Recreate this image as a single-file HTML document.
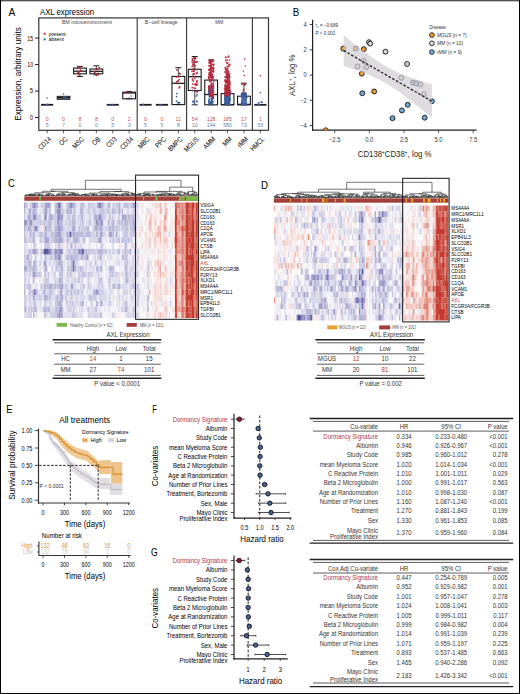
<!DOCTYPE html>
<html><head><meta charset="utf-8"><style>
html,body{margin:0;padding:0;background:#fff;}
body{width:520px;height:694px;overflow:hidden;position:relative;}
svg{position:absolute;left:0;top:0;display:block;}
svg text{font-family:"Liberation Sans", sans-serif;}
</style></head><body>
<svg width="520" height="694" viewBox="0 0 520 694">
<rect x="0" y="0" width="520" height="694" fill="#fff"/>
<rect x="0.00" y="0.00" width="520.00" height="1.00" fill="#505050"/>
<rect x="0.00" y="1.00" width="520.00" height="1.00" fill="#c4c4c4"/>
<rect x="0.00" y="0.00" width="1.00" height="694.00" fill="#000"/>
<rect x="519.00" y="0.00" width="1.00" height="694.00" fill="#000"/>
<rect x="0.00" y="693.00" width="520.00" height="1.00" fill="#000"/>
<text x="8.40" y="16.10" font-size="10.4" textLength="6.8" lengthAdjust="spacingAndGlyphs">A</text>
<text x="40.00" y="15.20" font-size="9" textLength="54" lengthAdjust="spacingAndGlyphs">AXL expression</text>
<text x="21.10" y="74.00" font-size="8.9" text-anchor="middle" textLength="93.5" lengthAdjust="spacingAndGlyphs" transform="rotate(-90 21.10 74.00)">Expression, arbitrary units</text>
<rect x="38.80" y="17.90" width="229.70" height="112.40" fill="none" stroke="#333" stroke-width="1.2"/>
<line x1="137.20" y1="17.90" x2="137.20" y2="130.30" stroke="#333" stroke-width="1.1"/>
<line x1="186.60" y1="17.90" x2="186.60" y2="130.30" stroke="#333" stroke-width="1.1"/>
<line x1="252.40" y1="17.90" x2="252.40" y2="130.30" stroke="#333" stroke-width="1.1"/>
<line x1="35.00" y1="38.10" x2="38.80" y2="38.10" stroke="#231f20" stroke-width="1.0"/>
<text x="33.10" y="40.55" font-size="6.8" text-anchor="end" textLength="5.8" lengthAdjust="spacingAndGlyphs">15</text>
<line x1="35.00" y1="64.57" x2="38.80" y2="64.57" stroke="#231f20" stroke-width="1.0"/>
<text x="33.10" y="67.01" font-size="6.8" text-anchor="end" textLength="5.8" lengthAdjust="spacingAndGlyphs">10</text>
<line x1="35.00" y1="91.03" x2="38.80" y2="91.03" stroke="#231f20" stroke-width="1.0"/>
<text x="33.10" y="93.48" font-size="6.8" text-anchor="end" textLength="3.0" lengthAdjust="spacingAndGlyphs">5</text>
<line x1="35.00" y1="117.50" x2="38.80" y2="117.50" stroke="#231f20" stroke-width="1.0"/>
<text x="33.10" y="119.95" font-size="6.8" text-anchor="end" textLength="3.0" lengthAdjust="spacingAndGlyphs">0</text>
<text x="87.00" y="24.42" font-size="5.6" text-anchor="middle" fill="#444" textLength="50" lengthAdjust="spacingAndGlyphs">BM microenvironment</text>
<text x="161.30" y="24.42" font-size="5.6" text-anchor="middle" fill="#444" textLength="33" lengthAdjust="spacingAndGlyphs">B−cell lineage</text>
<text x="219.30" y="24.42" font-size="5.6" text-anchor="middle" fill="#444" textLength="8" lengthAdjust="spacingAndGlyphs">MM</text>
<circle cx="44.60" cy="33.80" r="1.1" fill="#b8283c"/>
<text x="48.80" y="35.82" font-size="5.6" textLength="17" lengthAdjust="spacingAndGlyphs">present</text>
<circle cx="44.60" cy="39.40" r="1.1" fill="#3b5d9c"/>
<text x="48.80" y="41.42" font-size="5.6" textLength="15" lengthAdjust="spacingAndGlyphs">absent</text>
<rect x="41.05" y="103.90" width="12.20" height="1.80" fill="#231f20"/>
<circle cx="46.25" cy="104.52" r="0.85" fill="#3b5d9c"/>
<circle cx="47.92" cy="104.46" r="0.85" fill="#3b5d9c"/>
<rect x="106.65" y="103.90" width="12.20" height="1.80" fill="#231f20"/>
<circle cx="112.93" cy="104.69" r="0.85" fill="#3b5d9c"/>
<circle cx="110.50" cy="104.81" r="0.85" fill="#3b5d9c"/>
<rect x="139.45" y="103.90" width="12.20" height="1.80" fill="#231f20"/>
<circle cx="143.19" cy="104.75" r="0.85" fill="#3b5d9c"/>
<circle cx="143.36" cy="104.47" r="0.85" fill="#3b5d9c"/>
<rect x="155.85" y="103.90" width="12.20" height="1.80" fill="#231f20"/>
<circle cx="161.57" cy="105.06" r="0.85" fill="#3b5d9c"/>
<circle cx="160.03" cy="104.58" r="0.85" fill="#3b5d9c"/>
<circle cx="47.15" cy="98.00" r="0.8" fill="#3b5d9c"/>
<rect x="57.15" y="96.30" width="12.80" height="3.00" fill="#6a6a6a" stroke="#1a1a1a" stroke-width="0.9"/>
<line x1="57.15" y1="97.60" x2="69.95" y2="97.60" stroke="#231f20" stroke-width="1.1"/>
<circle cx="63.55" cy="94.00" r="0.8" fill="#3b5d9c"/>
<circle cx="64.20" cy="98.87" r="0.85" fill="#3b5d9c"/>
<circle cx="63.94" cy="97.49" r="0.85" fill="#3b5d9c"/>
<circle cx="65.98" cy="96.62" r="0.85" fill="#3b5d9c"/>
<circle cx="65.38" cy="97.22" r="0.85" fill="#3b5d9c"/>
<line x1="79.95" y1="76.50" x2="79.95" y2="73.80" stroke="#231f20" stroke-width="0.8"/>
<line x1="79.95" y1="68.10" x2="79.95" y2="66.40" stroke="#231f20" stroke-width="0.8"/>
<line x1="76.95" y1="66.40" x2="82.95" y2="66.40" stroke="#231f20" stroke-width="1.0"/>
<line x1="76.95" y1="76.50" x2="82.95" y2="76.50" stroke="#231f20" stroke-width="1.0"/>
<rect x="73.55" y="68.10" width="12.80" height="5.70" fill="none" stroke="#1a1a1a" stroke-width="1.1"/>
<line x1="73.55" y1="71.20" x2="86.35" y2="71.20" stroke="#231f20" stroke-width="1.3"/>
<circle cx="77.83" cy="67.68" r="0.9" fill="#b8283c"/>
<circle cx="78.81" cy="74.66" r="0.9" fill="#b8283c"/>
<circle cx="78.05" cy="72.32" r="0.9" fill="#b8283c"/>
<circle cx="80.78" cy="70.22" r="0.9" fill="#b8283c"/>
<circle cx="80.23" cy="67.13" r="0.9" fill="#b8283c"/>
<circle cx="77.33" cy="68.56" r="0.9" fill="#b8283c"/>
<circle cx="81.02" cy="70.78" r="0.9" fill="#b8283c"/>
<circle cx="78.84" cy="72.36" r="0.9" fill="#b8283c"/>
<line x1="96.35" y1="74.80" x2="96.35" y2="73.80" stroke="#231f20" stroke-width="0.8"/>
<line x1="96.35" y1="69.00" x2="96.35" y2="65.80" stroke="#231f20" stroke-width="0.8"/>
<line x1="93.35" y1="65.80" x2="99.35" y2="65.80" stroke="#231f20" stroke-width="1.0"/>
<line x1="93.35" y1="74.80" x2="99.35" y2="74.80" stroke="#231f20" stroke-width="1.0"/>
<rect x="89.95" y="69.00" width="12.80" height="4.80" fill="none" stroke="#1a1a1a" stroke-width="1.1"/>
<line x1="89.95" y1="71.40" x2="102.75" y2="71.40" stroke="#231f20" stroke-width="1.3"/>
<circle cx="96.07" cy="69.50" r="0.9" fill="#b8283c"/>
<circle cx="98.10" cy="73.49" r="0.9" fill="#b8283c"/>
<circle cx="94.83" cy="72.24" r="0.9" fill="#b8283c"/>
<circle cx="96.50" cy="75.25" r="0.9" fill="#b8283c"/>
<circle cx="97.72" cy="69.38" r="0.9" fill="#b8283c"/>
<circle cx="99.21" cy="67.68" r="0.9" fill="#b8283c"/>
<circle cx="95.86" cy="74.07" r="0.9" fill="#b8283c"/>
<circle cx="94.28" cy="71.39" r="0.9" fill="#b8283c"/>
<line x1="129.15" y1="98.80" x2="129.15" y2="98.80" stroke="#231f20" stroke-width="0.8"/>
<line x1="129.15" y1="92.20" x2="129.15" y2="91.60" stroke="#231f20" stroke-width="0.8"/>
<line x1="126.15" y1="91.60" x2="132.15" y2="91.60" stroke="#231f20" stroke-width="1.0"/>
<line x1="126.15" y1="98.80" x2="132.15" y2="98.80" stroke="#231f20" stroke-width="1.0"/>
<rect x="122.75" y="92.20" width="12.80" height="6.60" fill="none" stroke="#1a1a1a" stroke-width="1.1"/>
<line x1="122.75" y1="93.00" x2="135.55" y2="93.00" stroke="#231f20" stroke-width="1.3"/>
<circle cx="126.80" cy="92.60" r="0.85" fill="#b8283c"/>
<circle cx="130.50" cy="92.49" r="0.85" fill="#b8283c"/>
<circle cx="129.15" cy="98.00" r="0.8" fill="#3b5d9c"/>
<circle cx="131.15" cy="96.00" r="0.8" fill="#3b5d9c"/>
<line x1="178.35" y1="104.60" x2="178.35" y2="104.60" stroke="#231f20" stroke-width="0.8"/>
<line x1="178.35" y1="76.40" x2="178.35" y2="67.70" stroke="#231f20" stroke-width="0.8"/>
<line x1="175.35" y1="67.70" x2="181.35" y2="67.70" stroke="#231f20" stroke-width="1.0"/>
<line x1="175.35" y1="104.60" x2="181.35" y2="104.60" stroke="#231f20" stroke-width="1.0"/>
<rect x="171.95" y="76.40" width="12.80" height="28.20" fill="none" stroke="#1a1a1a" stroke-width="1.1"/>
<line x1="171.95" y1="83.30" x2="184.75" y2="83.30" stroke="#231f20" stroke-width="1.3"/>
<circle cx="179.95" cy="73.93" r="0.85" fill="#b8283c"/>
<circle cx="179.18" cy="79.68" r="0.85" fill="#b8283c"/>
<circle cx="178.69" cy="76.85" r="0.85" fill="#b8283c"/>
<circle cx="179.79" cy="86.87" r="0.85" fill="#b8283c"/>
<circle cx="178.24" cy="81.12" r="0.85" fill="#b8283c"/>
<circle cx="176.48" cy="81.88" r="0.85" fill="#b8283c"/>
<circle cx="178.98" cy="87.86" r="0.85" fill="#b8283c"/>
<circle cx="179.72" cy="73.33" r="0.85" fill="#b8283c"/>
<circle cx="177.86" cy="81.21" r="0.85" fill="#b8283c"/>
<circle cx="176.32" cy="76.96" r="0.85" fill="#b8283c"/>
<circle cx="176.94" cy="69.90" r="0.85" fill="#b8283c"/>
<circle cx="176.48" cy="101.22" r="0.85" fill="#3b5d9c"/>
<circle cx="176.77" cy="93.62" r="0.85" fill="#3b5d9c"/>
<circle cx="177.89" cy="102.72" r="0.85" fill="#3b5d9c"/>
<circle cx="176.57" cy="96.56" r="0.85" fill="#3b5d9c"/>
<circle cx="178.56" cy="102.90" r="0.85" fill="#3b5d9c"/>
<circle cx="179.71" cy="102.61" r="0.85" fill="#3b5d9c"/>
<line x1="194.75" y1="104.80" x2="194.75" y2="90.50" stroke="#231f20" stroke-width="0.8"/>
<line x1="194.75" y1="69.30" x2="194.75" y2="56.50" stroke="#231f20" stroke-width="0.8"/>
<line x1="191.75" y1="56.50" x2="197.75" y2="56.50" stroke="#231f20" stroke-width="1.0"/>
<line x1="191.75" y1="104.80" x2="197.75" y2="104.80" stroke="#231f20" stroke-width="1.0"/>
<rect x="188.35" y="69.30" width="12.80" height="21.20" fill="none" stroke="#1a1a1a" stroke-width="1.1"/>
<line x1="188.35" y1="76.70" x2="201.15" y2="76.70" stroke="#231f20" stroke-width="1.3"/>
<circle cx="193.54" cy="71.24" r="0.85" fill="#b8283c"/>
<circle cx="193.98" cy="87.89" r="0.85" fill="#b8283c"/>
<circle cx="197.24" cy="61.86" r="0.85" fill="#b8283c"/>
<circle cx="192.99" cy="64.73" r="0.85" fill="#b8283c"/>
<circle cx="193.30" cy="73.72" r="0.85" fill="#b8283c"/>
<circle cx="195.23" cy="65.83" r="0.85" fill="#b8283c"/>
<circle cx="192.05" cy="71.37" r="0.85" fill="#b8283c"/>
<circle cx="194.04" cy="76.61" r="0.85" fill="#b8283c"/>
<circle cx="197.21" cy="81.01" r="0.85" fill="#b8283c"/>
<circle cx="194.83" cy="78.42" r="0.85" fill="#b8283c"/>
<circle cx="195.71" cy="58.42" r="0.85" fill="#b8283c"/>
<circle cx="196.92" cy="84.19" r="0.85" fill="#b8283c"/>
<circle cx="196.79" cy="84.82" r="0.85" fill="#b8283c"/>
<circle cx="194.16" cy="70.66" r="0.85" fill="#b8283c"/>
<circle cx="192.59" cy="79.02" r="0.85" fill="#b8283c"/>
<circle cx="192.37" cy="58.89" r="0.85" fill="#b8283c"/>
<circle cx="193.17" cy="62.26" r="0.85" fill="#b8283c"/>
<circle cx="193.88" cy="58.37" r="0.85" fill="#b8283c"/>
<circle cx="192.03" cy="61.87" r="0.85" fill="#b8283c"/>
<circle cx="192.58" cy="69.41" r="0.85" fill="#b8283c"/>
<circle cx="192.17" cy="87.54" r="0.85" fill="#b8283c"/>
<circle cx="195.37" cy="61.77" r="0.85" fill="#b8283c"/>
<circle cx="193.40" cy="68.83" r="0.85" fill="#b8283c"/>
<circle cx="194.01" cy="60.86" r="0.85" fill="#b8283c"/>
<circle cx="196.65" cy="91.76" r="0.85" fill="#b8283c"/>
<circle cx="194.56" cy="73.68" r="0.85" fill="#b8283c"/>
<circle cx="192.50" cy="60.13" r="0.85" fill="#b8283c"/>
<circle cx="193.89" cy="65.90" r="0.85" fill="#b8283c"/>
<circle cx="196.54" cy="62.23" r="0.85" fill="#b8283c"/>
<circle cx="192.16" cy="90.26" r="0.85" fill="#b8283c"/>
<circle cx="194.90" cy="61.70" r="0.85" fill="#b8283c"/>
<circle cx="194.98" cy="57.46" r="0.85" fill="#b8283c"/>
<circle cx="194.90" cy="91.24" r="0.85" fill="#b8283c"/>
<circle cx="196.73" cy="81.21" r="0.85" fill="#b8283c"/>
<circle cx="193.45" cy="69.52" r="0.85" fill="#b8283c"/>
<circle cx="192.94" cy="83.90" r="0.85" fill="#b8283c"/>
<circle cx="194.93" cy="84.16" r="0.85" fill="#b8283c"/>
<circle cx="193.82" cy="64.42" r="0.85" fill="#b8283c"/>
<circle cx="196.44" cy="91.46" r="0.85" fill="#b8283c"/>
<circle cx="196.67" cy="85.12" r="0.85" fill="#b8283c"/>
<circle cx="196.48" cy="82.77" r="0.85" fill="#b8283c"/>
<circle cx="193.26" cy="74.88" r="0.85" fill="#b8283c"/>
<circle cx="193.96" cy="57.53" r="0.85" fill="#b8283c"/>
<circle cx="192.18" cy="66.42" r="0.85" fill="#b8283c"/>
<circle cx="193.44" cy="81.08" r="0.85" fill="#b8283c"/>
<circle cx="197.23" cy="72.38" r="0.85" fill="#b8283c"/>
<circle cx="197.13" cy="91.58" r="0.85" fill="#b8283c"/>
<circle cx="197.23" cy="69.44" r="0.85" fill="#b8283c"/>
<circle cx="193.23" cy="64.55" r="0.85" fill="#b8283c"/>
<circle cx="193.10" cy="63.76" r="0.85" fill="#b8283c"/>
<circle cx="195.42" cy="88.46" r="0.85" fill="#b8283c"/>
<circle cx="196.60" cy="73.52" r="0.85" fill="#b8283c"/>
<circle cx="195.58" cy="84.89" r="0.85" fill="#b8283c"/>
<circle cx="192.49" cy="79.95" r="0.85" fill="#b8283c"/>
<circle cx="196.84" cy="101.14" r="0.85" fill="#3b5d9c"/>
<circle cx="196.03" cy="96.03" r="0.85" fill="#3b5d9c"/>
<circle cx="193.11" cy="101.26" r="0.85" fill="#3b5d9c"/>
<circle cx="193.90" cy="101.45" r="0.85" fill="#3b5d9c"/>
<circle cx="197.16" cy="94.65" r="0.85" fill="#3b5d9c"/>
<circle cx="194.25" cy="103.91" r="0.85" fill="#3b5d9c"/>
<circle cx="195.90" cy="90.86" r="0.85" fill="#3b5d9c"/>
<circle cx="192.85" cy="90.54" r="0.85" fill="#3b5d9c"/>
<circle cx="196.81" cy="101.55" r="0.85" fill="#3b5d9c"/>
<circle cx="192.95" cy="101.89" r="0.85" fill="#3b5d9c"/>
<line x1="211.15" y1="104.80" x2="211.15" y2="104.80" stroke="#231f20" stroke-width="0.8"/>
<line x1="211.15" y1="80.10" x2="211.15" y2="59.90" stroke="#231f20" stroke-width="0.8"/>
<line x1="208.15" y1="59.90" x2="214.15" y2="59.90" stroke="#231f20" stroke-width="1.0"/>
<line x1="208.15" y1="104.80" x2="214.15" y2="104.80" stroke="#231f20" stroke-width="1.0"/>
<rect x="204.75" y="80.10" width="12.80" height="24.70" fill="none" stroke="#1a1a1a" stroke-width="1.1"/>
<line x1="204.75" y1="94.50" x2="217.55" y2="94.50" stroke="#231f20" stroke-width="1.3"/>
<circle cx="213.60" cy="98.36" r="0.7" fill="#3b5d9c"/>
<circle cx="210.39" cy="96.31" r="0.7" fill="#3b5d9c"/>
<circle cx="209.27" cy="86.27" r="0.7" fill="#3b5d9c"/>
<circle cx="213.55" cy="98.21" r="0.7" fill="#3b5d9c"/>
<circle cx="211.29" cy="103.55" r="0.7" fill="#3b5d9c"/>
<circle cx="210.81" cy="102.39" r="0.7" fill="#3b5d9c"/>
<circle cx="212.81" cy="89.97" r="0.7" fill="#3b5d9c"/>
<circle cx="209.88" cy="91.51" r="0.7" fill="#3b5d9c"/>
<circle cx="209.83" cy="97.03" r="0.7" fill="#3b5d9c"/>
<circle cx="209.92" cy="93.88" r="0.7" fill="#3b5d9c"/>
<circle cx="209.27" cy="103.11" r="0.7" fill="#3b5d9c"/>
<circle cx="210.40" cy="94.61" r="0.7" fill="#3b5d9c"/>
<circle cx="211.58" cy="103.00" r="0.7" fill="#3b5d9c"/>
<circle cx="210.75" cy="103.25" r="0.7" fill="#3b5d9c"/>
<circle cx="211.16" cy="96.00" r="0.7" fill="#3b5d9c"/>
<circle cx="211.27" cy="86.35" r="0.7" fill="#3b5d9c"/>
<circle cx="210.84" cy="89.44" r="0.7" fill="#3b5d9c"/>
<circle cx="208.62" cy="101.02" r="0.7" fill="#3b5d9c"/>
<circle cx="209.48" cy="94.90" r="0.7" fill="#3b5d9c"/>
<circle cx="212.30" cy="96.46" r="0.7" fill="#3b5d9c"/>
<circle cx="210.26" cy="95.74" r="0.7" fill="#3b5d9c"/>
<circle cx="211.43" cy="100.74" r="0.7" fill="#3b5d9c"/>
<circle cx="209.14" cy="96.53" r="0.7" fill="#3b5d9c"/>
<circle cx="209.87" cy="91.21" r="0.7" fill="#3b5d9c"/>
<circle cx="212.54" cy="95.55" r="0.7" fill="#3b5d9c"/>
<circle cx="211.46" cy="100.29" r="0.7" fill="#3b5d9c"/>
<circle cx="213.25" cy="94.33" r="0.7" fill="#3b5d9c"/>
<circle cx="211.72" cy="95.50" r="0.7" fill="#3b5d9c"/>
<circle cx="211.21" cy="99.02" r="0.7" fill="#3b5d9c"/>
<circle cx="210.91" cy="96.03" r="0.7" fill="#3b5d9c"/>
<circle cx="211.04" cy="103.70" r="0.7" fill="#3b5d9c"/>
<circle cx="212.17" cy="102.48" r="0.7" fill="#3b5d9c"/>
<circle cx="213.41" cy="90.88" r="0.7" fill="#3b5d9c"/>
<circle cx="211.45" cy="103.73" r="0.7" fill="#3b5d9c"/>
<circle cx="212.88" cy="88.58" r="0.7" fill="#3b5d9c"/>
<circle cx="209.22" cy="94.31" r="0.7" fill="#3b5d9c"/>
<circle cx="208.97" cy="90.52" r="0.7" fill="#3b5d9c"/>
<circle cx="208.97" cy="98.59" r="0.7" fill="#3b5d9c"/>
<circle cx="212.60" cy="102.86" r="0.7" fill="#3b5d9c"/>
<circle cx="209.39" cy="99.46" r="0.7" fill="#3b5d9c"/>
<circle cx="211.97" cy="88.69" r="0.7" fill="#3b5d9c"/>
<circle cx="213.10" cy="104.19" r="0.7" fill="#3b5d9c"/>
<circle cx="209.72" cy="103.91" r="0.7" fill="#3b5d9c"/>
<circle cx="210.63" cy="95.16" r="0.7" fill="#3b5d9c"/>
<circle cx="213.65" cy="101.65" r="0.7" fill="#3b5d9c"/>
<circle cx="209.42" cy="94.11" r="0.7" fill="#3b5d9c"/>
<circle cx="211.23" cy="92.38" r="0.7" fill="#3b5d9c"/>
<circle cx="209.60" cy="91.99" r="0.7" fill="#3b5d9c"/>
<circle cx="212.28" cy="86.37" r="0.7" fill="#3b5d9c"/>
<circle cx="211.43" cy="94.28" r="0.7" fill="#3b5d9c"/>
<circle cx="208.69" cy="92.23" r="0.7" fill="#3b5d9c"/>
<circle cx="211.78" cy="95.63" r="0.7" fill="#3b5d9c"/>
<circle cx="208.93" cy="104.52" r="0.7" fill="#3b5d9c"/>
<circle cx="212.62" cy="104.27" r="0.7" fill="#3b5d9c"/>
<circle cx="209.13" cy="90.99" r="0.7" fill="#3b5d9c"/>
<circle cx="208.80" cy="100.65" r="0.7" fill="#3b5d9c"/>
<circle cx="209.98" cy="88.44" r="0.7" fill="#3b5d9c"/>
<circle cx="210.75" cy="103.13" r="0.7" fill="#3b5d9c"/>
<circle cx="212.78" cy="90.86" r="0.7" fill="#3b5d9c"/>
<circle cx="209.36" cy="103.28" r="0.7" fill="#3b5d9c"/>
<circle cx="211.51" cy="99.17" r="0.7" fill="#3b5d9c"/>
<circle cx="209.06" cy="87.08" r="0.7" fill="#3b5d9c"/>
<circle cx="212.11" cy="94.00" r="0.7" fill="#3b5d9c"/>
<circle cx="208.97" cy="103.64" r="0.7" fill="#3b5d9c"/>
<circle cx="211.84" cy="101.07" r="0.7" fill="#3b5d9c"/>
<circle cx="209.03" cy="102.10" r="0.7" fill="#3b5d9c"/>
<circle cx="208.94" cy="102.22" r="0.7" fill="#3b5d9c"/>
<circle cx="210.91" cy="92.38" r="0.7" fill="#3b5d9c"/>
<circle cx="211.42" cy="103.42" r="0.7" fill="#3b5d9c"/>
<circle cx="209.97" cy="88.43" r="0.7" fill="#3b5d9c"/>
<circle cx="211.29" cy="90.48" r="0.7" fill="#3b5d9c"/>
<circle cx="209.16" cy="89.04" r="0.7" fill="#3b5d9c"/>
<circle cx="208.86" cy="89.79" r="0.7" fill="#3b5d9c"/>
<circle cx="210.19" cy="91.73" r="0.7" fill="#3b5d9c"/>
<circle cx="212.47" cy="91.45" r="0.7" fill="#3b5d9c"/>
<circle cx="211.15" cy="89.34" r="0.7" fill="#3b5d9c"/>
<circle cx="210.37" cy="86.34" r="0.7" fill="#3b5d9c"/>
<circle cx="209.88" cy="86.29" r="0.7" fill="#3b5d9c"/>
<circle cx="212.34" cy="96.36" r="0.7" fill="#3b5d9c"/>
<circle cx="209.57" cy="94.93" r="0.7" fill="#3b5d9c"/>
<circle cx="213.37" cy="88.00" r="0.7" fill="#3b5d9c"/>
<circle cx="212.78" cy="94.12" r="0.7" fill="#3b5d9c"/>
<circle cx="211.12" cy="101.69" r="0.7" fill="#3b5d9c"/>
<circle cx="210.60" cy="95.53" r="0.7" fill="#3b5d9c"/>
<circle cx="212.11" cy="104.47" r="0.7" fill="#3b5d9c"/>
<circle cx="210.35" cy="101.65" r="0.7" fill="#3b5d9c"/>
<circle cx="212.20" cy="97.96" r="0.7" fill="#3b5d9c"/>
<circle cx="210.66" cy="92.53" r="0.7" fill="#3b5d9c"/>
<circle cx="208.88" cy="88.44" r="0.7" fill="#3b5d9c"/>
<circle cx="208.96" cy="99.93" r="0.7" fill="#3b5d9c"/>
<circle cx="209.90" cy="89.07" r="0.7" fill="#3b5d9c"/>
<circle cx="209.03" cy="101.82" r="0.7" fill="#3b5d9c"/>
<circle cx="213.04" cy="98.61" r="0.7" fill="#3b5d9c"/>
<circle cx="210.04" cy="90.55" r="0.7" fill="#3b5d9c"/>
<circle cx="210.09" cy="94.64" r="0.7" fill="#3b5d9c"/>
<circle cx="209.40" cy="94.38" r="0.7" fill="#3b5d9c"/>
<circle cx="209.94" cy="104.08" r="0.7" fill="#3b5d9c"/>
<circle cx="213.56" cy="96.28" r="0.7" fill="#3b5d9c"/>
<circle cx="209.85" cy="104.15" r="0.7" fill="#3b5d9c"/>
<circle cx="210.18" cy="92.70" r="0.7" fill="#3b5d9c"/>
<circle cx="208.61" cy="93.17" r="0.7" fill="#3b5d9c"/>
<circle cx="211.02" cy="95.45" r="0.7" fill="#3b5d9c"/>
<circle cx="209.62" cy="95.49" r="0.7" fill="#3b5d9c"/>
<circle cx="208.63" cy="90.97" r="0.7" fill="#3b5d9c"/>
<circle cx="209.06" cy="93.51" r="0.7" fill="#3b5d9c"/>
<circle cx="208.81" cy="86.42" r="0.7" fill="#3b5d9c"/>
<circle cx="210.15" cy="90.38" r="0.7" fill="#3b5d9c"/>
<circle cx="211.59" cy="95.95" r="0.7" fill="#3b5d9c"/>
<circle cx="212.43" cy="98.36" r="0.7" fill="#3b5d9c"/>
<circle cx="212.25" cy="102.53" r="0.7" fill="#3b5d9c"/>
<circle cx="210.59" cy="92.13" r="0.7" fill="#3b5d9c"/>
<circle cx="213.62" cy="88.81" r="0.7" fill="#3b5d9c"/>
<circle cx="212.29" cy="98.09" r="0.7" fill="#3b5d9c"/>
<circle cx="208.82" cy="101.70" r="0.7" fill="#3b5d9c"/>
<circle cx="213.15" cy="97.79" r="0.7" fill="#3b5d9c"/>
<circle cx="212.34" cy="101.27" r="0.7" fill="#3b5d9c"/>
<circle cx="209.31" cy="95.85" r="0.7" fill="#3b5d9c"/>
<circle cx="211.17" cy="101.70" r="0.7" fill="#3b5d9c"/>
<circle cx="212.70" cy="101.54" r="0.7" fill="#3b5d9c"/>
<circle cx="211.58" cy="102.79" r="0.7" fill="#3b5d9c"/>
<circle cx="212.08" cy="99.03" r="0.7" fill="#3b5d9c"/>
<circle cx="209.77" cy="86.59" r="0.7" fill="#3b5d9c"/>
<circle cx="209.28" cy="92.78" r="0.7" fill="#3b5d9c"/>
<circle cx="209.14" cy="101.71" r="0.7" fill="#3b5d9c"/>
<circle cx="211.45" cy="97.80" r="0.7" fill="#3b5d9c"/>
<circle cx="211.79" cy="98.80" r="0.7" fill="#3b5d9c"/>
<circle cx="211.10" cy="86.06" r="0.7" fill="#3b5d9c"/>
<circle cx="212.67" cy="100.07" r="0.7" fill="#3b5d9c"/>
<circle cx="211.17" cy="96.06" r="0.7" fill="#3b5d9c"/>
<circle cx="211.96" cy="87.24" r="0.7" fill="#3b5d9c"/>
<circle cx="212.36" cy="90.74" r="0.7" fill="#3b5d9c"/>
<circle cx="208.98" cy="90.99" r="0.7" fill="#3b5d9c"/>
<circle cx="212.32" cy="89.86" r="0.7" fill="#3b5d9c"/>
<circle cx="212.37" cy="104.34" r="0.7" fill="#3b5d9c"/>
<circle cx="211.12" cy="93.19" r="0.7" fill="#3b5d9c"/>
<circle cx="211.04" cy="98.85" r="0.7" fill="#3b5d9c"/>
<circle cx="212.51" cy="97.60" r="0.7" fill="#3b5d9c"/>
<circle cx="211.88" cy="87.46" r="0.7" fill="#3b5d9c"/>
<circle cx="209.35" cy="90.77" r="0.7" fill="#3b5d9c"/>
<circle cx="212.39" cy="91.72" r="0.7" fill="#3b5d9c"/>
<circle cx="211.50" cy="86.23" r="0.7" fill="#3b5d9c"/>
<circle cx="208.91" cy="91.05" r="0.7" fill="#3b5d9c"/>
<circle cx="212.03" cy="99.01" r="0.7" fill="#3b5d9c"/>
<circle cx="212.05" cy="91.47" r="0.7" fill="#3b5d9c"/>
<circle cx="211.23" cy="77.14" r="0.85" fill="#b8283c"/>
<circle cx="210.98" cy="64.30" r="0.85" fill="#b8283c"/>
<circle cx="213.16" cy="67.29" r="0.85" fill="#b8283c"/>
<circle cx="213.59" cy="94.64" r="0.85" fill="#b8283c"/>
<circle cx="208.69" cy="76.93" r="0.85" fill="#b8283c"/>
<circle cx="212.78" cy="95.82" r="0.85" fill="#b8283c"/>
<circle cx="210.89" cy="69.87" r="0.85" fill="#b8283c"/>
<circle cx="209.67" cy="94.98" r="0.85" fill="#b8283c"/>
<circle cx="209.67" cy="81.47" r="0.85" fill="#b8283c"/>
<circle cx="209.32" cy="79.34" r="0.85" fill="#b8283c"/>
<circle cx="213.46" cy="64.82" r="0.85" fill="#b8283c"/>
<circle cx="212.78" cy="78.77" r="0.85" fill="#b8283c"/>
<circle cx="213.12" cy="85.99" r="0.85" fill="#b8283c"/>
<circle cx="209.78" cy="93.20" r="0.85" fill="#b8283c"/>
<circle cx="211.08" cy="60.82" r="0.85" fill="#b8283c"/>
<circle cx="208.62" cy="78.14" r="0.85" fill="#b8283c"/>
<circle cx="210.90" cy="71.10" r="0.85" fill="#b8283c"/>
<circle cx="209.32" cy="72.66" r="0.85" fill="#b8283c"/>
<circle cx="210.21" cy="91.07" r="0.85" fill="#b8283c"/>
<circle cx="208.61" cy="87.75" r="0.85" fill="#b8283c"/>
<circle cx="212.88" cy="64.35" r="0.85" fill="#b8283c"/>
<circle cx="213.32" cy="86.35" r="0.85" fill="#b8283c"/>
<circle cx="213.20" cy="70.65" r="0.85" fill="#b8283c"/>
<circle cx="210.50" cy="74.48" r="0.85" fill="#b8283c"/>
<circle cx="213.69" cy="81.76" r="0.85" fill="#b8283c"/>
<circle cx="210.44" cy="75.78" r="0.85" fill="#b8283c"/>
<circle cx="210.00" cy="61.69" r="0.85" fill="#b8283c"/>
<circle cx="209.12" cy="90.87" r="0.85" fill="#b8283c"/>
<circle cx="210.06" cy="94.61" r="0.85" fill="#b8283c"/>
<circle cx="209.87" cy="69.76" r="0.85" fill="#b8283c"/>
<circle cx="211.21" cy="66.94" r="0.85" fill="#b8283c"/>
<circle cx="210.50" cy="95.37" r="0.85" fill="#b8283c"/>
<circle cx="213.11" cy="90.02" r="0.85" fill="#b8283c"/>
<circle cx="211.82" cy="93.79" r="0.85" fill="#b8283c"/>
<circle cx="213.40" cy="80.28" r="0.85" fill="#b8283c"/>
<circle cx="212.27" cy="61.74" r="0.85" fill="#b8283c"/>
<circle cx="212.33" cy="76.63" r="0.85" fill="#b8283c"/>
<circle cx="212.44" cy="83.81" r="0.85" fill="#b8283c"/>
<circle cx="210.06" cy="61.72" r="0.85" fill="#b8283c"/>
<circle cx="213.33" cy="64.62" r="0.85" fill="#b8283c"/>
<circle cx="211.01" cy="72.65" r="0.85" fill="#b8283c"/>
<circle cx="210.12" cy="87.32" r="0.85" fill="#b8283c"/>
<circle cx="213.58" cy="69.55" r="0.85" fill="#b8283c"/>
<circle cx="211.95" cy="71.06" r="0.85" fill="#b8283c"/>
<circle cx="211.44" cy="74.53" r="0.85" fill="#b8283c"/>
<circle cx="209.45" cy="65.90" r="0.85" fill="#b8283c"/>
<circle cx="209.66" cy="93.51" r="0.85" fill="#b8283c"/>
<circle cx="211.14" cy="68.06" r="0.85" fill="#b8283c"/>
<circle cx="213.22" cy="96.87" r="0.85" fill="#b8283c"/>
<circle cx="210.89" cy="65.08" r="0.85" fill="#b8283c"/>
<circle cx="209.58" cy="63.27" r="0.85" fill="#b8283c"/>
<circle cx="210.34" cy="63.28" r="0.85" fill="#b8283c"/>
<circle cx="209.82" cy="69.49" r="0.85" fill="#b8283c"/>
<circle cx="211.51" cy="92.82" r="0.85" fill="#b8283c"/>
<circle cx="212.42" cy="75.21" r="0.85" fill="#b8283c"/>
<circle cx="210.71" cy="79.35" r="0.85" fill="#b8283c"/>
<circle cx="210.52" cy="72.45" r="0.85" fill="#b8283c"/>
<circle cx="208.92" cy="70.20" r="0.85" fill="#b8283c"/>
<circle cx="213.54" cy="64.57" r="0.85" fill="#b8283c"/>
<circle cx="211.17" cy="83.26" r="0.85" fill="#b8283c"/>
<circle cx="213.00" cy="67.91" r="0.85" fill="#b8283c"/>
<circle cx="209.98" cy="69.12" r="0.85" fill="#b8283c"/>
<circle cx="210.64" cy="76.44" r="0.85" fill="#b8283c"/>
<circle cx="213.47" cy="91.39" r="0.85" fill="#b8283c"/>
<circle cx="213.05" cy="60.71" r="0.85" fill="#b8283c"/>
<circle cx="208.76" cy="86.22" r="0.85" fill="#b8283c"/>
<circle cx="213.17" cy="77.46" r="0.85" fill="#b8283c"/>
<circle cx="211.59" cy="59.91" r="0.85" fill="#b8283c"/>
<circle cx="210.60" cy="94.29" r="0.85" fill="#b8283c"/>
<circle cx="212.81" cy="91.64" r="0.85" fill="#b8283c"/>
<circle cx="213.56" cy="69.12" r="0.85" fill="#b8283c"/>
<circle cx="209.16" cy="65.63" r="0.85" fill="#b8283c"/>
<circle cx="211.26" cy="85.20" r="0.85" fill="#b8283c"/>
<circle cx="213.40" cy="86.68" r="0.85" fill="#b8283c"/>
<circle cx="211.90" cy="88.27" r="0.85" fill="#b8283c"/>
<circle cx="210.93" cy="80.36" r="0.85" fill="#b8283c"/>
<circle cx="208.80" cy="88.92" r="0.85" fill="#b8283c"/>
<circle cx="209.79" cy="94.03" r="0.85" fill="#b8283c"/>
<circle cx="211.89" cy="71.17" r="0.85" fill="#b8283c"/>
<circle cx="209.25" cy="69.24" r="0.85" fill="#b8283c"/>
<circle cx="211.85" cy="85.82" r="0.85" fill="#b8283c"/>
<circle cx="209.17" cy="62.51" r="0.85" fill="#b8283c"/>
<circle cx="211.27" cy="81.53" r="0.85" fill="#b8283c"/>
<circle cx="210.58" cy="68.19" r="0.85" fill="#b8283c"/>
<circle cx="211.67" cy="60.29" r="0.85" fill="#b8283c"/>
<circle cx="210.14" cy="76.99" r="0.85" fill="#b8283c"/>
<circle cx="213.49" cy="83.81" r="0.85" fill="#b8283c"/>
<circle cx="213.11" cy="77.53" r="0.85" fill="#b8283c"/>
<circle cx="209.80" cy="69.07" r="0.85" fill="#b8283c"/>
<circle cx="213.50" cy="86.04" r="0.85" fill="#b8283c"/>
<circle cx="210.17" cy="60.71" r="0.85" fill="#b8283c"/>
<circle cx="211.14" cy="84.92" r="0.85" fill="#b8283c"/>
<circle cx="210.74" cy="69.44" r="0.85" fill="#b8283c"/>
<circle cx="212.00" cy="94.22" r="0.85" fill="#b8283c"/>
<circle cx="209.76" cy="61.17" r="0.85" fill="#b8283c"/>
<circle cx="210.32" cy="75.50" r="0.85" fill="#b8283c"/>
<circle cx="212.08" cy="67.25" r="0.85" fill="#b8283c"/>
<circle cx="212.67" cy="87.32" r="0.85" fill="#b8283c"/>
<circle cx="211.17" cy="67.51" r="0.85" fill="#b8283c"/>
<circle cx="213.55" cy="71.46" r="0.85" fill="#b8283c"/>
<circle cx="212.78" cy="68.46" r="0.85" fill="#b8283c"/>
<circle cx="209.73" cy="88.11" r="0.85" fill="#b8283c"/>
<circle cx="210.10" cy="95.22" r="0.85" fill="#b8283c"/>
<circle cx="211.13" cy="66.85" r="0.85" fill="#b8283c"/>
<circle cx="209.74" cy="75.37" r="0.85" fill="#b8283c"/>
<circle cx="211.99" cy="95.10" r="0.85" fill="#b8283c"/>
<circle cx="209.35" cy="74.50" r="0.85" fill="#b8283c"/>
<circle cx="209.69" cy="96.04" r="0.85" fill="#b8283c"/>
<circle cx="209.32" cy="61.82" r="0.85" fill="#b8283c"/>
<circle cx="208.91" cy="74.49" r="0.85" fill="#b8283c"/>
<circle cx="213.18" cy="92.68" r="0.85" fill="#b8283c"/>
<circle cx="212.34" cy="96.91" r="0.85" fill="#b8283c"/>
<circle cx="213.35" cy="72.11" r="0.85" fill="#b8283c"/>
<circle cx="209.55" cy="94.62" r="0.85" fill="#b8283c"/>
<circle cx="212.41" cy="61.08" r="0.85" fill="#b8283c"/>
<circle cx="211.99" cy="73.95" r="0.85" fill="#b8283c"/>
<circle cx="210.51" cy="72.21" r="0.85" fill="#b8283c"/>
<circle cx="209.46" cy="60.01" r="0.85" fill="#b8283c"/>
<circle cx="210.03" cy="72.94" r="0.85" fill="#b8283c"/>
<circle cx="213.47" cy="64.49" r="0.85" fill="#b8283c"/>
<circle cx="213.52" cy="67.59" r="0.85" fill="#b8283c"/>
<circle cx="210.42" cy="90.38" r="0.85" fill="#b8283c"/>
<circle cx="212.79" cy="75.94" r="0.85" fill="#b8283c"/>
<circle cx="208.85" cy="77.47" r="0.85" fill="#b8283c"/>
<circle cx="210.50" cy="94.01" r="0.85" fill="#b8283c"/>
<circle cx="209.58" cy="73.41" r="0.85" fill="#b8283c"/>
<circle cx="213.17" cy="61.02" r="0.85" fill="#b8283c"/>
<circle cx="210.70" cy="90.02" r="0.85" fill="#b8283c"/>
<line x1="227.55" y1="104.80" x2="227.55" y2="104.80" stroke="#231f20" stroke-width="0.8"/>
<line x1="227.55" y1="93.60" x2="227.55" y2="77.20" stroke="#231f20" stroke-width="0.8"/>
<line x1="224.55" y1="77.20" x2="230.55" y2="77.20" stroke="#231f20" stroke-width="1.0"/>
<line x1="224.55" y1="104.80" x2="230.55" y2="104.80" stroke="#231f20" stroke-width="1.0"/>
<rect x="221.15" y="93.60" width="12.80" height="11.20" fill="none" stroke="#1a1a1a" stroke-width="1.1"/>
<line x1="221.15" y1="104.60" x2="233.95" y2="104.60" stroke="#231f20" stroke-width="1.3"/>
<circle cx="229.00" cy="92.52" r="0.7" fill="#3b5d9c"/>
<circle cx="225.02" cy="92.80" r="0.7" fill="#3b5d9c"/>
<circle cx="229.84" cy="95.29" r="0.7" fill="#3b5d9c"/>
<circle cx="228.90" cy="103.50" r="0.7" fill="#3b5d9c"/>
<circle cx="226.67" cy="95.49" r="0.7" fill="#3b5d9c"/>
<circle cx="230.04" cy="99.90" r="0.7" fill="#3b5d9c"/>
<circle cx="226.26" cy="101.17" r="0.7" fill="#3b5d9c"/>
<circle cx="226.55" cy="95.53" r="0.7" fill="#3b5d9c"/>
<circle cx="224.85" cy="101.67" r="0.7" fill="#3b5d9c"/>
<circle cx="229.82" cy="100.11" r="0.7" fill="#3b5d9c"/>
<circle cx="229.96" cy="92.31" r="0.7" fill="#3b5d9c"/>
<circle cx="226.10" cy="98.08" r="0.7" fill="#3b5d9c"/>
<circle cx="230.03" cy="104.21" r="0.7" fill="#3b5d9c"/>
<circle cx="226.93" cy="95.21" r="0.7" fill="#3b5d9c"/>
<circle cx="227.17" cy="98.32" r="0.7" fill="#3b5d9c"/>
<circle cx="229.88" cy="94.34" r="0.7" fill="#3b5d9c"/>
<circle cx="229.20" cy="101.45" r="0.7" fill="#3b5d9c"/>
<circle cx="229.31" cy="101.89" r="0.7" fill="#3b5d9c"/>
<circle cx="228.13" cy="96.20" r="0.7" fill="#3b5d9c"/>
<circle cx="226.57" cy="96.63" r="0.7" fill="#3b5d9c"/>
<circle cx="229.09" cy="93.01" r="0.7" fill="#3b5d9c"/>
<circle cx="225.90" cy="101.64" r="0.7" fill="#3b5d9c"/>
<circle cx="226.18" cy="92.83" r="0.7" fill="#3b5d9c"/>
<circle cx="225.01" cy="99.07" r="0.7" fill="#3b5d9c"/>
<circle cx="226.60" cy="104.55" r="0.7" fill="#3b5d9c"/>
<circle cx="229.64" cy="104.64" r="0.7" fill="#3b5d9c"/>
<circle cx="226.27" cy="93.08" r="0.7" fill="#3b5d9c"/>
<circle cx="225.35" cy="98.38" r="0.7" fill="#3b5d9c"/>
<circle cx="228.69" cy="97.72" r="0.7" fill="#3b5d9c"/>
<circle cx="226.10" cy="97.34" r="0.7" fill="#3b5d9c"/>
<circle cx="228.20" cy="100.63" r="0.7" fill="#3b5d9c"/>
<circle cx="228.90" cy="102.84" r="0.7" fill="#3b5d9c"/>
<circle cx="228.44" cy="93.55" r="0.7" fill="#3b5d9c"/>
<circle cx="229.40" cy="95.76" r="0.7" fill="#3b5d9c"/>
<circle cx="227.91" cy="96.77" r="0.7" fill="#3b5d9c"/>
<circle cx="228.85" cy="94.55" r="0.7" fill="#3b5d9c"/>
<circle cx="226.18" cy="95.14" r="0.7" fill="#3b5d9c"/>
<circle cx="225.66" cy="103.32" r="0.7" fill="#3b5d9c"/>
<circle cx="227.98" cy="96.18" r="0.7" fill="#3b5d9c"/>
<circle cx="226.98" cy="104.70" r="0.7" fill="#3b5d9c"/>
<circle cx="227.59" cy="94.96" r="0.7" fill="#3b5d9c"/>
<circle cx="229.23" cy="100.36" r="0.7" fill="#3b5d9c"/>
<circle cx="230.22" cy="93.31" r="0.7" fill="#3b5d9c"/>
<circle cx="227.41" cy="102.48" r="0.7" fill="#3b5d9c"/>
<circle cx="229.40" cy="103.70" r="0.7" fill="#3b5d9c"/>
<circle cx="225.05" cy="95.76" r="0.7" fill="#3b5d9c"/>
<circle cx="225.48" cy="94.43" r="0.7" fill="#3b5d9c"/>
<circle cx="230.12" cy="99.46" r="0.7" fill="#3b5d9c"/>
<circle cx="229.89" cy="96.76" r="0.7" fill="#3b5d9c"/>
<circle cx="229.54" cy="97.75" r="0.7" fill="#3b5d9c"/>
<circle cx="226.24" cy="101.96" r="0.7" fill="#3b5d9c"/>
<circle cx="229.97" cy="93.35" r="0.7" fill="#3b5d9c"/>
<circle cx="228.07" cy="99.94" r="0.7" fill="#3b5d9c"/>
<circle cx="226.01" cy="96.72" r="0.7" fill="#3b5d9c"/>
<circle cx="225.60" cy="94.61" r="0.7" fill="#3b5d9c"/>
<circle cx="226.22" cy="99.67" r="0.7" fill="#3b5d9c"/>
<circle cx="228.37" cy="94.60" r="0.7" fill="#3b5d9c"/>
<circle cx="224.89" cy="96.19" r="0.7" fill="#3b5d9c"/>
<circle cx="228.52" cy="94.37" r="0.7" fill="#3b5d9c"/>
<circle cx="226.53" cy="94.60" r="0.7" fill="#3b5d9c"/>
<circle cx="229.16" cy="99.01" r="0.7" fill="#3b5d9c"/>
<circle cx="225.17" cy="93.30" r="0.7" fill="#3b5d9c"/>
<circle cx="226.98" cy="99.04" r="0.7" fill="#3b5d9c"/>
<circle cx="228.31" cy="93.17" r="0.7" fill="#3b5d9c"/>
<circle cx="225.72" cy="100.90" r="0.7" fill="#3b5d9c"/>
<circle cx="227.06" cy="95.63" r="0.7" fill="#3b5d9c"/>
<circle cx="226.50" cy="104.20" r="0.7" fill="#3b5d9c"/>
<circle cx="226.53" cy="99.25" r="0.7" fill="#3b5d9c"/>
<circle cx="226.77" cy="97.33" r="0.7" fill="#3b5d9c"/>
<circle cx="229.53" cy="104.76" r="0.7" fill="#3b5d9c"/>
<circle cx="226.81" cy="94.52" r="0.7" fill="#3b5d9c"/>
<circle cx="228.79" cy="94.61" r="0.7" fill="#3b5d9c"/>
<circle cx="224.86" cy="103.54" r="0.7" fill="#3b5d9c"/>
<circle cx="227.14" cy="102.50" r="0.7" fill="#3b5d9c"/>
<circle cx="227.04" cy="103.30" r="0.7" fill="#3b5d9c"/>
<circle cx="227.34" cy="94.08" r="0.7" fill="#3b5d9c"/>
<circle cx="224.91" cy="99.06" r="0.7" fill="#3b5d9c"/>
<circle cx="228.32" cy="103.65" r="0.7" fill="#3b5d9c"/>
<circle cx="225.31" cy="99.96" r="0.7" fill="#3b5d9c"/>
<circle cx="226.85" cy="98.46" r="0.7" fill="#3b5d9c"/>
<circle cx="225.62" cy="95.63" r="0.7" fill="#3b5d9c"/>
<circle cx="227.67" cy="103.85" r="0.7" fill="#3b5d9c"/>
<circle cx="225.42" cy="98.28" r="0.7" fill="#3b5d9c"/>
<circle cx="229.21" cy="104.38" r="0.7" fill="#3b5d9c"/>
<circle cx="225.90" cy="93.62" r="0.7" fill="#3b5d9c"/>
<circle cx="229.96" cy="104.49" r="0.7" fill="#3b5d9c"/>
<circle cx="227.46" cy="92.68" r="0.7" fill="#3b5d9c"/>
<circle cx="229.87" cy="96.97" r="0.7" fill="#3b5d9c"/>
<circle cx="229.75" cy="99.94" r="0.7" fill="#3b5d9c"/>
<circle cx="229.32" cy="94.05" r="0.7" fill="#3b5d9c"/>
<circle cx="229.10" cy="94.84" r="0.7" fill="#3b5d9c"/>
<circle cx="227.03" cy="102.83" r="0.7" fill="#3b5d9c"/>
<circle cx="229.34" cy="94.34" r="0.7" fill="#3b5d9c"/>
<circle cx="226.02" cy="97.12" r="0.7" fill="#3b5d9c"/>
<circle cx="227.65" cy="96.91" r="0.7" fill="#3b5d9c"/>
<circle cx="225.50" cy="95.16" r="0.7" fill="#3b5d9c"/>
<circle cx="228.77" cy="103.49" r="0.7" fill="#3b5d9c"/>
<circle cx="225.05" cy="99.20" r="0.7" fill="#3b5d9c"/>
<circle cx="228.95" cy="92.49" r="0.7" fill="#3b5d9c"/>
<circle cx="229.39" cy="93.51" r="0.7" fill="#3b5d9c"/>
<circle cx="228.09" cy="99.04" r="0.7" fill="#3b5d9c"/>
<circle cx="228.24" cy="95.92" r="0.7" fill="#3b5d9c"/>
<circle cx="227.12" cy="99.46" r="0.7" fill="#3b5d9c"/>
<circle cx="227.15" cy="100.43" r="0.7" fill="#3b5d9c"/>
<circle cx="227.26" cy="97.61" r="0.7" fill="#3b5d9c"/>
<circle cx="224.96" cy="99.92" r="0.7" fill="#3b5d9c"/>
<circle cx="227.49" cy="95.01" r="0.7" fill="#3b5d9c"/>
<circle cx="228.98" cy="101.98" r="0.7" fill="#3b5d9c"/>
<circle cx="227.32" cy="94.30" r="0.7" fill="#3b5d9c"/>
<circle cx="227.40" cy="93.37" r="0.7" fill="#3b5d9c"/>
<circle cx="225.53" cy="97.51" r="0.7" fill="#3b5d9c"/>
<circle cx="225.33" cy="97.66" r="0.7" fill="#3b5d9c"/>
<circle cx="227.61" cy="92.52" r="0.7" fill="#3b5d9c"/>
<circle cx="228.29" cy="93.05" r="0.7" fill="#3b5d9c"/>
<circle cx="228.82" cy="101.95" r="0.7" fill="#3b5d9c"/>
<circle cx="227.61" cy="92.69" r="0.7" fill="#3b5d9c"/>
<circle cx="227.57" cy="96.84" r="0.7" fill="#3b5d9c"/>
<circle cx="230.00" cy="93.74" r="0.7" fill="#3b5d9c"/>
<circle cx="229.49" cy="104.75" r="0.7" fill="#3b5d9c"/>
<circle cx="228.81" cy="102.43" r="0.7" fill="#3b5d9c"/>
<circle cx="225.88" cy="104.57" r="0.7" fill="#3b5d9c"/>
<circle cx="227.51" cy="104.24" r="0.7" fill="#3b5d9c"/>
<circle cx="229.81" cy="94.11" r="0.7" fill="#3b5d9c"/>
<circle cx="229.12" cy="103.91" r="0.7" fill="#3b5d9c"/>
<circle cx="225.19" cy="96.49" r="0.7" fill="#3b5d9c"/>
<circle cx="228.94" cy="94.03" r="0.7" fill="#3b5d9c"/>
<circle cx="229.71" cy="95.52" r="0.7" fill="#3b5d9c"/>
<circle cx="229.27" cy="93.84" r="0.7" fill="#3b5d9c"/>
<circle cx="227.56" cy="103.77" r="0.7" fill="#3b5d9c"/>
<circle cx="225.96" cy="95.36" r="0.7" fill="#3b5d9c"/>
<circle cx="227.58" cy="96.08" r="0.7" fill="#3b5d9c"/>
<circle cx="225.03" cy="94.33" r="0.7" fill="#3b5d9c"/>
<circle cx="225.71" cy="103.99" r="0.7" fill="#3b5d9c"/>
<circle cx="228.53" cy="103.46" r="0.7" fill="#3b5d9c"/>
<circle cx="225.75" cy="102.05" r="0.7" fill="#3b5d9c"/>
<circle cx="225.46" cy="98.79" r="0.7" fill="#3b5d9c"/>
<circle cx="228.29" cy="96.61" r="0.7" fill="#3b5d9c"/>
<circle cx="229.58" cy="99.11" r="0.7" fill="#3b5d9c"/>
<circle cx="227.99" cy="103.30" r="0.7" fill="#3b5d9c"/>
<circle cx="225.40" cy="104.71" r="0.7" fill="#3b5d9c"/>
<circle cx="228.26" cy="97.05" r="0.7" fill="#3b5d9c"/>
<circle cx="229.17" cy="95.39" r="0.7" fill="#3b5d9c"/>
<circle cx="230.22" cy="99.39" r="0.7" fill="#3b5d9c"/>
<circle cx="226.79" cy="101.79" r="0.7" fill="#3b5d9c"/>
<circle cx="227.24" cy="94.26" r="0.7" fill="#3b5d9c"/>
<circle cx="228.88" cy="92.62" r="0.7" fill="#3b5d9c"/>
<circle cx="229.29" cy="95.25" r="0.7" fill="#3b5d9c"/>
<circle cx="228.31" cy="104.60" r="0.7" fill="#3b5d9c"/>
<circle cx="228.02" cy="100.50" r="0.7" fill="#3b5d9c"/>
<circle cx="226.53" cy="92.02" r="0.7" fill="#3b5d9c"/>
<circle cx="225.01" cy="93.91" r="0.7" fill="#3b5d9c"/>
<circle cx="228.18" cy="97.53" r="0.7" fill="#3b5d9c"/>
<circle cx="227.62" cy="103.46" r="0.7" fill="#3b5d9c"/>
<circle cx="225.55" cy="94.91" r="0.7" fill="#3b5d9c"/>
<circle cx="228.38" cy="92.29" r="0.7" fill="#3b5d9c"/>
<circle cx="224.84" cy="96.54" r="0.7" fill="#3b5d9c"/>
<circle cx="225.41" cy="96.57" r="0.7" fill="#3b5d9c"/>
<circle cx="226.05" cy="99.47" r="0.7" fill="#3b5d9c"/>
<circle cx="228.03" cy="94.61" r="0.7" fill="#3b5d9c"/>
<circle cx="228.22" cy="98.08" r="0.7" fill="#3b5d9c"/>
<circle cx="225.56" cy="103.99" r="0.7" fill="#3b5d9c"/>
<circle cx="226.16" cy="93.91" r="0.7" fill="#3b5d9c"/>
<circle cx="225.35" cy="100.17" r="0.7" fill="#3b5d9c"/>
<circle cx="229.57" cy="102.01" r="0.7" fill="#3b5d9c"/>
<circle cx="227.02" cy="95.38" r="0.7" fill="#3b5d9c"/>
<circle cx="224.89" cy="100.26" r="0.7" fill="#3b5d9c"/>
<circle cx="227.89" cy="96.48" r="0.7" fill="#3b5d9c"/>
<circle cx="228.34" cy="97.68" r="0.7" fill="#3b5d9c"/>
<circle cx="229.93" cy="101.39" r="0.7" fill="#3b5d9c"/>
<circle cx="226.18" cy="103.56" r="0.7" fill="#3b5d9c"/>
<circle cx="225.07" cy="98.80" r="0.7" fill="#3b5d9c"/>
<circle cx="227.04" cy="95.04" r="0.7" fill="#3b5d9c"/>
<circle cx="225.15" cy="101.97" r="0.7" fill="#3b5d9c"/>
<circle cx="224.90" cy="99.05" r="0.7" fill="#3b5d9c"/>
<circle cx="229.95" cy="93.82" r="0.7" fill="#3b5d9c"/>
<circle cx="225.92" cy="99.78" r="0.7" fill="#3b5d9c"/>
<circle cx="227.59" cy="100.21" r="0.7" fill="#3b5d9c"/>
<circle cx="229.25" cy="94.24" r="0.7" fill="#3b5d9c"/>
<circle cx="226.51" cy="95.84" r="0.7" fill="#3b5d9c"/>
<circle cx="225.09" cy="103.38" r="0.7" fill="#3b5d9c"/>
<circle cx="229.09" cy="101.16" r="0.7" fill="#3b5d9c"/>
<circle cx="224.86" cy="102.81" r="0.7" fill="#3b5d9c"/>
<circle cx="228.88" cy="97.96" r="0.7" fill="#3b5d9c"/>
<circle cx="228.87" cy="97.79" r="0.7" fill="#3b5d9c"/>
<circle cx="226.06" cy="93.35" r="0.7" fill="#3b5d9c"/>
<circle cx="226.09" cy="92.50" r="0.7" fill="#3b5d9c"/>
<circle cx="226.66" cy="101.60" r="0.7" fill="#3b5d9c"/>
<circle cx="228.61" cy="102.82" r="0.7" fill="#3b5d9c"/>
<circle cx="228.70" cy="95.40" r="0.7" fill="#3b5d9c"/>
<circle cx="227.84" cy="97.58" r="0.7" fill="#3b5d9c"/>
<circle cx="229.12" cy="98.70" r="0.7" fill="#3b5d9c"/>
<circle cx="226.27" cy="100.22" r="0.7" fill="#3b5d9c"/>
<circle cx="230.08" cy="94.78" r="0.7" fill="#3b5d9c"/>
<circle cx="229.62" cy="92.19" r="0.7" fill="#3b5d9c"/>
<circle cx="226.25" cy="95.02" r="0.7" fill="#3b5d9c"/>
<circle cx="228.88" cy="104.09" r="0.7" fill="#3b5d9c"/>
<circle cx="228.89" cy="96.18" r="0.7" fill="#3b5d9c"/>
<circle cx="229.62" cy="96.21" r="0.7" fill="#3b5d9c"/>
<circle cx="226.13" cy="103.62" r="0.7" fill="#3b5d9c"/>
<circle cx="228.26" cy="100.87" r="0.7" fill="#3b5d9c"/>
<circle cx="228.45" cy="104.53" r="0.7" fill="#3b5d9c"/>
<circle cx="227.38" cy="102.75" r="0.7" fill="#3b5d9c"/>
<circle cx="228.63" cy="102.98" r="0.7" fill="#3b5d9c"/>
<circle cx="227.21" cy="101.28" r="0.7" fill="#3b5d9c"/>
<circle cx="227.93" cy="95.94" r="0.7" fill="#3b5d9c"/>
<circle cx="225.98" cy="99.97" r="0.7" fill="#3b5d9c"/>
<circle cx="225.25" cy="103.66" r="0.7" fill="#3b5d9c"/>
<circle cx="225.62" cy="92.34" r="0.7" fill="#3b5d9c"/>
<circle cx="225.41" cy="103.89" r="0.7" fill="#3b5d9c"/>
<circle cx="226.71" cy="93.82" r="0.7" fill="#3b5d9c"/>
<circle cx="224.99" cy="92.53" r="0.7" fill="#3b5d9c"/>
<circle cx="228.60" cy="100.11" r="0.7" fill="#3b5d9c"/>
<circle cx="228.62" cy="101.43" r="0.7" fill="#3b5d9c"/>
<circle cx="225.19" cy="99.56" r="0.7" fill="#3b5d9c"/>
<circle cx="226.81" cy="102.46" r="0.7" fill="#3b5d9c"/>
<circle cx="229.29" cy="103.41" r="0.7" fill="#3b5d9c"/>
<circle cx="225.19" cy="103.11" r="0.7" fill="#3b5d9c"/>
<circle cx="229.80" cy="104.09" r="0.7" fill="#3b5d9c"/>
<circle cx="225.41" cy="94.63" r="0.7" fill="#3b5d9c"/>
<circle cx="225.44" cy="92.44" r="0.7" fill="#3b5d9c"/>
<circle cx="229.44" cy="102.39" r="0.7" fill="#3b5d9c"/>
<circle cx="228.28" cy="102.56" r="0.7" fill="#3b5d9c"/>
<circle cx="228.27" cy="95.68" r="0.7" fill="#3b5d9c"/>
<circle cx="225.37" cy="93.25" r="0.7" fill="#3b5d9c"/>
<circle cx="228.95" cy="94.62" r="0.7" fill="#3b5d9c"/>
<circle cx="226.57" cy="97.42" r="0.7" fill="#3b5d9c"/>
<circle cx="224.94" cy="95.29" r="0.7" fill="#3b5d9c"/>
<circle cx="226.37" cy="101.16" r="0.7" fill="#3b5d9c"/>
<circle cx="226.83" cy="96.11" r="0.7" fill="#3b5d9c"/>
<circle cx="230.07" cy="98.45" r="0.7" fill="#3b5d9c"/>
<circle cx="229.46" cy="99.91" r="0.7" fill="#3b5d9c"/>
<circle cx="225.00" cy="97.29" r="0.7" fill="#3b5d9c"/>
<circle cx="227.20" cy="101.89" r="0.7" fill="#3b5d9c"/>
<circle cx="226.72" cy="101.02" r="0.7" fill="#3b5d9c"/>
<circle cx="227.76" cy="94.77" r="0.7" fill="#3b5d9c"/>
<circle cx="229.52" cy="93.16" r="0.7" fill="#3b5d9c"/>
<circle cx="229.29" cy="94.18" r="0.7" fill="#3b5d9c"/>
<circle cx="224.84" cy="94.59" r="0.7" fill="#3b5d9c"/>
<circle cx="228.98" cy="104.52" r="0.7" fill="#3b5d9c"/>
<circle cx="224.85" cy="98.28" r="0.7" fill="#3b5d9c"/>
<circle cx="227.50" cy="102.20" r="0.7" fill="#3b5d9c"/>
<circle cx="225.83" cy="98.33" r="0.7" fill="#3b5d9c"/>
<circle cx="226.72" cy="102.65" r="0.7" fill="#3b5d9c"/>
<circle cx="226.25" cy="104.08" r="0.7" fill="#3b5d9c"/>
<circle cx="226.37" cy="94.75" r="0.7" fill="#3b5d9c"/>
<circle cx="228.64" cy="98.38" r="0.7" fill="#3b5d9c"/>
<circle cx="225.43" cy="100.15" r="0.7" fill="#3b5d9c"/>
<circle cx="225.27" cy="102.09" r="0.7" fill="#3b5d9c"/>
<circle cx="228.62" cy="102.07" r="0.7" fill="#3b5d9c"/>
<circle cx="228.25" cy="96.55" r="0.7" fill="#3b5d9c"/>
<circle cx="227.01" cy="97.05" r="0.7" fill="#3b5d9c"/>
<circle cx="229.67" cy="93.10" r="0.7" fill="#3b5d9c"/>
<circle cx="229.66" cy="92.32" r="0.7" fill="#3b5d9c"/>
<circle cx="225.95" cy="95.37" r="0.7" fill="#3b5d9c"/>
<circle cx="229.73" cy="98.42" r="0.7" fill="#3b5d9c"/>
<circle cx="226.89" cy="103.31" r="0.7" fill="#3b5d9c"/>
<circle cx="226.10" cy="97.90" r="0.7" fill="#3b5d9c"/>
<circle cx="227.72" cy="101.66" r="0.7" fill="#3b5d9c"/>
<circle cx="228.93" cy="100.27" r="0.7" fill="#3b5d9c"/>
<circle cx="226.73" cy="96.18" r="0.7" fill="#3b5d9c"/>
<circle cx="225.79" cy="92.60" r="0.85" fill="#b8283c"/>
<circle cx="228.38" cy="90.22" r="0.85" fill="#b8283c"/>
<circle cx="225.86" cy="81.75" r="0.85" fill="#b8283c"/>
<circle cx="228.94" cy="85.98" r="0.85" fill="#b8283c"/>
<circle cx="225.64" cy="82.50" r="0.85" fill="#b8283c"/>
<circle cx="229.51" cy="74.11" r="0.85" fill="#b8283c"/>
<circle cx="225.98" cy="76.82" r="0.85" fill="#b8283c"/>
<circle cx="228.59" cy="92.61" r="0.85" fill="#b8283c"/>
<circle cx="225.79" cy="69.94" r="0.85" fill="#b8283c"/>
<circle cx="226.26" cy="77.80" r="0.85" fill="#b8283c"/>
<circle cx="227.66" cy="70.22" r="0.85" fill="#b8283c"/>
<circle cx="226.67" cy="71.75" r="0.85" fill="#b8283c"/>
<circle cx="229.97" cy="89.89" r="0.85" fill="#b8283c"/>
<circle cx="225.52" cy="95.21" r="0.85" fill="#b8283c"/>
<circle cx="225.52" cy="79.91" r="0.85" fill="#b8283c"/>
<circle cx="230.02" cy="91.49" r="0.85" fill="#b8283c"/>
<circle cx="228.74" cy="81.63" r="0.85" fill="#b8283c"/>
<circle cx="226.00" cy="87.58" r="0.85" fill="#b8283c"/>
<circle cx="225.55" cy="72.62" r="0.85" fill="#b8283c"/>
<circle cx="226.98" cy="60.04" r="0.85" fill="#b8283c"/>
<circle cx="227.04" cy="91.39" r="0.85" fill="#b8283c"/>
<circle cx="228.54" cy="83.69" r="0.85" fill="#b8283c"/>
<circle cx="228.23" cy="82.54" r="0.85" fill="#b8283c"/>
<circle cx="225.72" cy="86.65" r="0.85" fill="#b8283c"/>
<circle cx="227.06" cy="90.19" r="0.85" fill="#b8283c"/>
<circle cx="229.63" cy="81.47" r="0.85" fill="#b8283c"/>
<circle cx="227.93" cy="90.39" r="0.85" fill="#b8283c"/>
<circle cx="227.15" cy="73.68" r="0.85" fill="#b8283c"/>
<circle cx="228.68" cy="93.43" r="0.85" fill="#b8283c"/>
<circle cx="228.95" cy="89.18" r="0.85" fill="#b8283c"/>
<circle cx="229.35" cy="88.66" r="0.85" fill="#b8283c"/>
<circle cx="228.27" cy="82.24" r="0.85" fill="#b8283c"/>
<circle cx="226.60" cy="87.32" r="0.85" fill="#b8283c"/>
<circle cx="225.50" cy="81.12" r="0.85" fill="#b8283c"/>
<circle cx="228.99" cy="89.51" r="0.85" fill="#b8283c"/>
<circle cx="228.21" cy="74.65" r="0.85" fill="#b8283c"/>
<circle cx="227.16" cy="82.28" r="0.85" fill="#b8283c"/>
<circle cx="228.17" cy="80.77" r="0.85" fill="#b8283c"/>
<circle cx="228.44" cy="94.53" r="0.85" fill="#b8283c"/>
<circle cx="225.93" cy="88.01" r="0.85" fill="#b8283c"/>
<circle cx="228.97" cy="80.07" r="0.85" fill="#b8283c"/>
<circle cx="227.50" cy="95.47" r="0.85" fill="#b8283c"/>
<circle cx="225.19" cy="84.96" r="0.85" fill="#b8283c"/>
<circle cx="225.82" cy="91.18" r="0.85" fill="#b8283c"/>
<circle cx="229.80" cy="84.25" r="0.85" fill="#b8283c"/>
<circle cx="225.52" cy="85.85" r="0.85" fill="#b8283c"/>
<circle cx="227.76" cy="89.61" r="0.85" fill="#b8283c"/>
<circle cx="227.61" cy="87.61" r="0.85" fill="#b8283c"/>
<circle cx="229.23" cy="84.32" r="0.85" fill="#b8283c"/>
<circle cx="227.09" cy="94.91" r="0.85" fill="#b8283c"/>
<circle cx="226.07" cy="88.78" r="0.85" fill="#b8283c"/>
<circle cx="227.00" cy="90.72" r="0.85" fill="#b8283c"/>
<circle cx="225.62" cy="95.68" r="0.85" fill="#b8283c"/>
<circle cx="226.81" cy="62.64" r="0.85" fill="#b8283c"/>
<circle cx="226.40" cy="80.45" r="0.85" fill="#b8283c"/>
<circle cx="225.07" cy="81.09" r="0.85" fill="#b8283c"/>
<circle cx="227.14" cy="89.13" r="0.85" fill="#b8283c"/>
<circle cx="226.80" cy="75.31" r="0.85" fill="#b8283c"/>
<circle cx="226.14" cy="90.21" r="0.85" fill="#b8283c"/>
<circle cx="229.79" cy="84.48" r="0.85" fill="#b8283c"/>
<circle cx="226.12" cy="91.64" r="0.85" fill="#b8283c"/>
<circle cx="227.00" cy="72.89" r="0.85" fill="#b8283c"/>
<circle cx="225.66" cy="91.05" r="0.85" fill="#b8283c"/>
<circle cx="229.13" cy="87.48" r="0.85" fill="#b8283c"/>
<circle cx="227.39" cy="85.49" r="0.85" fill="#b8283c"/>
<circle cx="226.15" cy="95.24" r="0.85" fill="#b8283c"/>
<circle cx="226.80" cy="87.60" r="0.85" fill="#b8283c"/>
<circle cx="229.18" cy="91.98" r="0.85" fill="#b8283c"/>
<circle cx="227.39" cy="76.53" r="0.85" fill="#b8283c"/>
<circle cx="227.80" cy="68.06" r="0.85" fill="#b8283c"/>
<circle cx="229.25" cy="78.85" r="0.85" fill="#b8283c"/>
<circle cx="229.34" cy="75.41" r="0.85" fill="#b8283c"/>
<circle cx="226.92" cy="74.81" r="0.85" fill="#b8283c"/>
<circle cx="227.17" cy="71.57" r="0.85" fill="#b8283c"/>
<circle cx="225.01" cy="89.72" r="0.85" fill="#b8283c"/>
<circle cx="226.43" cy="74.43" r="0.85" fill="#b8283c"/>
<circle cx="226.54" cy="83.05" r="0.85" fill="#b8283c"/>
<circle cx="227.19" cy="87.56" r="0.85" fill="#b8283c"/>
<circle cx="228.36" cy="79.13" r="0.85" fill="#b8283c"/>
<circle cx="229.74" cy="92.86" r="0.85" fill="#b8283c"/>
<circle cx="225.29" cy="92.25" r="0.85" fill="#b8283c"/>
<circle cx="229.62" cy="91.23" r="0.85" fill="#b8283c"/>
<circle cx="225.72" cy="92.33" r="0.85" fill="#b8283c"/>
<circle cx="228.23" cy="56.95" r="0.85" fill="#b8283c"/>
<circle cx="225.06" cy="94.99" r="0.85" fill="#b8283c"/>
<circle cx="228.35" cy="74.65" r="0.85" fill="#b8283c"/>
<circle cx="225.52" cy="69.16" r="0.85" fill="#b8283c"/>
<circle cx="226.19" cy="91.05" r="0.85" fill="#b8283c"/>
<circle cx="226.77" cy="69.74" r="0.85" fill="#b8283c"/>
<circle cx="229.61" cy="91.41" r="0.85" fill="#b8283c"/>
<circle cx="225.86" cy="93.67" r="0.85" fill="#b8283c"/>
<circle cx="228.10" cy="91.16" r="0.85" fill="#b8283c"/>
<circle cx="228.41" cy="93.74" r="0.85" fill="#b8283c"/>
<circle cx="229.02" cy="92.50" r="0.85" fill="#b8283c"/>
<circle cx="226.01" cy="89.00" r="0.85" fill="#b8283c"/>
<circle cx="227.71" cy="90.22" r="0.85" fill="#b8283c"/>
<circle cx="227.24" cy="93.49" r="0.85" fill="#b8283c"/>
<circle cx="227.83" cy="75.28" r="0.85" fill="#b8283c"/>
<circle cx="226.19" cy="68.95" r="0.85" fill="#b8283c"/>
<circle cx="227.51" cy="62.82" r="0.85" fill="#b8283c"/>
<circle cx="227.38" cy="69.26" r="0.85" fill="#b8283c"/>
<circle cx="227.51" cy="83.62" r="0.85" fill="#b8283c"/>
<circle cx="227.75" cy="93.05" r="0.85" fill="#b8283c"/>
<circle cx="225.03" cy="92.55" r="0.85" fill="#b8283c"/>
<circle cx="227.39" cy="85.51" r="0.85" fill="#b8283c"/>
<circle cx="228.39" cy="92.54" r="0.85" fill="#b8283c"/>
<circle cx="226.91" cy="81.09" r="0.85" fill="#b8283c"/>
<circle cx="229.90" cy="64.37" r="0.85" fill="#b8283c"/>
<circle cx="228.25" cy="87.53" r="0.85" fill="#b8283c"/>
<circle cx="225.15" cy="86.82" r="0.85" fill="#b8283c"/>
<circle cx="228.48" cy="94.55" r="0.85" fill="#b8283c"/>
<circle cx="226.69" cy="95.62" r="0.85" fill="#b8283c"/>
<circle cx="227.60" cy="83.21" r="0.85" fill="#b8283c"/>
<circle cx="229.58" cy="60.03" r="0.85" fill="#b8283c"/>
<circle cx="228.66" cy="87.24" r="0.85" fill="#b8283c"/>
<circle cx="226.73" cy="93.02" r="0.85" fill="#b8283c"/>
<circle cx="226.87" cy="82.89" r="0.85" fill="#b8283c"/>
<circle cx="227.68" cy="90.91" r="0.85" fill="#b8283c"/>
<circle cx="226.07" cy="81.63" r="0.85" fill="#b8283c"/>
<circle cx="227.15" cy="85.27" r="0.85" fill="#b8283c"/>
<circle cx="229.22" cy="76.47" r="0.85" fill="#b8283c"/>
<circle cx="229.22" cy="80.58" r="0.85" fill="#b8283c"/>
<circle cx="227.57" cy="75.59" r="0.85" fill="#b8283c"/>
<circle cx="227.58" cy="95.48" r="0.85" fill="#b8283c"/>
<circle cx="228.34" cy="91.42" r="0.85" fill="#b8283c"/>
<circle cx="226.69" cy="77.43" r="0.85" fill="#b8283c"/>
<circle cx="226.53" cy="86.18" r="0.85" fill="#b8283c"/>
<circle cx="228.24" cy="91.23" r="0.85" fill="#b8283c"/>
<circle cx="225.20" cy="89.75" r="0.85" fill="#b8283c"/>
<circle cx="229.52" cy="85.02" r="0.85" fill="#b8283c"/>
<circle cx="225.25" cy="76.77" r="0.85" fill="#b8283c"/>
<circle cx="225.03" cy="71.78" r="0.85" fill="#b8283c"/>
<circle cx="229.70" cy="86.79" r="0.85" fill="#b8283c"/>
<circle cx="228.36" cy="91.35" r="0.85" fill="#b8283c"/>
<circle cx="229.64" cy="86.87" r="0.85" fill="#b8283c"/>
<circle cx="228.15" cy="87.28" r="0.85" fill="#b8283c"/>
<circle cx="228.55" cy="86.45" r="0.85" fill="#b8283c"/>
<circle cx="228.47" cy="72.91" r="0.85" fill="#b8283c"/>
<circle cx="228.40" cy="82.37" r="0.85" fill="#b8283c"/>
<circle cx="228.89" cy="66.42" r="0.85" fill="#b8283c"/>
<circle cx="225.92" cy="60.43" r="0.85" fill="#b8283c"/>
<circle cx="228.95" cy="94.18" r="0.85" fill="#b8283c"/>
<circle cx="228.34" cy="79.37" r="0.85" fill="#b8283c"/>
<circle cx="229.20" cy="91.29" r="0.85" fill="#b8283c"/>
<circle cx="227.87" cy="75.00" r="0.85" fill="#b8283c"/>
<circle cx="226.54" cy="81.19" r="0.85" fill="#b8283c"/>
<circle cx="226.62" cy="81.49" r="0.85" fill="#b8283c"/>
<circle cx="228.27" cy="94.61" r="0.85" fill="#b8283c"/>
<circle cx="225.28" cy="85.65" r="0.85" fill="#b8283c"/>
<circle cx="225.20" cy="67.64" r="0.85" fill="#b8283c"/>
<circle cx="229.13" cy="85.87" r="0.85" fill="#b8283c"/>
<circle cx="229.69" cy="82.00" r="0.85" fill="#b8283c"/>
<circle cx="225.07" cy="80.01" r="0.85" fill="#b8283c"/>
<circle cx="228.02" cy="94.69" r="0.85" fill="#b8283c"/>
<circle cx="230.00" cy="82.92" r="0.85" fill="#b8283c"/>
<circle cx="227.10" cy="66.47" r="0.85" fill="#b8283c"/>
<circle cx="228.29" cy="72.90" r="0.85" fill="#b8283c"/>
<circle cx="225.77" cy="57.06" r="0.85" fill="#b8283c"/>
<circle cx="225.02" cy="88.77" r="0.85" fill="#b8283c"/>
<circle cx="225.62" cy="95.30" r="0.85" fill="#b8283c"/>
<circle cx="225.45" cy="93.20" r="0.85" fill="#b8283c"/>
<circle cx="225.66" cy="57.50" r="0.85" fill="#b8283c"/>
<circle cx="228.67" cy="74.30" r="0.85" fill="#b8283c"/>
<circle cx="228.74" cy="71.65" r="0.85" fill="#b8283c"/>
<circle cx="225.26" cy="90.99" r="0.85" fill="#b8283c"/>
<circle cx="228.64" cy="92.88" r="0.85" fill="#b8283c"/>
<circle cx="228.72" cy="65.11" r="0.85" fill="#b8283c"/>
<circle cx="228.21" cy="89.41" r="0.85" fill="#b8283c"/>
<circle cx="227.35" cy="94.57" r="0.85" fill="#b8283c"/>
<circle cx="226.30" cy="95.25" r="0.85" fill="#b8283c"/>
<circle cx="228.66" cy="56.14" r="0.85" fill="#b8283c"/>
<circle cx="225.08" cy="87.91" r="0.85" fill="#b8283c"/>
<circle cx="229.17" cy="64.74" r="0.85" fill="#b8283c"/>
<circle cx="226.59" cy="89.91" r="0.85" fill="#b8283c"/>
<circle cx="225.85" cy="93.00" r="0.85" fill="#b8283c"/>
<circle cx="227.48" cy="62.95" r="0.85" fill="#b8283c"/>
<circle cx="226.87" cy="85.86" r="0.85" fill="#b8283c"/>
<circle cx="227.24" cy="88.59" r="0.85" fill="#b8283c"/>
<circle cx="225.74" cy="91.54" r="0.85" fill="#b8283c"/>
<circle cx="226.85" cy="87.76" r="0.85" fill="#b8283c"/>
<circle cx="228.21" cy="81.06" r="0.85" fill="#b8283c"/>
<circle cx="226.97" cy="91.28" r="0.85" fill="#b8283c"/>
<circle cx="229.82" cy="91.24" r="0.85" fill="#b8283c"/>
<circle cx="227.89" cy="76.45" r="0.85" fill="#b8283c"/>
<circle cx="225.31" cy="95.46" r="0.85" fill="#b8283c"/>
<line x1="243.95" y1="104.80" x2="243.95" y2="104.80" stroke="#231f20" stroke-width="0.8"/>
<line x1="243.95" y1="96.20" x2="243.95" y2="83.20" stroke="#231f20" stroke-width="0.8"/>
<line x1="240.95" y1="83.20" x2="246.95" y2="83.20" stroke="#231f20" stroke-width="1.0"/>
<line x1="240.95" y1="104.80" x2="246.95" y2="104.80" stroke="#231f20" stroke-width="1.0"/>
<rect x="237.55" y="96.20" width="12.80" height="8.60" fill="none" stroke="#1a1a1a" stroke-width="1.1"/>
<line x1="237.55" y1="104.40" x2="250.35" y2="104.40" stroke="#231f20" stroke-width="1.3"/>
<circle cx="244.76" cy="59.00" r="0.8" fill="#b8283c"/>
<circle cx="245.26" cy="66.00" r="0.8" fill="#b8283c"/>
<circle cx="243.28" cy="71.00" r="0.8" fill="#b8283c"/>
<circle cx="244.37" cy="75.50" r="0.8" fill="#b8283c"/>
<circle cx="245.98" cy="93.30" r="0.85" fill="#b8283c"/>
<circle cx="244.38" cy="84.94" r="0.85" fill="#b8283c"/>
<circle cx="243.65" cy="94.21" r="0.85" fill="#b8283c"/>
<circle cx="243.43" cy="90.96" r="0.85" fill="#b8283c"/>
<circle cx="244.38" cy="94.34" r="0.85" fill="#b8283c"/>
<circle cx="245.26" cy="84.53" r="0.85" fill="#b8283c"/>
<circle cx="241.83" cy="84.21" r="0.85" fill="#b8283c"/>
<circle cx="243.62" cy="89.39" r="0.85" fill="#b8283c"/>
<circle cx="245.29" cy="94.20" r="0.85" fill="#b8283c"/>
<circle cx="242.00" cy="93.33" r="0.85" fill="#b8283c"/>
<circle cx="245.27" cy="93.88" r="0.85" fill="#b8283c"/>
<circle cx="244.26" cy="84.38" r="0.85" fill="#b8283c"/>
<circle cx="245.44" cy="92.91" r="0.85" fill="#b8283c"/>
<circle cx="244.95" cy="103.78" r="0.85" fill="#3b5d9c"/>
<circle cx="243.12" cy="94.00" r="0.85" fill="#3b5d9c"/>
<circle cx="244.24" cy="102.41" r="0.85" fill="#3b5d9c"/>
<circle cx="242.32" cy="101.85" r="0.85" fill="#3b5d9c"/>
<circle cx="246.30" cy="95.76" r="0.85" fill="#3b5d9c"/>
<circle cx="244.53" cy="101.00" r="0.85" fill="#3b5d9c"/>
<circle cx="243.76" cy="95.44" r="0.85" fill="#3b5d9c"/>
<circle cx="242.62" cy="101.86" r="0.85" fill="#3b5d9c"/>
<circle cx="245.54" cy="98.42" r="0.85" fill="#3b5d9c"/>
<circle cx="241.71" cy="102.52" r="0.85" fill="#3b5d9c"/>
<circle cx="245.43" cy="95.75" r="0.85" fill="#3b5d9c"/>
<circle cx="244.38" cy="103.58" r="0.85" fill="#3b5d9c"/>
<circle cx="246.04" cy="99.16" r="0.85" fill="#3b5d9c"/>
<circle cx="243.82" cy="99.95" r="0.85" fill="#3b5d9c"/>
<circle cx="242.26" cy="95.27" r="0.85" fill="#3b5d9c"/>
<circle cx="242.21" cy="101.27" r="0.85" fill="#3b5d9c"/>
<circle cx="243.20" cy="99.66" r="0.85" fill="#3b5d9c"/>
<circle cx="243.42" cy="99.10" r="0.85" fill="#3b5d9c"/>
<circle cx="242.04" cy="93.53" r="0.85" fill="#3b5d9c"/>
<circle cx="246.65" cy="97.41" r="0.85" fill="#3b5d9c"/>
<circle cx="241.81" cy="100.47" r="0.85" fill="#3b5d9c"/>
<circle cx="245.51" cy="94.84" r="0.85" fill="#3b5d9c"/>
<circle cx="244.48" cy="97.07" r="0.85" fill="#3b5d9c"/>
<circle cx="244.06" cy="93.24" r="0.85" fill="#3b5d9c"/>
<circle cx="241.41" cy="104.69" r="0.85" fill="#3b5d9c"/>
<circle cx="245.94" cy="98.74" r="0.85" fill="#3b5d9c"/>
<circle cx="244.32" cy="96.09" r="0.85" fill="#3b5d9c"/>
<circle cx="245.47" cy="98.03" r="0.85" fill="#3b5d9c"/>
<circle cx="246.38" cy="102.05" r="0.85" fill="#3b5d9c"/>
<circle cx="245.68" cy="104.37" r="0.85" fill="#3b5d9c"/>
<circle cx="242.61" cy="93.45" r="0.85" fill="#3b5d9c"/>
<circle cx="242.32" cy="95.13" r="0.85" fill="#3b5d9c"/>
<circle cx="241.69" cy="93.60" r="0.85" fill="#3b5d9c"/>
<circle cx="244.26" cy="103.27" r="0.85" fill="#3b5d9c"/>
<circle cx="243.72" cy="104.18" r="0.85" fill="#3b5d9c"/>
<circle cx="246.18" cy="93.76" r="0.85" fill="#3b5d9c"/>
<circle cx="244.48" cy="97.69" r="0.85" fill="#3b5d9c"/>
<circle cx="241.88" cy="104.32" r="0.85" fill="#3b5d9c"/>
<circle cx="242.63" cy="99.66" r="0.85" fill="#3b5d9c"/>
<circle cx="244.72" cy="104.29" r="0.85" fill="#3b5d9c"/>
<circle cx="244.87" cy="97.64" r="0.85" fill="#3b5d9c"/>
<circle cx="243.67" cy="94.88" r="0.85" fill="#3b5d9c"/>
<circle cx="246.48" cy="104.70" r="0.85" fill="#3b5d9c"/>
<circle cx="242.44" cy="93.46" r="0.85" fill="#3b5d9c"/>
<circle cx="242.62" cy="97.15" r="0.85" fill="#3b5d9c"/>
<circle cx="246.14" cy="103.67" r="0.85" fill="#3b5d9c"/>
<circle cx="245.78" cy="93.56" r="0.85" fill="#3b5d9c"/>
<circle cx="245.51" cy="101.37" r="0.85" fill="#3b5d9c"/>
<circle cx="244.75" cy="104.63" r="0.85" fill="#3b5d9c"/>
<circle cx="241.53" cy="94.71" r="0.85" fill="#3b5d9c"/>
<circle cx="245.34" cy="104.08" r="0.85" fill="#3b5d9c"/>
<circle cx="244.91" cy="96.53" r="0.85" fill="#3b5d9c"/>
<circle cx="244.45" cy="101.94" r="0.85" fill="#3b5d9c"/>
<circle cx="241.80" cy="96.82" r="0.85" fill="#3b5d9c"/>
<circle cx="242.63" cy="94.46" r="0.85" fill="#3b5d9c"/>
<circle cx="243.85" cy="94.99" r="0.85" fill="#3b5d9c"/>
<circle cx="242.53" cy="94.69" r="0.85" fill="#3b5d9c"/>
<circle cx="244.92" cy="93.15" r="0.85" fill="#3b5d9c"/>
<circle cx="245.13" cy="95.30" r="0.85" fill="#3b5d9c"/>
<circle cx="241.43" cy="103.95" r="0.85" fill="#3b5d9c"/>
<circle cx="242.43" cy="104.02" r="0.85" fill="#3b5d9c"/>
<circle cx="245.95" cy="103.49" r="0.85" fill="#3b5d9c"/>
<circle cx="241.99" cy="98.28" r="0.85" fill="#3b5d9c"/>
<circle cx="241.76" cy="103.96" r="0.85" fill="#3b5d9c"/>
<circle cx="245.81" cy="100.41" r="0.85" fill="#3b5d9c"/>
<circle cx="243.69" cy="97.01" r="0.85" fill="#3b5d9c"/>
<circle cx="245.71" cy="98.63" r="0.85" fill="#3b5d9c"/>
<circle cx="244.65" cy="94.68" r="0.85" fill="#3b5d9c"/>
<circle cx="242.44" cy="93.67" r="0.85" fill="#3b5d9c"/>
<circle cx="245.11" cy="99.53" r="0.85" fill="#3b5d9c"/>
<circle cx="242.02" cy="103.27" r="0.85" fill="#3b5d9c"/>
<circle cx="242.68" cy="97.86" r="0.85" fill="#3b5d9c"/>
<circle cx="242.08" cy="96.20" r="0.85" fill="#3b5d9c"/>
<rect x="254.25" y="103.90" width="12.20" height="1.80" fill="#231f20"/>
<circle cx="260.35" cy="75.80" r="0.8" fill="#b8283c"/>
<circle cx="260.35" cy="92.70" r="0.8" fill="#3b5d9c"/>
<circle cx="262.08" cy="102.27" r="0.85" fill="#3b5d9c"/>
<circle cx="258.66" cy="102.87" r="0.85" fill="#3b5d9c"/>
<circle cx="259.42" cy="104.43" r="0.85" fill="#3b5d9c"/>
<circle cx="258.38" cy="104.72" r="0.85" fill="#3b5d9c"/>
<circle cx="258.09" cy="104.40" r="0.85" fill="#3b5d9c"/>
<circle cx="261.21" cy="101.80" r="0.85" fill="#3b5d9c"/>
<text x="47.15" y="121.04" font-size="5.94" text-anchor="middle" fill="#c4505e" textLength="2.95" lengthAdjust="spacingAndGlyphs">0</text>
<text x="47.15" y="127.44" font-size="5.94" text-anchor="middle" fill="#6482b4" textLength="2.95" lengthAdjust="spacingAndGlyphs">5</text>
<text x="63.55" y="121.04" font-size="5.94" text-anchor="middle" fill="#c4505e" textLength="2.95" lengthAdjust="spacingAndGlyphs">0</text>
<text x="63.55" y="127.44" font-size="5.94" text-anchor="middle" fill="#6482b4" textLength="2.95" lengthAdjust="spacingAndGlyphs">7</text>
<text x="79.95" y="121.04" font-size="5.94" text-anchor="middle" fill="#c4505e" textLength="2.95" lengthAdjust="spacingAndGlyphs">8</text>
<text x="79.95" y="127.44" font-size="5.94" text-anchor="middle" fill="#6482b4" textLength="2.95" lengthAdjust="spacingAndGlyphs">0</text>
<text x="96.35" y="121.04" font-size="5.94" text-anchor="middle" fill="#c4505e" textLength="2.95" lengthAdjust="spacingAndGlyphs">8</text>
<text x="96.35" y="127.44" font-size="5.94" text-anchor="middle" fill="#6482b4" textLength="2.95" lengthAdjust="spacingAndGlyphs">0</text>
<text x="112.75" y="121.04" font-size="5.94" text-anchor="middle" fill="#c4505e" textLength="2.95" lengthAdjust="spacingAndGlyphs">0</text>
<text x="112.75" y="127.44" font-size="5.94" text-anchor="middle" fill="#6482b4" textLength="2.95" lengthAdjust="spacingAndGlyphs">5</text>
<text x="129.15" y="121.04" font-size="5.94" text-anchor="middle" fill="#c4505e" textLength="2.95" lengthAdjust="spacingAndGlyphs">2</text>
<text x="129.15" y="127.44" font-size="5.94" text-anchor="middle" fill="#6482b4" textLength="2.95" lengthAdjust="spacingAndGlyphs">3</text>
<text x="145.55" y="121.04" font-size="5.94" text-anchor="middle" fill="#c4505e" textLength="2.95" lengthAdjust="spacingAndGlyphs">0</text>
<text x="145.55" y="127.44" font-size="5.94" text-anchor="middle" fill="#6482b4" textLength="2.95" lengthAdjust="spacingAndGlyphs">5</text>
<text x="161.95" y="121.04" font-size="5.94" text-anchor="middle" fill="#c4505e" textLength="2.95" lengthAdjust="spacingAndGlyphs">0</text>
<text x="161.95" y="127.44" font-size="5.94" text-anchor="middle" fill="#6482b4" textLength="2.95" lengthAdjust="spacingAndGlyphs">5</text>
<text x="178.35" y="121.04" font-size="5.94" text-anchor="middle" fill="#c4505e" textLength="5.5" lengthAdjust="spacingAndGlyphs">11</text>
<text x="178.35" y="127.44" font-size="5.94" text-anchor="middle" fill="#6482b4" textLength="2.95" lengthAdjust="spacingAndGlyphs">8</text>
<text x="194.75" y="121.04" font-size="5.94" text-anchor="middle" fill="#c4505e" textLength="5.9" lengthAdjust="spacingAndGlyphs">54</text>
<text x="194.75" y="127.44" font-size="5.94" text-anchor="middle" fill="#6482b4" textLength="5.9" lengthAdjust="spacingAndGlyphs">10</text>
<text x="211.15" y="121.04" font-size="5.94" text-anchor="middle" fill="#c4505e" textLength="8.84" lengthAdjust="spacingAndGlyphs">128</text>
<text x="211.15" y="127.44" font-size="5.94" text-anchor="middle" fill="#6482b4" textLength="8.84" lengthAdjust="spacingAndGlyphs">144</text>
<text x="227.55" y="121.04" font-size="5.94" text-anchor="middle" fill="#c4505e" textLength="8.84" lengthAdjust="spacingAndGlyphs">185</text>
<text x="227.55" y="127.44" font-size="5.94" text-anchor="middle" fill="#6482b4" textLength="8.84" lengthAdjust="spacingAndGlyphs">580</text>
<text x="243.95" y="121.04" font-size="5.94" text-anchor="middle" fill="#c4505e" textLength="5.9" lengthAdjust="spacingAndGlyphs">17</text>
<text x="243.95" y="127.44" font-size="5.94" text-anchor="middle" fill="#6482b4" textLength="5.9" lengthAdjust="spacingAndGlyphs">73</text>
<text x="260.35" y="121.04" font-size="5.94" text-anchor="middle" fill="#c4505e" textLength="2.95" lengthAdjust="spacingAndGlyphs">1</text>
<text x="260.35" y="127.44" font-size="5.94" text-anchor="middle" fill="#6482b4" textLength="5.9" lengthAdjust="spacingAndGlyphs">53</text>
<line x1="47.15" y1="130.30" x2="47.15" y2="133.50" stroke="#231f20" stroke-width="0.7"/>
<text x="51.75" y="139.60" font-size="7.14" text-anchor="end" textLength="15.21" lengthAdjust="spacingAndGlyphs" transform="rotate(-45 51.75 139.60)">CD14</text>
<line x1="63.55" y1="130.30" x2="63.55" y2="133.50" stroke="#231f20" stroke-width="0.7"/>
<text x="68.15" y="139.60" font-size="7.14" text-anchor="end" textLength="8.93" lengthAdjust="spacingAndGlyphs" transform="rotate(-45 68.15 139.60)">OC</text>
<line x1="79.95" y1="130.30" x2="79.95" y2="133.50" stroke="#231f20" stroke-width="0.7"/>
<text x="84.55" y="139.60" font-size="7.14" text-anchor="end" textLength="13.22" lengthAdjust="spacingAndGlyphs" transform="rotate(-45 84.55 139.60)">MSC</text>
<line x1="96.35" y1="130.30" x2="96.35" y2="133.50" stroke="#231f20" stroke-width="0.7"/>
<text x="100.95" y="139.60" font-size="7.14" text-anchor="end" textLength="8.6" lengthAdjust="spacingAndGlyphs" transform="rotate(-45 100.95 139.60)">OB</text>
<line x1="112.75" y1="130.30" x2="112.75" y2="133.50" stroke="#231f20" stroke-width="0.7"/>
<text x="117.35" y="139.60" font-size="7.14" text-anchor="end" textLength="11.9" lengthAdjust="spacingAndGlyphs" transform="rotate(-45 117.35 139.60)">CD3</text>
<line x1="129.15" y1="130.30" x2="129.15" y2="133.50" stroke="#231f20" stroke-width="0.7"/>
<text x="133.75" y="139.60" font-size="7.14" text-anchor="end" textLength="15.21" lengthAdjust="spacingAndGlyphs" transform="rotate(-45 133.75 139.60)">CD34</text>
<line x1="145.55" y1="130.30" x2="145.55" y2="133.50" stroke="#231f20" stroke-width="0.7"/>
<text x="150.15" y="139.60" font-size="7.14" text-anchor="end" textLength="13.22" lengthAdjust="spacingAndGlyphs" transform="rotate(-45 150.15 139.60)">MBC</text>
<line x1="161.95" y1="130.30" x2="161.95" y2="133.50" stroke="#231f20" stroke-width="0.7"/>
<text x="166.55" y="139.60" font-size="7.14" text-anchor="end" textLength="12.23" lengthAdjust="spacingAndGlyphs" transform="rotate(-45 166.55 139.60)">PPC</text>
<line x1="178.35" y1="130.30" x2="178.35" y2="133.50" stroke="#231f20" stroke-width="0.7"/>
<text x="182.95" y="139.60" font-size="7.14" text-anchor="end" textLength="17.19" lengthAdjust="spacingAndGlyphs" transform="rotate(-45 182.95 139.60)">BMPC</text>
<line x1="194.75" y1="130.30" x2="194.75" y2="133.50" stroke="#231f20" stroke-width="0.7"/>
<text x="199.35" y="139.60" font-size="7.14" text-anchor="end" textLength="17.85" lengthAdjust="spacingAndGlyphs" transform="rotate(-45 199.35 139.60)">MGUS</text>
<line x1="211.15" y1="130.30" x2="211.15" y2="133.50" stroke="#231f20" stroke-width="0.7"/>
<text x="215.75" y="139.60" font-size="7.14" text-anchor="end" textLength="13.88" lengthAdjust="spacingAndGlyphs" transform="rotate(-45 215.75 139.60)">AMM</text>
<line x1="227.55" y1="130.30" x2="227.55" y2="133.50" stroke="#231f20" stroke-width="0.7"/>
<text x="232.15" y="139.60" font-size="7.14" text-anchor="end" textLength="9.91" lengthAdjust="spacingAndGlyphs" transform="rotate(-45 232.15 139.60)">MM</text>
<line x1="243.95" y1="130.30" x2="243.95" y2="133.50" stroke="#231f20" stroke-width="0.7"/>
<text x="248.55" y="139.60" font-size="7.14" text-anchor="end" textLength="11.89" lengthAdjust="spacingAndGlyphs" transform="rotate(-45 248.55 139.60)">rMM</text>
<line x1="260.35" y1="130.30" x2="260.35" y2="133.50" stroke="#231f20" stroke-width="0.7"/>
<text x="264.95" y="139.60" font-size="7.14" text-anchor="end" textLength="16.86" lengthAdjust="spacingAndGlyphs" transform="rotate(-45 264.95 139.60)">HMCL</text>
<text x="292.70" y="15.50" font-size="10.2" textLength="6.5" lengthAdjust="spacingAndGlyphs">B</text>
<line x1="312.60" y1="19.80" x2="312.60" y2="130.80" stroke="#222" stroke-width="1.2"/>
<line x1="312.00" y1="130.20" x2="476.60" y2="130.20" stroke="#222" stroke-width="1.2"/>
<line x1="309.80" y1="24.61" x2="312.60" y2="24.61" stroke="#231f20" stroke-width="0.9"/>
<text x="306.80" y="26.95" font-size="6.5" text-anchor="end" fill="#333" textLength="3.23" lengthAdjust="spacingAndGlyphs">4</text>
<line x1="309.80" y1="49.83" x2="312.60" y2="49.83" stroke="#231f20" stroke-width="0.9"/>
<text x="306.80" y="52.17" font-size="6.5" text-anchor="end" fill="#333" textLength="3.23" lengthAdjust="spacingAndGlyphs">2</text>
<line x1="309.80" y1="75.05" x2="312.60" y2="75.05" stroke="#231f20" stroke-width="0.9"/>
<text x="306.80" y="77.39" font-size="6.5" text-anchor="end" fill="#333" textLength="3.23" lengthAdjust="spacingAndGlyphs">0</text>
<line x1="309.80" y1="100.27" x2="312.60" y2="100.27" stroke="#231f20" stroke-width="0.9"/>
<text x="306.80" y="102.61" font-size="6.5" text-anchor="end" fill="#333" textLength="6.61" lengthAdjust="spacingAndGlyphs">−2</text>
<line x1="309.80" y1="125.49" x2="312.60" y2="125.49" stroke="#231f20" stroke-width="0.9"/>
<text x="306.80" y="127.83" font-size="6.5" text-anchor="end" fill="#333" textLength="6.61" lengthAdjust="spacingAndGlyphs">−4</text>
<line x1="334.68" y1="130.20" x2="334.68" y2="133.20" stroke="#231f20" stroke-width="0.7"/>
<text x="334.68" y="142.14" font-size="6.5" text-anchor="middle" fill="#333" textLength="11.45" lengthAdjust="spacingAndGlyphs">−2.5</text>
<line x1="369.30" y1="130.20" x2="369.30" y2="133.20" stroke="#231f20" stroke-width="0.7"/>
<text x="369.30" y="142.14" font-size="6.5" text-anchor="middle" fill="#333" textLength="8.06" lengthAdjust="spacingAndGlyphs">0.0</text>
<line x1="403.93" y1="130.20" x2="403.93" y2="133.20" stroke="#231f20" stroke-width="0.7"/>
<text x="403.93" y="142.14" font-size="6.5" text-anchor="middle" fill="#333" textLength="8.06" lengthAdjust="spacingAndGlyphs">2.5</text>
<line x1="438.55" y1="130.20" x2="438.55" y2="133.20" stroke="#231f20" stroke-width="0.7"/>
<text x="438.55" y="142.14" font-size="6.5" text-anchor="middle" fill="#333" textLength="8.06" lengthAdjust="spacingAndGlyphs">5.0</text>
<line x1="473.18" y1="130.20" x2="473.18" y2="133.20" stroke="#231f20" stroke-width="0.7"/>
<text x="473.18" y="142.14" font-size="6.5" text-anchor="middle" fill="#333" textLength="8.06" lengthAdjust="spacingAndGlyphs">7.5</text>
<g transform="translate(294.8 75.2) rotate(-90) scale(0.9 1)"><text x="0" y="0" font-size="8.7" text-anchor="middle" fill="#231f20">AXL<tspan dy="-3" font-size="5.2">+</tspan><tspan dy="3">, log %</tspan></text></g>
<g transform="translate(394.6 157.3) scale(0.9 1)"><text x="0" y="0" font-size="8.7" text-anchor="middle" fill="#231f20">CD138<tspan dy="-3" font-size="5.2">+</tspan><tspan dy="3">CD38</tspan><tspan dy="-3" font-size="5.2">+</tspan><tspan dy="3">, log %</tspan></text></g>
<text x="315.60" y="26.86" font-size="4.6" fill="#333">r<tspan dy="1" font-size="3">s</tspan><tspan dy="-1"> = −0.689</tspan></text>
<text x="315.60" y="34.65" font-size="5.15" fill="#333" textLength="19.74" lengthAdjust="spacingAndGlyphs">P &lt; 0.001</text>
<text x="429.30" y="28.65" font-size="5.15" fill="#333" textLength="16.62" lengthAdjust="spacingAndGlyphs">Disease</text>
<circle cx="431.90" cy="35.10" r="2.4" fill="#eb9b30" stroke="#262626" stroke-width="0.9"/>
<text x="437.00" y="36.83" font-size="4.8" fill="#333"><tspan font-style="italic">MGUS</tspan> (n = 7)</text>
<circle cx="431.90" cy="43.30" r="2.4" fill="#d6d6d6" stroke="#262626" stroke-width="0.9"/>
<text x="437.00" y="45.03" font-size="4.8" fill="#333"><tspan font-style="italic">MM</tspan> (n = 10)</text>
<circle cx="431.90" cy="52.10" r="2.4" fill="#6fabe0" stroke="#262626" stroke-width="0.9"/>
<text x="437.00" y="53.83" font-size="4.8" fill="#333"><tspan font-style="italic">rMM</tspan> (n = 9)</text>
<defs><clipPath id="bclip"><rect x="312.6" y="15" width="170" height="115.2"/></clipPath></defs>
<g clip-path="url(#bclip)">
<circle cx="325.80" cy="130.20" r="2.4" fill="#eb9b30" stroke="#262626" stroke-width="0.9"/>
</g>
<circle cx="343.30" cy="48.60" r="2.45" fill="#eb9b30" stroke="#222" stroke-width="1.0"/>
<circle cx="355.80" cy="48.60" r="2.45" fill="#eb9b30" stroke="#222" stroke-width="1.0"/>
<circle cx="363.80" cy="49.10" r="2.45" fill="#eb9b30" stroke="#222" stroke-width="1.0"/>
<circle cx="361.80" cy="73.70" r="2.45" fill="#eb9b30" stroke="#222" stroke-width="1.0"/>
<circle cx="374.20" cy="91.50" r="2.45" fill="#eb9b30" stroke="#222" stroke-width="1.0"/>
<circle cx="369.00" cy="42.20" r="2.45" fill="#d6d6d6" stroke="#222" stroke-width="1.0"/>
<circle cx="370.20" cy="43.60" r="2.45" fill="#d6d6d6" stroke="#222" stroke-width="1.0"/>
<circle cx="385.50" cy="51.70" r="2.45" fill="#d6d6d6" stroke="#222" stroke-width="1.0"/>
<circle cx="363.80" cy="61.00" r="2.45" fill="#d6d6d6" stroke="#222" stroke-width="1.0"/>
<circle cx="357.50" cy="66.40" r="2.45" fill="#d6d6d6" stroke="#222" stroke-width="1.0"/>
<circle cx="366.20" cy="67.10" r="2.45" fill="#d6d6d6" stroke="#222" stroke-width="1.0"/>
<circle cx="407.10" cy="64.00" r="2.45" fill="#d6d6d6" stroke="#222" stroke-width="1.0"/>
<circle cx="401.30" cy="77.80" r="2.45" fill="#d6d6d6" stroke="#222" stroke-width="1.0"/>
<circle cx="420.40" cy="84.40" r="2.45" fill="#d6d6d6" stroke="#222" stroke-width="1.0"/>
<circle cx="423.80" cy="94.20" r="2.45" fill="#d6d6d6" stroke="#222" stroke-width="1.0"/>
<circle cx="412.90" cy="82.70" r="2.45" fill="#6fabe0" stroke="#222" stroke-width="1.0"/>
<circle cx="416.30" cy="83.30" r="2.45" fill="#6fabe0" stroke="#222" stroke-width="1.0"/>
<circle cx="431.90" cy="101.20" r="2.45" fill="#6fabe0" stroke="#222" stroke-width="1.0"/>
<circle cx="362.30" cy="93.30" r="2.45" fill="#6fabe0" stroke="#222" stroke-width="1.0"/>
<circle cx="407.70" cy="104.80" r="2.45" fill="#6fabe0" stroke="#222" stroke-width="1.0"/>
<circle cx="401.90" cy="110.40" r="2.45" fill="#6fabe0" stroke="#222" stroke-width="1.0"/>
<circle cx="392.50" cy="118.20" r="2.45" fill="#6fabe0" stroke="#222" stroke-width="1.0"/>
<circle cx="424.70" cy="117.70" r="2.45" fill="#6fabe0" stroke="#222" stroke-width="1.0"/>
<path d="M343.7 35.3 L345.9 37.1 L348.1 38.9 L350.3 40.7 L352.5 42.5 L354.7 44.3 L356.9 46.1 L359.1 47.8 L361.3 49.5 L363.5 51.2 L365.8 52.9 L368.0 54.5 L370.2 56.1 L372.4 57.7 L374.6 59.2 L376.8 60.7 L379.0 62.2 L381.2 63.5 L383.4 64.9 L385.6 66.1 L387.8 67.4 L390.0 68.5 L392.2 69.7 L394.4 70.7 L396.6 71.7 L398.8 72.7 L401.0 73.7 L403.2 74.6 L405.4 75.5 L407.6 76.3 L409.8 77.1 L412.1 77.9 L414.3 78.7 L416.5 79.5 L418.7 80.2 L420.9 80.9 L423.1 81.7 L425.3 82.4 L427.5 83.1 L429.7 83.8 L431.9 84.4 L431.9 118.0 L429.7 116.1 L427.5 114.3 L425.3 112.4 L423.1 110.6 L420.9 108.8 L418.7 107.0 L416.5 105.2 L414.3 103.5 L412.1 101.7 L409.8 100.0 L407.6 98.3 L405.4 96.6 L403.2 94.9 L401.0 93.3 L398.8 91.7 L396.6 90.2 L394.4 88.7 L392.2 87.2 L390.0 85.8 L387.8 84.4 L385.6 83.1 L383.4 81.9 L381.2 80.7 L379.0 79.5 L376.8 78.4 L374.6 77.4 L372.4 76.4 L370.2 75.4 L368.0 74.5 L365.8 73.6 L363.5 72.7 L361.3 71.9 L359.1 71.1 L356.9 70.3 L354.7 69.5 L352.5 68.8 L350.3 68.0 L348.1 67.3 L345.9 66.6 L343.7 65.9 Z" fill="#d2cdd2" fill-opacity="0.7"/>
<line x1="343.70" y1="50.60" x2="431.90" y2="101.20" stroke="#222" stroke-width="1.3" stroke-dasharray="2.6 1.7"/>
<text x="8.10" y="187.30" font-size="10.6" textLength="6.7" lengthAdjust="spacingAndGlyphs">C</text>
<path fill="#8886bb" d="M24.30 202.60h1.10v5.77h-1.10zM24.30 266.07h1.10v5.77h-1.10zM34.06 248.76h1.10v5.77h-1.10zM35.14 225.68h1.10v5.77h-1.10zM44.90 214.14h1.10v5.77h-1.10zM50.33 283.38h1.10v5.77h-1.10zM54.66 254.53h1.10v5.77h-1.10zM55.75 248.76h1.10v5.77h-1.10zM56.83 208.37h1.10v5.77h-1.10zM57.92 214.14h1.10v5.77h-1.10zM59.00 312.23h1.10v5.77h-1.10zM60.08 248.76h1.10v5.77h-1.10zM61.17 214.14h1.10v5.77h-1.10zM61.17 248.76h1.10v5.77h-1.10zM99.12 214.14h1.10v5.77h-1.10zM100.21 214.14h1.10v5.77h-1.10zM100.21 225.68h1.10v5.77h-1.10zM101.29 300.69h1.10v5.77h-1.10zM125.15 214.14h1.10v5.77h-1.10zM126.23 277.61h1.10v5.77h-1.10z"/>
<path fill="#9c9ac8" d="M24.30 208.37h1.10v5.77h-1.10zM24.30 289.15h1.10v5.77h-1.10zM26.47 219.91h1.10v5.77h-1.10zM29.72 214.14h1.10v5.77h-1.10zM34.06 225.68h1.10v5.77h-1.10zM35.14 289.15h1.10v5.77h-1.10zM40.57 231.45h1.10v5.77h-1.10zM40.57 283.38h1.10v5.77h-1.10zM43.82 306.46h1.10v5.77h-1.10zM44.90 208.37h1.10v5.77h-1.10zM44.90 225.68h1.10v5.77h-1.10zM44.90 260.30h1.10v5.77h-1.10zM45.99 237.22h1.10v5.77h-1.10zM48.16 237.22h1.10v5.77h-1.10zM49.24 202.60h1.10v5.77h-1.10zM49.24 219.91h1.10v5.77h-1.10zM49.24 283.38h1.10v5.77h-1.10zM54.66 231.45h1.10v11.54h-1.10zM54.66 283.38h1.10v5.77h-1.10zM55.75 254.53h1.10v5.77h-1.10zM56.83 231.45h1.10v5.77h-1.10zM56.83 248.76h1.10v5.77h-1.10zM57.92 208.37h1.10v5.77h-1.10zM57.92 225.68h1.10v5.77h-1.10zM59.00 225.68h1.10v11.54h-1.10zM59.00 260.30h1.10v5.77h-1.10zM59.00 306.46h1.10v5.77h-1.10zM60.08 306.46h1.10v5.77h-1.10zM61.17 237.22h1.10v5.77h-1.10zM61.17 283.38h1.10v11.54h-1.10zM62.25 283.38h1.10v5.77h-1.10zM66.59 231.45h1.10v11.54h-1.10zM68.76 231.45h1.10v5.77h-1.10zM75.27 237.22h1.10v5.77h-1.10zM77.43 231.45h1.10v11.54h-1.10zM77.43 289.15h1.10v5.77h-1.10zM78.52 225.68h1.10v5.77h-1.10zM80.69 231.45h1.10v5.77h-1.10zM80.69 248.76h1.10v11.54h-1.10zM81.77 214.14h1.10v5.77h-1.10zM86.11 254.53h1.10v5.77h-1.10zM88.28 202.60h1.10v5.77h-1.10zM96.95 219.91h1.10v5.77h-1.10zM99.12 237.22h1.10v5.77h-1.10zM100.21 219.91h1.10v5.77h-1.10zM100.21 231.45h1.10v5.77h-1.10zM100.21 266.07h1.10v5.77h-1.10zM101.29 231.45h1.10v5.77h-1.10zM109.97 231.45h1.10v5.77h-1.10zM113.22 219.91h1.10v5.77h-1.10zM113.22 283.38h1.10v5.77h-1.10zM117.56 283.38h1.10v5.77h-1.10zM121.89 214.14h1.10v5.77h-1.10zM127.32 219.91h1.10v5.77h-1.10zM130.57 225.68h1.10v5.77h-1.10zM133.82 202.60h1.10v5.77h-1.10z"/>
<path fill="#adabd2" d="M24.30 214.14h1.10v5.77h-1.10zM24.30 254.53h1.10v5.77h-1.10zM24.30 306.46h1.10v5.77h-1.10zM25.38 237.22h1.10v5.77h-1.10zM25.38 300.69h1.10v11.54h-1.10zM26.47 266.07h1.10v5.77h-1.10zM28.64 219.91h1.10v5.77h-1.10zM28.64 266.07h1.10v5.77h-1.10zM31.89 202.60h1.10v5.77h-1.10zM32.98 248.76h1.10v5.77h-1.10zM32.98 266.07h1.10v5.77h-1.10zM34.06 231.45h1.10v5.77h-1.10zM34.06 294.92h1.10v5.77h-1.10zM35.14 214.14h1.10v5.77h-1.10zM35.14 248.76h1.10v5.77h-1.10zM35.14 266.07h1.10v5.77h-1.10zM40.57 219.91h1.10v5.77h-1.10zM40.57 248.76h1.10v5.77h-1.10zM43.82 214.14h1.10v5.77h-1.10zM43.82 289.15h1.10v5.77h-1.10zM44.90 231.45h1.10v11.54h-1.10zM44.90 266.07h1.10v5.77h-1.10zM44.90 283.38h1.10v5.77h-1.10zM45.99 214.14h1.10v5.77h-1.10zM45.99 294.92h1.10v5.77h-1.10zM47.07 237.22h1.10v5.77h-1.10zM48.16 306.46h1.10v5.77h-1.10zM49.24 214.14h1.10v5.77h-1.10zM50.33 214.14h1.10v11.54h-1.10zM51.41 214.14h1.10v5.77h-1.10zM52.49 237.22h1.10v5.77h-1.10zM54.66 208.37h1.10v5.77h-1.10zM54.66 219.91h1.10v5.77h-1.10zM55.75 202.60h1.10v5.77h-1.10zM55.75 231.45h1.10v5.77h-1.10zM56.83 225.68h1.10v5.77h-1.10zM56.83 237.22h1.10v5.77h-1.10zM56.83 294.92h1.10v5.77h-1.10zM57.92 231.45h1.10v5.77h-1.10zM60.08 283.38h1.10v5.77h-1.10zM60.08 312.23h1.10v5.77h-1.10zM61.17 225.68h1.10v5.77h-1.10zM61.17 312.23h1.10v5.77h-1.10zM62.25 225.68h1.10v5.77h-1.10zM62.25 237.22h1.10v5.77h-1.10zM62.25 277.61h1.10v5.77h-1.10zM62.25 312.23h1.10v5.77h-1.10zM66.59 208.37h1.10v5.77h-1.10zM66.59 254.53h1.10v5.77h-1.10zM67.67 208.37h1.10v5.77h-1.10zM67.67 231.45h1.10v11.54h-1.10zM67.67 254.53h1.10v5.77h-1.10zM68.76 202.60h1.10v5.77h-1.10zM69.84 208.37h1.10v5.77h-1.10zM72.01 202.60h1.10v5.77h-1.10zM72.01 225.68h1.10v5.77h-1.10zM72.01 266.07h1.10v5.77h-1.10zM73.10 202.60h1.10v5.77h-1.10zM73.10 214.14h1.10v5.77h-1.10zM73.10 225.68h1.10v5.77h-1.10zM74.18 225.68h1.10v5.77h-1.10zM74.18 237.22h1.10v5.77h-1.10zM76.35 231.45h1.10v5.77h-1.10zM77.43 248.76h1.10v5.77h-1.10zM78.52 277.61h1.10v5.77h-1.10zM79.60 208.37h1.10v5.77h-1.10zM80.69 202.60h1.10v5.77h-1.10zM81.77 219.91h1.10v11.54h-1.10zM86.11 231.45h1.10v5.77h-1.10zM86.11 248.76h1.10v5.77h-1.10zM87.19 225.68h1.10v5.77h-1.10zM89.36 294.92h1.10v5.77h-1.10zM90.45 248.76h1.10v5.77h-1.10zM94.78 214.14h1.10v5.77h-1.10zM94.78 225.68h1.10v5.77h-1.10zM95.87 214.14h1.10v5.77h-1.10zM96.95 202.60h1.10v5.77h-1.10zM98.04 214.14h1.10v5.77h-1.10zM98.04 289.15h1.10v5.77h-1.10zM99.12 219.91h1.10v5.77h-1.10zM100.21 312.23h1.10v5.77h-1.10zM101.29 225.68h1.10v5.77h-1.10zM101.29 248.76h1.10v5.77h-1.10zM102.38 231.45h1.10v5.77h-1.10zM108.88 202.60h1.10v5.77h-1.10zM108.88 231.45h1.10v5.77h-1.10zM109.97 266.07h1.10v5.77h-1.10zM112.13 208.37h1.10v5.77h-1.10zM114.30 283.38h1.10v5.77h-1.10zM115.39 231.45h1.10v5.77h-1.10zM115.39 271.84h1.10v5.77h-1.10zM116.47 231.45h1.10v5.77h-1.10zM122.98 214.14h1.10v5.77h-1.10zM125.15 242.99h1.10v5.77h-1.10zM126.23 225.68h1.10v5.77h-1.10zM126.23 266.07h1.10v5.77h-1.10zM126.23 306.46h1.10v5.77h-1.10zM127.32 202.60h1.10v5.77h-1.10zM130.57 214.14h1.10v5.77h-1.10zM130.57 231.45h1.10v5.77h-1.10zM130.57 294.92h1.10v5.77h-1.10zM132.74 214.14h1.10v5.77h-1.10zM133.82 219.91h1.10v5.77h-1.10zM133.82 271.84h1.10v5.77h-1.10zM134.91 225.68h1.10v5.77h-1.10zM137.08 283.38h1.10v5.77h-1.10z"/>
<path fill="#7d7cb4" d="M24.30 219.91h1.10v5.77h-1.10zM28.64 260.30h1.10v5.77h-1.10zM29.72 219.91h1.10v5.77h-1.10zM49.24 248.76h1.10v5.77h-1.10zM59.00 254.53h1.10v5.77h-1.10zM79.60 248.76h1.10v5.77h-1.10zM100.21 202.60h1.10v5.77h-1.10zM118.64 208.37h1.10v5.77h-1.10z"/>
<path fill="#9290c1" d="M24.30 225.68h1.10v5.77h-1.10zM25.38 266.07h1.10v5.77h-1.10zM28.64 208.37h1.10v5.77h-1.10zM30.81 219.91h1.10v5.77h-1.10zM34.06 271.84h1.10v5.77h-1.10zM36.23 202.60h1.10v5.77h-1.10zM48.16 202.60h1.10v5.77h-1.10zM57.92 202.60h1.10v5.77h-1.10zM57.92 219.91h1.10v5.77h-1.10zM59.00 208.37h1.10v11.54h-1.10zM59.00 248.76h1.10v5.77h-1.10zM61.17 266.07h1.10v5.77h-1.10zM61.17 306.46h1.10v5.77h-1.10zM62.25 214.14h1.10v5.77h-1.10zM62.25 248.76h1.10v5.77h-1.10zM69.84 202.60h1.10v5.77h-1.10zM70.93 202.60h1.10v5.77h-1.10zM73.10 231.45h1.10v5.77h-1.10zM81.77 300.69h1.10v5.77h-1.10zM87.19 254.53h1.10v5.77h-1.10zM88.28 231.45h1.10v5.77h-1.10zM93.70 289.15h1.10v5.77h-1.10zM95.87 219.91h1.10v5.77h-1.10zM95.87 289.15h1.10v5.77h-1.10zM100.21 237.22h1.10v5.77h-1.10zM117.56 248.76h1.10v5.77h-1.10zM118.64 202.60h1.10v5.77h-1.10zM118.64 283.38h1.10v5.77h-1.10zM125.15 219.91h1.10v5.77h-1.10zM132.74 202.60h1.10v5.77h-1.10zM132.74 219.91h1.10v5.77h-1.10zM133.82 225.68h1.10v5.77h-1.10z"/>
<path fill="#a6a4ce" d="M24.30 231.45h1.10v11.54h-1.10zM24.30 283.38h1.10v5.77h-1.10zM26.47 202.60h1.10v5.77h-1.10zM26.47 254.53h1.10v5.77h-1.10zM27.55 214.14h1.10v5.77h-1.10zM27.55 225.68h1.10v5.77h-1.10zM27.55 254.53h1.10v5.77h-1.10zM27.55 283.38h1.10v5.77h-1.10zM28.64 214.14h1.10v5.77h-1.10zM28.64 225.68h1.10v5.77h-1.10zM28.64 248.76h1.10v5.77h-1.10zM28.64 289.15h1.10v5.77h-1.10zM29.72 208.37h1.10v5.77h-1.10zM32.98 202.60h1.10v5.77h-1.10zM32.98 214.14h1.10v5.77h-1.10zM32.98 271.84h1.10v5.77h-1.10zM34.06 208.37h1.10v5.77h-1.10zM34.06 260.30h1.10v5.77h-1.10zM36.23 214.14h1.10v5.77h-1.10zM36.23 248.76h1.10v5.77h-1.10zM36.23 289.15h1.10v5.77h-1.10zM43.82 260.30h1.10v5.77h-1.10zM44.90 202.60h1.10v5.77h-1.10zM45.99 202.60h1.10v11.54h-1.10zM47.07 202.60h1.10v5.77h-1.10zM49.24 208.37h1.10v5.77h-1.10zM49.24 294.92h1.10v5.77h-1.10zM50.33 225.68h1.10v5.77h-1.10zM51.41 283.38h1.10v5.77h-1.10zM52.49 289.15h1.10v5.77h-1.10zM55.75 237.22h1.10v5.77h-1.10zM56.83 202.60h1.10v5.77h-1.10zM56.83 214.14h1.10v11.54h-1.10zM56.83 312.23h1.10v5.77h-1.10zM57.92 248.76h1.10v11.54h-1.10zM59.00 237.22h1.10v5.77h-1.10zM59.00 277.61h1.10v5.77h-1.10zM59.00 300.69h1.10v5.77h-1.10zM60.08 202.60h1.10v40.39h-1.10zM60.08 254.53h1.10v5.77h-1.10zM60.08 289.15h1.10v5.77h-1.10zM61.17 260.30h1.10v5.77h-1.10zM61.17 294.92h1.10v5.77h-1.10zM62.25 266.07h1.10v5.77h-1.10zM62.25 294.92h1.10v5.77h-1.10zM66.59 289.15h1.10v5.77h-1.10zM70.93 231.45h1.10v5.77h-1.10zM70.93 283.38h1.10v5.77h-1.10zM72.01 283.38h1.10v5.77h-1.10zM74.18 231.45h1.10v5.77h-1.10zM75.27 242.99h1.10v5.77h-1.10zM75.27 254.53h1.10v5.77h-1.10zM76.35 237.22h1.10v5.77h-1.10zM77.43 277.61h1.10v5.77h-1.10zM78.52 231.45h1.10v5.77h-1.10zM88.28 225.68h1.10v5.77h-1.10zM95.87 225.68h1.10v5.77h-1.10zM96.95 289.15h1.10v5.77h-1.10zM98.04 202.60h1.10v5.77h-1.10zM100.21 248.76h1.10v5.77h-1.10zM100.21 300.69h1.10v5.77h-1.10zM101.29 202.60h1.10v5.77h-1.10zM101.29 266.07h1.10v5.77h-1.10zM102.38 202.60h1.10v11.54h-1.10zM111.05 231.45h1.10v5.77h-1.10zM113.22 266.07h1.10v5.77h-1.10zM116.47 225.68h1.10v5.77h-1.10zM118.64 219.91h1.10v5.77h-1.10zM118.64 237.22h1.10v5.77h-1.10zM118.64 248.76h1.10v5.77h-1.10zM125.15 248.76h1.10v5.77h-1.10zM125.15 306.46h1.10v5.77h-1.10zM126.23 271.84h1.10v5.77h-1.10zM129.48 219.91h1.10v5.77h-1.10zM134.91 248.76h1.10v5.77h-1.10z"/>
<path fill="#d1cfe5" d="M24.30 242.99h1.10v5.77h-1.10zM25.38 208.37h1.10v5.77h-1.10zM25.38 277.61h1.10v5.77h-1.10zM25.38 294.92h1.10v5.77h-1.10zM26.47 294.92h1.10v5.77h-1.10zM27.55 208.37h1.10v5.77h-1.10zM27.55 277.61h1.10v5.77h-1.10zM27.55 306.46h1.10v5.77h-1.10zM29.72 202.60h1.10v5.77h-1.10zM29.72 294.92h1.10v11.54h-1.10zM29.72 312.23h1.10v5.77h-1.10zM30.81 214.14h1.10v5.77h-1.10zM30.81 237.22h1.10v5.77h-1.10zM30.81 289.15h1.10v5.77h-1.10zM31.89 306.46h1.10v5.77h-1.10zM32.98 219.91h1.10v5.77h-1.10zM35.14 219.91h1.10v5.77h-1.10zM35.14 242.99h1.10v5.77h-1.10zM35.14 300.69h1.10v5.77h-1.10zM36.23 219.91h1.10v5.77h-1.10zM36.23 260.30h1.10v5.77h-1.10zM36.23 283.38h1.10v5.77h-1.10zM36.23 312.23h1.10v5.77h-1.10zM37.31 294.92h1.10v5.77h-1.10zM39.48 208.37h1.10v5.77h-1.10zM40.57 260.30h1.10v5.77h-1.10zM40.57 300.69h1.10v5.77h-1.10zM41.65 283.38h1.10v5.77h-1.10zM42.73 202.60h1.10v5.77h-1.10zM42.73 231.45h1.10v5.77h-1.10zM43.82 202.60h1.10v5.77h-1.10zM43.82 266.07h1.10v5.77h-1.10zM44.90 271.84h1.10v5.77h-1.10zM45.99 219.91h1.10v5.77h-1.10zM45.99 242.99h1.10v5.77h-1.10zM45.99 271.84h1.10v5.77h-1.10zM45.99 283.38h1.10v5.77h-1.10zM47.07 219.91h1.10v5.77h-1.10zM47.07 277.61h1.10v5.77h-1.10zM48.16 231.45h1.10v5.77h-1.10zM48.16 289.15h1.10v5.77h-1.10zM49.24 254.53h1.10v5.77h-1.10zM50.33 237.22h1.10v5.77h-1.10zM50.33 306.46h1.10v11.54h-1.10zM51.41 266.07h1.10v5.77h-1.10zM51.41 300.69h1.10v5.77h-1.10zM52.49 254.53h1.10v5.77h-1.10zM52.49 266.07h1.10v11.54h-1.10zM53.58 225.68h1.10v5.77h-1.10zM53.58 312.23h1.10v5.77h-1.10zM54.66 289.15h1.10v5.77h-1.10zM56.83 277.61h1.10v5.77h-1.10zM57.92 266.07h1.10v5.77h-1.10zM57.92 306.46h1.10v5.77h-1.10zM59.00 266.07h1.10v5.77h-1.10zM59.00 289.15h1.10v11.54h-1.10zM60.08 266.07h1.10v5.77h-1.10zM61.17 242.99h1.10v5.77h-1.10zM62.25 202.60h1.10v5.77h-1.10zM63.34 208.37h1.10v5.77h-1.10zM64.42 231.45h1.10v5.77h-1.10zM64.42 254.53h1.10v5.77h-1.10zM65.51 202.60h1.10v5.77h-1.10zM65.51 254.53h1.10v5.77h-1.10zM65.51 289.15h1.10v5.77h-1.10zM65.51 300.69h1.10v5.77h-1.10zM66.59 277.61h1.10v5.77h-1.10zM66.59 300.69h1.10v5.77h-1.10zM66.59 312.23h1.10v5.77h-1.10zM67.67 283.38h1.10v5.77h-1.10zM67.67 300.69h1.10v5.77h-1.10zM68.76 254.53h1.10v5.77h-1.10zM68.76 271.84h1.10v5.77h-1.10zM69.84 237.22h1.10v5.77h-1.10zM69.84 306.46h1.10v5.77h-1.10zM72.01 237.22h1.10v11.54h-1.10zM73.10 271.84h1.10v5.77h-1.10zM73.10 283.38h1.10v5.77h-1.10zM73.10 294.92h1.10v11.54h-1.10zM74.18 214.14h1.10v5.77h-1.10zM74.18 242.99h1.10v5.77h-1.10zM74.18 289.15h1.10v5.77h-1.10zM75.27 271.84h1.10v5.77h-1.10zM75.27 306.46h1.10v5.77h-1.10zM76.35 289.15h1.10v5.77h-1.10zM77.43 214.14h1.10v5.77h-1.10zM77.43 242.99h1.10v5.77h-1.10zM77.43 260.30h1.10v5.77h-1.10zM77.43 283.38h1.10v5.77h-1.10zM78.52 214.14h1.10v5.77h-1.10zM78.52 254.53h1.10v5.77h-1.10zM79.60 237.22h1.10v5.77h-1.10zM79.60 306.46h1.10v5.77h-1.10zM80.69 271.84h1.10v5.77h-1.10zM81.77 237.22h1.10v5.77h-1.10zM81.77 294.92h1.10v5.77h-1.10zM82.86 208.37h1.10v5.77h-1.10zM82.86 219.91h1.10v5.77h-1.10zM82.86 254.53h1.10v5.77h-1.10zM85.03 225.68h1.10v11.54h-1.10zM85.03 254.53h1.10v5.77h-1.10zM85.03 271.84h1.10v5.77h-1.10zM86.11 219.91h1.10v5.77h-1.10zM86.11 300.69h1.10v5.77h-1.10zM87.19 208.37h1.10v5.77h-1.10zM87.19 271.84h1.10v5.77h-1.10zM87.19 289.15h1.10v5.77h-1.10zM87.19 306.46h1.10v5.77h-1.10zM89.36 214.14h1.10v5.77h-1.10zM90.45 271.84h1.10v5.77h-1.10zM91.53 248.76h1.10v5.77h-1.10zM91.53 271.84h1.10v5.77h-1.10zM91.53 300.69h1.10v5.77h-1.10zM92.62 294.92h1.10v5.77h-1.10zM92.62 312.23h1.10v5.77h-1.10zM93.70 219.91h1.10v5.77h-1.10zM93.70 237.22h1.10v5.77h-1.10zM94.78 208.37h1.10v5.77h-1.10zM94.78 248.76h1.10v5.77h-1.10zM96.95 237.22h1.10v5.77h-1.10zM96.95 254.53h1.10v5.77h-1.10zM96.95 312.23h1.10v5.77h-1.10zM99.12 208.37h1.10v5.77h-1.10zM99.12 283.38h1.10v11.54h-1.10zM100.21 242.99h1.10v5.77h-1.10zM100.21 289.15h1.10v5.77h-1.10zM102.38 242.99h1.10v5.77h-1.10zM103.46 214.14h1.10v5.77h-1.10zM103.46 254.53h1.10v5.77h-1.10zM104.54 202.60h1.10v5.77h-1.10zM104.54 214.14h1.10v5.77h-1.10zM104.54 225.68h1.10v5.77h-1.10zM104.54 260.30h1.10v5.77h-1.10zM105.63 271.84h1.10v5.77h-1.10zM105.63 294.92h1.10v5.77h-1.10zM106.71 219.91h1.10v5.77h-1.10zM106.71 248.76h1.10v5.77h-1.10zM108.88 300.69h1.10v5.77h-1.10zM109.97 300.69h1.10v5.77h-1.10zM111.05 225.68h1.10v5.77h-1.10zM111.05 271.84h1.10v5.77h-1.10zM112.13 202.60h1.10v5.77h-1.10zM112.13 237.22h1.10v5.77h-1.10zM112.13 248.76h1.10v5.77h-1.10zM113.22 242.99h1.10v5.77h-1.10zM113.22 312.23h1.10v5.77h-1.10zM114.30 219.91h1.10v11.54h-1.10zM114.30 248.76h1.10v5.77h-1.10zM115.39 237.22h1.10v5.77h-1.10zM115.39 260.30h1.10v5.77h-1.10zM115.39 283.38h1.10v5.77h-1.10zM116.47 219.91h1.10v5.77h-1.10zM116.47 237.22h1.10v5.77h-1.10zM116.47 254.53h1.10v5.77h-1.10zM116.47 283.38h1.10v5.77h-1.10zM116.47 300.69h1.10v5.77h-1.10zM118.64 289.15h1.10v5.77h-1.10zM119.73 208.37h1.10v5.77h-1.10zM120.81 208.37h1.10v5.77h-1.10zM120.81 225.68h1.10v5.77h-1.10zM121.89 225.68h1.10v5.77h-1.10zM121.89 248.76h1.10v5.77h-1.10zM122.98 225.68h1.10v11.54h-1.10zM122.98 248.76h1.10v5.77h-1.10zM124.06 237.22h1.10v5.77h-1.10zM124.06 248.76h1.10v5.77h-1.10zM124.06 260.30h1.10v11.54h-1.10zM124.06 289.15h1.10v5.77h-1.10zM124.06 306.46h1.10v5.77h-1.10zM126.23 289.15h1.10v5.77h-1.10zM127.32 266.07h1.10v5.77h-1.10zM127.32 289.15h1.10v5.77h-1.10zM127.32 300.69h1.10v5.77h-1.10zM128.40 208.37h1.10v5.77h-1.10zM128.40 277.61h1.10v5.77h-1.10zM129.48 237.22h1.10v5.77h-1.10zM129.48 266.07h1.10v5.77h-1.10zM129.48 283.38h1.10v5.77h-1.10zM130.57 208.37h1.10v5.77h-1.10zM130.57 271.84h1.10v5.77h-1.10zM130.57 283.38h1.10v11.54h-1.10zM131.65 231.45h1.10v11.54h-1.10zM131.65 254.53h1.10v5.77h-1.10zM132.74 254.53h1.10v5.77h-1.10zM132.74 266.07h1.10v5.77h-1.10zM133.82 277.61h1.10v5.77h-1.10zM134.91 306.46h1.10v5.77h-1.10zM137.08 260.30h1.10v5.77h-1.10zM138.16 289.15h1.10v5.77h-1.10zM138.16 300.69h1.10v5.77h-1.10zM138.16 312.23h1.10v5.77h-1.10zM140.33 219.91h1.10v5.77h-1.10zM162.02 300.69h1.10v5.77h-1.10z"/>
<path fill="#bcbada" d="M24.30 248.76h1.10v5.77h-1.10zM24.30 271.84h1.10v11.54h-1.10zM24.30 294.92h1.10v5.77h-1.10zM26.47 283.38h1.10v5.77h-1.10zM28.64 283.38h1.10v5.77h-1.10zM29.72 225.68h1.10v5.77h-1.10zM29.72 260.30h1.10v5.77h-1.10zM30.81 225.68h1.10v11.54h-1.10zM30.81 266.07h1.10v5.77h-1.10zM30.81 306.46h1.10v11.54h-1.10zM31.89 208.37h1.10v5.77h-1.10zM31.89 248.76h1.10v5.77h-1.10zM32.98 312.23h1.10v5.77h-1.10zM34.06 266.07h1.10v5.77h-1.10zM34.06 306.46h1.10v5.77h-1.10zM35.14 260.30h1.10v5.77h-1.10zM35.14 271.84h1.10v5.77h-1.10zM37.31 248.76h1.10v5.77h-1.10zM37.31 289.15h1.10v5.77h-1.10zM39.48 214.14h1.10v11.54h-1.10zM39.48 231.45h1.10v5.77h-1.10zM40.57 202.60h1.10v5.77h-1.10zM42.73 208.37h1.10v5.77h-1.10zM43.82 219.91h1.10v5.77h-1.10zM43.82 237.22h1.10v5.77h-1.10zM43.82 283.38h1.10v5.77h-1.10zM45.99 225.68h1.10v11.54h-1.10zM47.07 294.92h1.10v5.77h-1.10zM48.16 219.91h1.10v11.54h-1.10zM48.16 271.84h1.10v5.77h-1.10zM49.24 242.99h1.10v5.77h-1.10zM49.24 289.15h1.10v5.77h-1.10zM49.24 306.46h1.10v5.77h-1.10zM50.33 289.15h1.10v5.77h-1.10zM51.41 237.22h1.10v5.77h-1.10zM51.41 248.76h1.10v5.77h-1.10zM52.49 283.38h1.10v5.77h-1.10zM52.49 312.23h1.10v5.77h-1.10zM53.58 214.14h1.10v5.77h-1.10zM53.58 237.22h1.10v5.77h-1.10zM54.66 271.84h1.10v11.54h-1.10zM55.75 208.37h1.10v5.77h-1.10zM55.75 260.30h1.10v5.77h-1.10zM55.75 294.92h1.10v5.77h-1.10zM55.75 306.46h1.10v5.77h-1.10zM56.83 306.46h1.10v5.77h-1.10zM59.00 219.91h1.10v5.77h-1.10zM59.00 242.99h1.10v5.77h-1.10zM60.08 260.30h1.10v5.77h-1.10zM61.17 277.61h1.10v5.77h-1.10zM62.25 208.37h1.10v5.77h-1.10zM62.25 231.45h1.10v5.77h-1.10zM62.25 260.30h1.10v5.77h-1.10zM62.25 306.46h1.10v5.77h-1.10zM64.42 283.38h1.10v5.77h-1.10zM66.59 202.60h1.10v5.77h-1.10zM68.76 208.37h1.10v5.77h-1.10zM69.84 248.76h1.10v5.77h-1.10zM69.84 300.69h1.10v5.77h-1.10zM70.93 260.30h1.10v11.54h-1.10zM72.01 219.91h1.10v5.77h-1.10zM72.01 254.53h1.10v5.77h-1.10zM73.10 208.37h1.10v5.77h-1.10zM73.10 219.91h1.10v5.77h-1.10zM73.10 237.22h1.10v5.77h-1.10zM73.10 248.76h1.10v5.77h-1.10zM74.18 248.76h1.10v17.31h-1.10zM75.27 219.91h1.10v5.77h-1.10zM75.27 277.61h1.10v5.77h-1.10zM75.27 312.23h1.10v5.77h-1.10zM76.35 248.76h1.10v11.54h-1.10zM77.43 266.07h1.10v5.77h-1.10zM78.52 289.15h1.10v5.77h-1.10zM79.60 225.68h1.10v5.77h-1.10zM79.60 266.07h1.10v5.77h-1.10zM80.69 266.07h1.10v5.77h-1.10zM81.77 202.60h1.10v5.77h-1.10zM81.77 231.45h1.10v5.77h-1.10zM81.77 254.53h1.10v5.77h-1.10zM83.94 254.53h1.10v5.77h-1.10zM85.03 248.76h1.10v5.77h-1.10zM88.28 208.37h1.10v5.77h-1.10zM88.28 277.61h1.10v11.54h-1.10zM88.28 312.23h1.10v5.77h-1.10zM89.36 231.45h1.10v5.77h-1.10zM89.36 248.76h1.10v5.77h-1.10zM90.45 219.91h1.10v5.77h-1.10zM90.45 260.30h1.10v5.77h-1.10zM90.45 300.69h1.10v5.77h-1.10zM91.53 294.92h1.10v5.77h-1.10zM92.62 202.60h1.10v11.54h-1.10zM93.70 225.68h1.10v5.77h-1.10zM94.78 219.91h1.10v5.77h-1.10zM94.78 260.30h1.10v5.77h-1.10zM95.87 266.07h1.10v5.77h-1.10zM95.87 300.69h1.10v11.54h-1.10zM96.95 214.14h1.10v5.77h-1.10zM96.95 231.45h1.10v5.77h-1.10zM96.95 266.07h1.10v5.77h-1.10zM98.04 248.76h1.10v5.77h-1.10zM99.12 225.68h1.10v5.77h-1.10zM101.29 208.37h1.10v11.54h-1.10zM101.29 237.22h1.10v11.54h-1.10zM101.29 254.53h1.10v5.77h-1.10zM101.29 277.61h1.10v5.77h-1.10zM102.38 214.14h1.10v5.77h-1.10zM102.38 283.38h1.10v5.77h-1.10zM104.54 208.37h1.10v5.77h-1.10zM105.63 225.68h1.10v5.77h-1.10zM107.80 202.60h1.10v5.77h-1.10zM108.88 225.68h1.10v5.77h-1.10zM108.88 277.61h1.10v5.77h-1.10zM109.97 237.22h1.10v5.77h-1.10zM111.05 266.07h1.10v5.77h-1.10zM112.13 214.14h1.10v5.77h-1.10zM112.13 231.45h1.10v5.77h-1.10zM112.13 271.84h1.10v5.77h-1.10zM113.22 202.60h1.10v11.54h-1.10zM114.30 208.37h1.10v5.77h-1.10zM115.39 225.68h1.10v5.77h-1.10zM118.64 225.68h1.10v5.77h-1.10zM118.64 260.30h1.10v5.77h-1.10zM118.64 294.92h1.10v5.77h-1.10zM119.73 202.60h1.10v5.77h-1.10zM120.81 219.91h1.10v5.77h-1.10zM121.89 208.37h1.10v5.77h-1.10zM125.15 225.68h1.10v5.77h-1.10zM125.15 237.22h1.10v5.77h-1.10zM125.15 260.30h1.10v5.77h-1.10zM125.15 300.69h1.10v5.77h-1.10zM126.23 202.60h1.10v5.77h-1.10zM126.23 219.91h1.10v5.77h-1.10zM126.23 254.53h1.10v5.77h-1.10zM127.32 214.14h1.10v5.77h-1.10zM127.32 225.68h1.10v5.77h-1.10zM127.32 237.22h1.10v5.77h-1.10zM127.32 271.84h1.10v5.77h-1.10zM127.32 312.23h1.10v5.77h-1.10zM128.40 214.14h1.10v5.77h-1.10zM128.40 237.22h1.10v5.77h-1.10zM129.48 214.14h1.10v5.77h-1.10zM129.48 271.84h1.10v5.77h-1.10zM130.57 237.22h1.10v5.77h-1.10zM130.57 266.07h1.10v5.77h-1.10zM131.65 202.60h1.10v5.77h-1.10zM131.65 225.68h1.10v5.77h-1.10zM132.74 260.30h1.10v5.77h-1.10zM132.74 283.38h1.10v5.77h-1.10zM132.74 306.46h1.10v5.77h-1.10zM133.82 231.45h1.10v5.77h-1.10zM133.82 283.38h1.10v5.77h-1.10zM137.08 300.69h1.10v5.77h-1.10zM146.83 271.84h1.10v5.77h-1.10zM146.83 300.69h1.10v11.54h-1.10z"/>
<path fill="#b4b2d6" d="M24.30 260.30h1.10v5.77h-1.10zM25.38 202.60h1.10v5.77h-1.10zM28.64 254.53h1.10v5.77h-1.10zM28.64 306.46h1.10v5.77h-1.10zM29.72 231.45h1.10v5.77h-1.10zM29.72 283.38h1.10v5.77h-1.10zM32.98 237.22h1.10v5.77h-1.10zM32.98 277.61h1.10v5.77h-1.10zM32.98 289.15h1.10v11.54h-1.10zM34.06 300.69h1.10v5.77h-1.10zM35.14 202.60h1.10v5.77h-1.10zM35.14 254.53h1.10v5.77h-1.10zM35.14 306.46h1.10v5.77h-1.10zM36.23 271.84h1.10v5.77h-1.10zM36.23 306.46h1.10v5.77h-1.10zM37.31 202.60h1.10v5.77h-1.10zM37.31 225.68h1.10v5.77h-1.10zM38.40 271.84h1.10v5.77h-1.10zM39.48 237.22h1.10v5.77h-1.10zM40.57 271.84h1.10v5.77h-1.10zM40.57 294.92h1.10v5.77h-1.10zM42.73 248.76h1.10v5.77h-1.10zM43.82 294.92h1.10v5.77h-1.10zM44.90 294.92h1.10v5.77h-1.10zM45.99 266.07h1.10v5.77h-1.10zM45.99 306.46h1.10v5.77h-1.10zM47.07 283.38h1.10v5.77h-1.10zM49.24 225.68h1.10v5.77h-1.10zM52.49 214.14h1.10v5.77h-1.10zM53.58 283.38h1.10v5.77h-1.10zM54.66 202.60h1.10v5.77h-1.10zM54.66 225.68h1.10v5.77h-1.10zM54.66 300.69h1.10v17.31h-1.10zM55.75 225.68h1.10v5.77h-1.10zM55.75 266.07h1.10v5.77h-1.10zM56.83 254.53h1.10v5.77h-1.10zM56.83 300.69h1.10v5.77h-1.10zM57.92 237.22h1.10v5.77h-1.10zM57.92 312.23h1.10v5.77h-1.10zM59.00 283.38h1.10v5.77h-1.10zM60.08 277.61h1.10v5.77h-1.10zM60.08 294.92h1.10v11.54h-1.10zM61.17 219.91h1.10v5.77h-1.10zM61.17 300.69h1.10v5.77h-1.10zM62.25 219.91h1.10v5.77h-1.10zM67.67 202.60h1.10v5.77h-1.10zM67.67 214.14h1.10v5.77h-1.10zM67.67 289.15h1.10v5.77h-1.10zM69.84 254.53h1.10v5.77h-1.10zM70.93 208.37h1.10v5.77h-1.10zM70.93 242.99h1.10v5.77h-1.10zM70.93 254.53h1.10v5.77h-1.10zM72.01 260.30h1.10v5.77h-1.10zM73.10 254.53h1.10v5.77h-1.10zM73.10 306.46h1.10v5.77h-1.10zM74.18 202.60h1.10v5.77h-1.10zM74.18 219.91h1.10v5.77h-1.10zM74.18 266.07h1.10v5.77h-1.10zM75.27 214.14h1.10v5.77h-1.10zM75.27 231.45h1.10v5.77h-1.10zM75.27 248.76h1.10v5.77h-1.10zM75.27 266.07h1.10v5.77h-1.10zM75.27 289.15h1.10v5.77h-1.10zM77.43 254.53h1.10v5.77h-1.10zM79.60 219.91h1.10v5.77h-1.10zM79.60 231.45h1.10v5.77h-1.10zM79.60 300.69h1.10v5.77h-1.10zM80.69 208.37h1.10v11.54h-1.10zM81.77 208.37h1.10v5.77h-1.10zM87.19 231.45h1.10v5.77h-1.10zM88.28 248.76h1.10v5.77h-1.10zM88.28 271.84h1.10v5.77h-1.10zM88.28 306.46h1.10v5.77h-1.10zM89.36 219.91h1.10v5.77h-1.10zM90.45 231.45h1.10v5.77h-1.10zM90.45 294.92h1.10v5.77h-1.10zM92.62 248.76h1.10v5.77h-1.10zM93.70 208.37h1.10v11.54h-1.10zM94.78 289.15h1.10v5.77h-1.10zM95.87 231.45h1.10v5.77h-1.10zM96.95 300.69h1.10v5.77h-1.10zM98.04 219.91h1.10v11.54h-1.10zM98.04 237.22h1.10v5.77h-1.10zM99.12 248.76h1.10v11.54h-1.10zM100.21 208.37h1.10v5.77h-1.10zM100.21 254.53h1.10v5.77h-1.10zM100.21 277.61h1.10v5.77h-1.10zM101.29 312.23h1.10v5.77h-1.10zM102.38 219.91h1.10v11.54h-1.10zM102.38 248.76h1.10v5.77h-1.10zM108.88 214.14h1.10v5.77h-1.10zM109.97 225.68h1.10v5.77h-1.10zM112.13 219.91h1.10v11.54h-1.10zM113.22 225.68h1.10v17.31h-1.10zM117.56 219.91h1.10v5.77h-1.10zM117.56 237.22h1.10v5.77h-1.10zM118.64 214.14h1.10v5.77h-1.10zM121.89 237.22h1.10v5.77h-1.10zM121.89 254.53h1.10v5.77h-1.10zM124.06 214.14h1.10v5.77h-1.10zM125.15 202.60h1.10v5.77h-1.10zM125.15 254.53h1.10v5.77h-1.10zM125.15 266.07h1.10v11.54h-1.10zM126.23 231.45h1.10v5.77h-1.10zM126.23 242.99h1.10v5.77h-1.10zM127.32 277.61h1.10v5.77h-1.10zM129.48 248.76h1.10v5.77h-1.10zM130.57 202.60h1.10v5.77h-1.10zM130.57 248.76h1.10v5.77h-1.10zM131.65 214.14h1.10v5.77h-1.10zM132.74 225.68h1.10v11.54h-1.10zM132.74 312.23h1.10v5.77h-1.10zM133.82 208.37h1.10v5.77h-1.10zM133.82 248.76h1.10v5.77h-1.10zM138.16 254.53h1.10v5.77h-1.10zM147.92 294.92h1.10v5.77h-1.10z"/>
<path fill="#c3c1dd" d="M24.30 300.69h1.10v5.77h-1.10zM25.38 260.30h1.10v5.77h-1.10zM27.55 219.91h1.10v5.77h-1.10zM27.55 248.76h1.10v5.77h-1.10zM27.55 312.23h1.10v5.77h-1.10zM28.64 231.45h1.10v5.77h-1.10zM28.64 294.92h1.10v5.77h-1.10zM29.72 266.07h1.10v11.54h-1.10zM30.81 260.30h1.10v5.77h-1.10zM31.89 214.14h1.10v11.54h-1.10zM31.89 266.07h1.10v5.77h-1.10zM32.98 208.37h1.10v5.77h-1.10zM32.98 231.45h1.10v5.77h-1.10zM32.98 260.30h1.10v5.77h-1.10zM34.06 237.22h1.10v5.77h-1.10zM35.14 208.37h1.10v5.77h-1.10zM36.23 208.37h1.10v5.77h-1.10zM36.23 266.07h1.10v5.77h-1.10zM37.31 271.84h1.10v5.77h-1.10zM39.48 260.30h1.10v5.77h-1.10zM39.48 271.84h1.10v5.77h-1.10zM40.57 237.22h1.10v5.77h-1.10zM40.57 254.53h1.10v5.77h-1.10zM41.65 202.60h1.10v5.77h-1.10zM41.65 231.45h1.10v5.77h-1.10zM41.65 248.76h1.10v5.77h-1.10zM42.73 219.91h1.10v5.77h-1.10zM42.73 260.30h1.10v5.77h-1.10zM42.73 289.15h1.10v5.77h-1.10zM43.82 208.37h1.10v5.77h-1.10zM43.82 231.45h1.10v5.77h-1.10zM43.82 271.84h1.10v5.77h-1.10zM44.90 254.53h1.10v5.77h-1.10zM44.90 277.61h1.10v5.77h-1.10zM44.90 306.46h1.10v11.54h-1.10zM45.99 277.61h1.10v5.77h-1.10zM47.07 225.68h1.10v5.77h-1.10zM47.07 306.46h1.10v5.77h-1.10zM48.16 214.14h1.10v5.77h-1.10zM48.16 277.61h1.10v11.54h-1.10zM49.24 312.23h1.10v5.77h-1.10zM50.33 208.37h1.10v5.77h-1.10zM50.33 231.45h1.10v5.77h-1.10zM50.33 254.53h1.10v11.54h-1.10zM50.33 294.92h1.10v5.77h-1.10zM51.41 225.68h1.10v11.54h-1.10zM51.41 254.53h1.10v5.77h-1.10zM51.41 312.23h1.10v5.77h-1.10zM52.49 219.91h1.10v5.77h-1.10zM52.49 231.45h1.10v5.77h-1.10zM53.58 231.45h1.10v5.77h-1.10zM53.58 254.53h1.10v5.77h-1.10zM54.66 214.14h1.10v5.77h-1.10zM55.75 219.91h1.10v5.77h-1.10zM55.75 312.23h1.10v5.77h-1.10zM56.83 283.38h1.10v5.77h-1.10zM57.92 283.38h1.10v5.77h-1.10zM57.92 300.69h1.10v5.77h-1.10zM59.00 271.84h1.10v5.77h-1.10zM60.08 271.84h1.10v5.77h-1.10zM61.17 202.60h1.10v11.54h-1.10zM61.17 231.45h1.10v5.77h-1.10zM61.17 271.84h1.10v5.77h-1.10zM62.25 271.84h1.10v5.77h-1.10zM64.42 219.91h1.10v11.54h-1.10zM64.42 260.30h1.10v5.77h-1.10zM64.42 289.15h1.10v5.77h-1.10zM64.42 312.23h1.10v5.77h-1.10zM65.51 231.45h1.10v5.77h-1.10zM66.59 214.14h1.10v11.54h-1.10zM66.59 242.99h1.10v5.77h-1.10zM66.59 266.07h1.10v5.77h-1.10zM67.67 225.68h1.10v5.77h-1.10zM67.67 248.76h1.10v5.77h-1.10zM67.67 266.07h1.10v5.77h-1.10zM67.67 277.61h1.10v5.77h-1.10zM68.76 219.91h1.10v5.77h-1.10zM68.76 294.92h1.10v5.77h-1.10zM69.84 214.14h1.10v11.54h-1.10zM69.84 289.15h1.10v5.77h-1.10zM70.93 289.15h1.10v5.77h-1.10zM72.01 214.14h1.10v5.77h-1.10zM72.01 300.69h1.10v5.77h-1.10zM72.01 312.23h1.10v5.77h-1.10zM73.10 289.15h1.10v5.77h-1.10zM74.18 208.37h1.10v5.77h-1.10zM74.18 312.23h1.10v5.77h-1.10zM75.27 225.68h1.10v5.77h-1.10zM75.27 260.30h1.10v5.77h-1.10zM75.27 283.38h1.10v5.77h-1.10zM77.43 271.84h1.10v5.77h-1.10zM77.43 312.23h1.10v5.77h-1.10zM78.52 237.22h1.10v5.77h-1.10zM79.60 202.60h1.10v5.77h-1.10zM79.60 214.14h1.10v5.77h-1.10zM79.60 312.23h1.10v5.77h-1.10zM80.69 300.69h1.10v5.77h-1.10zM81.77 266.07h1.10v17.31h-1.10zM81.77 289.15h1.10v5.77h-1.10zM82.86 202.60h1.10v5.77h-1.10zM82.86 237.22h1.10v5.77h-1.10zM82.86 271.84h1.10v5.77h-1.10zM83.94 271.84h1.10v5.77h-1.10zM83.94 283.38h1.10v5.77h-1.10zM86.11 225.68h1.10v5.77h-1.10zM88.28 254.53h1.10v5.77h-1.10zM88.28 294.92h1.10v5.77h-1.10zM89.36 271.84h1.10v5.77h-1.10zM90.45 202.60h1.10v5.77h-1.10zM90.45 237.22h1.10v5.77h-1.10zM90.45 266.07h1.10v5.77h-1.10zM90.45 283.38h1.10v5.77h-1.10zM90.45 312.23h1.10v5.77h-1.10zM92.62 225.68h1.10v17.31h-1.10zM92.62 289.15h1.10v5.77h-1.10zM93.70 248.76h1.10v5.77h-1.10zM93.70 294.92h1.10v5.77h-1.10zM94.78 294.92h1.10v5.77h-1.10zM94.78 306.46h1.10v5.77h-1.10zM96.95 225.68h1.10v5.77h-1.10zM96.95 248.76h1.10v5.77h-1.10zM99.12 231.45h1.10v5.77h-1.10zM100.21 294.92h1.10v5.77h-1.10zM101.29 260.30h1.10v5.77h-1.10zM101.29 271.84h1.10v5.77h-1.10zM101.29 283.38h1.10v5.77h-1.10zM102.38 300.69h1.10v5.77h-1.10zM103.46 208.37h1.10v5.77h-1.10zM103.46 289.15h1.10v5.77h-1.10zM104.54 248.76h1.10v5.77h-1.10zM105.63 248.76h1.10v5.77h-1.10zM107.80 219.91h1.10v5.77h-1.10zM108.88 219.91h1.10v5.77h-1.10zM108.88 266.07h1.10v5.77h-1.10zM108.88 283.38h1.10v5.77h-1.10zM111.05 219.91h1.10v5.77h-1.10zM112.13 266.07h1.10v5.77h-1.10zM112.13 283.38h1.10v5.77h-1.10zM112.13 312.23h1.10v5.77h-1.10zM113.22 271.84h1.10v5.77h-1.10zM113.22 294.92h1.10v5.77h-1.10zM116.47 208.37h1.10v5.77h-1.10zM117.56 225.68h1.10v5.77h-1.10zM122.98 219.91h1.10v5.77h-1.10zM122.98 254.53h1.10v5.77h-1.10zM124.06 202.60h1.10v5.77h-1.10zM125.15 231.45h1.10v5.77h-1.10zM126.23 214.14h1.10v5.77h-1.10zM126.23 237.22h1.10v5.77h-1.10zM126.23 260.30h1.10v5.77h-1.10zM126.23 300.69h1.10v5.77h-1.10zM127.32 208.37h1.10v5.77h-1.10zM127.32 231.45h1.10v5.77h-1.10zM127.32 260.30h1.10v5.77h-1.10zM127.32 306.46h1.10v5.77h-1.10zM128.40 202.60h1.10v5.77h-1.10zM128.40 248.76h1.10v5.77h-1.10zM128.40 312.23h1.10v5.77h-1.10zM129.48 225.68h1.10v11.54h-1.10zM129.48 289.15h1.10v5.77h-1.10zM131.65 283.38h1.10v5.77h-1.10zM132.74 242.99h1.10v5.77h-1.10zM132.74 277.61h1.10v5.77h-1.10zM133.82 214.14h1.10v5.77h-1.10zM133.82 306.46h1.10v5.77h-1.10zM134.91 214.14h1.10v11.54h-1.10zM138.16 294.92h1.10v5.77h-1.10zM146.83 294.92h1.10v5.77h-1.10zM147.92 266.07h1.10v5.77h-1.10z"/>
<path fill="#d8d6e9" d="M24.30 312.23h1.10v5.77h-1.10zM25.38 242.99h1.10v5.77h-1.10zM25.38 271.84h1.10v5.77h-1.10zM25.38 283.38h1.10v11.54h-1.10zM25.38 312.23h1.10v5.77h-1.10zM26.47 214.14h1.10v5.77h-1.10zM26.47 271.84h1.10v5.77h-1.10zM26.47 312.23h1.10v5.77h-1.10zM27.55 289.15h1.10v5.77h-1.10zM28.64 202.60h1.10v5.77h-1.10zM29.72 306.46h1.10v5.77h-1.10zM30.81 300.69h1.10v5.77h-1.10zM31.89 225.68h1.10v5.77h-1.10zM31.89 294.92h1.10v5.77h-1.10zM32.98 300.69h1.10v5.77h-1.10zM34.06 277.61h1.10v5.77h-1.10zM34.06 312.23h1.10v5.77h-1.10zM35.14 237.22h1.10v5.77h-1.10zM36.23 231.45h1.10v5.77h-1.10zM36.23 300.69h1.10v5.77h-1.10zM37.31 231.45h1.10v5.77h-1.10zM39.48 266.07h1.10v5.77h-1.10zM39.48 289.15h1.10v5.77h-1.10zM39.48 300.69h1.10v11.54h-1.10zM41.65 219.91h1.10v5.77h-1.10zM41.65 294.92h1.10v5.77h-1.10zM41.65 306.46h1.10v5.77h-1.10zM42.73 214.14h1.10v5.77h-1.10zM43.82 225.68h1.10v5.77h-1.10zM43.82 242.99h1.10v5.77h-1.10zM43.82 300.69h1.10v5.77h-1.10zM45.99 260.30h1.10v5.77h-1.10zM45.99 300.69h1.10v5.77h-1.10zM47.07 231.45h1.10v5.77h-1.10zM47.07 289.15h1.10v5.77h-1.10zM47.07 312.23h1.10v5.77h-1.10zM48.16 208.37h1.10v5.77h-1.10zM48.16 254.53h1.10v5.77h-1.10zM49.24 231.45h1.10v5.77h-1.10zM49.24 271.84h1.10v5.77h-1.10zM50.33 242.99h1.10v5.77h-1.10zM51.41 294.92h1.10v5.77h-1.10zM51.41 306.46h1.10v5.77h-1.10zM52.49 306.46h1.10v5.77h-1.10zM53.58 306.46h1.10v5.77h-1.10zM54.66 260.30h1.10v5.77h-1.10zM55.75 277.61h1.10v5.77h-1.10zM56.83 242.99h1.10v5.77h-1.10zM63.34 214.14h1.10v5.77h-1.10zM63.34 231.45h1.10v5.77h-1.10zM63.34 283.38h1.10v5.77h-1.10zM63.34 306.46h1.10v5.77h-1.10zM64.42 237.22h1.10v5.77h-1.10zM64.42 266.07h1.10v11.54h-1.10zM66.59 225.68h1.10v5.77h-1.10zM67.67 260.30h1.10v5.77h-1.10zM67.67 306.46h1.10v11.54h-1.10zM68.76 225.68h1.10v5.77h-1.10zM68.76 237.22h1.10v5.77h-1.10zM68.76 260.30h1.10v5.77h-1.10zM68.76 300.69h1.10v5.77h-1.10zM69.84 225.68h1.10v5.77h-1.10zM70.93 219.91h1.10v11.54h-1.10zM70.93 277.61h1.10v5.77h-1.10zM70.93 306.46h1.10v5.77h-1.10zM72.01 248.76h1.10v5.77h-1.10zM72.01 289.15h1.10v5.77h-1.10zM73.10 277.61h1.10v5.77h-1.10zM76.35 266.07h1.10v5.77h-1.10zM76.35 294.92h1.10v5.77h-1.10zM77.43 202.60h1.10v5.77h-1.10zM77.43 225.68h1.10v5.77h-1.10zM79.60 242.99h1.10v5.77h-1.10zM79.60 283.38h1.10v5.77h-1.10zM80.69 219.91h1.10v11.54h-1.10zM80.69 242.99h1.10v5.77h-1.10zM80.69 283.38h1.10v5.77h-1.10zM81.77 283.38h1.10v5.77h-1.10zM81.77 312.23h1.10v5.77h-1.10zM82.86 225.68h1.10v5.77h-1.10zM83.94 202.60h1.10v5.77h-1.10zM83.94 294.92h1.10v5.77h-1.10zM85.03 237.22h1.10v5.77h-1.10zM86.11 208.37h1.10v5.77h-1.10zM86.11 260.30h1.10v17.31h-1.10zM88.28 214.14h1.10v5.77h-1.10zM89.36 242.99h1.10v5.77h-1.10zM89.36 266.07h1.10v5.77h-1.10zM89.36 277.61h1.10v5.77h-1.10zM89.36 289.15h1.10v5.77h-1.10zM90.45 208.37h1.10v5.77h-1.10zM91.53 260.30h1.10v5.77h-1.10zM91.53 289.15h1.10v5.77h-1.10zM91.53 312.23h1.10v5.77h-1.10zM92.62 254.53h1.10v5.77h-1.10zM92.62 266.07h1.10v5.77h-1.10zM92.62 306.46h1.10v5.77h-1.10zM93.70 202.60h1.10v5.77h-1.10zM93.70 231.45h1.10v5.77h-1.10zM94.78 202.60h1.10v5.77h-1.10zM94.78 231.45h1.10v11.54h-1.10zM94.78 312.23h1.10v5.77h-1.10zM95.87 237.22h1.10v5.77h-1.10zM95.87 248.76h1.10v5.77h-1.10zM95.87 260.30h1.10v5.77h-1.10zM95.87 294.92h1.10v5.77h-1.10zM95.87 312.23h1.10v5.77h-1.10zM98.04 208.37h1.10v5.77h-1.10zM98.04 231.45h1.10v5.77h-1.10zM98.04 254.53h1.10v5.77h-1.10zM99.12 266.07h1.10v5.77h-1.10zM99.12 300.69h1.10v5.77h-1.10zM99.12 312.23h1.10v5.77h-1.10zM100.21 283.38h1.10v5.77h-1.10zM101.29 294.92h1.10v5.77h-1.10zM103.46 219.91h1.10v17.31h-1.10zM104.54 231.45h1.10v5.77h-1.10zM104.54 306.46h1.10v5.77h-1.10zM105.63 208.37h1.10v11.54h-1.10zM105.63 231.45h1.10v5.77h-1.10zM105.63 260.30h1.10v5.77h-1.10zM105.63 289.15h1.10v5.77h-1.10zM106.71 254.53h1.10v5.77h-1.10zM106.71 266.07h1.10v5.77h-1.10zM107.80 277.61h1.10v5.77h-1.10zM108.88 294.92h1.10v5.77h-1.10zM109.97 214.14h1.10v5.77h-1.10zM109.97 248.76h1.10v11.54h-1.10zM109.97 277.61h1.10v5.77h-1.10zM109.97 294.92h1.10v5.77h-1.10zM111.05 208.37h1.10v5.77h-1.10zM113.22 260.30h1.10v5.77h-1.10zM113.22 289.15h1.10v5.77h-1.10zM114.30 202.60h1.10v5.77h-1.10zM114.30 237.22h1.10v5.77h-1.10zM115.39 248.76h1.10v5.77h-1.10zM116.47 260.30h1.10v5.77h-1.10zM116.47 289.15h1.10v5.77h-1.10zM117.56 277.61h1.10v5.77h-1.10zM118.64 242.99h1.10v5.77h-1.10zM118.64 300.69h1.10v11.54h-1.10zM120.81 306.46h1.10v5.77h-1.10zM122.98 202.60h1.10v5.77h-1.10zM122.98 283.38h1.10v5.77h-1.10zM124.06 242.99h1.10v5.77h-1.10zM125.15 289.15h1.10v5.77h-1.10zM126.23 312.23h1.10v5.77h-1.10zM128.40 225.68h1.10v5.77h-1.10zM128.40 271.84h1.10v5.77h-1.10zM129.48 260.30h1.10v5.77h-1.10zM130.57 242.99h1.10v5.77h-1.10zM130.57 277.61h1.10v5.77h-1.10zM130.57 300.69h1.10v5.77h-1.10zM131.65 277.61h1.10v5.77h-1.10zM131.65 306.46h1.10v5.77h-1.10zM132.74 289.15h1.10v5.77h-1.10zM133.82 266.07h1.10v5.77h-1.10zM133.82 312.23h1.10v5.77h-1.10zM134.91 271.84h1.10v5.77h-1.10zM137.08 208.37h1.10v11.54h-1.10zM137.08 248.76h1.10v5.77h-1.10zM137.08 266.07h1.10v5.77h-1.10zM138.16 202.60h1.10v5.77h-1.10zM138.16 260.30h1.10v5.77h-1.10zM142.50 260.30h1.10v5.77h-1.10zM142.50 289.15h1.10v5.77h-1.10zM143.58 277.61h1.10v5.77h-1.10zM146.83 208.37h1.10v5.77h-1.10zM146.83 260.30h1.10v11.54h-1.10zM146.83 277.61h1.10v5.77h-1.10zM146.83 312.23h1.10v5.77h-1.10zM147.92 283.38h1.10v5.77h-1.10zM151.17 260.30h1.10v5.77h-1.10zM170.69 277.61h1.10v5.77h-1.10zM170.69 300.69h1.10v5.77h-1.10z"/>
<path fill="#dedcec" d="M25.38 214.14h1.10v5.77h-1.10zM25.38 231.45h1.10v5.77h-1.10zM25.38 248.76h1.10v5.77h-1.10zM26.47 208.37h1.10v5.77h-1.10zM26.47 231.45h1.10v5.77h-1.10zM26.47 242.99h1.10v11.54h-1.10zM26.47 306.46h1.10v5.77h-1.10zM27.55 231.45h1.10v11.54h-1.10zM27.55 294.92h1.10v5.77h-1.10zM29.72 254.53h1.10v5.77h-1.10zM30.81 242.99h1.10v5.77h-1.10zM30.81 283.38h1.10v5.77h-1.10zM30.81 294.92h1.10v5.77h-1.10zM32.98 242.99h1.10v5.77h-1.10zM35.14 294.92h1.10v5.77h-1.10zM36.23 254.53h1.10v5.77h-1.10zM37.31 208.37h1.10v5.77h-1.10zM37.31 266.07h1.10v5.77h-1.10zM38.40 202.60h1.10v5.77h-1.10zM38.40 225.68h1.10v5.77h-1.10zM38.40 260.30h1.10v5.77h-1.10zM38.40 289.15h1.10v5.77h-1.10zM38.40 300.69h1.10v5.77h-1.10zM39.48 225.68h1.10v5.77h-1.10zM39.48 248.76h1.10v11.54h-1.10zM40.57 242.99h1.10v5.77h-1.10zM40.57 266.07h1.10v5.77h-1.10zM40.57 306.46h1.10v5.77h-1.10zM42.73 237.22h1.10v5.77h-1.10zM42.73 277.61h1.10v5.77h-1.10zM42.73 294.92h1.10v5.77h-1.10zM43.82 254.53h1.10v5.77h-1.10zM43.82 277.61h1.10v5.77h-1.10zM45.99 289.15h1.10v5.77h-1.10zM47.07 254.53h1.10v5.77h-1.10zM47.07 266.07h1.10v5.77h-1.10zM48.16 260.30h1.10v5.77h-1.10zM48.16 300.69h1.10v5.77h-1.10zM49.24 260.30h1.10v5.77h-1.10zM49.24 300.69h1.10v5.77h-1.10zM51.41 202.60h1.10v5.77h-1.10zM51.41 271.84h1.10v5.77h-1.10zM52.49 260.30h1.10v5.77h-1.10zM52.49 294.92h1.10v5.77h-1.10zM53.58 202.60h1.10v11.54h-1.10zM53.58 219.91h1.10v5.77h-1.10zM53.58 294.92h1.10v5.77h-1.10zM57.92 277.61h1.10v5.77h-1.10zM57.92 289.15h1.10v5.77h-1.10zM60.08 242.99h1.10v5.77h-1.10zM62.25 242.99h1.10v5.77h-1.10zM62.25 254.53h1.10v5.77h-1.10zM64.42 208.37h1.10v11.54h-1.10zM64.42 277.61h1.10v5.77h-1.10zM64.42 300.69h1.10v5.77h-1.10zM65.51 225.68h1.10v5.77h-1.10zM65.51 237.22h1.10v11.54h-1.10zM65.51 312.23h1.10v5.77h-1.10zM67.67 219.91h1.10v5.77h-1.10zM67.67 242.99h1.10v5.77h-1.10zM68.76 312.23h1.10v5.77h-1.10zM69.84 260.30h1.10v5.77h-1.10zM70.93 248.76h1.10v5.77h-1.10zM70.93 300.69h1.10v5.77h-1.10zM70.93 312.23h1.10v5.77h-1.10zM72.01 277.61h1.10v5.77h-1.10zM72.01 294.92h1.10v5.77h-1.10zM74.18 283.38h1.10v5.77h-1.10zM74.18 300.69h1.10v11.54h-1.10zM76.35 202.60h1.10v5.77h-1.10zM76.35 219.91h1.10v5.77h-1.10zM76.35 300.69h1.10v5.77h-1.10zM77.43 208.37h1.10v5.77h-1.10zM77.43 219.91h1.10v5.77h-1.10zM77.43 300.69h1.10v5.77h-1.10zM78.52 219.91h1.10v5.77h-1.10zM78.52 242.99h1.10v5.77h-1.10zM78.52 300.69h1.10v11.54h-1.10zM79.60 289.15h1.10v5.77h-1.10zM80.69 294.92h1.10v5.77h-1.10zM81.77 242.99h1.10v5.77h-1.10zM82.86 266.07h1.10v5.77h-1.10zM82.86 289.15h1.10v11.54h-1.10zM83.94 208.37h1.10v11.54h-1.10zM83.94 266.07h1.10v5.77h-1.10zM83.94 300.69h1.10v5.77h-1.10zM86.11 289.15h1.10v5.77h-1.10zM87.19 214.14h1.10v11.54h-1.10zM87.19 277.61h1.10v5.77h-1.10zM87.19 294.92h1.10v5.77h-1.10zM90.45 277.61h1.10v5.77h-1.10zM90.45 289.15h1.10v5.77h-1.10zM91.53 208.37h1.10v5.77h-1.10zM91.53 237.22h1.10v5.77h-1.10zM91.53 306.46h1.10v5.77h-1.10zM92.62 300.69h1.10v5.77h-1.10zM93.70 260.30h1.10v5.77h-1.10zM93.70 283.38h1.10v5.77h-1.10zM94.78 271.84h1.10v5.77h-1.10zM95.87 202.60h1.10v11.54h-1.10zM96.95 208.37h1.10v5.77h-1.10zM96.95 260.30h1.10v5.77h-1.10zM96.95 283.38h1.10v5.77h-1.10zM98.04 312.23h1.10v5.77h-1.10zM99.12 260.30h1.10v5.77h-1.10zM99.12 271.84h1.10v5.77h-1.10zM102.38 237.22h1.10v5.77h-1.10zM102.38 254.53h1.10v17.31h-1.10zM102.38 277.61h1.10v5.77h-1.10zM103.46 283.38h1.10v5.77h-1.10zM103.46 294.92h1.10v5.77h-1.10zM104.54 254.53h1.10v5.77h-1.10zM104.54 289.15h1.10v5.77h-1.10zM106.71 214.14h1.10v5.77h-1.10zM106.71 225.68h1.10v5.77h-1.10zM106.71 277.61h1.10v5.77h-1.10zM106.71 289.15h1.10v5.77h-1.10zM107.80 300.69h1.10v11.54h-1.10zM108.88 260.30h1.10v5.77h-1.10zM108.88 289.15h1.10v5.77h-1.10zM109.97 202.60h1.10v5.77h-1.10zM109.97 283.38h1.10v11.54h-1.10zM111.05 214.14h1.10v5.77h-1.10zM111.05 289.15h1.10v5.77h-1.10zM111.05 300.69h1.10v5.77h-1.10zM112.13 242.99h1.10v5.77h-1.10zM113.22 214.14h1.10v5.77h-1.10zM113.22 300.69h1.10v5.77h-1.10zM114.30 214.14h1.10v5.77h-1.10zM114.30 271.84h1.10v5.77h-1.10zM115.39 219.91h1.10v5.77h-1.10zM115.39 306.46h1.10v5.77h-1.10zM116.47 248.76h1.10v5.77h-1.10zM117.56 231.45h1.10v5.77h-1.10zM117.56 254.53h1.10v11.54h-1.10zM117.56 271.84h1.10v5.77h-1.10zM117.56 289.15h1.10v17.31h-1.10zM119.73 237.22h1.10v5.77h-1.10zM119.73 248.76h1.10v5.77h-1.10zM119.73 260.30h1.10v5.77h-1.10zM120.81 214.14h1.10v5.77h-1.10zM120.81 271.84h1.10v5.77h-1.10zM120.81 283.38h1.10v5.77h-1.10zM120.81 294.92h1.10v5.77h-1.10zM121.89 202.60h1.10v5.77h-1.10zM121.89 231.45h1.10v5.77h-1.10zM121.89 271.84h1.10v5.77h-1.10zM121.89 283.38h1.10v5.77h-1.10zM121.89 294.92h1.10v5.77h-1.10zM122.98 294.92h1.10v11.54h-1.10zM124.06 208.37h1.10v5.77h-1.10zM124.06 283.38h1.10v5.77h-1.10zM125.15 283.38h1.10v5.77h-1.10zM125.15 294.92h1.10v5.77h-1.10zM126.23 208.37h1.10v5.77h-1.10zM126.23 294.92h1.10v5.77h-1.10zM128.40 260.30h1.10v5.77h-1.10zM128.40 306.46h1.10v5.77h-1.10zM129.48 312.23h1.10v5.77h-1.10zM131.65 208.37h1.10v5.77h-1.10zM131.65 242.99h1.10v5.77h-1.10zM131.65 271.84h1.10v5.77h-1.10zM131.65 294.92h1.10v5.77h-1.10zM132.74 271.84h1.10v5.77h-1.10zM133.82 254.53h1.10v11.54h-1.10zM133.82 300.69h1.10v5.77h-1.10zM134.91 266.07h1.10v5.77h-1.10zM134.91 312.23h1.10v5.77h-1.10zM137.08 202.60h1.10v5.77h-1.10zM138.16 271.84h1.10v5.77h-1.10zM138.16 306.46h1.10v5.77h-1.10zM139.24 294.92h1.10v5.77h-1.10zM140.33 300.69h1.10v5.77h-1.10zM142.50 208.37h1.10v5.77h-1.10zM142.50 277.61h1.10v5.77h-1.10zM142.50 294.92h1.10v5.77h-1.10zM142.50 306.46h1.10v5.77h-1.10zM143.58 248.76h1.10v5.77h-1.10zM144.67 306.46h1.10v5.77h-1.10zM146.83 283.38h1.10v5.77h-1.10zM147.92 208.37h1.10v5.77h-1.10zM147.92 260.30h1.10v5.77h-1.10zM147.92 300.69h1.10v5.77h-1.10zM152.26 202.60h1.10v5.77h-1.10zM152.26 248.76h1.10v5.77h-1.10zM167.44 283.38h1.10v5.77h-1.10zM168.52 225.68h1.10v5.77h-1.10zM168.52 271.84h1.10v5.77h-1.10zM168.52 312.23h1.10v5.77h-1.10zM169.61 231.45h1.10v5.77h-1.10zM169.61 283.38h1.10v5.77h-1.10zM170.69 271.84h1.10v5.77h-1.10z"/>
<path fill="#6968a7" d="M25.38 219.91h1.10v5.77h-1.10zM45.99 248.76h1.10v5.77h-1.10zM48.16 248.76h1.10v5.77h-1.10zM73.10 266.07h1.10v5.77h-1.10zM78.52 248.76h1.10v5.77h-1.10zM82.86 248.76h1.10v5.77h-1.10zM99.12 202.60h1.10v5.77h-1.10zM101.29 219.91h1.10v5.77h-1.10z"/>
<path fill="#cac8e1" d="M25.38 225.68h1.10v5.77h-1.10zM25.38 254.53h1.10v5.77h-1.10zM26.47 225.68h1.10v5.77h-1.10zM26.47 237.22h1.10v5.77h-1.10zM26.47 260.30h1.10v5.77h-1.10zM27.55 260.30h1.10v11.54h-1.10zM28.64 237.22h1.10v5.77h-1.10zM28.64 271.84h1.10v11.54h-1.10zM28.64 300.69h1.10v5.77h-1.10zM28.64 312.23h1.10v5.77h-1.10zM29.72 237.22h1.10v5.77h-1.10zM29.72 248.76h1.10v5.77h-1.10zM29.72 289.15h1.10v5.77h-1.10zM30.81 202.60h1.10v11.54h-1.10zM30.81 248.76h1.10v11.54h-1.10zM31.89 231.45h1.10v11.54h-1.10zM31.89 271.84h1.10v5.77h-1.10zM31.89 289.15h1.10v5.77h-1.10zM32.98 225.68h1.10v5.77h-1.10zM32.98 306.46h1.10v5.77h-1.10zM34.06 219.91h1.10v5.77h-1.10zM34.06 242.99h1.10v5.77h-1.10zM36.23 294.92h1.10v5.77h-1.10zM37.31 214.14h1.10v11.54h-1.10zM38.40 214.14h1.10v11.54h-1.10zM38.40 231.45h1.10v5.77h-1.10zM38.40 294.92h1.10v5.77h-1.10zM39.48 294.92h1.10v5.77h-1.10zM40.57 214.14h1.10v5.77h-1.10zM41.65 237.22h1.10v5.77h-1.10zM41.65 289.15h1.10v5.77h-1.10zM42.73 266.07h1.10v5.77h-1.10zM42.73 283.38h1.10v5.77h-1.10zM42.73 306.46h1.10v5.77h-1.10zM43.82 312.23h1.10v5.77h-1.10zM44.90 219.91h1.10v5.77h-1.10zM44.90 242.99h1.10v5.77h-1.10zM44.90 289.15h1.10v5.77h-1.10zM44.90 300.69h1.10v5.77h-1.10zM45.99 254.53h1.10v5.77h-1.10zM47.07 208.37h1.10v5.77h-1.10zM47.07 242.99h1.10v5.77h-1.10zM48.16 242.99h1.10v5.77h-1.10zM48.16 294.92h1.10v5.77h-1.10zM49.24 237.22h1.10v5.77h-1.10zM50.33 202.60h1.10v5.77h-1.10zM50.33 300.69h1.10v5.77h-1.10zM51.41 219.91h1.10v5.77h-1.10zM51.41 289.15h1.10v5.77h-1.10zM52.49 248.76h1.10v5.77h-1.10zM53.58 248.76h1.10v5.77h-1.10zM53.58 260.30h1.10v5.77h-1.10zM53.58 271.84h1.10v5.77h-1.10zM54.66 242.99h1.10v5.77h-1.10zM54.66 266.07h1.10v5.77h-1.10zM54.66 294.92h1.10v5.77h-1.10zM55.75 214.14h1.10v5.77h-1.10zM55.75 283.38h1.10v5.77h-1.10zM55.75 300.69h1.10v5.77h-1.10zM56.83 260.30h1.10v11.54h-1.10zM57.92 242.99h1.10v5.77h-1.10zM57.92 260.30h1.10v5.77h-1.10zM57.92 294.92h1.10v5.77h-1.10zM61.17 254.53h1.10v5.77h-1.10zM62.25 289.15h1.10v5.77h-1.10zM62.25 300.69h1.10v5.77h-1.10zM63.34 225.68h1.10v5.77h-1.10zM63.34 237.22h1.10v5.77h-1.10zM64.42 248.76h1.10v5.77h-1.10zM64.42 294.92h1.10v5.77h-1.10zM65.51 208.37h1.10v5.77h-1.10zM65.51 219.91h1.10v5.77h-1.10zM65.51 283.38h1.10v5.77h-1.10zM65.51 294.92h1.10v5.77h-1.10zM66.59 248.76h1.10v5.77h-1.10zM66.59 260.30h1.10v5.77h-1.10zM66.59 271.84h1.10v5.77h-1.10zM66.59 283.38h1.10v5.77h-1.10zM66.59 294.92h1.10v5.77h-1.10zM66.59 306.46h1.10v5.77h-1.10zM67.67 271.84h1.10v5.77h-1.10zM68.76 214.14h1.10v5.77h-1.10zM68.76 248.76h1.10v5.77h-1.10zM68.76 266.07h1.10v5.77h-1.10zM68.76 306.46h1.10v5.77h-1.10zM69.84 242.99h1.10v5.77h-1.10zM69.84 266.07h1.10v11.54h-1.10zM69.84 283.38h1.10v5.77h-1.10zM70.93 271.84h1.10v5.77h-1.10zM70.93 294.92h1.10v5.77h-1.10zM72.01 231.45h1.10v5.77h-1.10zM73.10 312.23h1.10v5.77h-1.10zM74.18 277.61h1.10v5.77h-1.10zM75.27 202.60h1.10v11.54h-1.10zM75.27 294.92h1.10v11.54h-1.10zM76.35 260.30h1.10v5.77h-1.10zM77.43 294.92h1.10v5.77h-1.10zM78.52 266.07h1.10v11.54h-1.10zM79.60 254.53h1.10v5.77h-1.10zM79.60 271.84h1.10v11.54h-1.10zM79.60 294.92h1.10v5.77h-1.10zM80.69 289.15h1.10v5.77h-1.10zM81.77 306.46h1.10v5.77h-1.10zM82.86 231.45h1.10v5.77h-1.10zM82.86 283.38h1.10v5.77h-1.10zM82.86 300.69h1.10v5.77h-1.10zM83.94 225.68h1.10v17.31h-1.10zM83.94 248.76h1.10v5.77h-1.10zM87.19 248.76h1.10v5.77h-1.10zM87.19 283.38h1.10v5.77h-1.10zM88.28 219.91h1.10v5.77h-1.10zM89.36 202.60h1.10v11.54h-1.10zM89.36 237.22h1.10v5.77h-1.10zM89.36 260.30h1.10v5.77h-1.10zM89.36 283.38h1.10v5.77h-1.10zM89.36 312.23h1.10v5.77h-1.10zM90.45 214.14h1.10v5.77h-1.10zM90.45 306.46h1.10v5.77h-1.10zM91.53 202.60h1.10v5.77h-1.10zM91.53 231.45h1.10v5.77h-1.10zM92.62 214.14h1.10v11.54h-1.10zM92.62 271.84h1.10v5.77h-1.10zM93.70 266.07h1.10v5.77h-1.10zM93.70 306.46h1.10v11.54h-1.10zM94.78 254.53h1.10v5.77h-1.10zM98.04 266.07h1.10v23.08h-1.10zM99.12 277.61h1.10v5.77h-1.10zM99.12 294.92h1.10v5.77h-1.10zM101.29 289.15h1.10v5.77h-1.10zM102.38 289.15h1.10v11.54h-1.10zM103.46 202.60h1.10v5.77h-1.10zM103.46 248.76h1.10v5.77h-1.10zM104.54 294.92h1.10v5.77h-1.10zM106.71 202.60h1.10v11.54h-1.10zM107.80 208.37h1.10v5.77h-1.10zM107.80 225.68h1.10v11.54h-1.10zM108.88 208.37h1.10v5.77h-1.10zM108.88 248.76h1.10v5.77h-1.10zM108.88 271.84h1.10v5.77h-1.10zM109.97 271.84h1.10v5.77h-1.10zM113.22 248.76h1.10v5.77h-1.10zM115.39 202.60h1.10v11.54h-1.10zM115.39 277.61h1.10v5.77h-1.10zM116.47 202.60h1.10v5.77h-1.10zM116.47 271.84h1.10v5.77h-1.10zM117.56 202.60h1.10v17.31h-1.10zM118.64 231.45h1.10v5.77h-1.10zM118.64 271.84h1.10v11.54h-1.10zM119.73 219.91h1.10v5.77h-1.10zM119.73 283.38h1.10v5.77h-1.10zM121.89 219.91h1.10v5.77h-1.10zM121.89 306.46h1.10v5.77h-1.10zM122.98 237.22h1.10v5.77h-1.10zM122.98 289.15h1.10v5.77h-1.10zM124.06 219.91h1.10v17.31h-1.10zM124.06 254.53h1.10v5.77h-1.10zM124.06 300.69h1.10v5.77h-1.10zM125.15 277.61h1.10v5.77h-1.10zM126.23 248.76h1.10v5.77h-1.10zM126.23 283.38h1.10v5.77h-1.10zM127.32 248.76h1.10v11.54h-1.10zM128.40 219.91h1.10v5.77h-1.10zM129.48 202.60h1.10v5.77h-1.10zM130.57 219.91h1.10v5.77h-1.10zM130.57 312.23h1.10v5.77h-1.10zM131.65 219.91h1.10v5.77h-1.10zM131.65 266.07h1.10v5.77h-1.10zM132.74 208.37h1.10v5.77h-1.10zM132.74 294.92h1.10v5.77h-1.10zM133.82 289.15h1.10v5.77h-1.10zM134.91 202.60h1.10v11.54h-1.10zM134.91 254.53h1.10v5.77h-1.10zM134.91 283.38h1.10v5.77h-1.10zM137.08 254.53h1.10v5.77h-1.10zM137.08 271.84h1.10v5.77h-1.10zM137.08 289.15h1.10v11.54h-1.10zM137.08 312.23h1.10v5.77h-1.10zM138.16 248.76h1.10v5.77h-1.10zM138.16 283.38h1.10v5.77h-1.10zM139.24 289.15h1.10v5.77h-1.10zM147.92 306.46h1.10v5.77h-1.10zM151.17 300.69h1.10v5.77h-1.10zM168.52 231.45h1.10v5.77h-1.10zM169.61 277.61h1.10v5.77h-1.10zM169.61 300.69h1.10v5.77h-1.10z"/>
<path fill="#e4e2ef" d="M26.47 277.61h1.10v5.77h-1.10zM27.55 271.84h1.10v5.77h-1.10zM27.55 300.69h1.10v5.77h-1.10zM30.81 271.84h1.10v5.77h-1.10zM31.89 300.69h1.10v5.77h-1.10zM36.23 242.99h1.10v5.77h-1.10zM38.40 248.76h1.10v5.77h-1.10zM38.40 266.07h1.10v5.77h-1.10zM39.48 283.38h1.10v5.77h-1.10zM40.57 208.37h1.10v5.77h-1.10zM40.57 225.68h1.10v5.77h-1.10zM41.65 208.37h1.10v5.77h-1.10zM41.65 254.53h1.10v5.77h-1.10zM42.73 225.68h1.10v5.77h-1.10zM45.99 312.23h1.10v5.77h-1.10zM47.07 214.14h1.10v5.77h-1.10zM47.07 260.30h1.10v5.77h-1.10zM47.07 271.84h1.10v5.77h-1.10zM51.41 260.30h1.10v5.77h-1.10zM52.49 225.68h1.10v5.77h-1.10zM52.49 277.61h1.10v5.77h-1.10zM53.58 277.61h1.10v5.77h-1.10zM53.58 289.15h1.10v5.77h-1.10zM55.75 242.99h1.10v5.77h-1.10zM56.83 289.15h1.10v5.77h-1.10zM63.34 260.30h1.10v11.54h-1.10zM63.34 294.92h1.10v5.77h-1.10zM65.51 214.14h1.10v5.77h-1.10zM65.51 277.61h1.10v5.77h-1.10zM65.51 306.46h1.10v5.77h-1.10zM68.76 242.99h1.10v5.77h-1.10zM68.76 289.15h1.10v5.77h-1.10zM69.84 294.92h1.10v5.77h-1.10zM69.84 312.23h1.10v5.77h-1.10zM70.93 237.22h1.10v5.77h-1.10zM72.01 208.37h1.10v5.77h-1.10zM72.01 271.84h1.10v5.77h-1.10zM73.10 242.99h1.10v5.77h-1.10zM76.35 225.68h1.10v5.77h-1.10zM76.35 242.99h1.10v5.77h-1.10zM76.35 312.23h1.10v5.77h-1.10zM77.43 306.46h1.10v5.77h-1.10zM78.52 208.37h1.10v5.77h-1.10zM78.52 260.30h1.10v5.77h-1.10zM78.52 294.92h1.10v5.77h-1.10zM78.52 312.23h1.10v5.77h-1.10zM80.69 277.61h1.10v5.77h-1.10zM80.69 306.46h1.10v5.77h-1.10zM82.86 214.14h1.10v5.77h-1.10zM82.86 277.61h1.10v5.77h-1.10zM83.94 219.91h1.10v5.77h-1.10zM85.03 202.60h1.10v5.77h-1.10zM85.03 214.14h1.10v5.77h-1.10zM85.03 260.30h1.10v11.54h-1.10zM86.11 306.46h1.10v5.77h-1.10zM87.19 202.60h1.10v5.77h-1.10zM87.19 260.30h1.10v5.77h-1.10zM88.28 237.22h1.10v11.54h-1.10zM88.28 260.30h1.10v11.54h-1.10zM88.28 289.15h1.10v5.77h-1.10zM89.36 306.46h1.10v5.77h-1.10zM90.45 225.68h1.10v5.77h-1.10zM91.53 266.07h1.10v5.77h-1.10zM91.53 283.38h1.10v5.77h-1.10zM93.70 254.53h1.10v5.77h-1.10zM94.78 277.61h1.10v5.77h-1.10zM94.78 300.69h1.10v5.77h-1.10zM95.87 242.99h1.10v5.77h-1.10zM95.87 271.84h1.10v17.31h-1.10zM96.95 271.84h1.10v5.77h-1.10zM98.04 306.46h1.10v5.77h-1.10zM99.12 306.46h1.10v5.77h-1.10zM100.21 260.30h1.10v5.77h-1.10zM101.29 306.46h1.10v5.77h-1.10zM103.46 271.84h1.10v5.77h-1.10zM104.54 219.91h1.10v5.77h-1.10zM104.54 237.22h1.10v11.54h-1.10zM104.54 283.38h1.10v5.77h-1.10zM104.54 300.69h1.10v5.77h-1.10zM105.63 202.60h1.10v5.77h-1.10zM105.63 300.69h1.10v5.77h-1.10zM105.63 312.23h1.10v5.77h-1.10zM106.71 300.69h1.10v5.77h-1.10zM107.80 248.76h1.10v11.54h-1.10zM107.80 266.07h1.10v5.77h-1.10zM107.80 283.38h1.10v5.77h-1.10zM107.80 294.92h1.10v5.77h-1.10zM108.88 237.22h1.10v5.77h-1.10zM108.88 254.53h1.10v5.77h-1.10zM109.97 208.37h1.10v5.77h-1.10zM109.97 219.91h1.10v5.77h-1.10zM111.05 237.22h1.10v5.77h-1.10zM111.05 248.76h1.10v11.54h-1.10zM111.05 277.61h1.10v5.77h-1.10zM112.13 277.61h1.10v5.77h-1.10zM112.13 289.15h1.10v5.77h-1.10zM113.22 254.53h1.10v5.77h-1.10zM113.22 277.61h1.10v5.77h-1.10zM114.30 266.07h1.10v5.77h-1.10zM114.30 277.61h1.10v5.77h-1.10zM114.30 312.23h1.10v5.77h-1.10zM115.39 294.92h1.10v5.77h-1.10zM115.39 312.23h1.10v5.77h-1.10zM116.47 277.61h1.10v5.77h-1.10zM116.47 294.92h1.10v5.77h-1.10zM117.56 306.46h1.10v5.77h-1.10zM118.64 254.53h1.10v5.77h-1.10zM118.64 266.07h1.10v5.77h-1.10zM119.73 214.14h1.10v5.77h-1.10zM119.73 225.68h1.10v5.77h-1.10zM120.81 237.22h1.10v5.77h-1.10zM120.81 254.53h1.10v5.77h-1.10zM121.89 260.30h1.10v5.77h-1.10zM122.98 271.84h1.10v11.54h-1.10zM122.98 306.46h1.10v5.77h-1.10zM124.06 271.84h1.10v11.54h-1.10zM127.32 242.99h1.10v5.77h-1.10zM127.32 294.92h1.10v5.77h-1.10zM128.40 231.45h1.10v5.77h-1.10zM128.40 266.07h1.10v5.77h-1.10zM128.40 283.38h1.10v5.77h-1.10zM129.48 254.53h1.10v5.77h-1.10zM129.48 277.61h1.10v5.77h-1.10zM129.48 300.69h1.10v11.54h-1.10zM130.57 260.30h1.10v5.77h-1.10zM130.57 306.46h1.10v5.77h-1.10zM131.65 260.30h1.10v5.77h-1.10zM131.65 312.23h1.10v5.77h-1.10zM132.74 300.69h1.10v5.77h-1.10zM133.82 242.99h1.10v5.77h-1.10zM133.82 294.92h1.10v5.77h-1.10zM134.91 237.22h1.10v5.77h-1.10zM134.91 289.15h1.10v5.77h-1.10zM134.91 300.69h1.10v5.77h-1.10zM135.99 202.60h1.10v5.77h-1.10zM135.99 260.30h1.10v5.77h-1.10zM135.99 271.84h1.10v5.77h-1.10zM135.99 312.23h1.10v5.77h-1.10zM137.08 219.91h1.10v5.77h-1.10zM139.24 225.68h1.10v5.77h-1.10zM139.24 266.07h1.10v5.77h-1.10zM139.24 277.61h1.10v11.54h-1.10zM141.41 277.61h1.10v5.77h-1.10zM143.58 266.07h1.10v5.77h-1.10zM143.58 300.69h1.10v5.77h-1.10zM144.67 283.38h1.10v5.77h-1.10zM145.75 266.07h1.10v11.54h-1.10zM146.83 248.76h1.10v5.77h-1.10zM147.92 271.84h1.10v5.77h-1.10zM149.00 266.07h1.10v5.77h-1.10zM151.17 277.61h1.10v5.77h-1.10zM152.26 289.15h1.10v5.77h-1.10zM153.34 283.38h1.10v5.77h-1.10zM162.02 260.30h1.10v5.77h-1.10zM167.44 260.30h1.10v5.77h-1.10zM168.52 300.69h1.10v5.77h-1.10zM169.61 248.76h1.10v5.77h-1.10zM169.61 294.92h1.10v5.77h-1.10zM169.61 312.23h1.10v5.77h-1.10zM170.69 242.99h1.10v5.77h-1.10zM170.69 254.53h1.10v17.31h-1.10zM171.78 277.61h1.10v5.77h-1.10zM172.86 202.60h1.10v5.77h-1.10z"/>
<path fill="#fcfbfc" d="M26.47 289.15h1.10v5.77h-1.10zM37.31 242.99h1.10v5.77h-1.10zM37.31 277.61h1.10v5.77h-1.10zM37.31 312.23h1.10v5.77h-1.10zM38.40 242.99h1.10v5.77h-1.10zM38.40 283.38h1.10v5.77h-1.10zM39.48 312.23h1.10v5.77h-1.10zM52.49 202.60h1.10v5.77h-1.10zM64.42 242.99h1.10v5.77h-1.10zM82.86 312.23h1.10v5.77h-1.10zM83.94 277.61h1.10v5.77h-1.10zM85.03 289.15h1.10v5.77h-1.10zM85.03 312.23h1.10v5.77h-1.10zM86.11 242.99h1.10v5.77h-1.10zM87.19 237.22h1.10v5.77h-1.10zM96.95 277.61h1.10v5.77h-1.10zM102.38 312.23h1.10v5.77h-1.10zM103.46 266.07h1.10v5.77h-1.10zM104.54 271.84h1.10v5.77h-1.10zM104.54 312.23h1.10v5.77h-1.10zM105.63 254.53h1.10v5.77h-1.10zM107.80 260.30h1.10v5.77h-1.10zM109.97 242.99h1.10v5.77h-1.10zM111.05 306.46h1.10v5.77h-1.10zM114.30 242.99h1.10v5.77h-1.10zM114.30 300.69h1.10v5.77h-1.10zM115.39 242.99h1.10v5.77h-1.10zM115.39 289.15h1.10v5.77h-1.10zM116.47 242.99h1.10v5.77h-1.10zM116.47 266.07h1.10v5.77h-1.10zM120.81 289.15h1.10v5.77h-1.10zM120.81 312.23h1.10v5.77h-1.10zM125.15 208.37h1.10v5.77h-1.10zM131.65 289.15h1.10v5.77h-1.10zM134.91 260.30h1.10v5.77h-1.10zM135.99 254.53h1.10v5.77h-1.10zM138.16 231.45h1.10v5.77h-1.10zM139.24 242.99h1.10v5.77h-1.10zM139.24 254.53h1.10v5.77h-1.10zM140.33 202.60h1.10v5.77h-1.10zM140.33 237.22h1.10v5.77h-1.10zM140.33 271.84h1.10v11.54h-1.10zM141.41 306.46h1.10v5.77h-1.10zM142.50 231.45h1.10v5.77h-1.10zM143.58 214.14h1.10v5.77h-1.10zM143.58 225.68h1.10v5.77h-1.10zM143.58 312.23h1.10v5.77h-1.10zM144.67 202.60h1.10v5.77h-1.10zM145.75 202.60h1.10v5.77h-1.10zM145.75 260.30h1.10v5.77h-1.10zM145.75 277.61h1.10v5.77h-1.10zM147.92 202.60h1.10v5.77h-1.10zM150.09 294.92h1.10v5.77h-1.10zM150.09 306.46h1.10v5.77h-1.10zM151.17 242.99h1.10v5.77h-1.10zM151.17 271.84h1.10v5.77h-1.10zM152.26 260.30h1.10v5.77h-1.10zM152.26 271.84h1.10v11.54h-1.10zM153.34 219.91h1.10v5.77h-1.10zM153.34 289.15h1.10v11.54h-1.10zM155.51 248.76h1.10v11.54h-1.10zM156.59 242.99h1.10v5.77h-1.10zM156.59 266.07h1.10v5.77h-1.10zM159.85 306.46h1.10v5.77h-1.10zM160.93 237.22h1.10v5.77h-1.10zM160.93 260.30h1.10v5.77h-1.10zM162.02 231.45h1.10v5.77h-1.10zM162.02 248.76h1.10v5.77h-1.10zM162.02 306.46h1.10v5.77h-1.10zM163.10 266.07h1.10v5.77h-1.10zM166.35 260.30h1.10v5.77h-1.10zM167.44 219.91h1.10v5.77h-1.10zM167.44 312.23h1.10v5.77h-1.10zM168.52 214.14h1.10v5.77h-1.10zM168.52 254.53h1.10v5.77h-1.10zM170.69 312.23h1.10v5.77h-1.10zM171.78 202.60h1.10v11.54h-1.10zM172.86 208.37h1.10v11.54h-1.10zM172.86 225.68h1.10v5.77h-1.10zM172.86 248.76h1.10v5.77h-1.10zM172.86 294.92h1.10v5.77h-1.10zM173.94 260.30h1.10v5.77h-1.10zM173.94 277.61h1.10v5.77h-1.10z"/>
<path fill="#eae9f2" d="M26.47 300.69h1.10v5.77h-1.10zM27.55 242.99h1.10v5.77h-1.10zM29.72 277.61h1.10v5.77h-1.10zM31.89 277.61h1.10v11.54h-1.10zM34.06 254.53h1.10v5.77h-1.10zM34.06 283.38h1.10v5.77h-1.10zM35.14 231.45h1.10v5.77h-1.10zM35.14 277.61h1.10v11.54h-1.10zM35.14 312.23h1.10v5.77h-1.10zM37.31 254.53h1.10v11.54h-1.10zM37.31 283.38h1.10v5.77h-1.10zM38.40 237.22h1.10v5.77h-1.10zM38.40 306.46h1.10v5.77h-1.10zM39.48 202.60h1.10v5.77h-1.10zM39.48 242.99h1.10v5.77h-1.10zM40.57 289.15h1.10v5.77h-1.10zM42.73 300.69h1.10v5.77h-1.10zM42.73 312.23h1.10v5.77h-1.10zM47.07 300.69h1.10v5.77h-1.10zM50.33 266.07h1.10v17.31h-1.10zM51.41 208.37h1.10v5.77h-1.10zM51.41 242.99h1.10v5.77h-1.10zM51.41 277.61h1.10v5.77h-1.10zM52.49 242.99h1.10v5.77h-1.10zM52.49 300.69h1.10v5.77h-1.10zM56.83 271.84h1.10v5.77h-1.10zM63.34 219.91h1.10v5.77h-1.10zM63.34 271.84h1.10v5.77h-1.10zM63.34 289.15h1.10v5.77h-1.10zM64.42 202.60h1.10v5.77h-1.10zM64.42 306.46h1.10v5.77h-1.10zM65.51 248.76h1.10v5.77h-1.10zM65.51 271.84h1.10v5.77h-1.10zM68.76 277.61h1.10v11.54h-1.10zM69.84 277.61h1.10v5.77h-1.10zM70.93 214.14h1.10v5.77h-1.10zM72.01 306.46h1.10v5.77h-1.10zM74.18 271.84h1.10v5.77h-1.10zM74.18 294.92h1.10v5.77h-1.10zM76.35 208.37h1.10v11.54h-1.10zM76.35 277.61h1.10v5.77h-1.10zM76.35 306.46h1.10v5.77h-1.10zM78.52 202.60h1.10v5.77h-1.10zM80.69 237.22h1.10v5.77h-1.10zM80.69 312.23h1.10v5.77h-1.10zM81.77 260.30h1.10v5.77h-1.10zM82.86 306.46h1.10v5.77h-1.10zM83.94 260.30h1.10v5.77h-1.10zM83.94 289.15h1.10v5.77h-1.10zM85.03 208.37h1.10v5.77h-1.10zM85.03 219.91h1.10v5.77h-1.10zM85.03 242.99h1.10v5.77h-1.10zM85.03 294.92h1.10v5.77h-1.10zM86.11 202.60h1.10v5.77h-1.10zM86.11 214.14h1.10v5.77h-1.10zM86.11 277.61h1.10v5.77h-1.10zM87.19 266.07h1.10v5.77h-1.10zM87.19 312.23h1.10v5.77h-1.10zM89.36 300.69h1.10v5.77h-1.10zM90.45 242.99h1.10v5.77h-1.10zM91.53 214.14h1.10v17.31h-1.10zM92.62 283.38h1.10v5.77h-1.10zM93.70 271.84h1.10v11.54h-1.10zM94.78 283.38h1.10v5.77h-1.10zM95.87 254.53h1.10v5.77h-1.10zM96.95 294.92h1.10v5.77h-1.10zM96.95 306.46h1.10v5.77h-1.10zM98.04 300.69h1.10v5.77h-1.10zM100.21 306.46h1.10v5.77h-1.10zM103.46 237.22h1.10v11.54h-1.10zM103.46 260.30h1.10v5.77h-1.10zM103.46 277.61h1.10v5.77h-1.10zM103.46 300.69h1.10v11.54h-1.10zM104.54 266.07h1.10v5.77h-1.10zM105.63 237.22h1.10v5.77h-1.10zM105.63 266.07h1.10v5.77h-1.10zM106.71 237.22h1.10v5.77h-1.10zM106.71 294.92h1.10v5.77h-1.10zM107.80 214.14h1.10v5.77h-1.10zM107.80 271.84h1.10v5.77h-1.10zM108.88 306.46h1.10v5.77h-1.10zM109.97 306.46h1.10v11.54h-1.10zM111.05 283.38h1.10v5.77h-1.10zM112.13 254.53h1.10v5.77h-1.10zM112.13 300.69h1.10v5.77h-1.10zM114.30 231.45h1.10v5.77h-1.10zM114.30 306.46h1.10v5.77h-1.10zM115.39 214.14h1.10v5.77h-1.10zM115.39 254.53h1.10v5.77h-1.10zM116.47 214.14h1.10v5.77h-1.10zM119.73 306.46h1.10v5.77h-1.10zM120.81 300.69h1.10v5.77h-1.10zM121.89 300.69h1.10v5.77h-1.10zM122.98 208.37h1.10v5.77h-1.10zM124.06 312.23h1.10v5.77h-1.10zM125.15 312.23h1.10v5.77h-1.10zM127.32 283.38h1.10v5.77h-1.10zM128.40 254.53h1.10v5.77h-1.10zM128.40 289.15h1.10v5.77h-1.10zM128.40 300.69h1.10v5.77h-1.10zM129.48 208.37h1.10v5.77h-1.10zM129.48 294.92h1.10v5.77h-1.10zM133.82 237.22h1.10v5.77h-1.10zM134.91 231.45h1.10v5.77h-1.10zM134.91 242.99h1.10v5.77h-1.10zM134.91 277.61h1.10v5.77h-1.10zM134.91 294.92h1.10v5.77h-1.10zM135.99 266.07h1.10v5.77h-1.10zM135.99 300.69h1.10v5.77h-1.10zM137.08 225.68h1.10v5.77h-1.10zM137.08 237.22h1.10v5.77h-1.10zM138.16 214.14h1.10v17.31h-1.10zM138.16 242.99h1.10v5.77h-1.10zM139.24 202.60h1.10v5.77h-1.10zM139.24 214.14h1.10v5.77h-1.10zM139.24 248.76h1.10v5.77h-1.10zM140.33 266.07h1.10v5.77h-1.10zM140.33 283.38h1.10v17.31h-1.10zM141.41 289.15h1.10v5.77h-1.10zM141.41 300.69h1.10v5.77h-1.10zM142.50 300.69h1.10v5.77h-1.10zM143.58 271.84h1.10v5.77h-1.10zM143.58 283.38h1.10v5.77h-1.10zM143.58 294.92h1.10v5.77h-1.10zM143.58 306.46h1.10v5.77h-1.10zM144.67 277.61h1.10v5.77h-1.10zM144.67 294.92h1.10v5.77h-1.10zM145.75 208.37h1.10v5.77h-1.10zM145.75 294.92h1.10v5.77h-1.10zM146.83 225.68h1.10v23.08h-1.10zM146.83 254.53h1.10v5.77h-1.10zM146.83 289.15h1.10v5.77h-1.10zM147.92 277.61h1.10v5.77h-1.10zM150.09 283.38h1.10v5.77h-1.10zM151.17 202.60h1.10v5.77h-1.10zM151.17 266.07h1.10v5.77h-1.10zM152.26 225.68h1.10v5.77h-1.10zM152.26 266.07h1.10v5.77h-1.10zM152.26 300.69h1.10v11.54h-1.10zM153.34 248.76h1.10v5.77h-1.10zM156.59 248.76h1.10v5.77h-1.10zM160.93 306.46h1.10v5.77h-1.10zM162.02 202.60h1.10v11.54h-1.10zM162.02 242.99h1.10v5.77h-1.10zM167.44 208.37h1.10v5.77h-1.10zM167.44 231.45h1.10v5.77h-1.10zM168.52 248.76h1.10v5.77h-1.10zM168.52 266.07h1.10v5.77h-1.10zM168.52 283.38h1.10v5.77h-1.10zM169.61 271.84h1.10v5.77h-1.10zM169.61 306.46h1.10v5.77h-1.10zM170.69 202.60h1.10v5.77h-1.10zM170.69 248.76h1.10v5.77h-1.10z"/>
<path fill="#f0eff6" d="M27.55 202.60h1.10v5.77h-1.10zM28.64 242.99h1.10v5.77h-1.10zM31.89 254.53h1.10v11.54h-1.10zM32.98 283.38h1.10v5.77h-1.10zM37.31 237.22h1.10v5.77h-1.10zM37.31 300.69h1.10v11.54h-1.10zM38.40 208.37h1.10v5.77h-1.10zM38.40 277.61h1.10v5.77h-1.10zM39.48 277.61h1.10v5.77h-1.10zM40.57 277.61h1.10v5.77h-1.10zM40.57 312.23h1.10v5.77h-1.10zM42.73 254.53h1.10v5.77h-1.10zM48.16 312.23h1.10v5.77h-1.10zM49.24 277.61h1.10v5.77h-1.10zM53.58 266.07h1.10v5.77h-1.10zM53.58 300.69h1.10v5.77h-1.10zM57.92 271.84h1.10v5.77h-1.10zM63.34 277.61h1.10v5.77h-1.10zM63.34 312.23h1.10v5.77h-1.10zM67.67 294.92h1.10v5.77h-1.10zM76.35 283.38h1.10v5.77h-1.10zM78.52 283.38h1.10v5.77h-1.10zM82.86 260.30h1.10v5.77h-1.10zM83.94 242.99h1.10v5.77h-1.10zM83.94 306.46h1.10v5.77h-1.10zM85.03 306.46h1.10v5.77h-1.10zM86.11 283.38h1.10v5.77h-1.10zM86.11 294.92h1.10v5.77h-1.10zM87.19 242.99h1.10v5.77h-1.10zM89.36 225.68h1.10v5.77h-1.10zM91.53 254.53h1.10v5.77h-1.10zM92.62 260.30h1.10v5.77h-1.10zM96.95 242.99h1.10v5.77h-1.10zM98.04 294.92h1.10v5.77h-1.10zM99.12 242.99h1.10v5.77h-1.10zM100.21 271.84h1.10v5.77h-1.10zM102.38 306.46h1.10v5.77h-1.10zM105.63 219.91h1.10v5.77h-1.10zM105.63 277.61h1.10v5.77h-1.10zM106.71 260.30h1.10v5.77h-1.10zM106.71 271.84h1.10v5.77h-1.10zM106.71 283.38h1.10v5.77h-1.10zM107.80 237.22h1.10v5.77h-1.10zM107.80 289.15h1.10v5.77h-1.10zM109.97 260.30h1.10v5.77h-1.10zM111.05 202.60h1.10v5.77h-1.10zM111.05 242.99h1.10v5.77h-1.10zM112.13 260.30h1.10v5.77h-1.10zM112.13 294.92h1.10v5.77h-1.10zM112.13 306.46h1.10v5.77h-1.10zM114.30 260.30h1.10v5.77h-1.10zM115.39 266.07h1.10v5.77h-1.10zM116.47 312.23h1.10v5.77h-1.10zM117.56 312.23h1.10v5.77h-1.10zM119.73 231.45h1.10v5.77h-1.10zM119.73 289.15h1.10v17.31h-1.10zM120.81 202.60h1.10v5.77h-1.10zM120.81 260.30h1.10v5.77h-1.10zM120.81 277.61h1.10v5.77h-1.10zM121.89 266.07h1.10v5.77h-1.10zM121.89 289.15h1.10v5.77h-1.10zM122.98 260.30h1.10v5.77h-1.10zM128.40 294.92h1.10v5.77h-1.10zM129.48 242.99h1.10v5.77h-1.10zM130.57 254.53h1.10v5.77h-1.10zM131.65 248.76h1.10v5.77h-1.10zM132.74 248.76h1.10v5.77h-1.10zM135.99 248.76h1.10v5.77h-1.10zM135.99 283.38h1.10v17.31h-1.10zM137.08 231.45h1.10v5.77h-1.10zM137.08 277.61h1.10v5.77h-1.10zM137.08 306.46h1.10v5.77h-1.10zM138.16 208.37h1.10v5.77h-1.10zM138.16 266.07h1.10v5.77h-1.10zM138.16 277.61h1.10v5.77h-1.10zM139.24 237.22h1.10v5.77h-1.10zM139.24 260.30h1.10v5.77h-1.10zM139.24 312.23h1.10v5.77h-1.10zM140.33 248.76h1.10v5.77h-1.10zM141.41 237.22h1.10v5.77h-1.10zM141.41 294.92h1.10v5.77h-1.10zM142.50 214.14h1.10v5.77h-1.10zM142.50 248.76h1.10v5.77h-1.10zM142.50 312.23h1.10v5.77h-1.10zM143.58 260.30h1.10v5.77h-1.10zM143.58 289.15h1.10v5.77h-1.10zM144.67 254.53h1.10v5.77h-1.10zM144.67 271.84h1.10v5.77h-1.10zM145.75 248.76h1.10v5.77h-1.10zM145.75 283.38h1.10v11.54h-1.10zM145.75 300.69h1.10v5.77h-1.10zM146.83 202.60h1.10v5.77h-1.10zM146.83 214.14h1.10v5.77h-1.10zM147.92 225.68h1.10v5.77h-1.10zM147.92 254.53h1.10v5.77h-1.10zM149.00 294.92h1.10v5.77h-1.10zM151.17 248.76h1.10v5.77h-1.10zM151.17 283.38h1.10v5.77h-1.10zM152.26 237.22h1.10v5.77h-1.10zM152.26 254.53h1.10v5.77h-1.10zM152.26 283.38h1.10v5.77h-1.10zM153.34 231.45h1.10v5.77h-1.10zM153.34 254.53h1.10v5.77h-1.10zM160.93 242.99h1.10v5.77h-1.10zM160.93 300.69h1.10v5.77h-1.10zM162.02 289.15h1.10v5.77h-1.10zM165.27 260.30h1.10v5.77h-1.10zM167.44 248.76h1.10v5.77h-1.10zM167.44 277.61h1.10v5.77h-1.10zM168.52 260.30h1.10v5.77h-1.10zM168.52 277.61h1.10v5.77h-1.10zM169.61 202.60h1.10v11.54h-1.10zM169.61 260.30h1.10v11.54h-1.10zM170.69 231.45h1.10v5.77h-1.10zM171.78 248.76h1.10v5.77h-1.10zM171.78 260.30h1.10v5.77h-1.10zM171.78 300.69h1.10v5.77h-1.10zM172.86 277.61h1.10v5.77h-1.10zM172.86 289.15h1.10v5.77h-1.10zM173.94 202.60h1.10v5.77h-1.10z"/>
<path fill="#f6f5f9" d="M29.72 242.99h1.10v5.77h-1.10zM31.89 312.23h1.10v5.77h-1.10zM32.98 254.53h1.10v5.77h-1.10zM36.23 237.22h1.10v5.77h-1.10zM36.23 277.61h1.10v5.77h-1.10zM38.40 254.53h1.10v5.77h-1.10zM41.65 214.14h1.10v5.77h-1.10zM41.65 242.99h1.10v5.77h-1.10zM41.65 260.30h1.10v11.54h-1.10zM41.65 300.69h1.10v5.77h-1.10zM42.73 242.99h1.10v5.77h-1.10zM42.73 271.84h1.10v5.77h-1.10zM48.16 266.07h1.10v5.77h-1.10zM49.24 266.07h1.10v5.77h-1.10zM52.49 208.37h1.10v5.77h-1.10zM55.75 271.84h1.10v5.77h-1.10zM55.75 289.15h1.10v5.77h-1.10zM63.34 254.53h1.10v5.77h-1.10zM65.51 266.07h1.10v5.77h-1.10zM76.35 271.84h1.10v5.77h-1.10zM80.69 260.30h1.10v5.77h-1.10zM82.86 242.99h1.10v5.77h-1.10zM83.94 312.23h1.10v5.77h-1.10zM85.03 277.61h1.10v11.54h-1.10zM85.03 300.69h1.10v5.77h-1.10zM86.11 237.22h1.10v5.77h-1.10zM86.11 312.23h1.10v5.77h-1.10zM87.19 300.69h1.10v5.77h-1.10zM88.28 300.69h1.10v5.77h-1.10zM89.36 254.53h1.10v5.77h-1.10zM91.53 277.61h1.10v5.77h-1.10zM92.62 277.61h1.10v5.77h-1.10zM93.70 242.99h1.10v5.77h-1.10zM94.78 242.99h1.10v5.77h-1.10zM94.78 266.07h1.10v5.77h-1.10zM98.04 242.99h1.10v5.77h-1.10zM98.04 260.30h1.10v5.77h-1.10zM102.38 271.84h1.10v5.77h-1.10zM103.46 312.23h1.10v5.77h-1.10zM104.54 277.61h1.10v5.77h-1.10zM105.63 242.99h1.10v5.77h-1.10zM105.63 283.38h1.10v5.77h-1.10zM105.63 306.46h1.10v5.77h-1.10zM106.71 231.45h1.10v5.77h-1.10zM106.71 312.23h1.10v5.77h-1.10zM108.88 312.23h1.10v5.77h-1.10zM111.05 312.23h1.10v5.77h-1.10zM113.22 306.46h1.10v5.77h-1.10zM114.30 254.53h1.10v5.77h-1.10zM114.30 289.15h1.10v5.77h-1.10zM116.47 306.46h1.10v5.77h-1.10zM117.56 266.07h1.10v5.77h-1.10zM118.64 312.23h1.10v5.77h-1.10zM119.73 242.99h1.10v5.77h-1.10zM119.73 266.07h1.10v5.77h-1.10zM119.73 277.61h1.10v5.77h-1.10zM120.81 231.45h1.10v5.77h-1.10zM121.89 312.23h1.10v5.77h-1.10zM122.98 266.07h1.10v5.77h-1.10zM122.98 312.23h1.10v5.77h-1.10zM124.06 294.92h1.10v5.77h-1.10zM132.74 237.22h1.10v5.77h-1.10zM135.99 219.91h1.10v5.77h-1.10zM135.99 237.22h1.10v5.77h-1.10zM135.99 277.61h1.10v5.77h-1.10zM135.99 306.46h1.10v5.77h-1.10zM138.16 237.22h1.10v5.77h-1.10zM139.24 219.91h1.10v5.77h-1.10zM139.24 300.69h1.10v11.54h-1.10zM140.33 312.23h1.10v5.77h-1.10zM141.41 219.91h1.10v5.77h-1.10zM142.50 219.91h1.10v5.77h-1.10zM142.50 237.22h1.10v5.77h-1.10zM142.50 283.38h1.10v5.77h-1.10zM143.58 208.37h1.10v5.77h-1.10zM143.58 231.45h1.10v11.54h-1.10zM144.67 214.14h1.10v5.77h-1.10zM144.67 225.68h1.10v5.77h-1.10zM144.67 289.15h1.10v5.77h-1.10zM144.67 300.69h1.10v5.77h-1.10zM145.75 254.53h1.10v5.77h-1.10zM147.92 248.76h1.10v5.77h-1.10zM147.92 312.23h1.10v5.77h-1.10zM149.00 283.38h1.10v5.77h-1.10zM149.00 300.69h1.10v5.77h-1.10zM151.17 254.53h1.10v5.77h-1.10zM151.17 294.92h1.10v5.77h-1.10zM151.17 306.46h1.10v11.54h-1.10zM153.34 214.14h1.10v5.77h-1.10zM153.34 225.68h1.10v5.77h-1.10zM153.34 266.07h1.10v5.77h-1.10zM156.59 219.91h1.10v5.77h-1.10zM158.76 214.14h1.10v5.77h-1.10zM158.76 237.22h1.10v11.54h-1.10zM158.76 306.46h1.10v5.77h-1.10zM162.02 214.14h1.10v5.77h-1.10zM162.02 266.07h1.10v5.77h-1.10zM162.02 277.61h1.10v5.77h-1.10zM163.10 202.60h1.10v5.77h-1.10zM163.10 300.69h1.10v5.77h-1.10zM166.35 294.92h1.10v5.77h-1.10zM167.44 225.68h1.10v5.77h-1.10zM167.44 242.99h1.10v5.77h-1.10zM167.44 266.07h1.10v11.54h-1.10zM167.44 294.92h1.10v5.77h-1.10zM168.52 202.60h1.10v11.54h-1.10zM168.52 294.92h1.10v5.77h-1.10zM168.52 306.46h1.10v5.77h-1.10zM169.61 214.14h1.10v5.77h-1.10zM169.61 225.68h1.10v5.77h-1.10zM169.61 242.99h1.10v5.77h-1.10zM169.61 254.53h1.10v5.77h-1.10zM170.69 294.92h1.10v5.77h-1.10zM170.69 306.46h1.10v5.77h-1.10zM171.78 254.53h1.10v5.77h-1.10zM171.78 289.15h1.10v5.77h-1.10zM171.78 312.23h1.10v5.77h-1.10zM172.86 300.69h1.10v5.77h-1.10zM173.94 248.76h1.10v5.77h-1.10z"/>
<path fill="#faf4f4" d="M30.81 277.61h1.10v5.77h-1.10zM31.89 242.99h1.10v5.77h-1.10zM41.65 312.23h1.10v5.77h-1.10zM53.58 242.99h1.10v5.77h-1.10zM63.34 248.76h1.10v5.77h-1.10zM63.34 300.69h1.10v5.77h-1.10zM65.51 260.30h1.10v5.77h-1.10zM91.53 242.99h1.10v5.77h-1.10zM92.62 242.99h1.10v5.77h-1.10zM93.70 300.69h1.10v5.77h-1.10zM106.71 242.99h1.10v5.77h-1.10zM106.71 306.46h1.10v5.77h-1.10zM107.80 242.99h1.10v5.77h-1.10zM108.88 242.99h1.10v5.77h-1.10zM111.05 260.30h1.10v5.77h-1.10zM111.05 294.92h1.10v5.77h-1.10zM114.30 294.92h1.10v5.77h-1.10zM119.73 254.53h1.10v5.77h-1.10zM120.81 248.76h1.10v5.77h-1.10zM121.89 242.99h1.10v5.77h-1.10zM121.89 277.61h1.10v5.77h-1.10zM135.99 208.37h1.10v11.54h-1.10zM137.08 242.99h1.10v5.77h-1.10zM139.24 208.37h1.10v5.77h-1.10zM139.24 271.84h1.10v5.77h-1.10zM140.33 214.14h1.10v5.77h-1.10zM140.33 242.99h1.10v5.77h-1.10zM141.41 214.14h1.10v5.77h-1.10zM141.41 312.23h1.10v5.77h-1.10zM142.50 266.07h1.10v11.54h-1.10zM143.58 202.60h1.10v5.77h-1.10zM143.58 219.91h1.10v5.77h-1.10zM143.58 242.99h1.10v5.77h-1.10zM144.67 208.37h1.10v5.77h-1.10zM144.67 248.76h1.10v5.77h-1.10zM144.67 260.30h1.10v11.54h-1.10zM144.67 312.23h1.10v5.77h-1.10zM145.75 219.91h1.10v5.77h-1.10zM145.75 306.46h1.10v5.77h-1.10zM147.92 214.14h1.10v5.77h-1.10zM147.92 231.45h1.10v5.77h-1.10zM147.92 242.99h1.10v5.77h-1.10zM150.09 202.60h1.10v5.77h-1.10zM150.09 254.53h1.10v11.54h-1.10zM150.09 277.61h1.10v5.77h-1.10zM150.09 312.23h1.10v5.77h-1.10zM151.17 231.45h1.10v11.54h-1.10zM151.17 289.15h1.10v5.77h-1.10zM152.26 208.37h1.10v5.77h-1.10zM153.34 202.60h1.10v5.77h-1.10zM153.34 260.30h1.10v5.77h-1.10zM153.34 306.46h1.10v5.77h-1.10zM154.43 254.53h1.10v5.77h-1.10zM156.59 208.37h1.10v5.77h-1.10zM156.59 254.53h1.10v5.77h-1.10zM156.59 300.69h1.10v5.77h-1.10zM157.68 219.91h1.10v5.77h-1.10zM158.76 254.53h1.10v5.77h-1.10zM158.76 277.61h1.10v5.77h-1.10zM160.93 202.60h1.10v5.77h-1.10zM160.93 214.14h1.10v5.77h-1.10zM160.93 225.68h1.10v5.77h-1.10zM160.93 254.53h1.10v5.77h-1.10zM160.93 266.07h1.10v5.77h-1.10zM162.02 254.53h1.10v5.77h-1.10zM162.02 294.92h1.10v5.77h-1.10zM163.10 289.15h1.10v11.54h-1.10zM164.18 277.61h1.10v5.77h-1.10zM166.35 248.76h1.10v5.77h-1.10zM167.44 202.60h1.10v5.77h-1.10zM167.44 214.14h1.10v5.77h-1.10zM167.44 300.69h1.10v5.77h-1.10zM168.52 219.91h1.10v5.77h-1.10zM169.61 237.22h1.10v5.77h-1.10zM170.69 208.37h1.10v5.77h-1.10zM171.78 231.45h1.10v5.77h-1.10zM171.78 266.07h1.10v5.77h-1.10zM171.78 294.92h1.10v5.77h-1.10zM172.86 242.99h1.10v5.77h-1.10zM172.86 254.53h1.10v11.54h-1.10zM172.86 312.23h1.10v5.77h-1.10zM173.94 300.69h1.10v5.77h-1.10z"/>
<path fill="#7372ae" d="M34.06 202.60h1.10v5.77h-1.10zM34.06 214.14h1.10v5.77h-1.10zM34.06 289.15h1.10v5.77h-1.10zM36.23 225.68h1.10v5.77h-1.10zM50.33 248.76h1.10v5.77h-1.10zM54.66 248.76h1.10v5.77h-1.10z"/>
<path fill="#f9edec" d="M38.40 312.23h1.10v5.77h-1.10zM41.65 271.84h1.10v5.77h-1.10zM63.34 202.60h1.10v5.77h-1.10zM79.60 260.30h1.10v5.77h-1.10zM90.45 254.53h1.10v5.77h-1.10zM107.80 312.23h1.10v5.77h-1.10zM115.39 300.69h1.10v5.77h-1.10zM117.56 242.99h1.10v5.77h-1.10zM119.73 271.84h1.10v5.77h-1.10zM120.81 266.07h1.10v5.77h-1.10zM122.98 242.99h1.10v5.77h-1.10zM128.40 242.99h1.10v5.77h-1.10zM135.99 225.68h1.10v5.77h-1.10zM140.33 208.37h1.10v5.77h-1.10zM140.33 225.68h1.10v11.54h-1.10zM140.33 260.30h1.10v5.77h-1.10zM140.33 306.46h1.10v5.77h-1.10zM141.41 208.37h1.10v5.77h-1.10zM141.41 248.76h1.10v5.77h-1.10zM141.41 260.30h1.10v5.77h-1.10zM141.41 271.84h1.10v5.77h-1.10zM141.41 283.38h1.10v5.77h-1.10zM142.50 202.60h1.10v5.77h-1.10zM142.50 225.68h1.10v5.77h-1.10zM142.50 254.53h1.10v5.77h-1.10zM143.58 254.53h1.10v5.77h-1.10zM145.75 225.68h1.10v5.77h-1.10zM146.83 219.91h1.10v5.77h-1.10zM147.92 289.15h1.10v5.77h-1.10zM149.00 202.60h1.10v5.77h-1.10zM149.00 254.53h1.10v5.77h-1.10zM149.00 306.46h1.10v5.77h-1.10zM150.09 266.07h1.10v5.77h-1.10zM150.09 300.69h1.10v5.77h-1.10zM151.17 208.37h1.10v5.77h-1.10zM152.26 219.91h1.10v5.77h-1.10zM152.26 242.99h1.10v5.77h-1.10zM152.26 312.23h1.10v5.77h-1.10zM153.34 208.37h1.10v5.77h-1.10zM153.34 242.99h1.10v5.77h-1.10zM153.34 277.61h1.10v5.77h-1.10zM153.34 300.69h1.10v5.77h-1.10zM154.43 277.61h1.10v5.77h-1.10zM155.51 225.68h1.10v5.77h-1.10zM155.51 266.07h1.10v11.54h-1.10zM156.59 214.14h1.10v5.77h-1.10zM156.59 271.84h1.10v5.77h-1.10zM156.59 312.23h1.10v5.77h-1.10zM157.68 214.14h1.10v5.77h-1.10zM157.68 306.46h1.10v5.77h-1.10zM158.76 219.91h1.10v5.77h-1.10zM158.76 283.38h1.10v11.54h-1.10zM158.76 300.69h1.10v5.77h-1.10zM159.85 300.69h1.10v5.77h-1.10zM160.93 248.76h1.10v5.77h-1.10zM160.93 277.61h1.10v5.77h-1.10zM162.02 283.38h1.10v5.77h-1.10zM163.10 208.37h1.10v11.54h-1.10zM163.10 283.38h1.10v5.77h-1.10zM163.10 306.46h1.10v5.77h-1.10zM164.18 294.92h1.10v5.77h-1.10zM165.27 242.99h1.10v5.77h-1.10zM165.27 277.61h1.10v5.77h-1.10zM165.27 294.92h1.10v5.77h-1.10zM166.35 202.60h1.10v5.77h-1.10zM166.35 231.45h1.10v5.77h-1.10zM167.44 237.22h1.10v5.77h-1.10zM167.44 254.53h1.10v5.77h-1.10zM167.44 306.46h1.10v5.77h-1.10zM168.52 237.22h1.10v11.54h-1.10zM168.52 289.15h1.10v5.77h-1.10zM169.61 219.91h1.10v5.77h-1.10zM170.69 214.14h1.10v5.77h-1.10zM171.78 214.14h1.10v11.54h-1.10zM171.78 237.22h1.10v5.77h-1.10zM173.94 208.37h1.10v11.54h-1.10zM173.94 266.07h1.10v5.77h-1.10zM173.94 289.15h1.10v5.77h-1.10z"/>
<path fill="#f8e6e4" d="M41.65 225.68h1.10v5.77h-1.10zM41.65 277.61h1.10v5.77h-1.10zM119.73 312.23h1.10v5.77h-1.10zM140.33 254.53h1.10v5.77h-1.10zM141.41 231.45h1.10v5.77h-1.10zM142.50 242.99h1.10v5.77h-1.10zM144.67 237.22h1.10v5.77h-1.10zM145.75 242.99h1.10v5.77h-1.10zM145.75 312.23h1.10v5.77h-1.10zM147.92 237.22h1.10v5.77h-1.10zM149.00 208.37h1.10v11.54h-1.10zM149.00 231.45h1.10v5.77h-1.10zM149.00 248.76h1.10v5.77h-1.10zM149.00 312.23h1.10v5.77h-1.10zM150.09 231.45h1.10v5.77h-1.10zM150.09 248.76h1.10v5.77h-1.10zM152.26 214.14h1.10v5.77h-1.10zM152.26 294.92h1.10v5.77h-1.10zM153.34 237.22h1.10v5.77h-1.10zM153.34 271.84h1.10v5.77h-1.10zM153.34 312.23h1.10v5.77h-1.10zM154.43 208.37h1.10v11.54h-1.10zM155.51 208.37h1.10v5.77h-1.10zM155.51 277.61h1.10v5.77h-1.10zM155.51 289.15h1.10v5.77h-1.10zM155.51 312.23h1.10v5.77h-1.10zM156.59 283.38h1.10v17.31h-1.10zM157.68 208.37h1.10v5.77h-1.10zM158.76 208.37h1.10v5.77h-1.10zM158.76 260.30h1.10v5.77h-1.10zM158.76 271.84h1.10v5.77h-1.10zM159.85 214.14h1.10v5.77h-1.10zM159.85 248.76h1.10v11.54h-1.10zM160.93 271.84h1.10v5.77h-1.10zM160.93 312.23h1.10v5.77h-1.10zM162.02 219.91h1.10v11.54h-1.10zM162.02 237.22h1.10v5.77h-1.10zM163.10 242.99h1.10v5.77h-1.10zM163.10 260.30h1.10v5.77h-1.10zM163.10 277.61h1.10v5.77h-1.10zM164.18 260.30h1.10v5.77h-1.10zM164.18 300.69h1.10v5.77h-1.10zM165.27 248.76h1.10v11.54h-1.10zM166.35 219.91h1.10v5.77h-1.10zM170.69 237.22h1.10v5.77h-1.10zM170.69 283.38h1.10v11.54h-1.10zM171.78 225.68h1.10v5.77h-1.10zM171.78 271.84h1.10v5.77h-1.10zM171.78 306.46h1.10v5.77h-1.10zM172.86 231.45h1.10v5.77h-1.10zM172.86 266.07h1.10v11.54h-1.10zM172.86 283.38h1.10v5.77h-1.10zM173.94 231.45h1.10v5.77h-1.10zM173.94 271.84h1.10v5.77h-1.10zM173.94 312.23h1.10v5.77h-1.10z"/>
<path fill="#55559a" d="M43.82 248.76h1.10v5.77h-1.10z"/>
<path fill="#4e4e96" d="M44.90 248.76h1.10v5.77h-1.10zM47.07 248.76h1.10v5.77h-1.10zM81.77 248.76h1.10v5.77h-1.10z"/>
<path fill="#5f5fa1" d="M59.00 202.60h1.10v5.77h-1.10zM69.84 231.45h1.10v5.77h-1.10zM73.10 260.30h1.10v5.77h-1.10z"/>
<path fill="#f4d7d3" d="M63.34 242.99h1.10v5.77h-1.10zM120.81 242.99h1.10v5.77h-1.10zM135.99 231.45h1.10v5.77h-1.10zM145.75 237.22h1.10v5.77h-1.10zM149.00 277.61h1.10v5.77h-1.10zM150.09 237.22h1.10v11.54h-1.10zM151.17 219.91h1.10v5.77h-1.10zM154.43 231.45h1.10v5.77h-1.10zM154.43 242.99h1.10v5.77h-1.10zM155.51 214.14h1.10v5.77h-1.10zM155.51 242.99h1.10v5.77h-1.10zM155.51 260.30h1.10v5.77h-1.10zM155.51 283.38h1.10v5.77h-1.10zM155.51 294.92h1.10v17.31h-1.10zM156.59 237.22h1.10v5.77h-1.10zM156.59 306.46h1.10v5.77h-1.10zM157.68 202.60h1.10v5.77h-1.10zM157.68 254.53h1.10v5.77h-1.10zM157.68 283.38h1.10v5.77h-1.10zM157.68 312.23h1.10v5.77h-1.10zM158.76 202.60h1.10v5.77h-1.10zM158.76 294.92h1.10v5.77h-1.10zM159.85 277.61h1.10v5.77h-1.10zM160.93 289.15h1.10v11.54h-1.10zM162.02 312.23h1.10v5.77h-1.10zM163.10 254.53h1.10v5.77h-1.10zM163.10 271.84h1.10v5.77h-1.10zM164.18 202.60h1.10v5.77h-1.10zM164.18 242.99h1.10v5.77h-1.10zM164.18 266.07h1.10v5.77h-1.10zM165.27 219.91h1.10v5.77h-1.10zM165.27 289.15h1.10v5.77h-1.10zM165.27 312.23h1.10v5.77h-1.10zM166.35 214.14h1.10v5.77h-1.10zM166.35 271.84h1.10v5.77h-1.10zM166.35 300.69h1.10v5.77h-1.10zM166.35 312.23h1.10v5.77h-1.10zM170.69 225.68h1.10v5.77h-1.10zM173.94 219.91h1.10v5.77h-1.10zM173.94 242.99h1.10v5.77h-1.10zM177.20 312.23h1.10v5.77h-1.10zM178.28 283.38h1.10v5.77h-1.10zM179.37 312.23h1.10v5.77h-1.10z"/>
<path fill="#f6dedb" d="M131.65 300.69h1.10v5.77h-1.10zM141.41 254.53h1.10v5.77h-1.10zM141.41 266.07h1.10v5.77h-1.10zM144.67 219.91h1.10v5.77h-1.10zM144.67 242.99h1.10v5.77h-1.10zM145.75 231.45h1.10v5.77h-1.10zM147.92 219.91h1.10v5.77h-1.10zM150.09 208.37h1.10v5.77h-1.10zM150.09 271.84h1.10v5.77h-1.10zM150.09 289.15h1.10v5.77h-1.10zM151.17 225.68h1.10v5.77h-1.10zM154.43 248.76h1.10v5.77h-1.10zM154.43 266.07h1.10v5.77h-1.10zM154.43 306.46h1.10v5.77h-1.10zM155.51 202.60h1.10v5.77h-1.10zM155.51 237.22h1.10v5.77h-1.10zM156.59 225.68h1.10v5.77h-1.10zM156.59 277.61h1.10v5.77h-1.10zM157.68 237.22h1.10v17.31h-1.10zM157.68 277.61h1.10v5.77h-1.10zM157.68 300.69h1.10v5.77h-1.10zM158.76 248.76h1.10v5.77h-1.10zM159.85 242.99h1.10v5.77h-1.10zM159.85 289.15h1.10v11.54h-1.10zM160.93 219.91h1.10v5.77h-1.10zM160.93 231.45h1.10v5.77h-1.10zM160.93 283.38h1.10v5.77h-1.10zM163.10 219.91h1.10v5.77h-1.10zM163.10 237.22h1.10v5.77h-1.10zM163.10 248.76h1.10v5.77h-1.10zM163.10 312.23h1.10v5.77h-1.10zM164.18 208.37h1.10v5.77h-1.10zM164.18 231.45h1.10v5.77h-1.10zM164.18 248.76h1.10v11.54h-1.10zM164.18 283.38h1.10v5.77h-1.10zM164.18 312.23h1.10v5.77h-1.10zM165.27 231.45h1.10v5.77h-1.10zM165.27 271.84h1.10v5.77h-1.10zM166.35 254.53h1.10v5.77h-1.10zM166.35 266.07h1.10v5.77h-1.10zM166.35 283.38h1.10v5.77h-1.10zM167.44 289.15h1.10v5.77h-1.10zM169.61 289.15h1.10v5.77h-1.10zM170.69 219.91h1.10v5.77h-1.10zM171.78 242.99h1.10v5.77h-1.10zM171.78 283.38h1.10v5.77h-1.10zM172.86 219.91h1.10v5.77h-1.10zM172.86 237.22h1.10v5.77h-1.10zM172.86 306.46h1.10v5.77h-1.10zM173.94 225.68h1.10v5.77h-1.10zM173.94 254.53h1.10v5.77h-1.10zM173.94 283.38h1.10v5.77h-1.10zM173.94 294.92h1.10v5.77h-1.10zM173.94 306.46h1.10v5.77h-1.10zM178.28 312.23h1.10v5.77h-1.10zM180.45 254.53h1.10v5.77h-1.10z"/>
<path fill="#f3d0cb" d="M135.99 242.99h1.10v5.77h-1.10zM141.41 202.60h1.10v5.77h-1.10zM141.41 242.99h1.10v5.77h-1.10zM144.67 231.45h1.10v5.77h-1.10zM145.75 214.14h1.10v5.77h-1.10zM149.00 271.84h1.10v5.77h-1.10zM151.17 214.14h1.10v5.77h-1.10zM152.26 231.45h1.10v5.77h-1.10zM154.43 225.68h1.10v5.77h-1.10zM154.43 271.84h1.10v5.77h-1.10zM154.43 294.92h1.10v11.54h-1.10zM156.59 202.60h1.10v5.77h-1.10zM156.59 231.45h1.10v5.77h-1.10zM157.68 289.15h1.10v11.54h-1.10zM158.76 312.23h1.10v5.77h-1.10zM159.85 219.91h1.10v5.77h-1.10zM159.85 283.38h1.10v5.77h-1.10zM162.02 271.84h1.10v5.77h-1.10zM163.10 225.68h1.10v11.54h-1.10zM164.18 289.15h1.10v5.77h-1.10zM164.18 306.46h1.10v5.77h-1.10zM165.27 300.69h1.10v5.77h-1.10zM166.35 225.68h1.10v5.77h-1.10zM177.20 266.07h1.10v5.77h-1.10zM178.28 294.92h1.10v5.77h-1.10zM179.37 294.92h1.10v5.77h-1.10z"/>
<path fill="#f0c5be" d="M139.24 231.45h1.10v5.77h-1.10zM149.00 225.68h1.10v5.77h-1.10zM149.00 237.22h1.10v11.54h-1.10zM149.00 260.30h1.10v5.77h-1.10zM154.43 202.60h1.10v5.77h-1.10zM154.43 260.30h1.10v5.77h-1.10zM154.43 283.38h1.10v5.77h-1.10zM154.43 312.23h1.10v5.77h-1.10zM155.51 219.91h1.10v5.77h-1.10zM156.59 260.30h1.10v5.77h-1.10zM157.68 266.07h1.10v11.54h-1.10zM158.76 225.68h1.10v11.54h-1.10zM158.76 266.07h1.10v5.77h-1.10zM159.85 225.68h1.10v5.77h-1.10zM164.18 271.84h1.10v5.77h-1.10zM165.27 237.22h1.10v5.77h-1.10zM166.35 242.99h1.10v5.77h-1.10zM166.35 277.61h1.10v5.77h-1.10zM166.35 289.15h1.10v5.77h-1.10zM166.35 306.46h1.10v5.77h-1.10zM177.20 208.37h1.10v5.77h-1.10zM177.20 277.61h1.10v5.77h-1.10zM178.28 254.53h1.10v5.77h-1.10zM178.28 289.15h1.10v5.77h-1.10zM179.37 289.15h1.10v5.77h-1.10zM180.45 219.91h1.10v5.77h-1.10zM180.45 266.07h1.10v5.77h-1.10zM180.45 289.15h1.10v17.31h-1.10zM180.45 312.23h1.10v5.77h-1.10zM183.70 300.69h1.10v5.77h-1.10z"/>
<path fill="#edb9b1" d="M141.41 225.68h1.10v5.77h-1.10zM149.00 219.91h1.10v5.77h-1.10zM150.09 214.14h1.10v5.77h-1.10zM150.09 225.68h1.10v5.77h-1.10zM154.43 219.91h1.10v5.77h-1.10zM154.43 289.15h1.10v5.77h-1.10zM155.51 231.45h1.10v5.77h-1.10zM159.85 208.37h1.10v5.77h-1.10zM159.85 237.22h1.10v5.77h-1.10zM159.85 260.30h1.10v5.77h-1.10zM159.85 312.23h1.10v5.77h-1.10zM160.93 208.37h1.10v5.77h-1.10zM164.18 237.22h1.10v5.77h-1.10zM165.27 202.60h1.10v5.77h-1.10zM165.27 266.07h1.10v5.77h-1.10zM165.27 283.38h1.10v5.77h-1.10zM165.27 306.46h1.10v5.77h-1.10zM166.35 237.22h1.10v5.77h-1.10zM173.94 237.22h1.10v5.77h-1.10zM177.20 254.53h1.10v11.54h-1.10zM177.20 283.38h1.10v5.77h-1.10zM177.20 294.92h1.10v11.54h-1.10zM178.28 271.84h1.10v11.54h-1.10zM179.37 266.07h1.10v5.77h-1.10zM180.45 231.45h1.10v5.77h-1.10zM180.45 283.38h1.10v5.77h-1.10zM180.45 306.46h1.10v5.77h-1.10z"/>
<path fill="#eaaea4" d="M149.00 289.15h1.10v5.77h-1.10zM150.09 219.91h1.10v5.77h-1.10zM154.43 237.22h1.10v5.77h-1.10zM157.68 225.68h1.10v5.77h-1.10zM159.85 202.60h1.10v5.77h-1.10zM159.85 231.45h1.10v5.77h-1.10zM159.85 266.07h1.10v11.54h-1.10zM166.35 208.37h1.10v5.77h-1.10zM177.20 225.68h1.10v5.77h-1.10zM177.20 271.84h1.10v5.77h-1.10zM178.28 225.68h1.10v5.77h-1.10zM178.28 300.69h1.10v5.77h-1.10zM180.45 202.60h1.10v5.77h-1.10zM180.45 214.14h1.10v5.77h-1.10zM183.70 219.91h1.10v5.77h-1.10zM183.70 231.45h1.10v5.77h-1.10zM183.70 260.30h1.10v5.77h-1.10zM183.70 283.38h1.10v5.77h-1.10zM183.70 294.92h1.10v5.77h-1.10z"/>
<path fill="#e5978b" d="M157.68 231.45h1.10v5.77h-1.10zM164.18 214.14h1.10v5.77h-1.10zM177.20 237.22h1.10v17.31h-1.10zM178.28 208.37h1.10v11.54h-1.10zM178.28 231.45h1.10v23.08h-1.10zM178.28 260.30h1.10v5.77h-1.10zM179.37 260.30h1.10v5.77h-1.10zM180.45 225.68h1.10v5.77h-1.10zM180.45 237.22h1.10v11.54h-1.10zM180.45 260.30h1.10v5.77h-1.10zM183.70 208.37h1.10v5.77h-1.10zM183.70 242.99h1.10v17.31h-1.10zM183.70 277.61h1.10v5.77h-1.10zM183.70 289.15h1.10v5.77h-1.10zM184.79 266.07h1.10v5.77h-1.10zM184.79 277.61h1.10v5.77h-1.10zM184.79 294.92h1.10v5.77h-1.10z"/>
<path fill="#e8a398" d="M157.68 260.30h1.10v5.77h-1.10zM164.18 219.91h1.10v11.54h-1.10zM165.27 208.37h1.10v5.77h-1.10zM165.27 225.68h1.10v5.77h-1.10zM177.20 289.15h1.10v5.77h-1.10zM177.20 306.46h1.10v5.77h-1.10zM178.28 266.07h1.10v5.77h-1.10zM178.28 306.46h1.10v5.77h-1.10zM179.37 231.45h1.10v5.77h-1.10zM179.37 254.53h1.10v5.77h-1.10zM179.37 271.84h1.10v17.31h-1.10zM179.37 300.69h1.10v5.77h-1.10zM180.45 277.61h1.10v5.77h-1.10zM183.70 237.22h1.10v5.77h-1.10zM183.70 266.07h1.10v11.54h-1.10zM183.70 312.23h1.10v5.77h-1.10zM184.79 283.38h1.10v5.77h-1.10zM184.79 300.69h1.10v5.77h-1.10zM194.55 300.69h1.10v5.77h-1.10z"/>
<path fill="#e28c7e" d="M165.27 214.14h1.10v5.77h-1.10zM177.20 231.45h1.10v5.77h-1.10zM179.37 214.14h1.10v5.77h-1.10zM180.45 208.37h1.10v5.77h-1.10zM180.45 271.84h1.10v5.77h-1.10zM183.70 202.60h1.10v5.77h-1.10zM183.70 214.14h1.10v5.77h-1.10zM183.70 306.46h1.10v5.77h-1.10zM184.79 208.37h1.10v5.77h-1.10zM184.79 231.45h1.10v5.77h-1.10zM184.79 242.99h1.10v5.77h-1.10zM184.79 260.30h1.10v5.77h-1.10zM184.79 306.46h1.10v11.54h-1.10z"/>
<path fill="#cf594c" d="M175.03 202.60h1.10v5.77h-1.10zM176.11 225.68h1.10v5.77h-1.10zM176.11 254.53h1.10v11.54h-1.10zM178.28 202.60h1.10v5.77h-1.10zM181.53 202.60h1.10v11.54h-1.10zM181.53 271.84h1.10v5.77h-1.10zM181.53 312.23h1.10v5.77h-1.10zM182.62 231.45h1.10v5.77h-1.10zM182.62 248.76h1.10v5.77h-1.10zM182.62 266.07h1.10v5.77h-1.10zM182.62 306.46h1.10v5.77h-1.10zM186.96 271.84h1.10v5.77h-1.10zM188.04 208.37h1.10v5.77h-1.10zM188.04 219.91h1.10v11.54h-1.10zM188.04 242.99h1.10v5.77h-1.10zM188.04 266.07h1.10v5.77h-1.10zM188.04 283.38h1.10v5.77h-1.10zM188.04 306.46h1.10v5.77h-1.10zM189.13 202.60h1.10v5.77h-1.10zM189.13 219.91h1.10v5.77h-1.10zM189.13 289.15h1.10v5.77h-1.10zM189.13 306.46h1.10v5.77h-1.10zM190.21 306.46h1.10v5.77h-1.10zM193.46 208.37h1.10v5.77h-1.10zM193.46 300.69h1.10v5.77h-1.10zM194.55 242.99h1.10v5.77h-1.10zM195.63 300.69h1.10v5.77h-1.10z"/>
<path fill="#c43a2e" d="M175.03 208.37h1.10v40.39h-1.10zM175.03 254.53h1.10v57.70h-1.10zM176.11 214.14h1.10v5.77h-1.10zM176.11 237.22h1.10v5.77h-1.10zM176.11 312.23h1.10v5.77h-1.10zM181.53 260.30h1.10v5.77h-1.10zM181.53 283.38h1.10v5.77h-1.10zM181.53 306.46h1.10v5.77h-1.10zM185.87 202.60h1.10v11.54h-1.10zM185.87 219.91h1.10v51.93h-1.10zM185.87 283.38h1.10v34.62h-1.10zM186.96 202.60h1.10v11.54h-1.10zM186.96 219.91h1.10v17.31h-1.10zM186.96 242.99h1.10v17.31h-1.10zM186.96 266.07h1.10v5.77h-1.10zM186.96 289.15h1.10v11.54h-1.10zM186.96 306.46h1.10v5.77h-1.10zM188.04 254.53h1.10v5.77h-1.10zM188.04 294.92h1.10v5.77h-1.10zM189.13 214.14h1.10v5.77h-1.10zM189.13 254.53h1.10v5.77h-1.10zM189.13 294.92h1.10v5.77h-1.10zM189.13 312.23h1.10v5.77h-1.10zM190.21 231.45h1.10v5.77h-1.10zM190.21 242.99h1.10v5.77h-1.10zM190.21 254.53h1.10v23.08h-1.10zM190.21 289.15h1.10v11.54h-1.10zM191.29 202.60h1.10v115.40h-1.10zM192.38 202.60h1.10v115.40h-1.10zM193.46 202.60h1.10v5.77h-1.10zM193.46 219.91h1.10v28.85h-1.10zM193.46 254.53h1.10v11.54h-1.10zM193.46 277.61h1.10v5.77h-1.10zM193.46 289.15h1.10v5.77h-1.10zM193.46 306.46h1.10v11.54h-1.10zM195.63 202.60h1.10v92.32h-1.10zM195.63 306.46h1.10v11.54h-1.10zM196.72 202.60h1.10v11.54h-1.10zM196.72 219.91h1.10v17.31h-1.10zM196.72 248.76h1.10v5.77h-1.10zM196.72 260.30h1.10v34.62h-1.10zM196.72 300.69h1.10v5.77h-1.10zM196.72 312.23h1.10v5.77h-1.10z"/>
<path fill="#d36356" d="M175.03 248.76h1.10v5.77h-1.10zM176.11 248.76h1.10v5.77h-1.10zM176.11 289.15h1.10v5.77h-1.10zM181.53 237.22h1.10v11.54h-1.10zM181.53 254.53h1.10v5.77h-1.10zM181.53 266.07h1.10v5.77h-1.10zM181.53 277.61h1.10v5.77h-1.10zM182.62 214.14h1.10v5.77h-1.10zM182.62 283.38h1.10v5.77h-1.10zM182.62 312.23h1.10v5.77h-1.10zM184.79 225.68h1.10v5.77h-1.10zM190.21 208.37h1.10v5.77h-1.10zM193.46 271.84h1.10v5.77h-1.10zM194.55 231.45h1.10v5.77h-1.10zM194.55 248.76h1.10v5.77h-1.10zM194.55 260.30h1.10v11.54h-1.10zM194.55 289.15h1.10v5.77h-1.10zM194.55 306.46h1.10v5.77h-1.10z"/>
<path fill="#c84438" d="M175.03 312.23h1.10v5.77h-1.10zM176.11 231.45h1.10v5.77h-1.10zM176.11 266.07h1.10v5.77h-1.10zM176.11 277.61h1.10v11.54h-1.10zM176.11 294.92h1.10v17.31h-1.10zM181.53 214.14h1.10v5.77h-1.10zM181.53 225.68h1.10v5.77h-1.10zM181.53 294.92h1.10v5.77h-1.10zM182.62 225.68h1.10v5.77h-1.10zM185.87 214.14h1.10v5.77h-1.10zM185.87 271.84h1.10v11.54h-1.10zM186.96 214.14h1.10v5.77h-1.10zM186.96 260.30h1.10v5.77h-1.10zM186.96 283.38h1.10v5.77h-1.10zM186.96 300.69h1.10v5.77h-1.10zM186.96 312.23h1.10v5.77h-1.10zM188.04 202.60h1.10v5.77h-1.10zM188.04 237.22h1.10v5.77h-1.10zM188.04 271.84h1.10v5.77h-1.10zM188.04 312.23h1.10v5.77h-1.10zM189.13 231.45h1.10v17.31h-1.10zM189.13 266.07h1.10v11.54h-1.10zM189.13 300.69h1.10v5.77h-1.10zM190.21 219.91h1.10v11.54h-1.10zM190.21 237.22h1.10v5.77h-1.10zM190.21 300.69h1.10v5.77h-1.10zM190.21 312.23h1.10v5.77h-1.10zM193.46 248.76h1.10v5.77h-1.10zM193.46 266.07h1.10v5.77h-1.10zM193.46 283.38h1.10v5.77h-1.10zM194.55 277.61h1.10v5.77h-1.10zM196.72 214.14h1.10v5.77h-1.10zM196.72 242.99h1.10v5.77h-1.10zM196.72 306.46h1.10v5.77h-1.10z"/>
<path fill="#cc4e42" d="M176.11 202.60h1.10v11.54h-1.10zM176.11 219.91h1.10v5.77h-1.10zM176.11 242.99h1.10v5.77h-1.10zM181.53 231.45h1.10v5.77h-1.10zM181.53 248.76h1.10v5.77h-1.10zM181.53 289.15h1.10v5.77h-1.10zM181.53 300.69h1.10v5.77h-1.10zM182.62 277.61h1.10v5.77h-1.10zM182.62 289.15h1.10v5.77h-1.10zM186.96 237.22h1.10v5.77h-1.10zM186.96 277.61h1.10v5.77h-1.10zM188.04 214.14h1.10v5.77h-1.10zM188.04 231.45h1.10v5.77h-1.10zM188.04 260.30h1.10v5.77h-1.10zM189.13 208.37h1.10v5.77h-1.10zM189.13 225.68h1.10v5.77h-1.10zM189.13 248.76h1.10v5.77h-1.10zM189.13 260.30h1.10v5.77h-1.10zM189.13 277.61h1.10v11.54h-1.10zM190.21 202.60h1.10v5.77h-1.10zM190.21 214.14h1.10v5.77h-1.10zM190.21 248.76h1.10v5.77h-1.10zM190.21 277.61h1.10v11.54h-1.10zM193.46 214.14h1.10v5.77h-1.10zM193.46 294.92h1.10v5.77h-1.10zM195.63 294.92h1.10v5.77h-1.10zM196.72 237.22h1.10v5.77h-1.10zM196.72 254.53h1.10v5.77h-1.10zM196.72 294.92h1.10v5.77h-1.10z"/>
<path fill="#d76d60" d="M176.11 271.84h1.10v5.77h-1.10zM179.37 202.60h1.10v5.77h-1.10zM179.37 225.68h1.10v5.77h-1.10zM181.53 219.91h1.10v5.77h-1.10zM182.62 208.37h1.10v5.77h-1.10zM182.62 237.22h1.10v11.54h-1.10zM182.62 260.30h1.10v5.77h-1.10zM182.62 271.84h1.10v5.77h-1.10zM183.70 225.68h1.10v5.77h-1.10zM184.79 219.91h1.10v5.77h-1.10zM188.04 248.76h1.10v5.77h-1.10zM188.04 289.15h1.10v5.77h-1.10zM188.04 300.69h1.10v5.77h-1.10zM194.55 202.60h1.10v5.77h-1.10zM194.55 214.14h1.10v11.54h-1.10zM194.55 237.22h1.10v5.77h-1.10zM194.55 254.53h1.10v5.77h-1.10zM194.55 283.38h1.10v5.77h-1.10zM194.55 294.92h1.10v5.77h-1.10zM194.55 312.23h1.10v5.77h-1.10z"/>
<path fill="#da786a" d="M177.20 202.60h1.10v5.77h-1.10zM177.20 219.91h1.10v5.77h-1.10zM178.28 219.91h1.10v5.77h-1.10zM179.37 208.37h1.10v5.77h-1.10zM179.37 248.76h1.10v5.77h-1.10zM184.79 202.60h1.10v5.77h-1.10zM188.04 277.61h1.10v5.77h-1.10zM194.55 271.84h1.10v5.77h-1.10z"/>
<path fill="#de8274" d="M177.20 214.14h1.10v5.77h-1.10zM179.37 219.91h1.10v5.77h-1.10zM179.37 237.22h1.10v11.54h-1.10zM179.37 306.46h1.10v5.77h-1.10zM180.45 248.76h1.10v5.77h-1.10zM182.62 202.60h1.10v5.77h-1.10zM182.62 219.91h1.10v5.77h-1.10zM182.62 254.53h1.10v5.77h-1.10zM182.62 294.92h1.10v11.54h-1.10zM184.79 214.14h1.10v5.77h-1.10zM184.79 237.22h1.10v5.77h-1.10zM184.79 248.76h1.10v11.54h-1.10zM184.79 271.84h1.10v5.77h-1.10zM184.79 289.15h1.10v5.77h-1.10zM194.55 208.37h1.10v5.77h-1.10zM194.55 225.68h1.10v5.77h-1.10z"/>
<rect x="24.30" y="196.40" width="173.50" height="4.40" fill="#a33f3b"/>
<rect x="39.20" y="196.40" width="1.70" height="4.40" fill="#7db84b"/>
<rect x="142.90" y="196.40" width="1.20" height="4.40" fill="#7db84b"/>
<rect x="155.30" y="196.40" width="2.30" height="4.40" fill="#7db84b"/>
<rect x="178.90" y="196.40" width="2.90" height="4.40" fill="#7db84b"/>
<rect x="182.40" y="196.40" width="2.30" height="4.40" fill="#7db84b"/>
<rect x="186.10" y="196.40" width="11.70" height="4.40" fill="#7db84b"/>
<path d="M24.71 195.37L25.55 195.37M24.71 195.37L24.71 195.90M25.55 195.37L25.55 195.90M25.13 195.28L26.34 195.28M25.13 195.28L25.13 195.37M26.34 195.28L26.34 195.90M25.73 195.01L27.16 195.01M25.73 195.01L25.73 195.28M27.16 195.01L27.16 195.90M28.03 195.44L28.77 195.44M28.03 195.44L28.03 195.90M28.77 195.44L28.77 195.90M28.40 195.35L29.50 195.35M28.40 195.35L28.40 195.44M29.50 195.35L29.50 195.90M30.13 195.17L30.80 195.17M30.13 195.17L30.13 195.90M30.80 195.17L30.80 195.90M28.95 195.24L30.47 195.24M28.95 195.24L28.95 195.35M30.47 195.24L30.47 195.17M31.48 195.70L32.12 195.70M31.48 195.70L31.48 195.90M32.12 195.70L32.12 195.90M31.80 195.58L32.73 195.58M31.80 195.58L31.80 195.70M32.73 195.58L32.73 195.90M32.27 195.43L33.31 195.43M32.27 195.43L32.27 195.58M33.31 195.43L33.31 195.90M34.11 195.31L34.96 195.31M34.11 195.31L34.11 195.90M34.96 195.31L34.96 195.90M32.79 195.33L34.54 195.33M32.79 195.33L32.79 195.43M34.54 195.33L34.54 195.31M35.65 195.23L36.40 195.23M35.65 195.23L35.65 195.90M36.40 195.23L36.40 195.90M33.66 195.11L36.02 195.11M33.66 195.11L33.66 195.33M36.02 195.11L36.02 195.23M29.71 194.84L34.84 194.84M29.71 194.84L29.71 195.24M34.84 194.84L34.84 195.11M26.45 194.72L32.28 194.72M26.45 194.72L26.45 195.01M32.28 194.72L32.28 194.84M38.69 195.47L39.32 195.47M38.69 195.47L38.69 195.90M39.32 195.47L39.32 195.90M38.13 195.37L39.00 195.37M38.13 195.37L38.13 195.90M39.00 195.37L39.00 195.47M38.57 195.08L40.12 195.08M38.57 195.08L38.57 195.37M40.12 195.08L40.12 195.90M37.38 195.02L39.34 195.02M37.38 195.02L37.38 195.90M39.34 195.02L39.34 195.08M41.12 195.49L41.80 195.49M41.12 195.49L41.12 195.90M41.80 195.49L41.80 195.90M42.20 195.57L42.85 195.57M42.20 195.57L42.20 195.90M42.85 195.57L42.85 195.90M43.47 195.79L44.10 195.79M43.47 195.79L43.47 195.90M44.10 195.79L44.10 195.90M42.52 195.40L43.78 195.40M42.52 195.40L42.52 195.57M43.78 195.40L43.78 195.79M41.46 195.29L43.15 195.29M41.46 195.29L41.46 195.49M43.15 195.29L43.15 195.40M38.36 194.60L42.31 194.60M38.36 194.60L38.36 195.02M42.31 194.60L42.31 195.29M29.36 193.99L40.33 193.99M29.36 193.99L29.36 194.72M40.33 193.99L40.33 194.60M44.83 195.29L45.50 195.29M44.83 195.29L44.83 195.90M45.50 195.29L45.50 195.90M46.26 195.08L46.87 195.08M46.26 195.08L46.26 195.90M46.87 195.08L46.87 195.90M45.16 195.13L46.57 195.13M45.16 195.13L45.16 195.29M46.57 195.13L46.57 195.08M47.45 195.28L48.05 195.28M47.45 195.28L47.45 195.90M48.05 195.28L48.05 195.90M48.52 195.23L49.24 195.23M48.52 195.23L48.52 195.90M49.24 195.23L49.24 195.90M47.75 195.14L48.88 195.14M47.75 195.14L47.75 195.28M48.88 195.14L48.88 195.23M48.31 194.85L50.22 194.85M48.31 194.85L48.31 195.14M50.22 194.85L50.22 195.90M45.86 194.65L49.27 194.65M45.86 194.65L45.86 195.13M49.27 194.65L49.27 194.85M51.03 195.40L51.59 195.40M51.03 195.40L51.03 195.90M51.59 195.40L51.59 195.90M51.31 195.20L52.01 195.20M51.31 195.20L51.31 195.40M52.01 195.20L52.01 195.90M52.72 195.53L53.38 195.53M52.72 195.53L52.72 195.90M53.38 195.53L53.38 195.90M54.05 195.50L55.06 195.50M54.05 195.50L54.05 195.90M55.06 195.50L55.06 195.90M53.05 195.40L54.56 195.40M53.05 195.40L53.05 195.53M54.56 195.40L54.56 195.50M51.66 194.86L53.80 194.86M51.66 194.86L51.66 195.20M53.80 194.86L53.80 195.40M47.57 193.90L52.73 193.90M47.57 193.90L47.57 194.65M52.73 193.90L52.73 194.86M34.85 192.81L50.15 192.81M34.85 192.81L34.85 193.99M50.15 192.81L50.15 193.90M56.52 195.35L57.14 195.35M56.52 195.35L56.52 195.90M57.14 195.35L57.14 195.90M55.83 195.00L56.83 195.00M55.83 195.00L55.83 195.90M56.83 195.00L56.83 195.35M57.87 195.16L58.75 195.16M57.87 195.16L57.87 195.90M58.75 195.16L58.75 195.90M56.33 194.75L58.31 194.75M56.33 194.75L56.33 195.00M58.31 194.75L58.31 195.16M59.50 194.67L60.15 194.67M59.50 194.67L59.50 195.90M60.15 194.67L60.15 195.90M57.32 194.27L59.83 194.27M57.32 194.27L57.32 194.75M59.83 194.27L59.83 194.67M60.79 195.18L61.51 195.18M60.79 195.18L60.79 195.90M61.51 195.18L61.51 195.90M62.26 195.16L62.87 195.16M62.26 195.16L62.26 195.90M62.87 195.16L62.87 195.90M61.15 195.08L62.56 195.08M61.15 195.08L61.15 195.18M62.56 195.08L62.56 195.16M61.86 194.73L63.59 194.73M61.86 194.73L61.86 195.08M63.59 194.73L63.59 195.90M64.43 195.20L65.21 195.20M64.43 195.20L64.43 195.90M65.21 195.20L65.21 195.90M64.82 194.82L66.13 194.82M64.82 194.82L64.82 195.20M66.13 194.82L66.13 195.90M62.72 194.43L65.48 194.43M62.72 194.43L62.72 194.73M65.48 194.43L65.48 194.82M58.57 193.20L64.10 193.20M58.57 193.20L58.57 194.27M64.10 193.20L64.10 194.43M67.11 195.27L67.93 195.27M67.11 195.27L67.11 195.90M67.93 195.27L67.93 195.90M68.71 195.44L69.57 195.44M68.71 195.44L68.71 195.90M69.57 195.44L69.57 195.90M67.52 194.99L69.14 194.99M67.52 194.99L67.52 195.27M69.14 194.99L69.14 195.44M70.50 195.06L71.33 195.06M70.50 195.06L70.50 195.90M71.33 195.06L71.33 195.90M68.33 194.42L70.91 194.42M68.33 194.42L68.33 194.99M70.91 194.42L70.91 195.06M72.08 194.57L72.86 194.57M72.08 194.57L72.08 195.90M72.86 194.57L72.86 195.90M75.53 194.76L76.08 194.76M75.53 194.76L75.53 195.90M76.08 194.76L76.08 195.90M74.98 194.86L75.80 194.86M74.98 194.86L74.98 195.90M75.80 194.86L75.80 194.76M74.37 194.80L75.39 194.80M74.37 194.80L74.37 195.90M75.39 194.80L75.39 194.86M73.62 194.65L74.88 194.65M73.62 194.65L73.62 195.90M74.88 194.65L74.88 194.80M72.47 194.14L74.25 194.14M72.47 194.14L72.47 194.57M74.25 194.14L74.25 194.65M69.62 194.13L73.36 194.13M69.62 194.13L69.62 194.42M73.36 194.13L73.36 194.14M76.53 194.82L77.20 194.82M76.53 194.82L76.53 195.90M77.20 194.82L77.20 195.90M79.14 195.08L79.72 195.08M79.14 195.08L79.14 195.90M79.72 195.08L79.72 195.90M78.62 195.09L79.43 195.09M78.62 195.09L78.62 195.90M79.43 195.09L79.43 195.08M78.06 194.77L79.03 194.77M78.06 194.77L78.06 195.90M79.03 194.77L79.03 195.09M76.87 194.18L78.54 194.18M76.87 194.18L76.87 194.82M78.54 194.18L78.54 194.77M71.49 193.49L77.70 193.49M71.49 193.49L71.49 194.13M77.70 193.49L77.70 194.18M61.34 192.68L74.60 192.68M61.34 192.68L61.34 193.20M74.60 192.68L74.60 193.49M42.50 191.30L67.97 191.30M42.50 191.30L42.50 192.81M67.97 191.30L67.97 192.68M80.28 195.46L80.95 195.46M80.28 195.46L80.28 195.90M80.95 195.46L80.95 195.90M80.62 195.28L81.57 195.28M80.62 195.28L80.62 195.46M81.57 195.28L81.57 195.90M82.26 195.32L83.06 195.32M82.26 195.32L82.26 195.90M83.06 195.32L83.06 195.90M81.09 194.89L82.66 194.89M81.09 194.89L81.09 195.28M82.66 194.89L82.66 195.32M83.83 195.43L84.41 195.43M83.83 195.43L83.83 195.90M84.41 195.43L84.41 195.90M84.97 195.72L85.52 195.72M84.97 195.72L84.97 195.90M85.52 195.72L85.52 195.90M85.24 195.68L86.11 195.68M85.24 195.68L85.24 195.72M86.11 195.68L86.11 195.90M84.12 195.31L85.68 195.31M84.12 195.31L84.12 195.43M85.68 195.31L85.68 195.68M87.06 195.66L88.06 195.66M87.06 195.66L87.06 195.90M88.06 195.66L88.06 195.90M89.55 195.92L90.16 195.92M89.55 195.92L89.55 195.90M90.16 195.92L90.16 195.90M88.98 195.63L89.86 195.63M88.98 195.63L88.98 195.90M89.86 195.63L89.86 195.92M87.56 195.60L89.42 195.60M87.56 195.60L87.56 195.66M89.42 195.60L89.42 195.63M84.90 195.12L88.49 195.12M84.90 195.12L84.90 195.31M88.49 195.12L88.49 195.60M81.88 194.48L86.69 194.48M81.88 194.48L81.88 194.89M86.69 194.48L86.69 195.12M91.03 195.27L91.76 195.27M91.03 195.27L91.03 195.90M91.76 195.27L91.76 195.90M91.39 195.12L92.33 195.12M91.39 195.12L91.39 195.27M92.33 195.12L92.33 195.90M93.78 195.47L94.34 195.47M93.78 195.47L93.78 195.90M94.34 195.47L94.34 195.90M94.06 195.35L95.21 195.35M94.06 195.35L94.06 195.47M95.21 195.35L95.21 195.90M93.07 195.26L94.64 195.26M93.07 195.26L93.07 195.90M94.64 195.26L94.64 195.35M91.86 194.96L93.85 194.96M91.86 194.96L91.86 195.12M93.85 194.96L93.85 195.26M96.03 195.21L96.81 195.21M96.03 195.21L96.03 195.90M96.81 195.21L96.81 195.90M97.64 195.44L98.29 195.44M97.64 195.44L97.64 195.90M98.29 195.44L98.29 195.90M96.42 195.11L97.96 195.11M96.42 195.11L96.42 195.21M97.96 195.11L97.96 195.44M92.86 194.74L97.19 194.74M92.86 194.74L92.86 194.96M97.19 194.74L97.19 195.11M84.29 194.07L95.02 194.07M84.29 194.07L84.29 194.48M95.02 194.07L95.02 194.74M99.52 195.72L100.20 195.72M99.52 195.72L99.52 195.90M100.20 195.72L100.20 195.90M98.96 195.43L99.86 195.43M98.96 195.43L98.96 195.90M99.86 195.43L99.86 195.72M101.97 195.81L102.76 195.81M101.97 195.81L101.97 195.90M102.76 195.81L102.76 195.90M101.21 195.39L102.37 195.39M101.21 195.39L101.21 195.90M102.37 195.39L102.37 195.81M99.41 195.17L101.79 195.17M99.41 195.17L99.41 195.43M101.79 195.17L101.79 195.39M104.49 195.34L105.06 195.34M104.49 195.34L104.49 195.90M105.06 195.34L105.06 195.90M103.70 195.17L104.77 195.17M103.70 195.17L103.70 195.90M104.77 195.17L104.77 195.34M100.60 194.95L104.24 194.95M100.60 194.95L100.60 195.17M104.24 194.95L104.24 195.17M107.00 195.70L107.66 195.70M107.00 195.70L107.00 195.90M107.66 195.70L107.66 195.90M106.37 195.85L107.33 195.85M106.37 195.85L106.37 195.90M107.33 195.85L107.33 195.70M106.85 195.83L108.25 195.83M106.85 195.83L106.85 195.85M108.25 195.83L108.25 195.90M105.69 195.37L107.55 195.37M105.69 195.37L105.69 195.90M107.55 195.37L107.55 195.83M108.91 195.35L109.55 195.35M108.91 195.35L108.91 195.90M109.55 195.35L109.55 195.90M109.23 195.25L110.10 195.25M109.23 195.25L109.23 195.35M110.10 195.25L110.10 195.90M106.62 195.14L109.66 195.14M106.62 195.14L106.62 195.37M109.66 195.14L109.66 195.25M102.42 194.63L108.14 194.63M102.42 194.63L102.42 194.95M108.14 194.63L108.14 195.14M111.45 195.27L112.14 195.27M111.45 195.27L111.45 195.90M112.14 195.27L112.14 195.90M111.80 194.91L113.02 194.91M111.80 194.91L111.80 195.27M113.02 194.91L113.02 195.90M110.80 194.70L112.41 194.70M110.80 194.70L110.80 195.90M112.41 194.70L112.41 194.91M113.66 195.26L114.37 195.26M113.66 195.26L113.66 195.90M114.37 195.26L114.37 195.90M115.95 195.55L116.54 195.55M115.95 195.55L115.95 195.90M116.54 195.55L116.54 195.90M115.21 195.62L116.25 195.62M115.21 195.62L115.21 195.90M116.25 195.62L116.25 195.55M117.14 195.46L118.01 195.46M117.14 195.46L117.14 195.90M118.01 195.46L118.01 195.90M115.73 195.51L117.57 195.51M115.73 195.51L115.73 195.62M117.57 195.51L117.57 195.46M114.01 194.97L116.65 194.97M114.01 194.97L114.01 195.26M116.65 194.97L116.65 195.51M118.83 195.21L119.40 195.21M118.83 195.21L118.83 195.90M119.40 195.21L119.40 195.90M119.11 195.09L120.05 195.09M119.11 195.09L119.11 195.21M120.05 195.09L120.05 195.90M115.33 194.70L119.58 194.70M115.33 194.70L115.33 194.97M119.58 194.70L119.58 195.09M111.60 194.35L117.46 194.35M111.60 194.35L111.60 194.70M117.46 194.35L117.46 194.70M105.28 194.03L114.53 194.03M105.28 194.03L105.28 194.63M114.53 194.03L114.53 194.35M89.65 193.10L109.90 193.10M89.65 193.10L89.65 194.07M109.90 193.10L109.90 194.03M120.62 194.92L121.19 194.92M120.62 194.92L120.62 195.90M121.19 194.92L121.19 195.90M122.01 195.16L122.58 195.16M122.01 195.16L122.01 195.90M122.58 195.16L122.58 195.90M122.93 195.15L123.50 195.15M122.93 195.15L122.93 195.90M123.50 195.15L123.50 195.90M123.22 194.95L124.29 194.95M123.22 194.95L123.22 195.15M124.29 194.95L124.29 195.90M122.30 195.03L123.75 195.03M122.30 195.03L122.30 195.16M123.75 195.03L123.75 194.95M120.91 194.45L123.02 194.45M120.91 194.45L120.91 194.92M123.02 194.45L123.02 195.03M124.99 195.26L125.54 195.26M124.99 195.26L124.99 195.90M125.54 195.26L125.54 195.90M125.27 194.92L126.25 194.92M125.27 194.92L125.27 195.26M126.25 194.92L126.25 195.90M128.34 195.38L129.00 195.38M128.34 195.38L128.34 195.90M129.00 195.38L129.00 195.90M127.68 195.09L128.67 195.09M127.68 195.09L127.68 195.90M128.67 195.09L128.67 195.38M127.05 195.18L128.17 195.18M127.05 195.18L127.05 195.90M128.17 195.18L128.17 195.09M129.68 195.41L130.47 195.41M129.68 195.41L129.68 195.90M130.47 195.41L130.47 195.90M127.61 194.96L130.08 194.96M127.61 194.96L127.61 195.18M130.08 194.96L130.08 195.41M125.76 194.38L128.84 194.38M125.76 194.38L125.76 194.92M128.84 194.38L128.84 194.96M121.97 193.70L127.30 193.70M121.97 193.70L121.97 194.45M127.30 193.70L127.30 194.38M131.15 193.86L131.92 193.86M131.15 193.86L131.15 195.90M131.92 193.86L131.92 195.90M132.55 194.09L133.14 194.09M132.55 194.09L132.55 195.90M133.14 194.09L133.14 195.90M134.58 194.69L135.30 194.69M134.58 194.69L134.58 195.90M135.30 194.69L135.30 195.90M133.80 194.08L134.94 194.08M133.80 194.08L133.80 195.90M134.94 194.08L134.94 194.69M132.84 193.65L134.37 193.65M132.84 193.65L132.84 194.09M134.37 193.65L134.37 194.08M131.54 193.46L133.61 193.46M131.54 193.46L131.54 193.86M133.61 193.46L133.61 193.65M124.63 192.94L132.57 192.94M124.63 192.94L124.63 193.70M132.57 192.94L132.57 193.46M99.78 191.60L128.60 191.60M99.78 191.60L99.78 193.10M128.60 191.60L128.60 192.94M51.20 189.30L121.20 189.30M51.20 189.30L51.20 191.30M121.20 189.30L121.20 191.60M51.20 191.30L55.23 191.30M121.20 191.60L114.19 191.60M135.76 194.94L136.50 194.94M135.76 194.94L135.76 195.90M136.50 194.94L136.50 195.90M136.13 194.75L137.44 194.75M136.13 194.75L136.13 194.94M137.44 194.75L137.44 195.90M139.50 195.07L140.30 195.07M139.50 195.07L139.50 195.90M140.30 195.07L140.30 195.90M138.45 194.96L139.90 194.96M138.45 194.96L138.45 195.90M139.90 194.96L139.90 195.07M139.18 194.69L141.10 194.69M139.18 194.69L139.18 194.96M141.10 194.69L141.10 195.90M136.78 194.24L140.14 194.24M136.78 194.24L136.78 194.75M140.14 194.24L140.14 194.69M141.95 195.33L142.53 195.33M141.95 195.33L141.95 195.90M142.53 195.33L142.53 195.90M144.32 195.30L145.05 195.30M144.32 195.30L144.32 195.90M145.05 195.30L145.05 195.90M143.27 195.50L144.68 195.50M143.27 195.50L143.27 195.90M144.68 195.50L144.68 195.30M143.98 195.36L145.70 195.36M143.98 195.36L143.98 195.50M145.70 195.36L145.70 195.90M142.24 195.24L144.84 195.24M142.24 195.24L142.24 195.33M144.84 195.24L144.84 195.36M146.34 195.27L147.06 195.27M146.34 195.27L146.34 195.90M147.06 195.27L147.06 195.90M150.03 195.57L150.93 195.57M150.03 195.57L150.03 195.90M150.93 195.57L150.93 195.90M149.09 195.54L150.48 195.54M149.09 195.54L149.09 195.90M150.48 195.54L150.48 195.57M148.10 195.16L149.79 195.16M148.10 195.16L148.10 195.90M149.79 195.16L149.79 195.54M146.70 195.08L148.94 195.08M146.70 195.08L146.70 195.27M148.94 195.08L148.94 195.16M143.54 194.81L147.82 194.81M143.54 194.81L143.54 195.24M147.82 194.81L147.82 195.08M151.92 195.08L152.91 195.08M151.92 195.08L151.92 195.90M152.91 195.08L152.91 195.90M153.83 194.79L154.74 194.79M153.83 194.79L153.83 195.90M154.74 194.79L154.74 195.90M152.41 194.57L154.28 194.57M152.41 194.57L152.41 195.08M154.28 194.57L154.28 194.79M145.68 194.34L153.35 194.34M145.68 194.34L145.68 194.81M153.35 194.34L153.35 194.57M138.46 193.50L149.51 193.50M138.46 193.50L138.46 194.24M149.51 193.50L149.51 194.34M155.47 195.17L156.18 195.17M155.47 195.17L155.47 195.90M156.18 195.17L156.18 195.90M157.89 195.19L158.64 195.19M157.89 195.19L157.89 195.90M158.64 195.19L158.64 195.90M157.11 195.36L158.27 195.36M157.11 195.36L157.11 195.90M158.27 195.36L158.27 195.19M155.82 195.04L157.69 195.04M155.82 195.04L155.82 195.17M157.69 195.04L157.69 195.36M159.59 195.20L160.40 195.20M159.59 195.20L159.59 195.90M160.40 195.20L160.40 195.90M161.00 195.19L161.60 195.19M161.00 195.19L161.00 195.90M161.60 195.19L161.60 195.90M162.45 195.22L163.22 195.22M162.45 195.22L162.45 195.90M163.22 195.22L163.22 195.90M161.30 195.07L162.84 195.07M161.30 195.07L161.30 195.19M162.84 195.07L162.84 195.22M160.00 195.08L162.07 195.08M160.00 195.08L160.00 195.20M162.07 195.08L162.07 195.07M156.75 194.57L161.03 194.57M156.75 194.57L156.75 195.04M161.03 194.57L161.03 195.08M163.92 195.06L164.73 195.06M163.92 195.06L163.92 195.90M164.73 195.06L164.73 195.90M165.95 195.36L166.51 195.36M165.95 195.36L165.95 195.90M166.51 195.36L166.51 195.90M165.42 195.18L166.23 195.18M165.42 195.18L165.42 195.90M166.23 195.18L166.23 195.36M164.33 194.62L165.82 194.62M164.33 194.62L164.33 195.06M165.82 194.62L165.82 195.18M158.89 194.23L165.08 194.23M158.89 194.23L158.89 194.57M165.08 194.23L165.08 194.62M167.29 194.93L168.04 194.93M167.29 194.93L167.29 195.90M168.04 194.93L168.04 195.90M168.62 195.36L169.22 195.36M168.62 195.36L168.62 195.90M169.22 195.36L169.22 195.90M168.92 195.14L169.82 195.14M168.92 195.14L168.92 195.36M169.82 195.14L169.82 195.90M170.41 195.22L171.01 195.22M170.41 195.22L170.41 195.90M171.01 195.22L171.01 195.90M170.71 194.85L171.74 194.85M170.71 194.85L170.71 195.22M171.74 194.85L171.74 195.90M169.37 194.71L171.23 194.71M169.37 194.71L169.37 195.14M171.23 194.71L171.23 194.85M167.67 194.45L170.30 194.45M167.67 194.45L167.67 194.93M170.30 194.45L170.30 194.71M172.48 195.21L173.06 195.21M172.48 195.21L172.48 195.90M173.06 195.21L173.06 195.90M172.77 195.08L173.71 195.08M172.77 195.08L172.77 195.21M173.71 195.08L173.71 195.90M174.35 195.37L174.97 195.37M174.35 195.37L174.35 195.90M174.97 195.37L174.97 195.90M174.66 195.05L175.64 195.05M174.66 195.05L174.66 195.37M175.64 195.05L175.64 195.90M173.24 194.57L175.15 194.57M173.24 194.57L173.24 195.08M175.15 194.57L175.15 195.05M168.98 194.08L174.19 194.08M168.98 194.08L168.98 194.45M174.19 194.08L174.19 194.57M161.98 193.43L171.59 193.43M161.98 193.43L161.98 194.23M171.59 193.43L171.59 194.08M143.99 192.00L166.79 192.00M143.99 192.00L143.99 193.50M166.79 192.00L166.79 193.43M176.99 194.69L177.69 194.69M176.99 194.69L176.99 195.90M177.69 194.69L177.69 195.90M176.25 194.24L177.34 194.24M176.25 194.24L176.25 195.90M177.34 194.24L177.34 194.69M178.28 194.60L179.16 194.60M178.28 194.60L178.28 195.90M179.16 194.60L179.16 195.90M180.06 195.06L180.67 195.06M180.06 195.06L180.06 195.90M180.67 195.06L180.67 195.90M181.71 195.31L182.40 195.31M181.71 195.31L181.71 195.90M182.40 195.31L182.40 195.90M181.20 195.00L182.05 195.00M181.20 195.00L181.20 195.90M182.05 195.00L182.05 195.31M180.37 194.51L181.62 194.51M180.37 194.51L180.37 195.06M181.62 194.51L181.62 195.00M178.72 194.10L181.00 194.10M178.72 194.10L178.72 194.60M181.00 194.10L181.00 194.51M176.80 193.15L179.86 193.15M176.80 193.15L176.80 194.24M179.86 193.15L179.86 194.10M183.38 194.20L184.20 194.20M183.38 194.20L183.38 195.90M184.20 194.20L184.20 195.90M183.79 193.75L184.98 193.75M183.79 193.75L183.79 194.20M184.98 193.75L184.98 195.90M184.38 193.29L185.96 193.29M184.38 193.29L184.38 193.75M185.96 193.29L185.96 195.90M178.33 192.30L185.17 192.30M178.33 192.30L178.33 193.15M185.17 192.30L185.17 193.29M186.85 193.15L187.63 193.15M186.85 193.15L186.85 195.90M187.63 193.15L187.63 195.90M188.36 193.04L189.01 193.04M188.36 193.04L188.36 195.90M189.01 193.04L189.01 195.90M187.24 192.58L188.69 192.58M187.24 192.58L187.24 193.15M188.69 192.58L188.69 193.04M189.84 195.04L190.69 195.04M189.84 195.04L189.84 195.90M190.69 195.04L190.69 195.90M190.27 194.80L191.53 194.80M190.27 194.80L190.27 195.04M191.53 194.80L191.53 195.90M192.93 194.89L193.58 194.89M192.93 194.89L192.93 195.90M193.58 194.89L193.58 195.90M192.25 194.55L193.26 194.55M192.25 194.55L192.25 195.90M193.26 194.55L193.26 194.89M190.90 194.39L192.75 194.39M190.90 194.39L190.90 194.80M192.75 194.39L192.75 194.55M194.87 194.79L195.42 194.79M194.87 194.79L194.87 195.90M195.42 194.79L195.42 195.90M194.17 194.65L195.14 194.65M194.17 194.65L194.17 195.90M195.14 194.65L195.14 194.79M191.82 193.70L194.66 193.70M191.82 193.70L191.82 194.39M194.66 193.70L194.66 194.65M196.02 194.63L196.67 194.63M196.02 194.63L196.02 195.90M196.67 194.63L196.67 195.90M196.35 193.94L197.36 193.94M196.35 193.94L196.35 194.63M197.36 193.94L197.36 195.90M193.24 192.52L196.85 192.52M193.24 192.52L193.24 193.70M196.85 192.52L196.85 193.94M187.96 191.40L195.05 191.40M187.96 191.40L187.96 192.58M195.05 191.40L195.05 192.52M156.70 191.40L181.80 191.40M156.70 191.40L156.70 192.00M181.80 191.40L181.80 192.30M156.70 192.00L155.39 192.00M181.80 192.30L181.75 192.30M169.70 187.20L192.70 187.20M169.70 187.20L169.70 191.40M192.70 187.20L192.70 191.40M192.70 191.40L191.50 191.40M85.40 180.30L181.00 180.30M85.40 180.30L85.40 189.30M181.00 180.30L181.00 187.20" stroke="#1a1a1a" stroke-width="0.6" fill="none"/>
<rect x="135.60" y="175.10" width="63.00" height="144.20" fill="none" stroke="#111" stroke-width="1.0"/>
<text x="200.20" y="207.34" font-size="5.15" textLength="13.55" lengthAdjust="spacingAndGlyphs">VSIG4</text>
<text x="200.20" y="213.11" font-size="5.15" textLength="20.71" lengthAdjust="spacingAndGlyphs">SLCO2B1</text>
<text x="200.20" y="218.88" font-size="5.15" textLength="14.32" lengthAdjust="spacingAndGlyphs">CD163</text>
<text x="200.20" y="224.65" font-size="5.15" textLength="14.32" lengthAdjust="spacingAndGlyphs">CD163</text>
<text x="200.20" y="230.42" font-size="5.15" textLength="12.53" lengthAdjust="spacingAndGlyphs">C1QA</text>
<text x="200.20" y="236.19" font-size="5.15" textLength="12.78" lengthAdjust="spacingAndGlyphs">APOE</text>
<text x="200.20" y="241.96" font-size="5.15" textLength="15.85" lengthAdjust="spacingAndGlyphs">VCAM1</text>
<text x="200.20" y="247.73" font-size="5.15" textLength="12.27" lengthAdjust="spacingAndGlyphs">CTSB</text>
<text x="200.20" y="253.50" font-size="5.15" textLength="9.63" lengthAdjust="spacingAndGlyphs">LIPA</text>
<text x="200.20" y="259.27" font-size="5.15" textLength="18.15" lengthAdjust="spacingAndGlyphs">MS4A6A</text>
<text x="200.20" y="265.04" font-size="5.15" fill="#c0392b" textLength="8.7" lengthAdjust="spacingAndGlyphs">AXL</text>
<text x="200.20" y="270.81" font-size="5.15" textLength="38.6" lengthAdjust="spacingAndGlyphs">FCGR3A/FCGR3B</text>
<text x="200.20" y="276.58" font-size="5.15" textLength="17.05" lengthAdjust="spacingAndGlyphs">P2RY13</text>
<text x="200.20" y="282.35" font-size="5.15" textLength="14.58" lengthAdjust="spacingAndGlyphs">XLKD1</text>
<text x="200.20" y="288.12" font-size="5.15" textLength="18.15" lengthAdjust="spacingAndGlyphs">MS4A4A</text>
<text x="200.20" y="293.89" font-size="5.15" textLength="32.46" lengthAdjust="spacingAndGlyphs">MRC1/MRC1L1</text>
<text x="200.20" y="299.66" font-size="5.15" textLength="12.78" lengthAdjust="spacingAndGlyphs">MSR1</text>
<text x="200.20" y="305.43" font-size="5.15" textLength="19.44" lengthAdjust="spacingAndGlyphs">EPB41L3</text>
<text x="200.20" y="311.20" font-size="5.15" textLength="13.54" lengthAdjust="spacingAndGlyphs">TGFBI</text>
<text x="200.20" y="316.97" font-size="5.15" textLength="20.71" lengthAdjust="spacingAndGlyphs">SLCO2B1</text>
<rect x="56.60" y="323.00" width="10.40" height="3.80" fill="#7db84b"/>
<text x="70.00" y="326.61" font-size="4.48" fill="#555" textLength="42.58" lengthAdjust="spacingAndGlyphs">Healthy Control (n = 62)</text>
<rect x="126.70" y="323.00" width="10.10" height="3.80" fill="#a33f3b"/>
<text x="139.70" y="326.61" font-size="4.48" fill="#555" textLength="23.9" lengthAdjust="spacingAndGlyphs">MM (n = 101)</text>
<text x="128.00" y="337.46" font-size="6.83" text-anchor="middle" fill="#333333" textLength="43.18" lengthAdjust="spacingAndGlyphs">AXL Expression</text>
<line x1="52.60" y1="339.70" x2="161.30" y2="339.70" stroke="#231f20" stroke-width="1.4"/>
<line x1="54.20" y1="342.80" x2="160.80" y2="342.80" stroke="#333" stroke-width="0.8"/>
<text x="93.00" y="350.76" font-size="6.83" text-anchor="middle" fill="#333333" textLength="12.55" lengthAdjust="spacingAndGlyphs">High</text>
<text x="121.00" y="350.76" font-size="6.83" text-anchor="middle" fill="#333333" textLength="11.19" lengthAdjust="spacingAndGlyphs">Low</text>
<text x="149.20" y="350.76" font-size="6.83" text-anchor="middle" fill="#333333" textLength="12.89" lengthAdjust="spacingAndGlyphs">Total</text>
<line x1="54.20" y1="353.80" x2="160.80" y2="353.80" stroke="#333" stroke-width="0.8"/>
<text x="65.60" y="360.96" font-size="6.83" text-anchor="middle" fill="#333333" textLength="8.81" lengthAdjust="spacingAndGlyphs">HC</text>
<text x="93.00" y="360.96" font-size="6.83" text-anchor="middle" fill="#c0392b" textLength="6.79" lengthAdjust="spacingAndGlyphs">14</text>
<text x="121.00" y="360.96" font-size="6.83" text-anchor="middle" fill="#333333" textLength="3.39" lengthAdjust="spacingAndGlyphs">1</text>
<text x="149.20" y="360.96" font-size="6.83" text-anchor="middle" fill="#333333" textLength="6.79" lengthAdjust="spacingAndGlyphs">15</text>
<text x="65.60" y="372.26" font-size="6.83" text-anchor="middle" fill="#333333" textLength="10.16" lengthAdjust="spacingAndGlyphs">MM</text>
<text x="93.00" y="372.26" font-size="6.83" text-anchor="middle" fill="#333333" textLength="6.79" lengthAdjust="spacingAndGlyphs">27</text>
<text x="121.00" y="372.26" font-size="6.83" text-anchor="middle" fill="#c0392b" textLength="6.79" lengthAdjust="spacingAndGlyphs">74</text>
<text x="149.20" y="372.26" font-size="6.83" text-anchor="middle" fill="#333333" textLength="10.18" lengthAdjust="spacingAndGlyphs">101</text>
<line x1="54.20" y1="364.20" x2="160.80" y2="364.20" stroke="#333" stroke-width="0.8"/>
<line x1="54.20" y1="375.40" x2="160.80" y2="375.40" stroke="#333" stroke-width="0.8"/>
<line x1="52.60" y1="378.30" x2="161.30" y2="378.30" stroke="#231f20" stroke-width="1.4"/>
<text x="117.20" y="386.36" font-size="6.83" text-anchor="middle" fill="#333333" textLength="45.85" lengthAdjust="spacingAndGlyphs">P value &lt; 0.0001</text>
<text x="261.00" y="189.30" font-size="10.2" textLength="7.0" lengthAdjust="spacingAndGlyphs">D</text>
<path fill="#eaaea4" d="M273.90 205.60h1.44v5.74h-1.44zM288.09 205.60h1.44v5.74h-1.44zM288.09 263.00h1.44v5.74h-1.44zM295.18 251.52h1.44v5.74h-1.44zM296.60 263.00h1.44v5.74h-1.44zM322.14 240.04h1.44v5.74h-1.44zM329.23 222.82h1.44v11.48h-1.44zM368.95 240.04h1.44v5.74h-1.44zM405.84 268.74h1.44v5.74h-1.44zM405.84 285.96h1.44v5.74h-1.44zM407.26 268.74h1.44v5.74h-1.44zM407.26 280.22h1.44v5.74h-1.44zM412.93 291.70h1.44v5.74h-1.44zM414.35 297.44h1.44v5.74h-1.44zM415.77 263.00h1.44v5.74h-1.44zM420.03 314.66h1.44v5.74h-1.44zM421.44 280.22h1.44v5.74h-1.44zM421.44 297.44h1.44v5.74h-1.44zM424.28 268.74h1.44v5.74h-1.44zM424.28 291.70h1.44v5.74h-1.44zM425.70 211.34h1.44v5.74h-1.44zM427.12 263.00h1.44v5.74h-1.44zM427.12 291.70h1.44v5.74h-1.44zM428.54 297.44h1.44v5.74h-1.44zM431.38 251.52h1.44v5.74h-1.44zM431.38 303.18h1.44v5.74h-1.44zM432.79 228.56h1.44v5.74h-1.44zM432.79 240.04h1.44v5.74h-1.44zM432.79 291.70h1.44v5.74h-1.44zM432.79 308.92h1.44v11.48h-1.44zM434.21 228.56h1.44v11.48h-1.44zM434.21 274.48h1.44v5.74h-1.44z"/>
<path fill="#faf4f4" d="M273.90 211.34h1.44v5.74h-1.44zM273.90 308.92h1.44v5.74h-1.44zM276.74 205.60h1.44v5.74h-1.44zM276.74 245.78h1.44v5.74h-1.44zM278.16 268.74h1.44v5.74h-1.44zM279.57 268.74h1.44v5.74h-1.44zM280.99 228.56h1.44v5.74h-1.44zM280.99 308.92h1.44v5.74h-1.44zM282.41 211.34h1.44v5.74h-1.44zM282.41 234.30h1.44v5.74h-1.44zM282.41 314.66h1.44v5.74h-1.44zM283.83 285.96h1.44v5.74h-1.44zM285.25 222.82h1.44v5.74h-1.44zM285.25 274.48h1.44v5.74h-1.44zM288.09 217.08h1.44v5.74h-1.44zM288.09 280.22h1.44v17.22h-1.44zM289.51 308.92h1.44v5.74h-1.44zM290.92 257.26h1.44v5.74h-1.44zM290.92 314.66h1.44v5.74h-1.44zM292.34 217.08h1.44v5.74h-1.44zM293.76 205.60h1.44v5.74h-1.44zM293.76 240.04h1.44v5.74h-1.44zM293.76 268.74h1.44v11.48h-1.44zM295.18 268.74h1.44v5.74h-1.44zM295.18 308.92h1.44v5.74h-1.44zM296.60 268.74h1.44v5.74h-1.44zM299.44 240.04h1.44v5.74h-1.44zM300.86 245.78h1.44v5.74h-1.44zM303.69 217.08h1.44v5.74h-1.44zM305.11 263.00h1.44v5.74h-1.44zM306.53 297.44h1.44v5.74h-1.44zM307.95 240.04h1.44v5.74h-1.44zM307.95 257.26h1.44v5.74h-1.44zM310.79 263.00h1.44v5.74h-1.44zM313.62 222.82h1.44v5.74h-1.44zM313.62 240.04h1.44v5.74h-1.44zM317.88 251.52h1.44v5.74h-1.44zM326.39 228.56h1.44v5.74h-1.44zM326.39 240.04h1.44v5.74h-1.44zM326.39 251.52h1.44v5.74h-1.44zM329.23 257.26h1.44v5.74h-1.44zM330.65 257.26h1.44v5.74h-1.44zM332.07 228.56h1.44v5.74h-1.44zM332.07 245.78h1.44v5.74h-1.44zM333.49 205.60h1.44v5.74h-1.44zM333.49 245.78h1.44v5.74h-1.44zM334.90 240.04h1.44v5.74h-1.44zM334.90 257.26h1.44v5.74h-1.44zM337.74 308.92h1.44v5.74h-1.44zM339.16 308.92h1.44v5.74h-1.44zM344.83 314.66h1.44v5.74h-1.44zM354.77 205.60h1.44v5.74h-1.44zM363.28 228.56h1.44v5.74h-1.44zM366.12 234.30h1.44v5.74h-1.44zM366.12 291.70h1.44v5.74h-1.44zM367.53 251.52h1.44v5.74h-1.44zM367.53 314.66h1.44v5.74h-1.44zM371.79 205.60h1.44v5.74h-1.44zM373.21 234.30h1.44v5.74h-1.44zM376.05 245.78h1.44v5.74h-1.44zM388.81 297.44h1.44v5.74h-1.44zM393.07 211.34h1.44v5.74h-1.44zM393.07 245.78h1.44v5.74h-1.44zM393.07 308.92h1.44v5.74h-1.44zM394.49 228.56h1.44v5.74h-1.44zM395.91 251.52h1.44v5.74h-1.44zM397.33 291.70h1.44v5.74h-1.44zM403.00 245.78h1.44v5.74h-1.44zM403.00 303.18h1.44v5.74h-1.44zM403.00 314.66h1.44v5.74h-1.44zM404.42 217.08h1.44v5.74h-1.44zM404.42 234.30h1.44v5.74h-1.44zM405.84 217.08h1.44v11.48h-1.44zM407.26 217.08h1.44v5.74h-1.44zM408.68 228.56h1.44v5.74h-1.44zM410.10 228.56h1.44v5.74h-1.44zM410.10 240.04h1.44v5.74h-1.44zM412.93 205.60h1.44v5.74h-1.44zM414.35 222.82h1.44v11.48h-1.44zM414.35 257.26h1.44v5.74h-1.44zM414.35 285.96h1.44v5.74h-1.44zM415.77 257.26h1.44v5.74h-1.44zM415.77 285.96h1.44v5.74h-1.44zM417.19 285.96h1.44v5.74h-1.44zM418.61 240.04h1.44v5.74h-1.44zM418.61 268.74h1.44v5.74h-1.44zM420.03 251.52h1.44v5.74h-1.44zM421.44 228.56h1.44v5.74h-1.44zM422.86 217.08h1.44v5.74h-1.44zM422.86 240.04h1.44v5.74h-1.44zM428.54 211.34h1.44v5.74h-1.44zM429.96 222.82h1.44v5.74h-1.44zM429.96 234.30h1.44v5.74h-1.44zM431.38 234.30h1.44v5.74h-1.44z"/>
<path fill="#f8e6e4" d="M273.90 217.08h1.44v5.74h-1.44zM273.90 240.04h1.44v5.74h-1.44zM273.90 263.00h1.44v5.74h-1.44zM273.90 285.96h1.44v5.74h-1.44zM273.90 314.66h1.44v5.74h-1.44zM275.32 228.56h1.44v11.48h-1.44zM276.74 240.04h1.44v5.74h-1.44zM276.74 308.92h1.44v5.74h-1.44zM279.57 234.30h1.44v5.74h-1.44zM279.57 263.00h1.44v5.74h-1.44zM280.99 222.82h1.44v5.74h-1.44zM282.41 274.48h1.44v5.74h-1.44zM283.83 217.08h1.44v11.48h-1.44zM283.83 263.00h1.44v5.74h-1.44zM285.25 211.34h1.44v5.74h-1.44zM285.25 251.52h1.44v5.74h-1.44zM285.25 285.96h1.44v5.74h-1.44zM288.09 303.18h1.44v5.74h-1.44zM289.51 263.00h1.44v5.74h-1.44zM290.92 222.82h1.44v5.74h-1.44zM290.92 285.96h1.44v5.74h-1.44zM292.34 228.56h1.44v5.74h-1.44zM292.34 257.26h1.44v5.74h-1.44zM292.34 297.44h1.44v5.74h-1.44zM292.34 314.66h1.44v5.74h-1.44zM293.76 211.34h1.44v5.74h-1.44zM293.76 222.82h1.44v5.74h-1.44zM293.76 245.78h1.44v5.74h-1.44zM295.18 234.30h1.44v5.74h-1.44zM299.44 234.30h1.44v5.74h-1.44zM302.27 245.78h1.44v5.74h-1.44zM302.27 257.26h1.44v5.74h-1.44zM303.69 245.78h1.44v5.74h-1.44zM305.11 205.60h1.44v5.74h-1.44zM305.11 228.56h1.44v5.74h-1.44zM305.11 240.04h1.44v5.74h-1.44zM307.95 217.08h1.44v5.74h-1.44zM317.88 314.66h1.44v5.74h-1.44zM327.81 263.00h1.44v5.74h-1.44zM329.23 240.04h1.44v5.74h-1.44zM334.90 228.56h1.44v5.74h-1.44zM342.00 234.30h1.44v5.74h-1.44zM346.25 217.08h1.44v11.48h-1.44zM350.51 297.44h1.44v5.74h-1.44zM353.35 240.04h1.44v5.74h-1.44zM354.77 222.82h1.44v5.74h-1.44zM354.77 240.04h1.44v5.74h-1.44zM366.12 314.66h1.44v5.74h-1.44zM367.53 222.82h1.44v5.74h-1.44zM371.79 240.04h1.44v5.74h-1.44zM380.30 251.52h1.44v5.74h-1.44zM388.81 211.34h1.44v5.74h-1.44zM395.91 228.56h1.44v5.74h-1.44zM397.33 274.48h1.44v5.74h-1.44zM403.00 257.26h1.44v5.74h-1.44zM404.42 303.18h1.44v5.74h-1.44zM405.84 234.30h1.44v5.74h-1.44zM405.84 274.48h1.44v5.74h-1.44zM407.26 205.60h1.44v5.74h-1.44zM407.26 222.82h1.44v11.48h-1.44zM408.68 217.08h1.44v5.74h-1.44zM408.68 245.78h1.44v5.74h-1.44zM408.68 268.74h1.44v5.74h-1.44zM410.10 222.82h1.44v5.74h-1.44zM410.10 263.00h1.44v5.74h-1.44zM410.10 274.48h1.44v5.74h-1.44zM411.51 257.26h1.44v5.74h-1.44zM412.93 217.08h1.44v5.74h-1.44zM414.35 245.78h1.44v5.74h-1.44zM415.77 217.08h1.44v5.74h-1.44zM418.61 251.52h1.44v5.74h-1.44zM418.61 263.00h1.44v5.74h-1.44zM418.61 291.70h1.44v5.74h-1.44zM420.03 217.08h1.44v5.74h-1.44zM420.03 257.26h1.44v5.74h-1.44zM421.44 217.08h1.44v11.48h-1.44zM422.86 234.30h1.44v5.74h-1.44zM424.28 228.56h1.44v5.74h-1.44zM428.54 314.66h1.44v5.74h-1.44zM429.96 211.34h1.44v5.74h-1.44z"/>
<path fill="#f3d0cb" d="M273.90 222.82h1.44v5.74h-1.44zM285.25 240.04h1.44v5.74h-1.44zM286.67 205.60h1.44v5.74h-1.44zM286.67 234.30h1.44v5.74h-1.44zM289.51 228.56h1.44v5.74h-1.44zM290.92 217.08h1.44v5.74h-1.44zM290.92 228.56h1.44v5.74h-1.44zM292.34 234.30h1.44v5.74h-1.44zM298.02 234.30h1.44v5.74h-1.44zM298.02 251.52h1.44v5.74h-1.44zM303.69 240.04h1.44v5.74h-1.44zM307.95 205.60h1.44v5.74h-1.44zM322.14 263.00h1.44v5.74h-1.44zM327.81 222.82h1.44v5.74h-1.44zM350.51 257.26h1.44v5.74h-1.44zM364.70 205.60h1.44v5.74h-1.44zM366.12 274.48h1.44v5.74h-1.44zM368.95 211.34h1.44v5.74h-1.44zM370.37 234.30h1.44v5.74h-1.44zM371.79 251.52h1.44v5.74h-1.44zM373.21 240.04h1.44v5.74h-1.44zM393.07 228.56h1.44v5.74h-1.44zM403.00 251.52h1.44v5.74h-1.44zM405.84 245.78h1.44v5.74h-1.44zM405.84 280.22h1.44v5.74h-1.44zM405.84 297.44h1.44v5.74h-1.44zM407.26 245.78h1.44v5.74h-1.44zM407.26 257.26h1.44v5.74h-1.44zM408.68 240.04h1.44v5.74h-1.44zM408.68 280.22h1.44v5.74h-1.44zM408.68 297.44h1.44v5.74h-1.44zM408.68 314.66h1.44v5.74h-1.44zM411.51 222.82h1.44v5.74h-1.44zM411.51 240.04h1.44v5.74h-1.44zM411.51 303.18h1.44v5.74h-1.44zM412.93 228.56h1.44v5.74h-1.44zM412.93 285.96h1.44v5.74h-1.44zM412.93 303.18h1.44v5.74h-1.44zM414.35 268.74h1.44v5.74h-1.44zM414.35 303.18h1.44v5.74h-1.44zM415.77 251.52h1.44v5.74h-1.44zM415.77 314.66h1.44v5.74h-1.44zM417.19 251.52h1.44v5.74h-1.44zM417.19 314.66h1.44v5.74h-1.44zM422.86 297.44h1.44v5.74h-1.44zM424.28 285.96h1.44v5.74h-1.44zM425.70 217.08h1.44v5.74h-1.44zM427.12 211.34h1.44v5.74h-1.44zM428.54 222.82h1.44v5.74h-1.44zM428.54 274.48h1.44v5.74h-1.44zM428.54 303.18h1.44v11.48h-1.44zM429.96 268.74h1.44v5.74h-1.44zM429.96 291.70h1.44v5.74h-1.44zM429.96 314.66h1.44v5.74h-1.44zM431.38 297.44h1.44v5.74h-1.44zM434.21 280.22h1.44v5.74h-1.44z"/>
<path fill="#e8a398" d="M273.90 228.56h1.44v5.74h-1.44zM280.99 263.00h1.44v5.74h-1.44zM356.18 257.26h1.44v5.74h-1.44zM366.12 205.60h1.44v5.74h-1.44zM398.75 314.66h1.44v5.74h-1.44zM407.26 251.52h1.44v5.74h-1.44zM407.26 291.70h1.44v5.74h-1.44zM411.51 274.48h1.44v11.48h-1.44zM412.93 297.44h1.44v5.74h-1.44zM418.61 303.18h1.44v5.74h-1.44zM421.44 274.48h1.44v5.74h-1.44zM421.44 291.70h1.44v5.74h-1.44zM422.86 274.48h1.44v11.48h-1.44zM422.86 303.18h1.44v5.74h-1.44zM424.28 257.26h1.44v11.48h-1.44zM425.70 205.60h1.44v5.74h-1.44zM425.70 222.82h1.44v5.74h-1.44zM425.70 257.26h1.44v22.96h-1.44zM427.12 205.60h1.44v5.74h-1.44zM427.12 245.78h1.44v5.74h-1.44zM427.12 268.74h1.44v5.74h-1.44zM429.96 280.22h1.44v5.74h-1.44zM429.96 297.44h1.44v5.74h-1.44zM431.38 285.96h1.44v5.74h-1.44zM432.79 234.30h1.44v5.74h-1.44zM432.79 263.00h1.44v5.74h-1.44zM434.21 291.70h1.44v5.74h-1.44zM434.21 303.18h1.44v5.74h-1.44z"/>
<path fill="#cac8e1" d="M273.90 234.30h1.44v5.74h-1.44zM275.32 217.08h1.44v5.74h-1.44zM282.41 297.44h1.44v11.48h-1.44zM292.34 211.34h1.44v5.74h-1.44zM295.18 285.96h1.44v5.74h-1.44zM295.18 303.18h1.44v5.74h-1.44zM296.60 205.60h1.44v5.74h-1.44zM296.60 297.44h1.44v11.48h-1.44zM299.44 205.60h1.44v5.74h-1.44zM299.44 291.70h1.44v5.74h-1.44zM300.86 205.60h1.44v5.74h-1.44zM300.86 222.82h1.44v5.74h-1.44zM305.11 291.70h1.44v5.74h-1.44zM305.11 308.92h1.44v5.74h-1.44zM312.20 257.26h1.44v5.74h-1.44zM312.20 308.92h1.44v5.74h-1.44zM313.62 245.78h1.44v5.74h-1.44zM313.62 257.26h1.44v5.74h-1.44zM313.62 303.18h1.44v5.74h-1.44zM317.88 268.74h1.44v5.74h-1.44zM317.88 303.18h1.44v5.74h-1.44zM319.30 274.48h1.44v5.74h-1.44zM319.30 308.92h1.44v5.74h-1.44zM320.72 257.26h1.44v5.74h-1.44zM320.72 280.22h1.44v5.74h-1.44zM320.72 291.70h1.44v5.74h-1.44zM322.14 268.74h1.44v5.74h-1.44zM322.14 303.18h1.44v5.74h-1.44zM323.55 285.96h1.44v5.74h-1.44zM326.39 205.60h1.44v5.74h-1.44zM326.39 280.22h1.44v5.74h-1.44zM326.39 308.92h1.44v5.74h-1.44zM327.81 245.78h1.44v5.74h-1.44zM329.23 274.48h1.44v5.74h-1.44zM332.07 308.92h1.44v5.74h-1.44zM333.49 268.74h1.44v5.74h-1.44zM334.90 285.96h1.44v5.74h-1.44zM334.90 314.66h1.44v5.74h-1.44zM336.32 297.44h1.44v5.74h-1.44zM337.74 268.74h1.44v5.74h-1.44zM337.74 280.22h1.44v5.74h-1.44zM339.16 222.82h1.44v5.74h-1.44zM340.58 263.00h1.44v5.74h-1.44zM342.00 303.18h1.44v5.74h-1.44zM342.00 314.66h1.44v5.74h-1.44zM343.42 245.78h1.44v5.74h-1.44zM344.83 245.78h1.44v5.74h-1.44zM344.83 274.48h1.44v11.48h-1.44zM344.83 297.44h1.44v5.74h-1.44zM344.83 308.92h1.44v5.74h-1.44zM349.09 245.78h1.44v5.74h-1.44zM349.09 308.92h1.44v5.74h-1.44zM350.51 251.52h1.44v5.74h-1.44zM354.77 303.18h1.44v5.74h-1.44zM356.18 314.66h1.44v5.74h-1.44zM359.02 228.56h1.44v5.74h-1.44zM359.02 280.22h1.44v5.74h-1.44zM360.44 222.82h1.44v5.74h-1.44zM360.44 234.30h1.44v5.74h-1.44zM361.86 222.82h1.44v11.48h-1.44zM361.86 251.52h1.44v5.74h-1.44zM363.28 234.30h1.44v5.74h-1.44zM363.28 268.74h1.44v5.74h-1.44zM363.28 308.92h1.44v5.74h-1.44zM371.79 297.44h1.44v11.48h-1.44zM374.63 222.82h1.44v11.48h-1.44zM374.63 291.70h1.44v5.74h-1.44zM376.05 222.82h1.44v5.74h-1.44zM376.05 297.44h1.44v5.74h-1.44zM376.05 314.66h1.44v5.74h-1.44zM377.47 251.52h1.44v5.74h-1.44zM378.88 245.78h1.44v5.74h-1.44zM380.30 257.26h1.44v5.74h-1.44zM381.72 245.78h1.44v5.74h-1.44zM381.72 285.96h1.44v5.74h-1.44zM383.14 217.08h1.44v5.74h-1.44zM383.14 291.70h1.44v5.74h-1.44zM384.56 263.00h1.44v5.74h-1.44zM385.98 297.44h1.44v5.74h-1.44zM387.40 291.70h1.44v5.74h-1.44zM390.23 234.30h1.44v5.74h-1.44zM391.65 245.78h1.44v5.74h-1.44zM391.65 285.96h1.44v11.48h-1.44zM398.75 297.44h1.44v5.74h-1.44zM400.16 217.08h1.44v5.74h-1.44zM401.58 268.74h1.44v5.74h-1.44z"/>
<path fill="#f9edec" d="M273.90 245.78h1.44v11.48h-1.44zM275.32 257.26h1.44v5.74h-1.44zM275.32 297.44h1.44v5.74h-1.44zM276.74 234.30h1.44v5.74h-1.44zM276.74 268.74h1.44v5.74h-1.44zM278.16 228.56h1.44v5.74h-1.44zM279.57 222.82h1.44v5.74h-1.44zM280.99 240.04h1.44v17.22h-1.44zM280.99 314.66h1.44v5.74h-1.44zM282.41 205.60h1.44v5.74h-1.44zM282.41 217.08h1.44v5.74h-1.44zM283.83 251.52h1.44v5.74h-1.44zM286.67 211.34h1.44v5.74h-1.44zM286.67 228.56h1.44v5.74h-1.44zM286.67 245.78h1.44v5.74h-1.44zM286.67 257.26h1.44v5.74h-1.44zM286.67 285.96h1.44v5.74h-1.44zM288.09 314.66h1.44v5.74h-1.44zM289.51 257.26h1.44v5.74h-1.44zM290.92 245.78h1.44v11.48h-1.44zM292.34 205.60h1.44v5.74h-1.44zM292.34 245.78h1.44v11.48h-1.44zM293.76 217.08h1.44v5.74h-1.44zM293.76 234.30h1.44v5.74h-1.44zM295.18 228.56h1.44v5.74h-1.44zM295.18 245.78h1.44v5.74h-1.44zM296.60 251.52h1.44v5.74h-1.44zM298.02 222.82h1.44v5.74h-1.44zM298.02 257.26h1.44v5.74h-1.44zM302.27 217.08h1.44v5.74h-1.44zM302.27 228.56h1.44v5.74h-1.44zM303.69 234.30h1.44v5.74h-1.44zM303.69 285.96h1.44v5.74h-1.44zM306.53 240.04h1.44v5.74h-1.44zM307.95 263.00h1.44v5.74h-1.44zM316.46 240.04h1.44v5.74h-1.44zM317.88 234.30h1.44v5.74h-1.44zM319.30 251.52h1.44v5.74h-1.44zM319.30 263.00h1.44v5.74h-1.44zM320.72 234.30h1.44v5.74h-1.44zM320.72 245.78h1.44v5.74h-1.44zM322.14 228.56h1.44v5.74h-1.44zM323.55 240.04h1.44v11.48h-1.44zM327.81 211.34h1.44v5.74h-1.44zM329.23 234.30h1.44v5.74h-1.44zM330.65 234.30h1.44v5.74h-1.44zM330.65 263.00h1.44v5.74h-1.44zM332.07 211.34h1.44v5.74h-1.44zM332.07 240.04h1.44v5.74h-1.44zM334.90 205.60h1.44v5.74h-1.44zM334.90 245.78h1.44v5.74h-1.44zM336.32 205.60h1.44v5.74h-1.44zM336.32 217.08h1.44v5.74h-1.44zM336.32 228.56h1.44v5.74h-1.44zM336.32 274.48h1.44v5.74h-1.44zM337.74 251.52h1.44v5.74h-1.44zM339.16 251.52h1.44v5.74h-1.44zM340.58 211.34h1.44v5.74h-1.44zM340.58 234.30h1.44v5.74h-1.44zM343.42 211.34h1.44v5.74h-1.44zM343.42 303.18h1.44v5.74h-1.44zM344.83 240.04h1.44v5.74h-1.44zM344.83 251.52h1.44v5.74h-1.44zM346.25 240.04h1.44v11.48h-1.44zM347.67 240.04h1.44v11.48h-1.44zM349.09 234.30h1.44v5.74h-1.44zM351.93 217.08h1.44v5.74h-1.44zM351.93 251.52h1.44v11.48h-1.44zM351.93 297.44h1.44v5.74h-1.44zM353.35 222.82h1.44v5.74h-1.44zM354.77 234.30h1.44v5.74h-1.44zM356.18 308.92h1.44v5.74h-1.44zM364.70 257.26h1.44v5.74h-1.44zM366.12 217.08h1.44v5.74h-1.44zM366.12 240.04h1.44v17.22h-1.44zM366.12 308.92h1.44v5.74h-1.44zM368.95 257.26h1.44v5.74h-1.44zM370.37 291.70h1.44v5.74h-1.44zM370.37 314.66h1.44v5.74h-1.44zM371.79 211.34h1.44v5.74h-1.44zM371.79 234.30h1.44v5.74h-1.44zM374.63 240.04h1.44v5.74h-1.44zM376.05 240.04h1.44v5.74h-1.44zM378.88 205.60h1.44v5.74h-1.44zM385.98 205.60h1.44v5.74h-1.44zM387.40 228.56h1.44v5.74h-1.44zM388.81 217.08h1.44v5.74h-1.44zM393.07 217.08h1.44v11.48h-1.44zM393.07 251.52h1.44v11.48h-1.44zM393.07 314.66h1.44v5.74h-1.44zM394.49 257.26h1.44v5.74h-1.44zM403.00 268.74h1.44v5.74h-1.44zM404.42 211.34h1.44v5.74h-1.44zM404.42 228.56h1.44v5.74h-1.44zM404.42 245.78h1.44v5.74h-1.44zM404.42 274.48h1.44v5.74h-1.44zM405.84 240.04h1.44v5.74h-1.44zM405.84 257.26h1.44v5.74h-1.44zM407.26 308.92h1.44v5.74h-1.44zM408.68 234.30h1.44v5.74h-1.44zM410.10 257.26h1.44v5.74h-1.44zM410.10 268.74h1.44v5.74h-1.44zM410.10 280.22h1.44v5.74h-1.44zM411.51 228.56h1.44v5.74h-1.44zM412.93 234.30h1.44v5.74h-1.44zM414.35 217.08h1.44v5.74h-1.44zM414.35 263.00h1.44v5.74h-1.44zM414.35 308.92h1.44v5.74h-1.44zM415.77 205.60h1.44v5.74h-1.44zM415.77 245.78h1.44v5.74h-1.44zM415.77 280.22h1.44v5.74h-1.44zM417.19 211.34h1.44v5.74h-1.44zM417.19 234.30h1.44v5.74h-1.44zM417.19 274.48h1.44v5.74h-1.44zM420.03 240.04h1.44v5.74h-1.44zM422.86 228.56h1.44v5.74h-1.44zM424.28 240.04h1.44v5.74h-1.44zM427.12 234.30h1.44v5.74h-1.44zM431.38 211.34h1.44v11.48h-1.44zM431.38 308.92h1.44v5.74h-1.44z"/>
<path fill="#f4d7d3" d="M273.90 257.26h1.44v5.74h-1.44zM275.32 268.74h1.44v5.74h-1.44zM282.41 263.00h1.44v5.74h-1.44zM283.83 205.60h1.44v5.74h-1.44zM283.83 240.04h1.44v5.74h-1.44zM286.67 240.04h1.44v5.74h-1.44zM288.09 274.48h1.44v5.74h-1.44zM289.51 217.08h1.44v5.74h-1.44zM289.51 268.74h1.44v5.74h-1.44zM289.51 280.22h1.44v5.74h-1.44zM290.92 303.18h1.44v5.74h-1.44zM292.34 263.00h1.44v5.74h-1.44zM293.76 228.56h1.44v5.74h-1.44zM293.76 251.52h1.44v5.74h-1.44zM293.76 263.00h1.44v5.74h-1.44zM305.11 245.78h1.44v5.74h-1.44zM306.53 205.60h1.44v5.74h-1.44zM307.95 211.34h1.44v5.74h-1.44zM322.14 205.60h1.44v5.74h-1.44zM329.23 211.34h1.44v5.74h-1.44zM333.49 228.56h1.44v5.74h-1.44zM336.32 234.30h1.44v5.74h-1.44zM336.32 308.92h1.44v5.74h-1.44zM337.74 245.78h1.44v5.74h-1.44zM344.83 234.30h1.44v5.74h-1.44zM350.51 222.82h1.44v5.74h-1.44zM364.70 211.34h1.44v5.74h-1.44zM367.53 211.34h1.44v5.74h-1.44zM367.53 228.56h1.44v5.74h-1.44zM367.53 263.00h1.44v5.74h-1.44zM368.95 245.78h1.44v5.74h-1.44zM370.37 211.34h1.44v11.48h-1.44zM370.37 245.78h1.44v5.74h-1.44zM370.37 274.48h1.44v5.74h-1.44zM390.23 263.00h1.44v5.74h-1.44zM391.65 251.52h1.44v5.74h-1.44zM393.07 234.30h1.44v5.74h-1.44zM403.00 274.48h1.44v5.74h-1.44zM404.42 285.96h1.44v5.74h-1.44zM404.42 297.44h1.44v5.74h-1.44zM405.84 228.56h1.44v5.74h-1.44zM405.84 314.66h1.44v5.74h-1.44zM407.26 240.04h1.44v5.74h-1.44zM407.26 274.48h1.44v5.74h-1.44zM407.26 297.44h1.44v5.74h-1.44zM407.26 314.66h1.44v5.74h-1.44zM408.68 257.26h1.44v5.74h-1.44zM408.68 303.18h1.44v11.48h-1.44zM410.10 251.52h1.44v5.74h-1.44zM410.10 285.96h1.44v11.48h-1.44zM410.10 314.66h1.44v5.74h-1.44zM411.51 217.08h1.44v5.74h-1.44zM411.51 234.30h1.44v5.74h-1.44zM411.51 263.00h1.44v5.74h-1.44zM411.51 308.92h1.44v5.74h-1.44zM412.93 211.34h1.44v5.74h-1.44zM412.93 245.78h1.44v11.48h-1.44zM414.35 280.22h1.44v5.74h-1.44zM414.35 291.70h1.44v5.74h-1.44zM415.77 297.44h1.44v5.74h-1.44zM417.19 263.00h1.44v11.48h-1.44zM417.19 291.70h1.44v5.74h-1.44zM422.86 211.34h1.44v5.74h-1.44zM422.86 268.74h1.44v5.74h-1.44zM424.28 234.30h1.44v5.74h-1.44zM425.70 228.56h1.44v5.74h-1.44zM427.12 228.56h1.44v5.74h-1.44zM427.12 240.04h1.44v5.74h-1.44zM428.54 228.56h1.44v17.22h-1.44zM428.54 251.52h1.44v5.74h-1.44zM428.54 291.70h1.44v5.74h-1.44zM429.96 257.26h1.44v11.48h-1.44zM429.96 308.92h1.44v5.74h-1.44zM431.38 205.60h1.44v5.74h-1.44zM431.38 263.00h1.44v5.74h-1.44z"/>
<path fill="#e4e2ef" d="M273.90 268.74h1.44v11.48h-1.44zM275.32 314.66h1.44v5.74h-1.44zM278.16 297.44h1.44v5.74h-1.44zM278.16 314.66h1.44v5.74h-1.44zM279.57 291.70h1.44v5.74h-1.44zM285.25 217.08h1.44v5.74h-1.44zM285.25 228.56h1.44v11.48h-1.44zM285.25 308.92h1.44v5.74h-1.44zM286.67 274.48h1.44v5.74h-1.44zM289.51 222.82h1.44v5.74h-1.44zM289.51 245.78h1.44v5.74h-1.44zM289.51 297.44h1.44v5.74h-1.44zM289.51 314.66h1.44v5.74h-1.44zM292.34 222.82h1.44v5.74h-1.44zM292.34 285.96h1.44v5.74h-1.44zM293.76 308.92h1.44v5.74h-1.44zM295.18 222.82h1.44v5.74h-1.44zM295.18 291.70h1.44v5.74h-1.44zM298.02 274.48h1.44v5.74h-1.44zM300.86 291.70h1.44v11.48h-1.44zM302.27 211.34h1.44v5.74h-1.44zM302.27 251.52h1.44v5.74h-1.44zM302.27 297.44h1.44v5.74h-1.44zM303.69 211.34h1.44v5.74h-1.44zM303.69 251.52h1.44v5.74h-1.44zM303.69 274.48h1.44v5.74h-1.44zM303.69 308.92h1.44v5.74h-1.44zM306.53 234.30h1.44v5.74h-1.44zM307.95 222.82h1.44v5.74h-1.44zM307.95 268.74h1.44v5.74h-1.44zM307.95 280.22h1.44v5.74h-1.44zM309.37 222.82h1.44v5.74h-1.44zM309.37 245.78h1.44v5.74h-1.44zM309.37 257.26h1.44v5.74h-1.44zM309.37 285.96h1.44v5.74h-1.44zM309.37 303.18h1.44v5.74h-1.44zM310.79 228.56h1.44v5.74h-1.44zM310.79 245.78h1.44v5.74h-1.44zM310.79 297.44h1.44v5.74h-1.44zM312.20 228.56h1.44v5.74h-1.44zM312.20 240.04h1.44v5.74h-1.44zM312.20 280.22h1.44v5.74h-1.44zM315.04 234.30h1.44v5.74h-1.44zM316.46 211.34h1.44v5.74h-1.44zM316.46 251.52h1.44v5.74h-1.44zM316.46 268.74h1.44v5.74h-1.44zM317.88 245.78h1.44v5.74h-1.44zM317.88 291.70h1.44v5.74h-1.44zM319.30 314.66h1.44v5.74h-1.44zM322.14 222.82h1.44v5.74h-1.44zM322.14 234.30h1.44v5.74h-1.44zM324.97 240.04h1.44v5.74h-1.44zM324.97 251.52h1.44v5.74h-1.44zM326.39 297.44h1.44v5.74h-1.44zM327.81 228.56h1.44v5.74h-1.44zM329.23 308.92h1.44v5.74h-1.44zM330.65 280.22h1.44v5.74h-1.44zM332.07 217.08h1.44v5.74h-1.44zM333.49 234.30h1.44v5.74h-1.44zM333.49 251.52h1.44v5.74h-1.44zM333.49 297.44h1.44v11.48h-1.44zM334.90 303.18h1.44v5.74h-1.44zM336.32 222.82h1.44v5.74h-1.44zM336.32 280.22h1.44v5.74h-1.44zM339.16 291.70h1.44v5.74h-1.44zM340.58 205.60h1.44v5.74h-1.44zM340.58 228.56h1.44v5.74h-1.44zM342.00 205.60h1.44v5.74h-1.44zM342.00 291.70h1.44v5.74h-1.44zM343.42 205.60h1.44v5.74h-1.44zM343.42 222.82h1.44v5.74h-1.44zM343.42 291.70h1.44v5.74h-1.44zM343.42 314.66h1.44v5.74h-1.44zM344.83 291.70h1.44v5.74h-1.44zM347.67 205.60h1.44v5.74h-1.44zM347.67 257.26h1.44v5.74h-1.44zM349.09 263.00h1.44v5.74h-1.44zM349.09 314.66h1.44v5.74h-1.44zM350.51 211.34h1.44v5.74h-1.44zM351.93 291.70h1.44v5.74h-1.44zM353.35 251.52h1.44v5.74h-1.44zM353.35 268.74h1.44v11.48h-1.44zM357.60 303.18h1.44v5.74h-1.44zM357.60 314.66h1.44v5.74h-1.44zM360.44 205.60h1.44v5.74h-1.44zM364.70 217.08h1.44v5.74h-1.44zM364.70 234.30h1.44v5.74h-1.44zM366.12 285.96h1.44v5.74h-1.44zM368.95 285.96h1.44v11.48h-1.44zM368.95 308.92h1.44v5.74h-1.44zM370.37 228.56h1.44v5.74h-1.44zM370.37 285.96h1.44v5.74h-1.44zM371.79 245.78h1.44v5.74h-1.44zM371.79 308.92h1.44v5.74h-1.44zM373.21 222.82h1.44v5.74h-1.44zM374.63 308.92h1.44v5.74h-1.44zM376.05 205.60h1.44v5.74h-1.44zM376.05 228.56h1.44v5.74h-1.44zM376.05 251.52h1.44v5.74h-1.44zM376.05 263.00h1.44v5.74h-1.44zM376.05 285.96h1.44v5.74h-1.44zM376.05 308.92h1.44v5.74h-1.44zM377.47 222.82h1.44v5.74h-1.44zM380.30 228.56h1.44v5.74h-1.44zM380.30 274.48h1.44v5.74h-1.44zM381.72 205.60h1.44v5.74h-1.44zM381.72 217.08h1.44v5.74h-1.44zM381.72 257.26h1.44v5.74h-1.44zM385.98 222.82h1.44v5.74h-1.44zM385.98 263.00h1.44v5.74h-1.44zM385.98 314.66h1.44v5.74h-1.44zM387.40 211.34h1.44v5.74h-1.44zM387.40 234.30h1.44v5.74h-1.44zM387.40 251.52h1.44v11.48h-1.44zM387.40 297.44h1.44v5.74h-1.44zM388.81 222.82h1.44v5.74h-1.44zM388.81 303.18h1.44v11.48h-1.44zM390.23 222.82h1.44v5.74h-1.44zM391.65 211.34h1.44v5.74h-1.44zM391.65 234.30h1.44v5.74h-1.44zM391.65 257.26h1.44v5.74h-1.44zM391.65 268.74h1.44v11.48h-1.44zM393.07 205.60h1.44v5.74h-1.44zM393.07 303.18h1.44v5.74h-1.44zM394.49 234.30h1.44v5.74h-1.44zM394.49 251.52h1.44v5.74h-1.44zM394.49 303.18h1.44v5.74h-1.44zM395.91 217.08h1.44v5.74h-1.44zM395.91 234.30h1.44v5.74h-1.44zM395.91 285.96h1.44v5.74h-1.44zM397.33 303.18h1.44v5.74h-1.44zM398.75 211.34h1.44v5.74h-1.44zM398.75 240.04h1.44v5.74h-1.44zM398.75 291.70h1.44v5.74h-1.44zM400.16 240.04h1.44v5.74h-1.44zM400.16 314.66h1.44v5.74h-1.44zM403.00 234.30h1.44v5.74h-1.44zM404.42 222.82h1.44v5.74h-1.44zM410.10 205.60h1.44v5.74h-1.44zM414.35 205.60h1.44v5.74h-1.44zM415.77 222.82h1.44v5.74h-1.44zM417.19 308.92h1.44v5.74h-1.44zM418.61 228.56h1.44v5.74h-1.44zM420.03 308.92h1.44v5.74h-1.44zM431.38 228.56h1.44v5.74h-1.44z"/>
<path fill="#f6f5f9" d="M273.90 280.22h1.44v5.74h-1.44zM273.90 291.70h1.44v5.74h-1.44zM273.90 303.18h1.44v5.74h-1.44zM275.32 245.78h1.44v5.74h-1.44zM275.32 263.00h1.44v5.74h-1.44zM276.74 263.00h1.44v5.74h-1.44zM276.74 274.48h1.44v5.74h-1.44zM278.16 217.08h1.44v5.74h-1.44zM279.57 228.56h1.44v5.74h-1.44zM280.99 211.34h1.44v5.74h-1.44zM280.99 274.48h1.44v11.48h-1.44zM282.41 308.92h1.44v5.74h-1.44zM283.83 314.66h1.44v5.74h-1.44zM286.67 297.44h1.44v5.74h-1.44zM288.09 222.82h1.44v5.74h-1.44zM289.51 234.30h1.44v5.74h-1.44zM290.92 274.48h1.44v5.74h-1.44zM290.92 297.44h1.44v5.74h-1.44zM292.34 240.04h1.44v5.74h-1.44zM292.34 274.48h1.44v11.48h-1.44zM293.76 314.66h1.44v5.74h-1.44zM295.18 257.26h1.44v5.74h-1.44zM295.18 280.22h1.44v5.74h-1.44zM296.60 228.56h1.44v5.74h-1.44zM299.44 211.34h1.44v5.74h-1.44zM299.44 222.82h1.44v5.74h-1.44zM299.44 268.74h1.44v11.48h-1.44zM299.44 285.96h1.44v5.74h-1.44zM299.44 308.92h1.44v5.74h-1.44zM300.86 280.22h1.44v5.74h-1.44zM302.27 263.00h1.44v5.74h-1.44zM302.27 274.48h1.44v5.74h-1.44zM306.53 228.56h1.44v5.74h-1.44zM307.95 228.56h1.44v5.74h-1.44zM307.95 285.96h1.44v5.74h-1.44zM307.95 297.44h1.44v5.74h-1.44zM309.37 211.34h1.44v11.48h-1.44zM309.37 228.56h1.44v5.74h-1.44zM309.37 274.48h1.44v5.74h-1.44zM310.79 303.18h1.44v5.74h-1.44zM315.04 314.66h1.44v5.74h-1.44zM317.88 240.04h1.44v5.74h-1.44zM317.88 257.26h1.44v5.74h-1.44zM317.88 285.96h1.44v5.74h-1.44zM319.30 245.78h1.44v5.74h-1.44zM322.14 245.78h1.44v5.74h-1.44zM323.55 228.56h1.44v5.74h-1.44zM323.55 308.92h1.44v5.74h-1.44zM326.39 211.34h1.44v11.48h-1.44zM326.39 291.70h1.44v5.74h-1.44zM327.81 291.70h1.44v5.74h-1.44zM329.23 263.00h1.44v5.74h-1.44zM330.65 211.34h1.44v5.74h-1.44zM330.65 245.78h1.44v5.74h-1.44zM330.65 297.44h1.44v5.74h-1.44zM332.07 251.52h1.44v11.48h-1.44zM332.07 268.74h1.44v5.74h-1.44zM332.07 303.18h1.44v5.74h-1.44zM337.74 205.60h1.44v5.74h-1.44zM337.74 274.48h1.44v5.74h-1.44zM337.74 314.66h1.44v5.74h-1.44zM339.16 263.00h1.44v5.74h-1.44zM340.58 240.04h1.44v5.74h-1.44zM340.58 257.26h1.44v5.74h-1.44zM342.00 245.78h1.44v5.74h-1.44zM346.25 234.30h1.44v5.74h-1.44zM346.25 280.22h1.44v5.74h-1.44zM347.67 211.34h1.44v5.74h-1.44zM347.67 251.52h1.44v5.74h-1.44zM349.09 240.04h1.44v5.74h-1.44zM349.09 251.52h1.44v5.74h-1.44zM349.09 291.70h1.44v5.74h-1.44zM351.93 205.60h1.44v5.74h-1.44zM351.93 222.82h1.44v11.48h-1.44zM351.93 240.04h1.44v5.74h-1.44zM353.35 211.34h1.44v5.74h-1.44zM356.18 251.52h1.44v5.74h-1.44zM356.18 263.00h1.44v5.74h-1.44zM357.60 245.78h1.44v5.74h-1.44zM357.60 263.00h1.44v5.74h-1.44zM363.28 205.60h1.44v5.74h-1.44zM364.70 222.82h1.44v5.74h-1.44zM364.70 268.74h1.44v11.48h-1.44zM364.70 303.18h1.44v5.74h-1.44zM366.12 211.34h1.44v5.74h-1.44zM367.53 234.30h1.44v5.74h-1.44zM367.53 274.48h1.44v5.74h-1.44zM368.95 251.52h1.44v5.74h-1.44zM368.95 268.74h1.44v5.74h-1.44zM368.95 314.66h1.44v5.74h-1.44zM370.37 222.82h1.44v5.74h-1.44zM370.37 303.18h1.44v11.48h-1.44zM373.21 205.60h1.44v11.48h-1.44zM374.63 205.60h1.44v5.74h-1.44zM380.30 205.60h1.44v5.74h-1.44zM380.30 234.30h1.44v5.74h-1.44zM383.14 245.78h1.44v5.74h-1.44zM383.14 257.26h1.44v5.74h-1.44zM384.56 314.66h1.44v5.74h-1.44zM387.40 222.82h1.44v5.74h-1.44zM388.81 245.78h1.44v11.48h-1.44zM390.23 251.52h1.44v5.74h-1.44zM391.65 297.44h1.44v5.74h-1.44zM394.49 222.82h1.44v5.74h-1.44zM394.49 263.00h1.44v5.74h-1.44zM395.91 291.70h1.44v5.74h-1.44zM397.33 211.34h1.44v5.74h-1.44zM398.75 245.78h1.44v5.74h-1.44zM398.75 280.22h1.44v5.74h-1.44zM400.16 234.30h1.44v5.74h-1.44zM403.00 211.34h1.44v5.74h-1.44zM403.00 263.00h1.44v5.74h-1.44zM404.42 205.60h1.44v5.74h-1.44zM405.84 211.34h1.44v5.74h-1.44zM407.26 211.34h1.44v5.74h-1.44zM408.68 205.60h1.44v5.74h-1.44zM410.10 211.34h1.44v5.74h-1.44zM410.10 297.44h1.44v5.74h-1.44zM411.51 211.34h1.44v5.74h-1.44zM414.35 234.30h1.44v5.74h-1.44zM415.77 211.34h1.44v5.74h-1.44zM415.77 228.56h1.44v5.74h-1.44zM415.77 240.04h1.44v5.74h-1.44zM415.77 308.92h1.44v5.74h-1.44zM417.19 205.60h1.44v5.74h-1.44zM417.19 217.08h1.44v5.74h-1.44zM417.19 280.22h1.44v5.74h-1.44zM418.61 280.22h1.44v5.74h-1.44zM420.03 263.00h1.44v5.74h-1.44zM421.44 211.34h1.44v5.74h-1.44zM429.96 205.60h1.44v5.74h-1.44zM429.96 228.56h1.44v5.74h-1.44zM431.38 222.82h1.44v5.74h-1.44z"/>
<path fill="#e5978b" d="M273.90 297.44h1.44v5.74h-1.44zM285.25 263.00h1.44v5.74h-1.44zM367.53 240.04h1.44v5.74h-1.44zM405.84 251.52h1.44v5.74h-1.44zM407.26 263.00h1.44v5.74h-1.44zM412.93 257.26h1.44v5.74h-1.44zM412.93 280.22h1.44v5.74h-1.44zM412.93 308.92h1.44v5.74h-1.44zM421.44 251.52h1.44v5.74h-1.44zM422.86 285.96h1.44v5.74h-1.44zM424.28 222.82h1.44v5.74h-1.44zM424.28 280.22h1.44v5.74h-1.44zM424.28 297.44h1.44v5.74h-1.44zM425.70 314.66h1.44v5.74h-1.44zM427.12 251.52h1.44v11.48h-1.44zM428.54 268.74h1.44v5.74h-1.44zM429.96 251.52h1.44v5.74h-1.44zM429.96 285.96h1.44v5.74h-1.44zM432.79 297.44h1.44v5.74h-1.44zM434.21 263.00h1.44v5.74h-1.44z"/>
<path fill="#f0eff6" d="M275.32 205.60h1.44v5.74h-1.44zM275.32 251.52h1.44v5.74h-1.44zM275.32 303.18h1.44v5.74h-1.44zM276.74 211.34h1.44v5.74h-1.44zM276.74 303.18h1.44v5.74h-1.44zM278.16 222.82h1.44v5.74h-1.44zM278.16 234.30h1.44v17.22h-1.44zM278.16 257.26h1.44v5.74h-1.44zM278.16 303.18h1.44v5.74h-1.44zM279.57 205.60h1.44v11.48h-1.44zM279.57 240.04h1.44v5.74h-1.44zM279.57 251.52h1.44v5.74h-1.44zM279.57 308.92h1.44v5.74h-1.44zM280.99 234.30h1.44v5.74h-1.44zM280.99 257.26h1.44v5.74h-1.44zM280.99 268.74h1.44v5.74h-1.44zM282.41 268.74h1.44v5.74h-1.44zM283.83 234.30h1.44v5.74h-1.44zM283.83 268.74h1.44v5.74h-1.44zM286.67 222.82h1.44v5.74h-1.44zM288.09 211.34h1.44v5.74h-1.44zM288.09 245.78h1.44v5.74h-1.44zM288.09 268.74h1.44v5.74h-1.44zM288.09 297.44h1.44v5.74h-1.44zM288.09 308.92h1.44v5.74h-1.44zM289.51 211.34h1.44v5.74h-1.44zM293.76 285.96h1.44v5.74h-1.44zM293.76 297.44h1.44v5.74h-1.44zM295.18 205.60h1.44v11.48h-1.44zM295.18 314.66h1.44v5.74h-1.44zM296.60 308.92h1.44v5.74h-1.44zM298.02 211.34h1.44v5.74h-1.44zM298.02 228.56h1.44v5.74h-1.44zM298.02 245.78h1.44v5.74h-1.44zM300.86 228.56h1.44v5.74h-1.44zM302.27 240.04h1.44v5.74h-1.44zM305.11 234.30h1.44v5.74h-1.44zM306.53 263.00h1.44v5.74h-1.44zM309.37 263.00h1.44v5.74h-1.44zM310.79 257.26h1.44v5.74h-1.44zM315.04 240.04h1.44v5.74h-1.44zM316.46 263.00h1.44v5.74h-1.44zM317.88 217.08h1.44v11.48h-1.44zM319.30 205.60h1.44v5.74h-1.44zM323.55 291.70h1.44v5.74h-1.44zM324.97 263.00h1.44v5.74h-1.44zM324.97 285.96h1.44v5.74h-1.44zM327.81 234.30h1.44v5.74h-1.44zM327.81 303.18h1.44v5.74h-1.44zM329.23 217.08h1.44v5.74h-1.44zM329.23 297.44h1.44v5.74h-1.44zM330.65 205.60h1.44v5.74h-1.44zM330.65 240.04h1.44v5.74h-1.44zM330.65 291.70h1.44v5.74h-1.44zM330.65 303.18h1.44v5.74h-1.44zM332.07 263.00h1.44v5.74h-1.44zM332.07 291.70h1.44v5.74h-1.44zM333.49 222.82h1.44v5.74h-1.44zM333.49 240.04h1.44v5.74h-1.44zM336.32 314.66h1.44v5.74h-1.44zM337.74 234.30h1.44v5.74h-1.44zM337.74 263.00h1.44v5.74h-1.44zM337.74 303.18h1.44v5.74h-1.44zM339.16 240.04h1.44v5.74h-1.44zM339.16 274.48h1.44v5.74h-1.44zM342.00 211.34h1.44v5.74h-1.44zM344.83 205.60h1.44v5.74h-1.44zM344.83 222.82h1.44v5.74h-1.44zM346.25 211.34h1.44v5.74h-1.44zM346.25 263.00h1.44v5.74h-1.44zM346.25 314.66h1.44v5.74h-1.44zM349.09 222.82h1.44v5.74h-1.44zM350.51 217.08h1.44v5.74h-1.44zM351.93 211.34h1.44v5.74h-1.44zM351.93 268.74h1.44v5.74h-1.44zM353.35 234.30h1.44v5.74h-1.44zM353.35 263.00h1.44v5.74h-1.44zM353.35 280.22h1.44v5.74h-1.44zM353.35 291.70h1.44v5.74h-1.44zM354.77 263.00h1.44v5.74h-1.44zM356.18 205.60h1.44v5.74h-1.44zM357.60 240.04h1.44v5.74h-1.44zM357.60 257.26h1.44v5.74h-1.44zM357.60 285.96h1.44v5.74h-1.44zM359.02 205.60h1.44v5.74h-1.44zM364.70 228.56h1.44v5.74h-1.44zM364.70 251.52h1.44v5.74h-1.44zM364.70 263.00h1.44v5.74h-1.44zM366.12 228.56h1.44v5.74h-1.44zM366.12 268.74h1.44v5.74h-1.44zM367.53 308.92h1.44v5.74h-1.44zM368.95 217.08h1.44v5.74h-1.44zM368.95 234.30h1.44v5.74h-1.44zM368.95 303.18h1.44v5.74h-1.44zM371.79 222.82h1.44v5.74h-1.44zM371.79 263.00h1.44v5.74h-1.44zM373.21 268.74h1.44v5.74h-1.44zM373.21 291.70h1.44v5.74h-1.44zM377.47 205.60h1.44v5.74h-1.44zM377.47 263.00h1.44v5.74h-1.44zM377.47 280.22h1.44v5.74h-1.44zM380.30 240.04h1.44v5.74h-1.44zM381.72 303.18h1.44v5.74h-1.44zM383.14 222.82h1.44v5.74h-1.44zM384.56 245.78h1.44v5.74h-1.44zM384.56 257.26h1.44v5.74h-1.44zM385.98 234.30h1.44v5.74h-1.44zM385.98 257.26h1.44v5.74h-1.44zM387.40 217.08h1.44v5.74h-1.44zM388.81 263.00h1.44v5.74h-1.44zM390.23 211.34h1.44v11.48h-1.44zM390.23 291.70h1.44v5.74h-1.44zM391.65 308.92h1.44v5.74h-1.44zM393.07 240.04h1.44v5.74h-1.44zM393.07 285.96h1.44v5.74h-1.44zM394.49 205.60h1.44v5.74h-1.44zM394.49 285.96h1.44v5.74h-1.44zM395.91 303.18h1.44v5.74h-1.44zM397.33 228.56h1.44v5.74h-1.44zM397.33 245.78h1.44v5.74h-1.44zM397.33 263.00h1.44v5.74h-1.44zM398.75 222.82h1.44v5.74h-1.44zM400.16 222.82h1.44v5.74h-1.44zM401.58 251.52h1.44v5.74h-1.44zM408.68 211.34h1.44v5.74h-1.44zM410.10 234.30h1.44v5.74h-1.44zM410.10 308.92h1.44v5.74h-1.44zM411.51 297.44h1.44v5.74h-1.44zM417.19 228.56h1.44v5.74h-1.44zM417.19 240.04h1.44v5.74h-1.44zM420.03 222.82h1.44v5.74h-1.44zM420.03 245.78h1.44v5.74h-1.44zM420.03 268.74h1.44v11.48h-1.44zM429.96 217.08h1.44v5.74h-1.44z"/>
<path fill="#fcfbfc" d="M275.32 211.34h1.44v5.74h-1.44zM275.32 274.48h1.44v5.74h-1.44zM276.74 297.44h1.44v5.74h-1.44zM278.16 205.60h1.44v5.74h-1.44zM278.16 280.22h1.44v5.74h-1.44zM279.57 297.44h1.44v5.74h-1.44zM282.41 245.78h1.44v5.74h-1.44zM283.83 274.48h1.44v5.74h-1.44zM286.67 251.52h1.44v5.74h-1.44zM286.67 303.18h1.44v11.48h-1.44zM288.09 228.56h1.44v5.74h-1.44zM288.09 257.26h1.44v5.74h-1.44zM289.51 251.52h1.44v5.74h-1.44zM289.51 274.48h1.44v5.74h-1.44zM289.51 291.70h1.44v5.74h-1.44zM290.92 280.22h1.44v5.74h-1.44zM290.92 308.92h1.44v5.74h-1.44zM292.34 268.74h1.44v5.74h-1.44zM292.34 308.92h1.44v5.74h-1.44zM295.18 263.00h1.44v5.74h-1.44zM296.60 240.04h1.44v5.74h-1.44zM296.60 257.26h1.44v5.74h-1.44zM298.02 240.04h1.44v5.74h-1.44zM298.02 268.74h1.44v5.74h-1.44zM298.02 297.44h1.44v5.74h-1.44zM299.44 251.52h1.44v5.74h-1.44zM300.86 251.52h1.44v11.48h-1.44zM300.86 274.48h1.44v5.74h-1.44zM302.27 280.22h1.44v5.74h-1.44zM302.27 303.18h1.44v5.74h-1.44zM303.69 263.00h1.44v5.74h-1.44zM305.11 211.34h1.44v5.74h-1.44zM309.37 234.30h1.44v5.74h-1.44zM309.37 251.52h1.44v5.74h-1.44zM309.37 268.74h1.44v5.74h-1.44zM309.37 291.70h1.44v5.74h-1.44zM310.79 217.08h1.44v5.74h-1.44zM310.79 234.30h1.44v5.74h-1.44zM310.79 268.74h1.44v5.74h-1.44zM312.20 245.78h1.44v5.74h-1.44zM312.20 268.74h1.44v5.74h-1.44zM319.30 217.08h1.44v11.48h-1.44zM320.72 240.04h1.44v5.74h-1.44zM320.72 308.92h1.44v5.74h-1.44zM323.55 263.00h1.44v5.74h-1.44zM324.97 205.60h1.44v11.48h-1.44zM324.97 222.82h1.44v5.74h-1.44zM326.39 314.66h1.44v5.74h-1.44zM327.81 205.60h1.44v5.74h-1.44zM327.81 240.04h1.44v5.74h-1.44zM327.81 297.44h1.44v5.74h-1.44zM330.65 228.56h1.44v5.74h-1.44zM333.49 211.34h1.44v5.74h-1.44zM333.49 257.26h1.44v5.74h-1.44zM334.90 217.08h1.44v5.74h-1.44zM334.90 234.30h1.44v5.74h-1.44zM336.32 240.04h1.44v5.74h-1.44zM336.32 285.96h1.44v5.74h-1.44zM337.74 297.44h1.44v5.74h-1.44zM339.16 245.78h1.44v5.74h-1.44zM340.58 303.18h1.44v5.74h-1.44zM342.00 228.56h1.44v5.74h-1.44zM342.00 263.00h1.44v5.74h-1.44zM343.42 240.04h1.44v5.74h-1.44zM343.42 251.52h1.44v5.74h-1.44zM344.83 217.08h1.44v5.74h-1.44zM346.25 251.52h1.44v5.74h-1.44zM347.67 263.00h1.44v5.74h-1.44zM349.09 217.08h1.44v5.74h-1.44zM350.51 234.30h1.44v11.48h-1.44zM350.51 291.70h1.44v5.74h-1.44zM354.77 257.26h1.44v5.74h-1.44zM356.18 222.82h1.44v5.74h-1.44zM357.60 222.82h1.44v5.74h-1.44zM364.70 240.04h1.44v11.48h-1.44zM367.53 217.08h1.44v5.74h-1.44zM367.53 285.96h1.44v22.96h-1.44zM368.95 222.82h1.44v5.74h-1.44zM370.37 263.00h1.44v5.74h-1.44zM371.79 280.22h1.44v5.74h-1.44zM371.79 314.66h1.44v5.74h-1.44zM373.21 257.26h1.44v5.74h-1.44zM376.05 211.34h1.44v5.74h-1.44zM376.05 280.22h1.44v5.74h-1.44zM378.88 263.00h1.44v5.74h-1.44zM380.30 303.18h1.44v5.74h-1.44zM381.72 251.52h1.44v5.74h-1.44zM383.14 205.60h1.44v5.74h-1.44zM384.56 205.60h1.44v5.74h-1.44zM384.56 228.56h1.44v5.74h-1.44zM384.56 308.92h1.44v5.74h-1.44zM387.40 263.00h1.44v5.74h-1.44zM387.40 308.92h1.44v5.74h-1.44zM388.81 228.56h1.44v5.74h-1.44zM388.81 240.04h1.44v5.74h-1.44zM388.81 291.70h1.44v5.74h-1.44zM390.23 280.22h1.44v5.74h-1.44zM390.23 297.44h1.44v5.74h-1.44zM393.07 263.00h1.44v11.48h-1.44zM394.49 245.78h1.44v5.74h-1.44zM395.91 222.82h1.44v5.74h-1.44zM395.91 245.78h1.44v5.74h-1.44zM395.91 257.26h1.44v5.74h-1.44zM395.91 314.66h1.44v5.74h-1.44zM397.33 222.82h1.44v5.74h-1.44zM397.33 240.04h1.44v5.74h-1.44zM397.33 268.74h1.44v5.74h-1.44zM397.33 314.66h1.44v5.74h-1.44zM398.75 228.56h1.44v5.74h-1.44zM400.16 268.74h1.44v5.74h-1.44zM403.00 205.60h1.44v5.74h-1.44zM403.00 308.92h1.44v5.74h-1.44zM404.42 268.74h1.44v5.74h-1.44zM404.42 291.70h1.44v5.74h-1.44zM405.84 205.60h1.44v5.74h-1.44zM405.84 308.92h1.44v5.74h-1.44zM408.68 222.82h1.44v5.74h-1.44zM410.10 217.08h1.44v5.74h-1.44zM415.77 234.30h1.44v5.74h-1.44zM417.19 297.44h1.44v5.74h-1.44zM418.61 222.82h1.44v5.74h-1.44zM418.61 234.30h1.44v5.74h-1.44zM418.61 245.78h1.44v5.74h-1.44zM418.61 274.48h1.44v5.74h-1.44zM418.61 285.96h1.44v5.74h-1.44zM420.03 234.30h1.44v5.74h-1.44zM420.03 285.96h1.44v11.48h-1.44zM421.44 234.30h1.44v5.74h-1.44zM429.96 240.04h1.44v5.74h-1.44z"/>
<path fill="#f6dedb" d="M275.32 222.82h1.44v5.74h-1.44zM276.74 222.82h1.44v11.48h-1.44zM276.74 251.52h1.44v5.74h-1.44zM278.16 211.34h1.44v5.74h-1.44zM282.41 251.52h1.44v5.74h-1.44zM283.83 245.78h1.44v5.74h-1.44zM285.25 257.26h1.44v5.74h-1.44zM286.67 263.00h1.44v5.74h-1.44zM288.09 234.30h1.44v11.48h-1.44zM289.51 240.04h1.44v5.74h-1.44zM289.51 303.18h1.44v5.74h-1.44zM290.92 234.30h1.44v11.48h-1.44zM290.92 268.74h1.44v5.74h-1.44zM295.18 240.04h1.44v5.74h-1.44zM296.60 234.30h1.44v5.74h-1.44zM299.44 245.78h1.44v5.74h-1.44zM300.86 234.30h1.44v5.74h-1.44zM303.69 228.56h1.44v5.74h-1.44zM309.37 205.60h1.44v5.74h-1.44zM312.20 314.66h1.44v5.74h-1.44zM316.46 314.66h1.44v5.74h-1.44zM319.30 234.30h1.44v5.74h-1.44zM329.23 245.78h1.44v5.74h-1.44zM329.23 303.18h1.44v5.74h-1.44zM330.65 308.92h1.44v5.74h-1.44zM336.32 245.78h1.44v5.74h-1.44zM337.74 257.26h1.44v5.74h-1.44zM339.16 205.60h1.44v5.74h-1.44zM343.42 234.30h1.44v5.74h-1.44zM347.67 222.82h1.44v5.74h-1.44zM347.67 291.70h1.44v5.74h-1.44zM350.51 263.00h1.44v5.74h-1.44zM351.93 263.00h1.44v5.74h-1.44zM357.60 205.60h1.44v5.74h-1.44zM366.12 222.82h1.44v5.74h-1.44zM366.12 297.44h1.44v11.48h-1.44zM367.53 245.78h1.44v5.74h-1.44zM370.37 205.60h1.44v5.74h-1.44zM371.79 274.48h1.44v5.74h-1.44zM381.72 240.04h1.44v5.74h-1.44zM384.56 240.04h1.44v5.74h-1.44zM385.98 228.56h1.44v5.74h-1.44zM385.98 240.04h1.44v5.74h-1.44zM385.98 308.92h1.44v5.74h-1.44zM387.40 205.60h1.44v5.74h-1.44zM397.33 217.08h1.44v5.74h-1.44zM397.33 251.52h1.44v5.74h-1.44zM400.16 245.78h1.44v5.74h-1.44zM403.00 240.04h1.44v5.74h-1.44zM403.00 280.22h1.44v5.74h-1.44zM404.42 240.04h1.44v5.74h-1.44zM404.42 263.00h1.44v5.74h-1.44zM404.42 308.92h1.44v5.74h-1.44zM407.26 234.30h1.44v5.74h-1.44zM408.68 274.48h1.44v5.74h-1.44zM408.68 291.70h1.44v5.74h-1.44zM411.51 205.60h1.44v5.74h-1.44zM414.35 211.34h1.44v5.74h-1.44zM414.35 251.52h1.44v5.74h-1.44zM414.35 314.66h1.44v5.74h-1.44zM415.77 274.48h1.44v5.74h-1.44zM417.19 245.78h1.44v5.74h-1.44zM417.19 257.26h1.44v5.74h-1.44zM418.61 257.26h1.44v5.74h-1.44zM418.61 308.92h1.44v11.48h-1.44zM420.03 280.22h1.44v5.74h-1.44zM421.44 240.04h1.44v5.74h-1.44zM421.44 268.74h1.44v5.74h-1.44zM422.86 308.92h1.44v5.74h-1.44zM424.28 274.48h1.44v5.74h-1.44zM428.54 217.08h1.44v5.74h-1.44zM429.96 245.78h1.44v5.74h-1.44zM429.96 303.18h1.44v5.74h-1.44zM431.38 240.04h1.44v5.74h-1.44zM432.79 217.08h1.44v5.74h-1.44zM434.21 211.34h1.44v17.22h-1.44z"/>
<path fill="#d8d6e9" d="M275.32 240.04h1.44v5.74h-1.44zM275.32 280.22h1.44v5.74h-1.44zM278.16 274.48h1.44v5.74h-1.44zM279.57 280.22h1.44v5.74h-1.44zM279.57 303.18h1.44v5.74h-1.44zM282.41 280.22h1.44v5.74h-1.44zM283.83 303.18h1.44v5.74h-1.44zM285.25 297.44h1.44v5.74h-1.44zM288.09 251.52h1.44v5.74h-1.44zM290.92 291.70h1.44v5.74h-1.44zM292.34 303.18h1.44v5.74h-1.44zM293.76 280.22h1.44v5.74h-1.44zM296.60 274.48h1.44v5.74h-1.44zM299.44 257.26h1.44v5.74h-1.44zM299.44 297.44h1.44v5.74h-1.44zM300.86 308.92h1.44v5.74h-1.44zM302.27 285.96h1.44v5.74h-1.44zM302.27 308.92h1.44v5.74h-1.44zM305.11 251.52h1.44v5.74h-1.44zM306.53 285.96h1.44v5.74h-1.44zM306.53 303.18h1.44v5.74h-1.44zM310.79 240.04h1.44v5.74h-1.44zM312.20 285.96h1.44v5.74h-1.44zM313.62 228.56h1.44v11.48h-1.44zM313.62 268.74h1.44v5.74h-1.44zM313.62 297.44h1.44v5.74h-1.44zM313.62 308.92h1.44v5.74h-1.44zM315.04 222.82h1.44v5.74h-1.44zM315.04 263.00h1.44v5.74h-1.44zM315.04 291.70h1.44v11.48h-1.44zM316.46 245.78h1.44v5.74h-1.44zM316.46 291.70h1.44v5.74h-1.44zM316.46 308.92h1.44v5.74h-1.44zM320.72 217.08h1.44v5.74h-1.44zM320.72 228.56h1.44v5.74h-1.44zM322.14 291.70h1.44v5.74h-1.44zM323.55 211.34h1.44v5.74h-1.44zM323.55 274.48h1.44v11.48h-1.44zM323.55 314.66h1.44v5.74h-1.44zM324.97 308.92h1.44v5.74h-1.44zM326.39 222.82h1.44v5.74h-1.44zM327.81 314.66h1.44v5.74h-1.44zM330.65 217.08h1.44v5.74h-1.44zM330.65 314.66h1.44v5.74h-1.44zM332.07 280.22h1.44v5.74h-1.44zM333.49 217.08h1.44v5.74h-1.44zM333.49 280.22h1.44v5.74h-1.44zM334.90 211.34h1.44v5.74h-1.44zM339.16 217.08h1.44v5.74h-1.44zM339.16 285.96h1.44v5.74h-1.44zM340.58 274.48h1.44v5.74h-1.44zM340.58 291.70h1.44v5.74h-1.44zM342.00 257.26h1.44v5.74h-1.44zM343.42 217.08h1.44v5.74h-1.44zM343.42 308.92h1.44v5.74h-1.44zM344.83 211.34h1.44v5.74h-1.44zM344.83 263.00h1.44v11.48h-1.44zM346.25 291.70h1.44v5.74h-1.44zM347.67 280.22h1.44v5.74h-1.44zM347.67 308.92h1.44v5.74h-1.44zM349.09 257.26h1.44v5.74h-1.44zM349.09 285.96h1.44v5.74h-1.44zM349.09 297.44h1.44v5.74h-1.44zM350.51 228.56h1.44v5.74h-1.44zM350.51 285.96h1.44v5.74h-1.44zM350.51 314.66h1.44v5.74h-1.44zM351.93 234.30h1.44v5.74h-1.44zM351.93 314.66h1.44v5.74h-1.44zM353.35 217.08h1.44v5.74h-1.44zM353.35 245.78h1.44v5.74h-1.44zM356.18 217.08h1.44v5.74h-1.44zM357.60 228.56h1.44v5.74h-1.44zM357.60 280.22h1.44v5.74h-1.44zM359.02 291.70h1.44v5.74h-1.44zM363.28 217.08h1.44v11.48h-1.44zM363.28 245.78h1.44v11.48h-1.44zM364.70 297.44h1.44v5.74h-1.44zM371.79 268.74h1.44v5.74h-1.44zM371.79 291.70h1.44v5.74h-1.44zM373.21 263.00h1.44v5.74h-1.44zM374.63 268.74h1.44v5.74h-1.44zM374.63 280.22h1.44v5.74h-1.44zM378.88 234.30h1.44v5.74h-1.44zM380.30 308.92h1.44v5.74h-1.44zM381.72 222.82h1.44v5.74h-1.44zM384.56 217.08h1.44v5.74h-1.44zM384.56 251.52h1.44v5.74h-1.44zM384.56 285.96h1.44v5.74h-1.44zM384.56 303.18h1.44v5.74h-1.44zM385.98 217.08h1.44v5.74h-1.44zM385.98 251.52h1.44v5.74h-1.44zM387.40 245.78h1.44v5.74h-1.44zM387.40 268.74h1.44v5.74h-1.44zM387.40 280.22h1.44v5.74h-1.44zM387.40 303.18h1.44v5.74h-1.44zM388.81 205.60h1.44v5.74h-1.44zM388.81 268.74h1.44v5.74h-1.44zM388.81 285.96h1.44v5.74h-1.44zM390.23 228.56h1.44v5.74h-1.44zM390.23 308.92h1.44v11.48h-1.44zM391.65 240.04h1.44v5.74h-1.44zM391.65 263.00h1.44v5.74h-1.44zM393.07 280.22h1.44v5.74h-1.44zM394.49 217.08h1.44v5.74h-1.44zM394.49 240.04h1.44v5.74h-1.44zM394.49 274.48h1.44v5.74h-1.44zM394.49 291.70h1.44v5.74h-1.44zM394.49 308.92h1.44v11.48h-1.44zM397.33 205.60h1.44v5.74h-1.44zM397.33 308.92h1.44v5.74h-1.44zM398.75 257.26h1.44v5.74h-1.44zM398.75 274.48h1.44v5.74h-1.44zM398.75 285.96h1.44v5.74h-1.44zM400.16 211.34h1.44v5.74h-1.44zM400.16 291.70h1.44v11.48h-1.44zM400.16 308.92h1.44v5.74h-1.44zM401.58 234.30h1.44v11.48h-1.44zM401.58 274.48h1.44v5.74h-1.44zM417.19 222.82h1.44v5.74h-1.44zM418.61 211.34h1.44v5.74h-1.44z"/>
<path fill="#d1cfe5" d="M275.32 285.96h1.44v5.74h-1.44zM276.74 217.08h1.44v5.74h-1.44zM276.74 291.70h1.44v5.74h-1.44zM279.57 257.26h1.44v5.74h-1.44zM280.99 205.60h1.44v5.74h-1.44zM282.41 285.96h1.44v5.74h-1.44zM283.83 228.56h1.44v5.74h-1.44zM285.25 291.70h1.44v5.74h-1.44zM290.92 211.34h1.44v5.74h-1.44zM296.60 217.08h1.44v5.74h-1.44zM298.02 280.22h1.44v5.74h-1.44zM303.69 205.60h1.44v5.74h-1.44zM303.69 297.44h1.44v5.74h-1.44zM305.11 297.44h1.44v5.74h-1.44zM307.95 251.52h1.44v5.74h-1.44zM310.79 251.52h1.44v5.74h-1.44zM310.79 291.70h1.44v5.74h-1.44zM312.20 291.70h1.44v17.22h-1.44zM313.62 211.34h1.44v5.74h-1.44zM313.62 263.00h1.44v5.74h-1.44zM313.62 291.70h1.44v5.74h-1.44zM315.04 217.08h1.44v5.74h-1.44zM315.04 251.52h1.44v5.74h-1.44zM315.04 268.74h1.44v5.74h-1.44zM316.46 205.60h1.44v5.74h-1.44zM316.46 222.82h1.44v5.74h-1.44zM316.46 297.44h1.44v5.74h-1.44zM320.72 211.34h1.44v5.74h-1.44zM322.14 211.34h1.44v5.74h-1.44zM322.14 274.48h1.44v5.74h-1.44zM323.55 217.08h1.44v5.74h-1.44zM323.55 257.26h1.44v5.74h-1.44zM323.55 268.74h1.44v5.74h-1.44zM324.97 245.78h1.44v5.74h-1.44zM329.23 280.22h1.44v5.74h-1.44zM332.07 222.82h1.44v5.74h-1.44zM332.07 314.66h1.44v5.74h-1.44zM333.49 263.00h1.44v5.74h-1.44zM333.49 274.48h1.44v5.74h-1.44zM333.49 285.96h1.44v5.74h-1.44zM334.90 268.74h1.44v11.48h-1.44zM334.90 291.70h1.44v5.74h-1.44zM334.90 308.92h1.44v5.74h-1.44zM336.32 257.26h1.44v5.74h-1.44zM336.32 268.74h1.44v5.74h-1.44zM337.74 217.08h1.44v5.74h-1.44zM337.74 285.96h1.44v5.74h-1.44zM339.16 303.18h1.44v5.74h-1.44zM342.00 251.52h1.44v5.74h-1.44zM342.00 297.44h1.44v5.74h-1.44zM347.67 314.66h1.44v5.74h-1.44zM349.09 211.34h1.44v5.74h-1.44zM349.09 274.48h1.44v5.74h-1.44zM350.51 303.18h1.44v5.74h-1.44zM351.93 308.92h1.44v5.74h-1.44zM353.35 228.56h1.44v5.74h-1.44zM353.35 297.44h1.44v5.74h-1.44zM354.77 217.08h1.44v5.74h-1.44zM356.18 228.56h1.44v5.74h-1.44zM356.18 303.18h1.44v5.74h-1.44zM359.02 222.82h1.44v5.74h-1.44zM359.02 263.00h1.44v5.74h-1.44zM360.44 240.04h1.44v11.48h-1.44zM360.44 257.26h1.44v11.48h-1.44zM361.86 234.30h1.44v5.74h-1.44zM361.86 245.78h1.44v5.74h-1.44zM361.86 263.00h1.44v5.74h-1.44zM366.12 280.22h1.44v5.74h-1.44zM368.95 274.48h1.44v11.48h-1.44zM373.21 217.08h1.44v5.74h-1.44zM373.21 228.56h1.44v5.74h-1.44zM373.21 245.78h1.44v5.74h-1.44zM373.21 280.22h1.44v11.48h-1.44zM374.63 263.00h1.44v5.74h-1.44zM374.63 297.44h1.44v5.74h-1.44zM376.05 234.30h1.44v5.74h-1.44zM376.05 268.74h1.44v5.74h-1.44zM376.05 291.70h1.44v5.74h-1.44zM377.47 211.34h1.44v5.74h-1.44zM377.47 257.26h1.44v5.74h-1.44zM377.47 268.74h1.44v5.74h-1.44zM377.47 308.92h1.44v5.74h-1.44zM378.88 297.44h1.44v5.74h-1.44zM380.30 285.96h1.44v5.74h-1.44zM381.72 228.56h1.44v11.48h-1.44zM381.72 291.70h1.44v5.74h-1.44zM381.72 308.92h1.44v5.74h-1.44zM383.14 314.66h1.44v5.74h-1.44zM384.56 274.48h1.44v5.74h-1.44zM385.98 268.74h1.44v5.74h-1.44zM385.98 280.22h1.44v5.74h-1.44zM387.40 240.04h1.44v5.74h-1.44zM387.40 274.48h1.44v5.74h-1.44zM391.65 303.18h1.44v5.74h-1.44zM395.91 205.60h1.44v5.74h-1.44zM398.75 205.60h1.44v5.74h-1.44zM398.75 234.30h1.44v5.74h-1.44zM401.58 211.34h1.44v5.74h-1.44zM401.58 245.78h1.44v5.74h-1.44zM401.58 263.00h1.44v5.74h-1.44zM401.58 297.44h1.44v5.74h-1.44zM418.61 205.60h1.44v5.74h-1.44zM420.03 205.60h1.44v5.74h-1.44zM420.03 228.56h1.44v5.74h-1.44z"/>
<path fill="#dedcec" d="M275.32 291.70h1.44v5.74h-1.44zM276.74 257.26h1.44v5.74h-1.44zM276.74 280.22h1.44v5.74h-1.44zM278.16 251.52h1.44v5.74h-1.44zM278.16 291.70h1.44v5.74h-1.44zM280.99 217.08h1.44v5.74h-1.44zM282.41 257.26h1.44v5.74h-1.44zM283.83 211.34h1.44v5.74h-1.44zM285.25 268.74h1.44v5.74h-1.44zM285.25 303.18h1.44v5.74h-1.44zM293.76 291.70h1.44v5.74h-1.44zM296.60 211.34h1.44v5.74h-1.44zM296.60 222.82h1.44v5.74h-1.44zM296.60 291.70h1.44v5.74h-1.44zM298.02 205.60h1.44v5.74h-1.44zM299.44 217.08h1.44v5.74h-1.44zM299.44 280.22h1.44v5.74h-1.44zM300.86 211.34h1.44v5.74h-1.44zM302.27 205.60h1.44v5.74h-1.44zM302.27 222.82h1.44v5.74h-1.44zM303.69 280.22h1.44v5.74h-1.44zM303.69 303.18h1.44v5.74h-1.44zM305.11 217.08h1.44v11.48h-1.44zM305.11 257.26h1.44v5.74h-1.44zM306.53 251.52h1.44v5.74h-1.44zM307.95 245.78h1.44v5.74h-1.44zM307.95 291.70h1.44v5.74h-1.44zM307.95 303.18h1.44v5.74h-1.44zM312.20 222.82h1.44v5.74h-1.44zM312.20 263.00h1.44v5.74h-1.44zM315.04 228.56h1.44v5.74h-1.44zM317.88 205.60h1.44v5.74h-1.44zM317.88 228.56h1.44v5.74h-1.44zM317.88 297.44h1.44v5.74h-1.44zM320.72 205.60h1.44v5.74h-1.44zM320.72 222.82h1.44v5.74h-1.44zM320.72 251.52h1.44v5.74h-1.44zM320.72 268.74h1.44v5.74h-1.44zM322.14 251.52h1.44v5.74h-1.44zM323.55 234.30h1.44v5.74h-1.44zM323.55 251.52h1.44v5.74h-1.44zM324.97 217.08h1.44v5.74h-1.44zM324.97 228.56h1.44v5.74h-1.44zM326.39 234.30h1.44v5.74h-1.44zM326.39 245.78h1.44v5.74h-1.44zM326.39 257.26h1.44v5.74h-1.44zM327.81 257.26h1.44v5.74h-1.44zM329.23 205.60h1.44v5.74h-1.44zM329.23 251.52h1.44v5.74h-1.44zM330.65 251.52h1.44v5.74h-1.44zM330.65 268.74h1.44v5.74h-1.44zM334.90 222.82h1.44v5.74h-1.44zM336.32 211.34h1.44v5.74h-1.44zM336.32 251.52h1.44v5.74h-1.44zM336.32 303.18h1.44v5.74h-1.44zM337.74 291.70h1.44v5.74h-1.44zM339.16 228.56h1.44v5.74h-1.44zM340.58 251.52h1.44v5.74h-1.44zM342.00 222.82h1.44v5.74h-1.44zM342.00 280.22h1.44v5.74h-1.44zM342.00 308.92h1.44v5.74h-1.44zM343.42 263.00h1.44v5.74h-1.44zM343.42 280.22h1.44v11.48h-1.44zM346.25 205.60h1.44v5.74h-1.44zM346.25 228.56h1.44v5.74h-1.44zM346.25 268.74h1.44v5.74h-1.44zM347.67 228.56h1.44v11.48h-1.44zM347.67 274.48h1.44v5.74h-1.44zM349.09 228.56h1.44v5.74h-1.44zM350.51 205.60h1.44v5.74h-1.44zM350.51 268.74h1.44v5.74h-1.44zM351.93 274.48h1.44v11.48h-1.44zM351.93 303.18h1.44v5.74h-1.44zM353.35 303.18h1.44v5.74h-1.44zM354.77 228.56h1.44v5.74h-1.44zM354.77 308.92h1.44v5.74h-1.44zM356.18 268.74h1.44v5.74h-1.44zM356.18 291.70h1.44v5.74h-1.44zM357.60 211.34h1.44v11.48h-1.44zM357.60 274.48h1.44v5.74h-1.44zM360.44 308.92h1.44v5.74h-1.44zM363.28 240.04h1.44v5.74h-1.44zM363.28 274.48h1.44v5.74h-1.44zM364.70 285.96h1.44v5.74h-1.44zM368.95 263.00h1.44v5.74h-1.44zM371.79 257.26h1.44v5.74h-1.44zM373.21 297.44h1.44v5.74h-1.44zM373.21 308.92h1.44v5.74h-1.44zM374.63 274.48h1.44v5.74h-1.44zM374.63 314.66h1.44v5.74h-1.44zM376.05 303.18h1.44v5.74h-1.44zM377.47 240.04h1.44v5.74h-1.44zM377.47 291.70h1.44v17.22h-1.44zM378.88 222.82h1.44v5.74h-1.44zM380.30 222.82h1.44v5.74h-1.44zM380.30 297.44h1.44v5.74h-1.44zM381.72 263.00h1.44v5.74h-1.44zM383.14 228.56h1.44v5.74h-1.44zM384.56 268.74h1.44v5.74h-1.44zM385.98 245.78h1.44v5.74h-1.44zM388.81 234.30h1.44v5.74h-1.44zM390.23 240.04h1.44v5.74h-1.44zM390.23 257.26h1.44v5.74h-1.44zM391.65 222.82h1.44v5.74h-1.44zM391.65 280.22h1.44v5.74h-1.44zM393.07 297.44h1.44v5.74h-1.44zM394.49 211.34h1.44v5.74h-1.44zM395.91 240.04h1.44v5.74h-1.44zM395.91 263.00h1.44v5.74h-1.44zM397.33 234.30h1.44v5.74h-1.44zM397.33 280.22h1.44v5.74h-1.44zM397.33 297.44h1.44v5.74h-1.44zM398.75 217.08h1.44v5.74h-1.44zM398.75 308.92h1.44v5.74h-1.44zM400.16 251.52h1.44v5.74h-1.44zM400.16 285.96h1.44v5.74h-1.44zM401.58 205.60h1.44v5.74h-1.44zM401.58 314.66h1.44v5.74h-1.44zM420.03 211.34h1.44v5.74h-1.44z"/>
<path fill="#eae9f2" d="M275.32 308.92h1.44v5.74h-1.44zM278.16 308.92h1.44v5.74h-1.44zM279.57 245.78h1.44v5.74h-1.44zM279.57 274.48h1.44v5.74h-1.44zM279.57 314.66h1.44v5.74h-1.44zM282.41 222.82h1.44v11.48h-1.44zM282.41 291.70h1.44v5.74h-1.44zM283.83 308.92h1.44v5.74h-1.44zM285.25 245.78h1.44v5.74h-1.44zM286.67 291.70h1.44v5.74h-1.44zM286.67 314.66h1.44v5.74h-1.44zM289.51 285.96h1.44v5.74h-1.44zM293.76 303.18h1.44v5.74h-1.44zM295.18 274.48h1.44v5.74h-1.44zM296.60 280.22h1.44v5.74h-1.44zM298.02 217.08h1.44v5.74h-1.44zM298.02 285.96h1.44v5.74h-1.44zM298.02 308.92h1.44v5.74h-1.44zM299.44 228.56h1.44v5.74h-1.44zM299.44 263.00h1.44v5.74h-1.44zM300.86 217.08h1.44v5.74h-1.44zM300.86 240.04h1.44v5.74h-1.44zM300.86 303.18h1.44v5.74h-1.44zM302.27 268.74h1.44v5.74h-1.44zM303.69 257.26h1.44v5.74h-1.44zM303.69 268.74h1.44v5.74h-1.44zM305.11 280.22h1.44v11.48h-1.44zM306.53 211.34h1.44v11.48h-1.44zM306.53 280.22h1.44v5.74h-1.44zM309.37 240.04h1.44v5.74h-1.44zM310.79 205.60h1.44v11.48h-1.44zM310.79 285.96h1.44v5.74h-1.44zM312.20 205.60h1.44v5.74h-1.44zM312.20 251.52h1.44v5.74h-1.44zM313.62 314.66h1.44v5.74h-1.44zM315.04 211.34h1.44v5.74h-1.44zM315.04 303.18h1.44v5.74h-1.44zM316.46 234.30h1.44v5.74h-1.44zM316.46 303.18h1.44v5.74h-1.44zM317.88 211.34h1.44v5.74h-1.44zM317.88 263.00h1.44v5.74h-1.44zM319.30 228.56h1.44v5.74h-1.44zM319.30 240.04h1.44v5.74h-1.44zM319.30 280.22h1.44v5.74h-1.44zM320.72 263.00h1.44v5.74h-1.44zM322.14 280.22h1.44v11.48h-1.44zM323.55 205.60h1.44v5.74h-1.44zM323.55 222.82h1.44v5.74h-1.44zM324.97 234.30h1.44v5.74h-1.44zM324.97 268.74h1.44v5.74h-1.44zM324.97 291.70h1.44v5.74h-1.44zM324.97 314.66h1.44v5.74h-1.44zM326.39 263.00h1.44v5.74h-1.44zM327.81 217.08h1.44v5.74h-1.44zM327.81 251.52h1.44v5.74h-1.44zM327.81 285.96h1.44v5.74h-1.44zM329.23 268.74h1.44v5.74h-1.44zM329.23 291.70h1.44v5.74h-1.44zM329.23 314.66h1.44v5.74h-1.44zM330.65 222.82h1.44v5.74h-1.44zM332.07 205.60h1.44v5.74h-1.44zM332.07 297.44h1.44v5.74h-1.44zM333.49 314.66h1.44v5.74h-1.44zM334.90 263.00h1.44v5.74h-1.44zM337.74 211.34h1.44v5.74h-1.44zM337.74 222.82h1.44v11.48h-1.44zM337.74 240.04h1.44v5.74h-1.44zM339.16 314.66h1.44v5.74h-1.44zM340.58 245.78h1.44v5.74h-1.44zM340.58 314.66h1.44v5.74h-1.44zM342.00 217.08h1.44v5.74h-1.44zM344.83 228.56h1.44v5.74h-1.44zM346.25 308.92h1.44v5.74h-1.44zM347.67 297.44h1.44v5.74h-1.44zM349.09 205.60h1.44v5.74h-1.44zM353.35 205.60h1.44v5.74h-1.44zM353.35 257.26h1.44v5.74h-1.44zM354.77 245.78h1.44v5.74h-1.44zM354.77 268.74h1.44v5.74h-1.44zM354.77 291.70h1.44v5.74h-1.44zM356.18 211.34h1.44v5.74h-1.44zM356.18 234.30h1.44v17.22h-1.44zM357.60 251.52h1.44v5.74h-1.44zM357.60 308.92h1.44v5.74h-1.44zM359.02 251.52h1.44v5.74h-1.44zM361.86 205.60h1.44v5.74h-1.44zM361.86 240.04h1.44v5.74h-1.44zM367.53 268.74h1.44v5.74h-1.44zM367.53 280.22h1.44v5.74h-1.44zM368.95 205.60h1.44v5.74h-1.44zM368.95 297.44h1.44v5.74h-1.44zM370.37 251.52h1.44v5.74h-1.44zM370.37 280.22h1.44v5.74h-1.44zM370.37 297.44h1.44v5.74h-1.44zM371.79 228.56h1.44v5.74h-1.44zM373.21 251.52h1.44v5.74h-1.44zM373.21 274.48h1.44v5.74h-1.44zM373.21 314.66h1.44v5.74h-1.44zM376.05 274.48h1.44v5.74h-1.44zM377.47 234.30h1.44v5.74h-1.44zM377.47 245.78h1.44v5.74h-1.44zM383.14 234.30h1.44v5.74h-1.44zM383.14 268.74h1.44v5.74h-1.44zM384.56 222.82h1.44v5.74h-1.44zM384.56 234.30h1.44v5.74h-1.44zM385.98 285.96h1.44v5.74h-1.44zM385.98 303.18h1.44v5.74h-1.44zM387.40 314.66h1.44v5.74h-1.44zM388.81 257.26h1.44v5.74h-1.44zM388.81 280.22h1.44v5.74h-1.44zM388.81 314.66h1.44v5.74h-1.44zM390.23 205.60h1.44v5.74h-1.44zM391.65 217.08h1.44v5.74h-1.44zM391.65 228.56h1.44v5.74h-1.44zM393.07 274.48h1.44v5.74h-1.44zM393.07 291.70h1.44v5.74h-1.44zM394.49 268.74h1.44v5.74h-1.44zM395.91 211.34h1.44v5.74h-1.44zM395.91 274.48h1.44v5.74h-1.44zM398.75 251.52h1.44v5.74h-1.44zM398.75 268.74h1.44v5.74h-1.44zM400.16 205.60h1.44v5.74h-1.44zM400.16 228.56h1.44v5.74h-1.44zM400.16 280.22h1.44v5.74h-1.44zM401.58 222.82h1.44v5.74h-1.44zM403.00 217.08h1.44v17.22h-1.44zM403.00 291.70h1.44v5.74h-1.44zM404.42 257.26h1.44v5.74h-1.44zM410.10 245.78h1.44v5.74h-1.44zM414.35 240.04h1.44v5.74h-1.44zM418.61 217.08h1.44v5.74h-1.44zM424.28 217.08h1.44v5.74h-1.44z"/>
<path fill="#adabd2" d="M276.74 285.96h1.44v5.74h-1.44zM276.74 314.66h1.44v5.74h-1.44zM295.18 217.08h1.44v5.74h-1.44zM303.69 222.82h1.44v5.74h-1.44zM306.53 274.48h1.44v5.74h-1.44zM306.53 308.92h1.44v5.74h-1.44zM307.95 274.48h1.44v5.74h-1.44zM315.04 257.26h1.44v5.74h-1.44zM320.72 297.44h1.44v5.74h-1.44zM324.97 297.44h1.44v5.74h-1.44zM327.81 280.22h1.44v5.74h-1.44zM339.16 280.22h1.44v5.74h-1.44zM346.25 257.26h1.44v5.74h-1.44zM354.77 297.44h1.44v5.74h-1.44zM360.44 285.96h1.44v5.74h-1.44zM360.44 303.18h1.44v5.74h-1.44zM361.86 211.34h1.44v5.74h-1.44zM363.28 257.26h1.44v5.74h-1.44zM371.79 285.96h1.44v5.74h-1.44zM374.63 211.34h1.44v11.48h-1.44zM374.63 245.78h1.44v11.48h-1.44zM378.88 228.56h1.44v5.74h-1.44zM378.88 240.04h1.44v5.74h-1.44zM380.30 291.70h1.44v5.74h-1.44zM384.56 291.70h1.44v5.74h-1.44zM385.98 211.34h1.44v5.74h-1.44zM395.91 280.22h1.44v5.74h-1.44z"/>
<path fill="#f0c5be" d="M278.16 263.00h1.44v5.74h-1.44zM282.41 240.04h1.44v5.74h-1.44zM286.67 280.22h1.44v5.74h-1.44zM289.51 205.60h1.44v5.74h-1.44zM290.92 205.60h1.44v5.74h-1.44zM293.76 257.26h1.44v5.74h-1.44zM298.02 263.00h1.44v5.74h-1.44zM300.86 263.00h1.44v5.74h-1.44zM332.07 234.30h1.44v5.74h-1.44zM336.32 263.00h1.44v5.74h-1.44zM347.67 217.08h1.44v5.74h-1.44zM366.12 257.26h1.44v5.74h-1.44zM367.53 205.60h1.44v5.74h-1.44zM367.53 257.26h1.44v5.74h-1.44zM370.37 240.04h1.44v5.74h-1.44zM370.37 257.26h1.44v5.74h-1.44zM370.37 268.74h1.44v5.74h-1.44zM403.00 285.96h1.44v5.74h-1.44zM403.00 297.44h1.44v5.74h-1.44zM404.42 280.22h1.44v5.74h-1.44zM405.84 263.00h1.44v5.74h-1.44zM408.68 251.52h1.44v5.74h-1.44zM411.51 245.78h1.44v5.74h-1.44zM411.51 268.74h1.44v5.74h-1.44zM411.51 285.96h1.44v5.74h-1.44zM412.93 240.04h1.44v5.74h-1.44zM412.93 314.66h1.44v5.74h-1.44zM415.77 268.74h1.44v5.74h-1.44zM417.19 303.18h1.44v5.74h-1.44zM420.03 297.44h1.44v5.74h-1.44zM421.44 245.78h1.44v5.74h-1.44zM421.44 263.00h1.44v5.74h-1.44zM421.44 285.96h1.44v5.74h-1.44zM421.44 303.18h1.44v11.48h-1.44zM422.86 222.82h1.44v5.74h-1.44zM422.86 257.26h1.44v11.48h-1.44zM424.28 205.60h1.44v5.74h-1.44zM425.70 240.04h1.44v5.74h-1.44zM425.70 251.52h1.44v5.74h-1.44zM427.12 217.08h1.44v5.74h-1.44zM428.54 205.60h1.44v5.74h-1.44zM431.38 245.78h1.44v5.74h-1.44zM431.38 257.26h1.44v5.74h-1.44zM431.38 280.22h1.44v5.74h-1.44zM431.38 291.70h1.44v5.74h-1.44zM431.38 314.66h1.44v5.74h-1.44zM432.79 268.74h1.44v5.74h-1.44z"/>
<path fill="#bcbada" d="M278.16 285.96h1.44v5.74h-1.44zM279.57 285.96h1.44v5.74h-1.44zM285.25 280.22h1.44v5.74h-1.44zM286.67 268.74h1.44v5.74h-1.44zM296.60 245.78h1.44v5.74h-1.44zM296.60 285.96h1.44v5.74h-1.44zM300.86 285.96h1.44v5.74h-1.44zM305.11 268.74h1.44v5.74h-1.44zM305.11 303.18h1.44v5.74h-1.44zM306.53 222.82h1.44v5.74h-1.44zM307.95 308.92h1.44v5.74h-1.44zM309.37 297.44h1.44v5.74h-1.44zM312.20 211.34h1.44v5.74h-1.44zM313.62 205.60h1.44v5.74h-1.44zM315.04 280.22h1.44v5.74h-1.44zM317.88 280.22h1.44v5.74h-1.44zM319.30 291.70h1.44v5.74h-1.44zM322.14 217.08h1.44v5.74h-1.44zM322.14 314.66h1.44v5.74h-1.44zM324.97 274.48h1.44v5.74h-1.44zM326.39 303.18h1.44v5.74h-1.44zM327.81 268.74h1.44v5.74h-1.44zM329.23 285.96h1.44v5.74h-1.44zM332.07 274.48h1.44v5.74h-1.44zM339.16 234.30h1.44v5.74h-1.44zM340.58 217.08h1.44v5.74h-1.44zM342.00 240.04h1.44v5.74h-1.44zM343.42 274.48h1.44v5.74h-1.44zM344.83 285.96h1.44v5.74h-1.44zM347.67 268.74h1.44v5.74h-1.44zM347.67 303.18h1.44v5.74h-1.44zM349.09 268.74h1.44v5.74h-1.44zM349.09 303.18h1.44v5.74h-1.44zM350.51 245.78h1.44v5.74h-1.44zM353.35 314.66h1.44v5.74h-1.44zM354.77 314.66h1.44v5.74h-1.44zM356.18 274.48h1.44v5.74h-1.44zM357.60 268.74h1.44v5.74h-1.44zM360.44 251.52h1.44v5.74h-1.44zM360.44 268.74h1.44v5.74h-1.44zM360.44 280.22h1.44v5.74h-1.44zM361.86 308.92h1.44v11.48h-1.44zM363.28 211.34h1.44v5.74h-1.44zM363.28 291.70h1.44v5.74h-1.44zM364.70 280.22h1.44v5.74h-1.44zM364.70 291.70h1.44v5.74h-1.44zM373.21 303.18h1.44v5.74h-1.44zM376.05 217.08h1.44v5.74h-1.44zM377.47 314.66h1.44v5.74h-1.44zM378.88 274.48h1.44v5.74h-1.44zM378.88 285.96h1.44v11.48h-1.44zM378.88 308.92h1.44v5.74h-1.44zM381.72 297.44h1.44v5.74h-1.44zM381.72 314.66h1.44v5.74h-1.44zM383.14 251.52h1.44v5.74h-1.44zM383.14 263.00h1.44v5.74h-1.44zM383.14 297.44h1.44v5.74h-1.44zM385.98 291.70h1.44v5.74h-1.44zM390.23 245.78h1.44v5.74h-1.44zM390.23 274.48h1.44v5.74h-1.44zM391.65 314.66h1.44v5.74h-1.44zM397.33 285.96h1.44v5.74h-1.44zM400.16 303.18h1.44v5.74h-1.44zM401.58 285.96h1.44v5.74h-1.44z"/>
<path fill="#c3c1dd" d="M279.57 217.08h1.44v5.74h-1.44zM280.99 291.70h1.44v11.48h-1.44zM283.83 257.26h1.44v5.74h-1.44zM283.83 280.22h1.44v5.74h-1.44zM283.83 291.70h1.44v11.48h-1.44zM292.34 291.70h1.44v5.74h-1.44zM298.02 303.18h1.44v5.74h-1.44zM302.27 291.70h1.44v5.74h-1.44zM306.53 257.26h1.44v5.74h-1.44zM306.53 268.74h1.44v5.74h-1.44zM310.79 222.82h1.44v5.74h-1.44zM310.79 308.92h1.44v5.74h-1.44zM312.20 234.30h1.44v5.74h-1.44zM315.04 205.60h1.44v5.74h-1.44zM315.04 285.96h1.44v5.74h-1.44zM316.46 257.26h1.44v5.74h-1.44zM316.46 280.22h1.44v11.48h-1.44zM317.88 308.92h1.44v5.74h-1.44zM319.30 211.34h1.44v5.74h-1.44zM319.30 257.26h1.44v5.74h-1.44zM319.30 297.44h1.44v5.74h-1.44zM320.72 314.66h1.44v5.74h-1.44zM322.14 257.26h1.44v5.74h-1.44zM322.14 297.44h1.44v5.74h-1.44zM322.14 308.92h1.44v5.74h-1.44zM324.97 257.26h1.44v5.74h-1.44zM324.97 280.22h1.44v5.74h-1.44zM326.39 285.96h1.44v5.74h-1.44zM327.81 308.92h1.44v5.74h-1.44zM330.65 274.48h1.44v5.74h-1.44zM334.90 251.52h1.44v5.74h-1.44zM334.90 280.22h1.44v5.74h-1.44zM334.90 297.44h1.44v5.74h-1.44zM339.16 257.26h1.44v5.74h-1.44zM339.16 297.44h1.44v5.74h-1.44zM340.58 222.82h1.44v5.74h-1.44zM343.42 228.56h1.44v5.74h-1.44zM343.42 297.44h1.44v5.74h-1.44zM344.83 303.18h1.44v5.74h-1.44zM346.25 297.44h1.44v5.74h-1.44zM347.67 285.96h1.44v5.74h-1.44zM350.51 280.22h1.44v5.74h-1.44zM351.93 245.78h1.44v5.74h-1.44zM351.93 285.96h1.44v5.74h-1.44zM354.77 211.34h1.44v5.74h-1.44zM354.77 274.48h1.44v5.74h-1.44zM356.18 285.96h1.44v5.74h-1.44zM357.60 234.30h1.44v5.74h-1.44zM357.60 291.70h1.44v5.74h-1.44zM359.02 240.04h1.44v5.74h-1.44zM359.02 257.26h1.44v5.74h-1.44zM361.86 274.48h1.44v5.74h-1.44zM361.86 285.96h1.44v5.74h-1.44zM363.28 285.96h1.44v5.74h-1.44zM364.70 308.92h1.44v5.74h-1.44zM371.79 217.08h1.44v5.74h-1.44zM374.63 285.96h1.44v5.74h-1.44zM376.05 257.26h1.44v5.74h-1.44zM377.47 274.48h1.44v5.74h-1.44zM380.30 211.34h1.44v5.74h-1.44zM380.30 245.78h1.44v5.74h-1.44zM380.30 263.00h1.44v5.74h-1.44zM384.56 297.44h1.44v5.74h-1.44zM385.98 274.48h1.44v5.74h-1.44zM390.23 285.96h1.44v5.74h-1.44zM391.65 205.60h1.44v5.74h-1.44zM395.91 268.74h1.44v5.74h-1.44zM395.91 297.44h1.44v5.74h-1.44zM395.91 308.92h1.44v5.74h-1.44zM398.75 263.00h1.44v5.74h-1.44zM400.16 263.00h1.44v5.74h-1.44zM400.16 274.48h1.44v5.74h-1.44zM401.58 228.56h1.44v5.74h-1.44zM401.58 280.22h1.44v5.74h-1.44z"/>
<path fill="#b4b2d6" d="M280.99 285.96h1.44v5.74h-1.44zM285.25 314.66h1.44v5.74h-1.44zM295.18 297.44h1.44v5.74h-1.44zM298.02 291.70h1.44v5.74h-1.44zM300.86 268.74h1.44v5.74h-1.44zM305.11 274.48h1.44v5.74h-1.44zM305.11 314.66h1.44v5.74h-1.44zM306.53 245.78h1.44v5.74h-1.44zM310.79 274.48h1.44v5.74h-1.44zM313.62 280.22h1.44v5.74h-1.44zM316.46 217.08h1.44v5.74h-1.44zM323.55 303.18h1.44v5.74h-1.44zM324.97 303.18h1.44v5.74h-1.44zM332.07 285.96h1.44v5.74h-1.44zM333.49 291.70h1.44v5.74h-1.44zM339.16 211.34h1.44v5.74h-1.44zM340.58 268.74h1.44v5.74h-1.44zM340.58 285.96h1.44v5.74h-1.44zM340.58 297.44h1.44v5.74h-1.44zM340.58 308.92h1.44v5.74h-1.44zM343.42 257.26h1.44v5.74h-1.44zM343.42 268.74h1.44v5.74h-1.44zM344.83 257.26h1.44v5.74h-1.44zM346.25 274.48h1.44v5.74h-1.44zM350.51 308.92h1.44v5.74h-1.44zM359.02 211.34h1.44v5.74h-1.44zM359.02 245.78h1.44v5.74h-1.44zM359.02 303.18h1.44v5.74h-1.44zM359.02 314.66h1.44v5.74h-1.44zM360.44 228.56h1.44v5.74h-1.44zM360.44 291.70h1.44v5.74h-1.44zM361.86 291.70h1.44v5.74h-1.44zM363.28 263.00h1.44v5.74h-1.44zM363.28 303.18h1.44v5.74h-1.44zM363.28 314.66h1.44v5.74h-1.44zM364.70 314.66h1.44v5.74h-1.44zM374.63 234.30h1.44v5.74h-1.44zM374.63 257.26h1.44v5.74h-1.44zM377.47 228.56h1.44v5.74h-1.44zM381.72 274.48h1.44v5.74h-1.44zM383.14 274.48h1.44v5.74h-1.44zM383.14 308.92h1.44v5.74h-1.44zM384.56 211.34h1.44v5.74h-1.44zM384.56 280.22h1.44v5.74h-1.44zM388.81 274.48h1.44v5.74h-1.44zM390.23 268.74h1.44v5.74h-1.44zM390.23 303.18h1.44v5.74h-1.44zM394.49 280.22h1.44v5.74h-1.44zM394.49 297.44h1.44v5.74h-1.44zM400.16 257.26h1.44v5.74h-1.44zM401.58 303.18h1.44v11.48h-1.44z"/>
<path fill="#a6a4ce" d="M280.99 303.18h1.44v5.74h-1.44zM299.44 303.18h1.44v5.74h-1.44zM303.69 291.70h1.44v5.74h-1.44zM306.53 291.70h1.44v5.74h-1.44zM306.53 314.66h1.44v5.74h-1.44zM309.37 280.22h1.44v5.74h-1.44zM309.37 308.92h1.44v5.74h-1.44zM310.79 280.22h1.44v5.74h-1.44zM312.20 217.08h1.44v5.74h-1.44zM313.62 251.52h1.44v5.74h-1.44zM315.04 274.48h1.44v5.74h-1.44zM315.04 308.92h1.44v5.74h-1.44zM316.46 228.56h1.44v5.74h-1.44zM319.30 268.74h1.44v5.74h-1.44zM320.72 285.96h1.44v5.74h-1.44zM323.55 297.44h1.44v5.74h-1.44zM330.65 285.96h1.44v5.74h-1.44zM336.32 291.70h1.44v5.74h-1.44zM342.00 268.74h1.44v5.74h-1.44zM342.00 285.96h1.44v5.74h-1.44zM349.09 280.22h1.44v5.74h-1.44zM353.35 285.96h1.44v5.74h-1.44zM353.35 308.92h1.44v5.74h-1.44zM354.77 251.52h1.44v5.74h-1.44zM356.18 280.22h1.44v5.74h-1.44zM359.02 297.44h1.44v5.74h-1.44zM361.86 257.26h1.44v5.74h-1.44zM374.63 303.18h1.44v5.74h-1.44zM377.47 285.96h1.44v5.74h-1.44zM378.88 211.34h1.44v5.74h-1.44zM378.88 251.52h1.44v5.74h-1.44zM387.40 285.96h1.44v5.74h-1.44zM397.33 257.26h1.44v5.74h-1.44zM401.58 257.26h1.44v5.74h-1.44z"/>
<path fill="#edb9b1" d="M285.25 205.60h1.44v5.74h-1.44zM286.67 217.08h1.44v5.74h-1.44zM290.92 263.00h1.44v5.74h-1.44zM302.27 234.30h1.44v5.74h-1.44zM368.95 228.56h1.44v5.74h-1.44zM383.14 240.04h1.44v5.74h-1.44zM404.42 251.52h1.44v5.74h-1.44zM404.42 314.66h1.44v5.74h-1.44zM405.84 303.18h1.44v5.74h-1.44zM407.26 303.18h1.44v5.74h-1.44zM408.68 263.00h1.44v5.74h-1.44zM408.68 285.96h1.44v5.74h-1.44zM410.10 303.18h1.44v5.74h-1.44zM411.51 251.52h1.44v5.74h-1.44zM411.51 314.66h1.44v5.74h-1.44zM412.93 222.82h1.44v5.74h-1.44zM412.93 263.00h1.44v11.48h-1.44zM414.35 274.48h1.44v5.74h-1.44zM415.77 291.70h1.44v5.74h-1.44zM415.77 303.18h1.44v5.74h-1.44zM418.61 297.44h1.44v5.74h-1.44zM420.03 303.18h1.44v5.74h-1.44zM421.44 205.60h1.44v5.74h-1.44zM422.86 245.78h1.44v5.74h-1.44zM422.86 291.70h1.44v5.74h-1.44zM424.28 211.34h1.44v5.74h-1.44zM424.28 245.78h1.44v11.48h-1.44zM424.28 308.92h1.44v11.48h-1.44zM425.70 234.30h1.44v5.74h-1.44zM425.70 285.96h1.44v5.74h-1.44zM428.54 245.78h1.44v5.74h-1.44zM428.54 257.26h1.44v11.48h-1.44zM428.54 280.22h1.44v5.74h-1.44zM429.96 274.48h1.44v5.74h-1.44zM432.79 205.60h1.44v11.48h-1.44zM432.79 222.82h1.44v5.74h-1.44zM432.79 257.26h1.44v5.74h-1.44zM432.79 274.48h1.44v5.74h-1.44zM434.21 205.60h1.44v5.74h-1.44zM434.21 251.52h1.44v5.74h-1.44z"/>
<path fill="#7d7cb4" d="M296.60 314.66h1.44v5.74h-1.44zM302.27 314.66h1.44v5.74h-1.44zM342.00 274.48h1.44v5.74h-1.44zM357.60 297.44h1.44v5.74h-1.44zM378.88 314.66h1.44v5.74h-1.44zM381.72 211.34h1.44v5.74h-1.44zM381.72 268.74h1.44v5.74h-1.44z"/>
<path fill="#4e4e96" d="M298.02 314.66h1.44v5.74h-1.44zM299.44 314.66h1.44v5.74h-1.44z"/>
<path fill="#8886bb" d="M300.86 314.66h1.44v5.74h-1.44zM316.46 274.48h1.44v5.74h-1.44zM319.30 303.18h1.44v5.74h-1.44zM354.77 285.96h1.44v5.74h-1.44zM359.02 234.30h1.44v5.74h-1.44zM360.44 211.34h1.44v5.74h-1.44zM360.44 274.48h1.44v5.74h-1.44zM363.28 297.44h1.44v5.74h-1.44zM377.47 217.08h1.44v5.74h-1.44zM380.30 217.08h1.44v5.74h-1.44zM380.30 268.74h1.44v5.74h-1.44zM383.14 280.22h1.44v5.74h-1.44z"/>
<path fill="#9290c1" d="M303.69 314.66h1.44v5.74h-1.44zM312.20 274.48h1.44v5.74h-1.44zM313.62 217.08h1.44v5.74h-1.44zM313.62 274.48h1.44v5.74h-1.44zM315.04 245.78h1.44v5.74h-1.44zM326.39 268.74h1.44v5.74h-1.44zM346.25 285.96h1.44v5.74h-1.44zM350.51 274.48h1.44v5.74h-1.44zM354.77 280.22h1.44v5.74h-1.44zM359.02 308.92h1.44v5.74h-1.44zM360.44 217.08h1.44v5.74h-1.44zM360.44 297.44h1.44v5.74h-1.44zM378.88 268.74h1.44v5.74h-1.44zM378.88 303.18h1.44v5.74h-1.44zM380.30 280.22h1.44v5.74h-1.44zM380.30 314.66h1.44v5.74h-1.44zM383.14 211.34h1.44v5.74h-1.44zM401.58 291.70h1.44v5.74h-1.44z"/>
<path fill="#e28c7e" d="M307.95 234.30h1.44v5.74h-1.44zM405.84 291.70h1.44v5.74h-1.44zM407.26 285.96h1.44v5.74h-1.44zM421.44 257.26h1.44v5.74h-1.44zM421.44 314.66h1.44v5.74h-1.44zM425.70 245.78h1.44v5.74h-1.44zM425.70 297.44h1.44v5.74h-1.44zM425.70 308.92h1.44v5.74h-1.44zM427.12 222.82h1.44v5.74h-1.44zM432.79 303.18h1.44v5.74h-1.44z"/>
<path fill="#9c9ac8" d="M307.95 314.66h1.44v5.74h-1.44zM313.62 285.96h1.44v5.74h-1.44zM317.88 274.48h1.44v5.74h-1.44zM319.30 285.96h1.44v5.74h-1.44zM320.72 274.48h1.44v5.74h-1.44zM320.72 303.18h1.44v5.74h-1.44zM327.81 274.48h1.44v5.74h-1.44zM333.49 308.92h1.44v5.74h-1.44zM339.16 268.74h1.44v5.74h-1.44zM340.58 280.22h1.44v5.74h-1.44zM346.25 303.18h1.44v5.74h-1.44zM359.02 217.08h1.44v5.74h-1.44zM359.02 268.74h1.44v5.74h-1.44zM359.02 285.96h1.44v5.74h-1.44zM360.44 314.66h1.44v5.74h-1.44zM363.28 280.22h1.44v5.74h-1.44zM378.88 257.26h1.44v5.74h-1.44zM378.88 280.22h1.44v5.74h-1.44zM381.72 280.22h1.44v5.74h-1.44zM383.14 285.96h1.44v5.74h-1.44zM383.14 303.18h1.44v5.74h-1.44zM401.58 217.08h1.44v5.74h-1.44z"/>
<path fill="#7372ae" d="M309.37 314.66h1.44v5.74h-1.44zM361.86 217.08h1.44v5.74h-1.44zM361.86 303.18h1.44v5.74h-1.44zM398.75 303.18h1.44v5.74h-1.44z"/>
<path fill="#5f5fa1" d="M310.79 314.66h1.44v5.74h-1.44zM326.39 274.48h1.44v5.74h-1.44zM359.02 274.48h1.44v5.74h-1.44z"/>
<path fill="#55559a" d="M356.18 297.44h1.44v5.74h-1.44zM361.86 268.74h1.44v5.74h-1.44z"/>
<path fill="#6968a7" d="M361.86 280.22h1.44v5.74h-1.44zM361.86 297.44h1.44v5.74h-1.44zM378.88 217.08h1.44v5.74h-1.44z"/>
<path fill="#de8274" d="M366.12 263.00h1.44v5.74h-1.44zM411.51 291.70h1.44v5.74h-1.44zM412.93 274.48h1.44v5.74h-1.44zM422.86 205.60h1.44v5.74h-1.44zM422.86 251.52h1.44v5.74h-1.44zM422.86 314.66h1.44v5.74h-1.44zM425.70 280.22h1.44v5.74h-1.44zM425.70 303.18h1.44v5.74h-1.44zM427.12 280.22h1.44v11.48h-1.44zM427.12 297.44h1.44v22.96h-1.44zM428.54 285.96h1.44v5.74h-1.44zM431.38 268.74h1.44v11.48h-1.44zM432.79 245.78h1.44v11.48h-1.44zM432.79 280.22h1.44v5.74h-1.44zM434.21 245.78h1.44v5.74h-1.44zM434.21 268.74h1.44v5.74h-1.44zM434.21 308.92h1.44v5.74h-1.44zM439.89 257.26h1.44v5.74h-1.44zM444.14 211.34h1.44v5.74h-1.44zM445.56 240.04h1.44v5.74h-1.44z"/>
<path fill="#d36356" d="M424.28 303.18h1.44v5.74h-1.44zM434.21 285.96h1.44v5.74h-1.44zM434.21 297.44h1.44v5.74h-1.44zM435.63 205.60h1.44v5.74h-1.44zM435.63 274.48h1.44v11.48h-1.44zM438.47 211.34h1.44v5.74h-1.44zM439.89 222.82h1.44v5.74h-1.44zM439.89 280.22h1.44v5.74h-1.44zM441.31 280.22h1.44v5.74h-1.44zM442.73 285.96h1.44v5.74h-1.44zM444.14 303.18h1.44v5.74h-1.44zM445.56 211.34h1.44v5.74h-1.44zM445.56 257.26h1.44v11.48h-1.44zM446.98 211.34h1.44v5.74h-1.44zM446.98 297.44h1.44v5.74h-1.44z"/>
<path fill="#da786a" d="M425.70 291.70h1.44v5.74h-1.44zM427.12 274.48h1.44v5.74h-1.44zM434.21 240.04h1.44v5.74h-1.44zM434.21 314.66h1.44v5.74h-1.44zM441.31 257.26h1.44v5.74h-1.44z"/>
<path fill="#c84438" d="M432.79 285.96h1.44v5.74h-1.44zM434.21 257.26h1.44v5.74h-1.44zM435.63 211.34h1.44v5.74h-1.44zM435.63 228.56h1.44v5.74h-1.44zM435.63 245.78h1.44v5.74h-1.44zM435.63 297.44h1.44v5.74h-1.44zM437.05 297.44h1.44v5.74h-1.44zM438.47 205.60h1.44v5.74h-1.44zM439.89 234.30h1.44v5.74h-1.44zM439.89 303.18h1.44v5.74h-1.44zM441.31 245.78h1.44v5.74h-1.44zM441.31 285.96h1.44v5.74h-1.44zM442.73 268.74h1.44v17.22h-1.44zM442.73 291.70h1.44v5.74h-1.44zM444.14 205.60h1.44v5.74h-1.44zM444.14 222.82h1.44v11.48h-1.44zM445.56 205.60h1.44v5.74h-1.44zM446.98 217.08h1.44v5.74h-1.44zM446.98 245.78h1.44v5.74h-1.44zM446.98 314.66h1.44v5.74h-1.44z"/>
<path fill="#cf594c" d="M435.63 217.08h1.44v11.48h-1.44zM435.63 268.74h1.44v5.74h-1.44zM437.05 280.22h1.44v5.74h-1.44zM439.89 217.08h1.44v5.74h-1.44zM439.89 240.04h1.44v5.74h-1.44zM441.31 211.34h1.44v5.74h-1.44zM441.31 297.44h1.44v11.48h-1.44zM442.73 211.34h1.44v5.74h-1.44zM442.73 222.82h1.44v5.74h-1.44zM442.73 297.44h1.44v5.74h-1.44zM444.14 217.08h1.44v5.74h-1.44zM444.14 234.30h1.44v5.74h-1.44zM444.14 251.52h1.44v5.74h-1.44zM444.14 263.00h1.44v5.74h-1.44zM444.14 274.48h1.44v5.74h-1.44zM444.14 285.96h1.44v5.74h-1.44zM444.14 297.44h1.44v5.74h-1.44zM445.56 234.30h1.44v5.74h-1.44zM445.56 245.78h1.44v5.74h-1.44zM445.56 268.74h1.44v5.74h-1.44zM445.56 291.70h1.44v11.48h-1.44zM446.98 205.60h1.44v5.74h-1.44zM446.98 222.82h1.44v5.74h-1.44zM446.98 257.26h1.44v22.96h-1.44zM446.98 303.18h1.44v11.48h-1.44z"/>
<path fill="#c43a2e" d="M435.63 234.30h1.44v11.48h-1.44zM435.63 257.26h1.44v5.74h-1.44zM435.63 285.96h1.44v11.48h-1.44zM435.63 303.18h1.44v5.74h-1.44zM435.63 314.66h1.44v5.74h-1.44zM437.05 211.34h1.44v22.96h-1.44zM437.05 240.04h1.44v40.18h-1.44zM437.05 285.96h1.44v11.48h-1.44zM437.05 303.18h1.44v17.22h-1.44zM438.47 217.08h1.44v34.44h-1.44zM438.47 268.74h1.44v45.92h-1.44zM439.89 228.56h1.44v5.74h-1.44zM439.89 251.52h1.44v5.74h-1.44zM439.89 274.48h1.44v5.74h-1.44zM439.89 291.70h1.44v11.48h-1.44zM439.89 308.92h1.44v11.48h-1.44zM441.31 205.60h1.44v5.74h-1.44zM441.31 217.08h1.44v5.74h-1.44zM441.31 228.56h1.44v11.48h-1.44zM441.31 251.52h1.44v5.74h-1.44zM441.31 263.00h1.44v5.74h-1.44zM441.31 274.48h1.44v5.74h-1.44zM441.31 291.70h1.44v5.74h-1.44zM441.31 308.92h1.44v11.48h-1.44zM442.73 217.08h1.44v5.74h-1.44zM442.73 228.56h1.44v5.74h-1.44zM442.73 245.78h1.44v22.96h-1.44zM442.73 308.92h1.44v11.48h-1.44zM444.14 280.22h1.44v5.74h-1.44zM444.14 308.92h1.44v5.74h-1.44zM445.56 274.48h1.44v17.22h-1.44zM445.56 303.18h1.44v5.74h-1.44zM446.98 234.30h1.44v11.48h-1.44zM446.98 251.52h1.44v5.74h-1.44zM446.98 280.22h1.44v17.22h-1.44z"/>
<path fill="#cc4e42" d="M435.63 251.52h1.44v5.74h-1.44zM435.63 263.00h1.44v5.74h-1.44zM435.63 308.92h1.44v5.74h-1.44zM437.05 205.60h1.44v5.74h-1.44zM437.05 234.30h1.44v5.74h-1.44zM438.47 251.52h1.44v17.22h-1.44zM438.47 314.66h1.44v5.74h-1.44zM439.89 205.60h1.44v5.74h-1.44zM439.89 245.78h1.44v5.74h-1.44zM439.89 263.00h1.44v11.48h-1.44zM439.89 285.96h1.44v5.74h-1.44zM441.31 222.82h1.44v5.74h-1.44zM441.31 240.04h1.44v5.74h-1.44zM441.31 268.74h1.44v5.74h-1.44zM442.73 205.60h1.44v5.74h-1.44zM442.73 234.30h1.44v11.48h-1.44zM442.73 303.18h1.44v5.74h-1.44zM444.14 245.78h1.44v5.74h-1.44zM444.14 314.66h1.44v5.74h-1.44zM445.56 217.08h1.44v17.22h-1.44zM445.56 251.52h1.44v5.74h-1.44zM445.56 308.92h1.44v11.48h-1.44zM446.98 228.56h1.44v5.74h-1.44z"/>
<path fill="#d76d60" d="M439.89 211.34h1.44v5.74h-1.44zM444.14 240.04h1.44v5.74h-1.44zM444.14 257.26h1.44v5.74h-1.44zM444.14 268.74h1.44v5.74h-1.44zM444.14 291.70h1.44v5.74h-1.44z"/>
<rect x="273.90" y="198.30" width="174.50" height="4.40" fill="#a33f3b"/>
<rect x="289.90" y="198.30" width="1.00" height="4.40" fill="#e8a234"/>
<rect x="301.20" y="198.30" width="1.00" height="4.40" fill="#e8a234"/>
<rect x="306.30" y="198.30" width="1.10" height="4.40" fill="#e8a234"/>
<rect x="321.90" y="198.30" width="2.60" height="4.40" fill="#e8a234"/>
<rect x="326.20" y="198.30" width="0.90" height="4.40" fill="#e8a234"/>
<rect x="334.90" y="198.30" width="1.00" height="4.40" fill="#e8a234"/>
<rect x="343.60" y="198.30" width="2.00" height="4.40" fill="#e8a234"/>
<rect x="405.60" y="198.30" width="1.30" height="4.40" fill="#e8a234"/>
<rect x="411.25" y="198.30" width="1.85" height="4.40" fill="#e8a234"/>
<rect x="423.10" y="198.30" width="1.90" height="4.40" fill="#e8a234"/>
<rect x="427.50" y="198.30" width="3.10" height="4.40" fill="#e8a234"/>
<rect x="436.90" y="198.30" width="1.20" height="4.40" fill="#e8a234"/>
<rect x="440.00" y="198.30" width="1.25" height="4.40" fill="#e8a234"/>
<rect x="443.10" y="198.30" width="1.90" height="4.40" fill="#e8a234"/>
<path d="M274.22 196.62L274.82 196.62M274.22 196.62L274.22 198.00M274.82 196.62L274.82 198.00M274.52 196.39L275.36 196.39M274.52 196.39L274.52 196.62M275.36 196.39L275.36 198.00M276.82 196.95L277.62 196.95M276.82 196.95L276.82 198.00M277.62 196.95L277.62 198.00M276.01 196.99L277.22 196.99M276.01 196.99L276.01 198.00M277.22 196.99L277.22 196.95M278.20 197.44L278.79 197.44M278.20 197.44L278.20 198.00M278.79 197.44L278.79 198.00M279.54 197.57L280.28 197.57M279.54 197.57L279.54 198.00M280.28 197.57L280.28 198.00M278.50 197.16L279.91 197.16M278.50 197.16L278.50 197.44M279.91 197.16L279.91 197.57M276.62 196.51L279.20 196.51M276.62 196.51L276.62 196.99M279.20 196.51L279.20 197.16M274.94 195.83L277.91 195.83M274.94 195.83L274.94 196.39M277.91 195.83L277.91 196.51M280.98 197.16L281.66 197.16M280.98 197.16L280.98 198.00M281.66 197.16L281.66 198.00M281.32 197.03L282.35 197.03M281.32 197.03L281.32 197.16M282.35 197.03L282.35 198.00M282.83 197.48L283.39 197.48M282.83 197.48L282.83 198.00M283.39 197.48L283.39 198.00M285.42 197.51L286.12 197.51M285.42 197.51L285.42 198.00M286.12 197.51L286.12 198.00M284.67 197.43L285.77 197.43M284.67 197.43L284.67 198.00M285.77 197.43L285.77 197.51M284.10 197.30L285.22 197.30M284.10 197.30L284.10 198.00M285.22 197.30L285.22 197.43M283.11 197.27L284.66 197.27M283.11 197.27L283.11 197.48M284.66 197.27L284.66 197.30M281.83 196.47L283.89 196.47M281.83 196.47L281.83 197.03M283.89 196.47L283.89 197.27M287.89 197.73L288.52 197.73M287.89 197.73L287.89 198.00M288.52 197.73L288.52 198.00M287.44 197.54L288.20 197.54M287.44 197.54L287.44 198.00M288.20 197.54L288.20 197.73M286.76 196.96L287.82 196.96M286.76 196.96L286.76 198.00M287.82 196.96L287.82 197.54M289.33 197.59L290.03 197.59M289.33 197.59L289.33 198.00M290.03 197.59L290.03 198.00M289.68 197.49L290.60 197.49M289.68 197.49L289.68 197.59M290.60 197.49L290.60 198.00M291.18 197.75L291.75 197.75M291.18 197.75L291.18 198.00M291.75 197.75L291.75 198.00M292.44 198.04L293.22 198.04M292.44 198.04L292.44 198.00M293.22 198.04L293.22 198.00M291.46 197.61L292.83 197.61M291.46 197.61L291.46 197.75M292.83 197.61L292.83 198.04M293.95 197.51L294.72 197.51M293.95 197.51L293.95 198.00M294.72 197.51L294.72 198.00M292.15 197.55L294.33 197.55M292.15 197.55L292.15 197.61M294.33 197.55L294.33 197.51M290.14 197.26L293.24 197.26M290.14 197.26L290.14 197.49M293.24 197.26L293.24 197.55M287.29 196.55L291.69 196.55M287.29 196.55L287.29 196.96M291.69 196.55L291.69 197.26M282.86 195.65L289.49 195.65M282.86 195.65L282.86 196.47M289.49 195.65L289.49 196.55M276.42 194.59L286.18 194.59M276.42 194.59L276.42 195.83M286.18 194.59L286.18 195.65M296.04 197.10L296.79 197.10M296.04 197.10L296.04 198.00M296.79 197.10L296.79 198.00M295.40 196.37L296.41 196.37M295.40 196.37L295.40 198.00M296.41 196.37L296.41 197.10M297.51 197.07L298.31 197.07M297.51 197.07L297.51 198.00M298.31 197.07L298.31 198.00M297.91 196.78L299.05 196.78M297.91 196.78L297.91 197.07M299.05 196.78L299.05 198.00M300.25 197.11L300.87 197.11M300.25 197.11L300.25 198.00M300.87 197.11L300.87 198.00M299.57 196.86L300.56 196.86M299.57 196.86L299.57 198.00M300.56 196.86L300.56 197.11M300.07 196.59L301.45 196.59M300.07 196.59L300.07 196.86M301.45 196.59L301.45 198.00M298.48 196.51L300.76 196.51M298.48 196.51L298.48 196.78M300.76 196.51L300.76 196.59M295.91 195.52L299.62 195.52M295.91 195.52L295.91 196.37M299.62 195.52L299.62 196.51M302.23 196.92L302.91 196.92M302.23 196.92L302.23 198.00M302.91 196.92L302.91 198.00M303.77 196.95L304.68 196.95M303.77 196.95L303.77 198.00M304.68 196.95L304.68 198.00M302.57 196.71L304.22 196.71M302.57 196.71L302.57 196.92M304.22 196.71L304.22 196.95M305.38 197.25L305.94 197.25M305.38 197.25L305.38 198.00M305.94 197.25L305.94 198.00M305.66 197.10L306.40 197.10M305.66 197.10L305.66 197.25M306.40 197.10L306.40 198.00M306.03 196.84L307.12 196.84M306.03 196.84L306.03 197.10M307.12 196.84L307.12 198.00M303.39 195.89L306.57 195.89M303.39 195.89L303.39 196.71M306.57 195.89L306.57 196.84M308.46 196.82L309.18 196.82M308.46 196.82L308.46 198.00M309.18 196.82L309.18 198.00M307.83 196.61L308.82 196.61M307.83 196.61L307.83 198.00M308.82 196.61L308.82 196.82M308.33 196.30L310.06 196.30M308.33 196.30L308.33 196.61M310.06 196.30L310.06 198.00M310.77 197.12L311.37 197.12M310.77 197.12L310.77 198.00M311.37 197.12L311.37 198.00M312.10 197.15L312.67 197.15M312.10 197.15L312.10 198.00M312.67 197.15L312.67 198.00M311.07 196.57L312.39 196.57M311.07 196.57L311.07 197.12M312.39 196.57L312.39 197.15M309.20 196.02L311.73 196.02M309.20 196.02L309.20 196.30M311.73 196.02L311.73 196.57M313.29 196.89L313.87 196.89M313.29 196.89L313.29 198.00M313.87 196.89L313.87 198.00M314.53 196.87L315.39 196.87M314.53 196.87L314.53 198.00M315.39 196.87L315.39 198.00M313.58 196.37L314.96 196.37M313.58 196.37L313.58 196.89M314.96 196.37L314.96 196.87M317.18 196.84L317.79 196.84M317.18 196.84L317.18 198.00M317.79 196.84L317.79 198.00M316.31 196.43L317.49 196.43M316.31 196.43L316.31 198.00M317.49 196.43L317.49 196.84M314.27 195.76L316.90 195.76M314.27 195.76L314.27 196.37M316.90 195.76L316.90 196.43M310.46 195.62L315.58 195.62M310.46 195.62L310.46 196.02M315.58 195.62L315.58 195.76M304.98 195.26L313.02 195.26M304.98 195.26L304.98 195.89M313.02 195.26L313.02 195.62M297.76 194.48L309.00 194.48M297.76 194.48L297.76 195.52M309.00 194.48L309.00 195.26M281.30 193.60L303.38 193.60M281.30 193.60L281.30 194.59M303.38 193.60L303.38 194.48M318.21 196.64L318.94 196.64M318.21 196.64L318.21 198.00M318.94 196.64L318.94 198.00M319.63 196.66L320.22 196.66M319.63 196.66L319.63 198.00M320.22 196.66L320.22 198.00M318.58 196.36L319.92 196.36M318.58 196.36L318.58 196.64M319.92 196.36L319.92 196.66M321.12 197.10L321.97 197.10M321.12 197.10L321.12 198.00M321.97 197.10L321.97 198.00M322.63 197.45L323.38 197.45M322.63 197.45L322.63 198.00M323.38 197.45L323.38 198.00M325.21 197.80L325.76 197.80M325.21 197.80L325.21 198.00M325.76 197.80L325.76 198.00M325.48 197.73L326.37 197.73M325.48 197.73L325.48 197.80M326.37 197.73L326.37 198.00M325.92 197.66L327.02 197.66M325.92 197.66L325.92 197.73M327.02 197.66L327.02 198.00M324.39 197.28L326.47 197.28M324.39 197.28L324.39 198.00M326.47 197.28L326.47 197.66M323.01 197.30L325.43 197.30M323.01 197.30L323.01 197.45M325.43 197.30L325.43 197.28M321.54 196.53L324.22 196.53M321.54 196.53L321.54 197.10M324.22 196.53L324.22 197.30M319.25 196.02L322.88 196.02M319.25 196.02L319.25 196.36M322.88 196.02L322.88 196.53M328.04 196.88L328.62 196.88M328.04 196.88L328.04 198.00M328.62 196.88L328.62 198.00M327.58 196.70L328.33 196.70M327.58 196.70L327.58 198.00M328.33 196.70L328.33 196.88M327.96 196.51L329.29 196.51M327.96 196.51L327.96 196.70M329.29 196.51L329.29 198.00M330.14 196.60L330.96 196.60M330.14 196.60L330.14 198.00M330.96 196.60L330.96 198.00M331.45 197.55L332.11 197.55M331.45 197.55L331.45 198.00M332.11 197.55L332.11 198.00M331.78 197.27L332.84 197.27M331.78 197.27L331.78 197.55M332.84 197.27L332.84 198.00M332.31 196.84L333.48 196.84M332.31 196.84L332.31 197.27M333.48 196.84L333.48 198.00M330.55 196.24L332.89 196.24M330.55 196.24L330.55 196.60M332.89 196.24L332.89 196.84M328.62 196.03L331.72 196.03M328.62 196.03L328.62 196.51M331.72 196.03L331.72 196.24M321.07 195.41L330.17 195.41M321.07 195.41L321.07 196.02M330.17 195.41L330.17 196.03M334.24 196.83L334.99 196.83M334.24 196.83L334.24 198.00M334.99 196.83L334.99 198.00M335.66 196.77L336.47 196.77M335.66 196.77L335.66 198.00M336.47 196.77L336.47 198.00M334.62 196.35L336.07 196.35M334.62 196.35L334.62 196.83M336.07 196.35L336.07 196.77M338.37 197.29L338.92 197.29M338.37 197.29L338.37 198.00M338.92 197.29L338.92 198.00M339.44 197.12L340.06 197.12M339.44 197.12L339.44 198.00M340.06 197.12L340.06 198.00M338.65 197.00L339.75 197.00M338.65 197.00L338.65 197.29M339.75 197.00L339.75 197.12M337.48 196.72L339.20 196.72M337.48 196.72L337.48 198.00M339.20 196.72L339.20 197.00M341.81 197.10L342.38 197.10M341.81 197.10L341.81 198.00M342.38 197.10L342.38 198.00M340.89 196.75L342.09 196.75M340.89 196.75L340.89 198.00M342.09 196.75L342.09 197.10M338.34 196.16L341.49 196.16M338.34 196.16L338.34 196.72M341.49 196.16L341.49 196.75M335.34 195.94L339.92 195.94M335.34 195.94L335.34 196.35M339.92 195.94L339.92 196.16M343.22 197.02L343.82 197.02M343.22 197.02L343.22 198.00M343.82 197.02L343.82 198.00M342.81 196.59L343.52 196.59M342.81 196.59L342.81 198.00M343.52 196.59L343.52 197.02M344.77 197.01L345.63 197.01M344.77 197.01L344.77 198.00M345.63 197.01L345.63 198.00M345.20 196.35L346.45 196.35M345.20 196.35L345.20 197.01M346.45 196.35L346.45 198.00M343.17 196.07L345.82 196.07M343.17 196.07L343.17 196.59M345.82 196.07L345.82 196.35M337.63 195.32L344.50 195.32M337.63 195.32L337.63 195.94M344.50 195.32L344.50 196.07M325.62 194.35L341.06 194.35M325.62 194.35L325.62 195.41M341.06 194.35L341.06 195.32M347.26 196.02L347.93 196.02M347.26 196.02L347.26 198.00M347.93 196.02L347.93 198.00M348.72 195.73L349.55 195.73M348.72 195.73L348.72 198.00M349.55 195.73L349.55 198.00M347.59 195.61L349.14 195.61M347.59 195.61L347.59 196.02M349.14 195.61L349.14 195.73M350.69 197.29L351.29 197.29M350.69 197.29L350.69 198.00M351.29 197.29L351.29 198.00M350.18 196.91L350.99 196.91M350.18 196.91L350.18 198.00M350.99 196.91L350.99 197.29M350.58 196.64L352.19 196.64M350.58 196.64L350.58 196.91M352.19 196.64L352.19 198.00M353.24 196.71L354.22 196.71M353.24 196.71L353.24 198.00M354.22 196.71L354.22 198.00M351.39 195.83L353.73 195.83M351.39 195.83L351.39 196.64M353.73 195.83L353.73 196.71M348.37 194.98L352.56 194.98M348.37 194.98L348.37 195.61M352.56 194.98L352.56 195.83M355.93 196.72L356.55 196.72M355.93 196.72L355.93 198.00M356.55 196.72L356.55 198.00M357.33 196.67L357.90 196.67M357.33 196.67L357.33 198.00M357.90 196.67L357.90 198.00M356.24 195.96L357.61 195.96M356.24 195.96L356.24 196.72M357.61 195.96L357.61 196.67M355.20 195.78L356.93 195.78M355.20 195.78L355.20 198.00M356.93 195.78L356.93 195.96M358.56 195.91L359.52 195.91M358.56 195.91L358.56 198.00M359.52 195.91L359.52 198.00M356.06 194.79L359.04 194.79M356.06 194.79L356.06 195.78M359.04 194.79L359.04 195.91M350.46 194.13L357.55 194.13M350.46 194.13L350.46 194.98M357.55 194.13L357.55 194.79M333.34 193.80L354.01 193.80M333.34 193.80L333.34 194.35M354.01 193.80L354.01 194.13M361.25 197.51L361.82 197.51M361.25 197.51L361.25 198.00M361.82 197.51L361.82 198.00M360.42 196.97L361.54 196.97M360.42 196.97L360.42 198.00M361.54 196.97L361.54 197.51M360.98 196.80L362.33 196.80M360.98 196.80L360.98 196.97M362.33 196.80L362.33 198.00M362.92 197.29L363.62 197.29M362.92 197.29L362.92 198.00M363.62 197.29L363.62 198.00M363.27 196.83L364.59 196.83M363.27 196.83L363.27 197.29M364.59 196.83L364.59 198.00M361.65 196.08L363.93 196.08M361.65 196.08L361.65 196.80M363.93 196.08L363.93 196.83M366.31 196.38L367.20 196.38M366.31 196.38L366.31 198.00M367.20 196.38L367.20 198.00M365.50 196.32L366.75 196.32M365.50 196.32L365.50 198.00M366.75 196.32L366.75 196.38M367.86 196.60L368.51 196.60M367.86 196.60L367.86 198.00M368.51 196.60L368.51 198.00M366.12 195.90L368.19 195.90M366.12 195.90L366.12 196.32M368.19 195.90L368.19 196.60M362.79 194.85L367.15 194.85M362.79 194.85L362.79 196.08M367.15 194.85L367.15 195.90M369.46 196.98L370.12 196.98M369.46 196.98L369.46 198.00M370.12 196.98L370.12 198.00M369.79 196.46L370.63 196.46M369.79 196.46L369.79 196.98M370.63 196.46L370.63 198.00M372.08 196.61L372.65 196.61M372.08 196.61L372.08 198.00M372.65 196.61L372.65 198.00M371.33 196.39L372.37 196.39M371.33 196.39L371.33 198.00M372.37 196.39L372.37 196.61M370.21 195.85L371.85 195.85M370.21 195.85L370.21 196.46M371.85 195.85L371.85 196.39M373.86 197.00L374.45 197.00M373.86 197.00L373.86 198.00M374.45 197.00L374.45 198.00M373.27 197.07L374.16 197.07M373.27 197.07L373.27 198.00M374.16 197.07L374.16 197.00M375.16 197.28L375.97 197.28M375.16 197.28L375.16 198.00M375.97 197.28L375.97 198.00M373.71 196.48L375.56 196.48M373.71 196.48L373.71 197.07M375.56 196.48L375.56 197.28M376.73 196.58L377.44 196.58M376.73 196.58L376.73 198.00M377.44 196.58L377.44 198.00M378.33 196.81L378.93 196.81M378.33 196.81L378.33 198.00M378.93 196.81L378.93 198.00M378.63 196.50L379.55 196.50M378.63 196.50L378.63 196.81M379.55 196.50L379.55 198.00M377.09 196.26L379.09 196.26M377.09 196.26L377.09 196.58M379.09 196.26L379.09 196.50M374.64 196.13L378.09 196.13M374.64 196.13L374.64 196.48M378.09 196.13L378.09 196.26M371.03 194.89L376.36 194.89M371.03 194.89L371.03 195.85M376.36 194.89L376.36 196.13M364.97 193.80L373.70 193.80M364.97 193.80L364.97 194.85M373.70 193.80L373.70 194.89M380.33 196.08L380.97 196.08M380.33 196.08L380.33 198.00M380.97 196.08L380.97 198.00M380.65 195.54L381.68 195.54M380.65 195.54L380.65 196.08M381.68 195.54L381.68 198.00M382.54 196.84L383.32 196.84M382.54 196.84L382.54 198.00M383.32 196.84L383.32 198.00M382.93 196.51L384.02 196.51M382.93 196.51L382.93 196.84M384.02 196.51L384.02 198.00M385.28 197.13L386.01 197.13M385.28 197.13L385.28 198.00M386.01 197.13L386.01 198.00M384.67 196.75L385.65 196.75M384.67 196.75L384.67 198.00M385.65 196.75L385.65 197.13M383.48 195.98L385.16 195.98M383.48 195.98L383.48 196.51M385.16 195.98L385.16 196.75M386.91 196.00L387.74 196.00M386.91 196.00L386.91 198.00M387.74 196.00L387.74 198.00M384.32 195.67L387.33 195.67M384.32 195.67L384.32 195.98M387.33 195.67L387.33 196.00M381.17 194.19L385.82 194.19M381.17 194.19L381.17 195.54M385.82 194.19L385.82 195.67M389.48 196.82L390.33 196.82M389.48 196.82L389.48 198.00M390.33 196.82L390.33 198.00M389.90 196.58L391.02 196.58M389.90 196.58L389.90 196.82M391.02 196.58L391.02 198.00M388.52 195.77L390.46 195.77M388.52 195.77L388.52 198.00M390.46 195.77L390.46 196.58M391.56 197.29L392.22 197.29M391.56 197.29L391.56 198.00M392.22 197.29L392.22 198.00M391.89 196.82L392.90 196.82M391.89 196.82L391.89 197.29M392.90 196.82L392.90 198.00M392.40 196.06L393.50 196.06M392.40 196.06L392.40 196.82M393.50 196.06L393.50 198.00M395.96 196.95L396.52 196.95M395.96 196.95L395.96 198.00M396.52 196.95L396.52 198.00M395.20 196.58L396.24 196.58M395.20 196.58L395.20 198.00M396.24 196.58L396.24 196.95M394.35 196.10L395.72 196.10M394.35 196.10L394.35 198.00M395.72 196.10L395.72 196.58M392.95 195.48L395.03 195.48M392.95 195.48L392.95 196.06M395.03 195.48L395.03 196.10M389.49 195.04L393.99 195.04M389.49 195.04L389.49 195.77M393.99 195.04L393.99 195.48M397.07 196.50L397.73 196.50M397.07 196.50L397.07 198.00M397.73 196.50L397.73 198.00M399.34 197.19L400.06 197.19M399.34 197.19L399.34 198.00M400.06 197.19L400.06 198.00M398.50 196.59L399.70 196.59M398.50 196.59L398.50 198.00M399.70 196.59L399.70 197.19M397.40 196.00L399.10 196.00M397.40 196.00L397.40 196.50M399.10 196.00L399.10 196.59M401.59 196.62L402.39 196.62M401.59 196.62L401.59 198.00M402.39 196.62L402.39 198.00M400.77 195.98L401.99 195.98M400.77 195.98L400.77 198.00M401.99 195.98L401.99 196.62M398.25 194.83L401.38 194.83M398.25 194.83L398.25 196.00M401.38 194.83L401.38 195.98M391.74 194.38L399.81 194.38M391.74 194.38L391.74 195.04M399.81 194.38L399.81 194.83M383.49 193.60L395.78 193.60M383.49 193.60L383.49 194.19M395.78 193.60L395.78 194.38M404.22 197.64L404.85 197.64M404.22 197.64L404.22 198.00M404.85 197.64L404.85 198.00M403.57 197.22L404.54 197.22M403.57 197.22L403.57 198.00M404.54 197.22L404.54 197.64M403.01 196.88L404.05 196.88M403.01 196.88L403.01 198.00M404.05 196.88L404.05 197.22M403.53 196.43L405.55 196.43M403.53 196.43L403.53 196.88M405.55 196.43L405.55 198.00M407.31 197.01L407.90 197.01M407.31 197.01L407.31 198.00M407.90 197.01L407.90 198.00M406.53 196.44L407.61 196.44M406.53 196.44L406.53 198.00M407.61 196.44L407.61 197.01M404.54 195.85L407.07 195.85M404.54 195.85L404.54 196.43M407.07 195.85L407.07 196.44M408.72 197.36L409.41 197.36M408.72 197.36L408.72 198.00M409.41 197.36L409.41 198.00M410.16 197.54L411.15 197.54M410.16 197.54L410.16 198.00M411.15 197.54L411.15 198.00M409.07 197.07L410.66 197.07M409.07 197.07L409.07 197.36M410.66 197.07L410.66 197.54M411.99 197.36L412.82 197.36M411.99 197.36L411.99 198.00M412.82 197.36L412.82 198.00M413.44 197.68L414.08 197.68M413.44 197.68L413.44 198.00M414.08 197.68L414.08 198.00M413.76 197.56L414.82 197.56M413.76 197.56L413.76 197.68M414.82 197.56L414.82 198.00M412.40 197.02L414.29 197.02M412.40 197.02L412.40 197.36M414.29 197.02L414.29 197.56M409.86 196.53L413.35 196.53M409.86 196.53L409.86 197.07M413.35 196.53L413.35 197.02M415.27 196.93L415.83 196.93M415.27 196.93L415.27 198.00M415.83 196.93L415.83 198.00M415.55 196.72L416.58 196.72M415.55 196.72L415.55 196.93M416.58 196.72L416.58 198.00M418.50 196.99L419.38 196.99M418.50 196.99L418.50 198.00M419.38 196.99L419.38 198.00M417.45 196.91L418.94 196.91M417.45 196.91L417.45 198.00M418.94 196.91L418.94 196.99M416.06 196.52L418.20 196.52M416.06 196.52L416.06 196.72M418.20 196.52L418.20 196.91M411.60 196.14L417.13 196.14M411.60 196.14L411.60 196.53M417.13 196.14L417.13 196.52M405.80 194.93L414.37 194.93M405.80 194.93L405.80 195.85M414.37 194.93L414.37 196.14M420.04 196.70L420.88 196.70M420.04 196.70L420.04 198.00M420.88 196.70L420.88 198.00M422.66 196.72L423.70 196.72M422.66 196.72L422.66 198.00M423.70 196.72L423.70 198.00M421.77 196.51L423.18 196.51M421.77 196.51L421.77 198.00M423.18 196.51L423.18 196.72M420.46 196.11L422.47 196.11M420.46 196.11L420.46 196.70M422.47 196.11L422.47 196.51M424.46 196.72L425.22 196.72M424.46 196.72L424.46 198.00M425.22 196.72L425.22 198.00M426.24 196.64L426.93 196.64M426.24 196.64L426.24 198.00M426.93 196.64L426.93 198.00M424.84 196.04L426.58 196.04M424.84 196.04L424.84 196.72M426.58 196.04L426.58 196.64M421.46 195.65L425.71 195.65M421.46 195.65L421.46 196.11M425.71 195.65L425.71 196.04M427.54 196.57L428.14 196.57M427.54 196.57L427.54 198.00M428.14 196.57L428.14 198.00M428.48 196.68L429.06 196.68M428.48 196.68L428.48 198.00M429.06 196.68L429.06 198.00M428.77 196.43L429.95 196.43M428.77 196.43L428.77 196.68M429.95 196.43L429.95 198.00M427.84 196.11L429.36 196.11M427.84 196.11L427.84 196.57M429.36 196.11L429.36 196.43M430.62 196.62L431.18 196.62M430.62 196.62L430.62 198.00M431.18 196.62L431.18 198.00M432.78 196.79L433.66 196.79M432.78 196.79L432.78 198.00M433.66 196.79L433.66 198.00M431.90 196.42L433.22 196.42M431.90 196.42L431.90 198.00M433.22 196.42L433.22 196.79M430.90 196.30L432.56 196.30M430.90 196.30L430.90 196.62M432.56 196.30L432.56 196.42M428.60 195.56L431.73 195.56M428.60 195.56L428.60 196.11M431.73 195.56L431.73 196.30M423.59 194.93L430.17 194.93M423.59 194.93L423.59 195.65M430.17 194.93L430.17 195.56M410.09 193.80L426.88 193.80M410.09 193.80L410.09 194.93M426.88 193.80L426.88 194.93M435.30 196.18L436.23 196.18M435.30 196.18L435.30 198.00M436.23 196.18L436.23 198.00M434.45 195.76L435.76 195.76M434.45 195.76L434.45 198.00M435.76 195.76L435.76 196.18M437.25 196.80L438.04 196.80M437.25 196.80L437.25 198.00M438.04 196.80L438.04 198.00M437.64 196.10L438.78 196.10M437.64 196.10L437.64 196.80M438.78 196.10L438.78 198.00M440.05 196.12L440.66 196.12M440.05 196.12L440.05 198.00M440.66 196.12L440.66 198.00M439.52 195.97L440.36 195.97M439.52 195.97L439.52 198.00M440.36 195.97L440.36 196.12M438.21 195.85L439.94 195.85M438.21 195.85L438.21 196.10M439.94 195.85L439.94 195.97M435.11 194.79L439.07 194.79M435.11 194.79L435.11 195.76M439.07 194.79L439.07 195.85M441.22 196.34L441.85 196.34M441.22 196.34L441.22 198.00M441.85 196.34L441.85 198.00M441.54 195.56L442.61 195.56M441.54 195.56L441.54 196.34M442.61 195.56L442.61 198.00M443.13 196.80L443.87 196.80M443.13 196.80L443.13 198.00M443.87 196.80L443.87 198.00M443.50 196.54L444.71 196.54M443.50 196.54L443.50 196.80M444.71 196.54L444.71 198.00M444.11 196.22L445.40 196.22M444.11 196.22L444.11 196.54M445.40 196.22L445.40 198.00M447.21 196.82L448.02 196.82M447.21 196.82L447.21 198.00M448.02 196.82L448.02 198.00M446.28 196.26L447.62 196.26M446.28 196.26L446.28 198.00M447.62 196.26L447.62 196.82M444.75 195.65L446.95 195.65M444.75 195.65L444.75 196.22M446.95 195.65L446.95 196.26M442.07 194.73L445.85 194.73M442.07 194.73L442.07 195.56M445.85 194.73L445.85 195.65M437.09 193.80L443.96 193.80M437.09 193.80L437.09 194.79M443.96 193.80L443.96 194.73M297.70 192.20L339.20 192.20M297.70 192.20L297.70 193.60M339.20 192.20L339.20 193.80M297.70 193.60L292.34 193.60M339.20 193.80L343.67 193.80M363.50 192.20L390.30 192.20M363.50 192.20L363.50 193.80M390.30 192.20L390.30 193.60M363.50 193.80L369.33 193.80M390.30 193.60L389.64 193.60M422.70 192.20L441.30 192.20M422.70 192.20L422.70 193.80M441.30 192.20L441.30 193.80M422.70 193.80L418.48 193.80M441.30 193.80L440.53 193.80M318.50 189.20L374.70 189.20M318.50 189.20L318.50 192.20M374.70 189.20L374.70 192.20M318.50 192.20L318.50 192.20M346.70 182.30L432.00 182.30M346.70 182.30L346.70 189.20M432.00 182.30L432.00 192.20" stroke="#1a1a1a" stroke-width="0.6" fill="none"/>
<rect x="402.70" y="178.30" width="46.40" height="143.60" fill="none" stroke="#111" stroke-width="1.0"/>
<text x="451.30" y="210.32" font-size="5.15" textLength="18.15" lengthAdjust="spacingAndGlyphs">MS4A4A</text>
<text x="451.30" y="216.06" font-size="5.15" textLength="32.46" lengthAdjust="spacingAndGlyphs">MRC1/MRC1L1</text>
<text x="451.30" y="221.80" font-size="5.15" textLength="18.15" lengthAdjust="spacingAndGlyphs">MS4A6A</text>
<text x="451.30" y="227.54" font-size="5.15" textLength="12.78" lengthAdjust="spacingAndGlyphs">MSR1</text>
<text x="451.30" y="233.28" font-size="5.15" textLength="14.58" lengthAdjust="spacingAndGlyphs">XLKD1</text>
<text x="451.30" y="239.02" font-size="5.15" textLength="19.44" lengthAdjust="spacingAndGlyphs">EPB41L3</text>
<text x="451.30" y="244.76" font-size="5.15" textLength="20.71" lengthAdjust="spacingAndGlyphs">SLCO2B1</text>
<text x="451.30" y="250.50" font-size="5.15" textLength="13.55" lengthAdjust="spacingAndGlyphs">VSIG4</text>
<text x="451.30" y="256.24" font-size="5.15" textLength="20.71" lengthAdjust="spacingAndGlyphs">SLCO2B1</text>
<text x="451.30" y="261.98" font-size="5.15" textLength="17.05" lengthAdjust="spacingAndGlyphs">P2RY13</text>
<text x="451.30" y="267.72" font-size="5.15" textLength="13.54" lengthAdjust="spacingAndGlyphs">TGFBI</text>
<text x="451.30" y="273.46" font-size="5.15" textLength="14.32" lengthAdjust="spacingAndGlyphs">CD163</text>
<text x="451.30" y="279.20" font-size="5.15" textLength="14.32" lengthAdjust="spacingAndGlyphs">CD163</text>
<text x="451.30" y="284.94" font-size="5.15" textLength="12.53" lengthAdjust="spacingAndGlyphs">C1QA</text>
<text x="451.30" y="290.68" font-size="5.15" textLength="15.85" lengthAdjust="spacingAndGlyphs">VCAM1</text>
<text x="451.30" y="296.42" font-size="5.15" textLength="12.78" lengthAdjust="spacingAndGlyphs">APOE</text>
<text x="451.30" y="302.16" font-size="5.15" fill="#c0392b" textLength="8.7" lengthAdjust="spacingAndGlyphs">AXL</text>
<text x="451.30" y="307.90" font-size="5.15" textLength="38.6" lengthAdjust="spacingAndGlyphs">FCGR3A/FCGR3B</text>
<text x="451.30" y="313.64" font-size="5.15" textLength="12.27" lengthAdjust="spacingAndGlyphs">CTSB</text>
<text x="451.30" y="319.38" font-size="5.15" textLength="9.63" lengthAdjust="spacingAndGlyphs">LIPA</text>
<rect x="327.30" y="325.40" width="10.10" height="4.00" fill="#e8a234"/>
<text x="338.80" y="329.01" font-size="4.48" fill="#555" textLength="27.01" lengthAdjust="spacingAndGlyphs">MGUS (n = 22)</text>
<rect x="379.20" y="325.40" width="11.00" height="4.00" fill="#a33f3b"/>
<text x="392.20" y="329.01" font-size="4.48" fill="#555" textLength="23.9" lengthAdjust="spacingAndGlyphs">MM (n = 101)</text>
<text x="391.60" y="337.46" font-size="6.83" text-anchor="middle" fill="#333333" textLength="43.18" lengthAdjust="spacingAndGlyphs">AXL Expression</text>
<line x1="315.40" y1="339.70" x2="424.80" y2="339.70" stroke="#231f20" stroke-width="1.4"/>
<line x1="317.00" y1="342.80" x2="424.30" y2="342.80" stroke="#333" stroke-width="0.8"/>
<text x="356.10" y="350.76" font-size="6.83" text-anchor="middle" fill="#333333" textLength="12.55" lengthAdjust="spacingAndGlyphs">High</text>
<text x="385.00" y="350.76" font-size="6.83" text-anchor="middle" fill="#333333" textLength="11.19" lengthAdjust="spacingAndGlyphs">Low</text>
<text x="412.40" y="350.76" font-size="6.83" text-anchor="middle" fill="#333333" textLength="12.89" lengthAdjust="spacingAndGlyphs">Total</text>
<line x1="317.00" y1="353.80" x2="424.30" y2="353.80" stroke="#333" stroke-width="0.8"/>
<text x="327.00" y="360.96" font-size="6.83" text-anchor="middle" fill="#333333" textLength="18.3" lengthAdjust="spacingAndGlyphs">MGUS</text>
<text x="356.10" y="360.96" font-size="6.83" text-anchor="middle" fill="#c0392b" textLength="6.79" lengthAdjust="spacingAndGlyphs">12</text>
<text x="385.00" y="360.96" font-size="6.83" text-anchor="middle" fill="#333333" textLength="6.79" lengthAdjust="spacingAndGlyphs">10</text>
<text x="412.40" y="360.96" font-size="6.83" text-anchor="middle" fill="#333333" textLength="6.79" lengthAdjust="spacingAndGlyphs">22</text>
<text x="327.00" y="372.26" font-size="6.83" text-anchor="middle" fill="#333333" textLength="10.16" lengthAdjust="spacingAndGlyphs">MM</text>
<text x="356.10" y="372.26" font-size="6.83" text-anchor="middle" fill="#333333" textLength="6.79" lengthAdjust="spacingAndGlyphs">20</text>
<text x="385.00" y="372.26" font-size="6.83" text-anchor="middle" fill="#c0392b" textLength="6.79" lengthAdjust="spacingAndGlyphs">81</text>
<text x="412.40" y="372.26" font-size="6.83" text-anchor="middle" fill="#333333" textLength="10.18" lengthAdjust="spacingAndGlyphs">101</text>
<line x1="317.00" y1="364.20" x2="424.30" y2="364.20" stroke="#333" stroke-width="0.8"/>
<line x1="317.00" y1="375.40" x2="424.30" y2="375.40" stroke="#333" stroke-width="0.8"/>
<line x1="315.40" y1="378.30" x2="424.80" y2="378.30" stroke="#231f20" stroke-width="1.4"/>
<text x="380.70" y="386.36" font-size="6.83" text-anchor="middle" fill="#333333" textLength="42.45" lengthAdjust="spacingAndGlyphs">P value = 0.002</text>
<text x="6.30" y="413.20" font-size="10.2" textLength="6.2" lengthAdjust="spacingAndGlyphs">E</text>
<text x="84.70" y="423.04" font-size="9.0" text-anchor="middle" textLength="51" lengthAdjust="spacingAndGlyphs">All treatments</text>
<path d="M43.3 430.0 L44.2 430.0 L45.2 429.9 L46.1 429.9 L47.0 429.9 L48.0 429.9 L48.9 430.0 L49.8 430.2 L50.8 430.3 L51.7 430.5 L52.6 430.7 L53.5 431.0 L54.5 431.4 L55.4 431.8 L56.3 432.2 L57.3 432.6 L58.2 433.5 L59.1 434.4 L60.1 435.4 L61.0 436.3 L61.9 437.2 L62.9 438.0 L63.8 438.7 L64.7 439.4 L65.7 440.3 L66.6 441.2 L67.5 441.9 L68.5 442.5 L69.4 443.2 L70.3 443.8 L71.2 444.5 L72.2 445.1 L73.1 445.7 L74.0 446.2 L75.0 446.8 L75.9 447.3 L76.8 447.8 L77.8 448.1 L78.7 448.3 L79.6 448.6 L80.6 448.9 L81.5 449.2 L82.4 449.4 L83.4 449.6 L84.3 449.9 L85.2 450.1 L86.2 450.4 L87.1 450.7 L88.0 451.6 L89.0 452.5 L89.9 453.3 L90.8 454.0 L91.7 454.8 L92.7 455.6 L93.6 456.4 L94.5 457.2 L95.5 458.1 L96.4 459.0 L97.3 459.9 L98.3 461.0 L99.2 461.9 L99.2 472.9 L98.3 471.4 L97.3 470.3 L96.4 469.4 L95.5 468.5 L94.5 467.6 L93.6 466.8 L92.7 466.0 L91.7 465.2 L90.8 464.4 L89.9 463.7 L89.0 462.9 L88.0 462.0 L87.1 461.1 L86.2 460.8 L85.2 460.5 L84.3 460.3 L83.4 460.0 L82.4 459.8 L81.5 459.6 L80.6 459.3 L79.6 459.0 L78.7 458.7 L77.8 458.5 L76.8 458.2 L75.9 457.7 L75.0 457.2 L74.0 456.6 L73.1 456.1 L72.2 455.5 L71.2 454.9 L70.3 454.2 L69.4 453.6 L68.5 452.9 L67.5 452.3 L66.6 451.6 L65.7 450.7 L64.7 449.6 L63.8 448.5 L62.9 447.4 L61.9 446.2 L61.0 445.0 L60.1 443.7 L59.1 442.4 L58.2 441.1 L57.3 439.8 L56.3 439.0 L55.4 438.2 L54.5 437.5 L53.5 436.7 L52.6 436.0 L51.7 435.4 L50.8 434.9 L49.8 434.4 L48.9 433.9 L48.0 433.4 L47.0 433.0 L46.1 432.6 L45.2 432.3 L44.2 431.9 L43.3 431.6 Z" fill="#eec48c" fill-opacity="0.9"/>
<path d="M43.3 430.0 L44.2 430.2 L45.2 430.5 L46.1 430.7 L47.0 430.9 L48.0 431.9 L48.9 434.0 L49.8 435.9 L50.8 437.3 L51.7 438.6 L52.6 439.9 L53.5 440.6 L54.5 441.3 L55.4 442.1 L56.3 442.8 L57.3 443.6 L58.2 444.5 L59.1 445.5 L60.1 446.4 L61.0 447.4 L61.9 448.3 L62.9 449.4 L63.8 450.5 L64.7 451.7 L65.7 453.0 L66.6 454.3 L67.5 455.8 L68.5 457.4 L69.4 459.0 L70.3 460.5 L71.2 461.2 L72.2 461.9 L73.1 462.6 L74.0 463.3 L75.0 464.0 L75.9 464.7 L76.8 465.5 L77.8 466.2 L78.7 466.9 L79.6 467.7 L80.6 468.4 L81.5 469.1 L82.4 469.6 L83.4 470.0 L84.3 470.5 L85.2 471.0 L86.2 471.5 L87.1 472.0 L88.0 472.7 L89.0 473.4 L89.9 474.1 L90.8 474.8 L91.7 475.5 L92.7 476.2 L93.6 476.9 L94.5 477.6 L95.5 477.9 L96.4 478.3 L97.3 478.7 L98.3 479.0 L99.2 479.2 L99.2 489.6 L98.3 489.0 L97.3 488.7 L96.4 488.3 L95.5 487.9 L94.5 487.6 L93.6 486.9 L92.7 486.2 L91.7 485.5 L90.8 484.8 L89.9 484.1 L89.0 483.4 L88.0 482.7 L87.1 482.0 L86.2 481.5 L85.2 481.0 L84.3 480.5 L83.4 480.0 L82.4 479.6 L81.5 479.1 L80.6 478.4 L79.6 477.7 L78.7 476.9 L77.8 476.2 L76.8 475.5 L75.9 474.7 L75.0 474.0 L74.0 473.3 L73.1 472.6 L72.2 471.9 L71.2 471.2 L70.3 470.5 L69.4 469.0 L68.5 467.4 L67.5 465.8 L66.6 464.3 L65.7 463.0 L64.7 461.7 L63.8 460.3 L62.9 458.8 L61.9 457.3 L61.0 456.0 L60.1 454.7 L59.1 453.4 L58.2 452.1 L57.3 450.8 L56.3 449.7 L55.4 448.5 L54.5 447.4 L53.5 446.3 L52.6 445.2 L51.7 443.6 L50.8 441.9 L49.8 440.1 L48.9 437.9 L48.0 435.3 L47.0 434.0 L46.1 433.4 L45.2 432.8 L44.2 432.2 L43.3 431.6 Z" fill="#e0dde3" fill-opacity="0.9"/>
<rect x="99.20" y="460.20" width="11.60" height="13.90" fill="#eec48c"/>
<rect x="110.80" y="462.10" width="11.50" height="21.65" fill="#eec48c"/>
<rect x="99.20" y="478.00" width="10.60" height="11.00" fill="#e0dde3"/>
<rect x="109.80" y="483.75" width="12.50" height="11.05" fill="#e0dde3"/>
<path d="M43.30 430.80 L45.62 430.80 L45.62 431.83 L47.95 431.83 L47.95 433.58 L50.27 433.58 L50.27 438.78 L52.59 438.78 L52.59 442.49 L54.92 442.49 L54.92 444.82 L57.24 444.82 L57.24 447.15 L59.56 447.15 L59.56 449.96 L61.89 449.96 L61.89 452.76 L64.21 452.76 L64.21 455.99 L66.54 455.99 L66.54 459.23 L68.86 459.23 L68.86 463.11 L71.18 463.11 L71.18 466.15 L73.51 466.15 L73.51 467.92 L75.83 467.92 L75.83 469.69 L78.15 469.69 L78.15 471.51 L80.48 471.51 L80.48 473.35 L82.80 473.35 L82.80 474.76 L85.12 474.76 L85.12 475.95 L87.45 475.95 L87.45 477.24 L89.77 477.24 L89.77 478.98 L92.09 478.98 L92.09 480.72 L94.42 480.72 L94.42 482.46 L96.74 482.46 L96.74 483.44 L99.06 483.44 L99.06 484.35 L101.39 484.35 L101.39 484.40 L103.71 484.40 L103.71 484.40 L106.04 484.40 L106.04 484.40 L108.36 484.40 L108.36 484.40 L110.68 484.40 L110.68 489.50 L113.01 489.50 L113.01 489.50 L115.33 489.50 L115.33 489.50 L117.65 489.50 L117.65 489.50 L119.98 489.50 L119.98 489.50 L122.30 489.50 L122.30 489.50" stroke="#b4b2b8" stroke-width="0.8" fill="none"/>
<path d="M43.30 430.80 L45.62 430.80 L45.62 431.18 L47.95 431.18 L47.95 431.62 L50.27 431.62 L50.27 432.45 L52.59 432.45 L52.59 433.32 L54.92 433.32 L54.92 434.72 L57.24 434.72 L57.24 436.15 L59.56 436.15 L59.56 438.91 L61.89 438.91 L61.89 441.67 L64.21 441.67 L64.21 444.01 L66.54 444.01 L66.54 446.34 L68.86 446.34 L68.86 448.03 L71.18 448.03 L71.18 449.64 L73.51 449.64 L73.51 451.09 L75.83 451.09 L75.83 452.49 L78.15 452.49 L78.15 453.38 L80.48 453.38 L80.48 454.06 L82.80 454.06 L82.80 454.69 L85.12 454.69 L85.12 455.31 L87.45 455.31 L87.45 456.25 L89.77 456.25 L89.77 458.38 L92.09 458.38 L92.09 460.31 L94.42 460.31 L94.42 462.25 L96.74 462.25 L96.74 464.54 L99.06 464.54 L99.06 467.23 L101.39 467.23 L101.39 467.40 L103.71 467.40 L103.71 467.40 L106.04 467.40 L106.04 467.40 L108.36 467.40 L108.36 467.40 L110.68 467.40 L110.68 467.40 L113.01 467.40 L113.01 474.10 L115.33 474.10 L115.33 474.10 L117.65 474.10 L117.65 474.10 L119.98 474.10 L119.98 474.10 L122.30 474.10 L122.30 474.10" stroke="#d6922f" stroke-width="1.1" fill="none"/>
<line x1="45.58" y1="430.07" x2="45.58" y2="432.27" stroke="#d6922f" stroke-width="0.45"/>
<line x1="49.27" y1="430.99" x2="49.27" y2="433.19" stroke="#d6922f" stroke-width="0.45"/>
<line x1="52.19" y1="432.03" x2="52.19" y2="434.23" stroke="#d6922f" stroke-width="0.45"/>
<line x1="55.77" y1="434.13" x2="55.77" y2="436.33" stroke="#d6922f" stroke-width="0.45"/>
<line x1="59.00" y1="437.14" x2="59.00" y2="439.34" stroke="#d6922f" stroke-width="0.45"/>
<line x1="61.30" y1="439.87" x2="61.30" y2="442.07" stroke="#d6922f" stroke-width="0.45"/>
<line x1="64.42" y1="443.12" x2="64.42" y2="445.32" stroke="#d6922f" stroke-width="0.45"/>
<line x1="68.94" y1="446.98" x2="68.94" y2="449.18" stroke="#d6922f" stroke-width="0.45"/>
<line x1="71.21" y1="448.56" x2="71.21" y2="450.76" stroke="#d6922f" stroke-width="0.45"/>
<line x1="74.37" y1="450.52" x2="74.37" y2="452.72" stroke="#d6922f" stroke-width="0.45"/>
<line x1="78.79" y1="452.47" x2="78.79" y2="454.67" stroke="#d6922f" stroke-width="0.45"/>
<line x1="81.15" y1="453.16" x2="81.15" y2="455.36" stroke="#d6922f" stroke-width="0.45"/>
<line x1="84.94" y1="454.16" x2="84.94" y2="456.36" stroke="#d6922f" stroke-width="0.45"/>
<line x1="87.56" y1="455.26" x2="87.56" y2="457.46" stroke="#d6922f" stroke-width="0.45"/>
<line x1="91.02" y1="458.32" x2="91.02" y2="460.52" stroke="#d6922f" stroke-width="0.45"/>
<line x1="93.44" y1="460.33" x2="93.44" y2="462.53" stroke="#d6922f" stroke-width="0.45"/>
<line x1="50.22" y1="437.68" x2="50.22" y2="439.68" stroke="#b4b2b8" stroke-width="0.4"/>
<line x1="54.59" y1="443.49" x2="54.59" y2="445.49" stroke="#b4b2b8" stroke-width="0.4"/>
<line x1="58.04" y1="447.11" x2="58.04" y2="449.11" stroke="#b4b2b8" stroke-width="0.4"/>
<line x1="62.39" y1="452.44" x2="62.39" y2="454.44" stroke="#b4b2b8" stroke-width="0.4"/>
<line x1="66.27" y1="457.87" x2="66.27" y2="459.87" stroke="#b4b2b8" stroke-width="0.4"/>
<line x1="69.30" y1="462.87" x2="69.30" y2="464.87" stroke="#b4b2b8" stroke-width="0.4"/>
<line x1="74.41" y1="467.61" x2="74.41" y2="469.61" stroke="#b4b2b8" stroke-width="0.4"/>
<line x1="78.15" y1="470.50" x2="78.15" y2="472.50" stroke="#b4b2b8" stroke-width="0.4"/>
<line x1="81.68" y1="473.19" x2="81.68" y2="475.19" stroke="#b4b2b8" stroke-width="0.4"/>
<line x1="85.25" y1="475.01" x2="85.25" y2="477.01" stroke="#b4b2b8" stroke-width="0.4"/>
<line x1="90.58" y1="478.59" x2="90.58" y2="480.59" stroke="#b4b2b8" stroke-width="0.4"/>
<line x1="93.96" y1="481.12" x2="93.96" y2="483.12" stroke="#b4b2b8" stroke-width="0.4"/>
<line x1="100.50" y1="466.30" x2="100.50" y2="468.50" stroke="#d6922f" stroke-width="0.45"/>
<line x1="102.50" y1="466.30" x2="102.50" y2="468.50" stroke="#d6922f" stroke-width="0.45"/>
<line x1="104.50" y1="466.30" x2="104.50" y2="468.50" stroke="#d6922f" stroke-width="0.45"/>
<line x1="107.00" y1="466.30" x2="107.00" y2="468.50" stroke="#d6922f" stroke-width="0.45"/>
<line x1="113.00" y1="473.00" x2="113.00" y2="475.20" stroke="#d6922f" stroke-width="0.45"/>
<line x1="115.50" y1="473.00" x2="115.50" y2="475.20" stroke="#d6922f" stroke-width="0.45"/>
<line x1="118.00" y1="473.00" x2="118.00" y2="475.20" stroke="#d6922f" stroke-width="0.45"/>
<line x1="120.50" y1="473.00" x2="120.50" y2="475.20" stroke="#d6922f" stroke-width="0.45"/>
<line x1="102.00" y1="483.30" x2="102.00" y2="485.50" stroke="#b4b2b8" stroke-width="0.45"/>
<line x1="104.00" y1="483.30" x2="104.00" y2="485.50" stroke="#b4b2b8" stroke-width="0.45"/>
<line x1="106.00" y1="483.30" x2="106.00" y2="485.50" stroke="#b4b2b8" stroke-width="0.45"/>
<line x1="113.00" y1="488.40" x2="113.00" y2="490.60" stroke="#b4b2b8" stroke-width="0.45"/>
<line x1="116.00" y1="488.40" x2="116.00" y2="490.60" stroke="#b4b2b8" stroke-width="0.45"/>
<line x1="119.00" y1="488.40" x2="119.00" y2="490.60" stroke="#b4b2b8" stroke-width="0.45"/>
<line x1="39.20" y1="465.40" x2="98.30" y2="465.40" stroke="#231f20" stroke-width="1.0" stroke-dasharray="2.4 1.6"/>
<line x1="70.30" y1="465.40" x2="70.30" y2="500.20" stroke="#231f20" stroke-width="1.0" stroke-dasharray="2.4 1.6"/>
<line x1="98.20" y1="465.40" x2="98.20" y2="500.20" stroke="#231f20" stroke-width="1.0" stroke-dasharray="2.4 1.6"/>
<line x1="38.50" y1="428.50" x2="38.50" y2="503.60" stroke="#333" stroke-width="1.2"/>
<line x1="37.90" y1="503.00" x2="130.00" y2="503.00" stroke="#333" stroke-width="1.2"/>
<line x1="34.80" y1="430.60" x2="38.50" y2="430.60" stroke="#231f20" stroke-width="0.8"/>
<text x="32.40" y="433.10" font-size="6.94" text-anchor="end" textLength="10.8" lengthAdjust="spacingAndGlyphs">1.00</text>
<line x1="34.80" y1="448.00" x2="38.50" y2="448.00" stroke="#231f20" stroke-width="0.8"/>
<text x="32.40" y="450.50" font-size="6.94" text-anchor="end" textLength="10.8" lengthAdjust="spacingAndGlyphs">0.75</text>
<line x1="34.80" y1="465.40" x2="38.50" y2="465.40" stroke="#231f20" stroke-width="0.8"/>
<text x="32.40" y="467.90" font-size="6.94" text-anchor="end" textLength="10.8" lengthAdjust="spacingAndGlyphs">0.50</text>
<line x1="34.80" y1="482.80" x2="38.50" y2="482.80" stroke="#231f20" stroke-width="0.8"/>
<text x="32.40" y="485.30" font-size="6.94" text-anchor="end" textLength="10.8" lengthAdjust="spacingAndGlyphs">0.25</text>
<line x1="34.80" y1="500.20" x2="38.50" y2="500.20" stroke="#231f20" stroke-width="0.8"/>
<text x="32.40" y="502.70" font-size="6.94" text-anchor="end" textLength="10.8" lengthAdjust="spacingAndGlyphs">0.00</text>
<line x1="43.10" y1="503.00" x2="43.10" y2="505.30" stroke="#231f20" stroke-width="0.8"/>
<text x="43.10" y="514.93" font-size="7.02" text-anchor="middle" textLength="3.0" lengthAdjust="spacingAndGlyphs">0</text>
<line x1="64.50" y1="503.00" x2="64.50" y2="505.30" stroke="#231f20" stroke-width="0.8"/>
<text x="64.50" y="514.93" font-size="7.02" text-anchor="middle" textLength="9.01" lengthAdjust="spacingAndGlyphs">300</text>
<line x1="85.90" y1="503.00" x2="85.90" y2="505.30" stroke="#231f20" stroke-width="0.8"/>
<text x="85.90" y="514.93" font-size="7.02" text-anchor="middle" textLength="9.01" lengthAdjust="spacingAndGlyphs">600</text>
<line x1="107.30" y1="503.00" x2="107.30" y2="505.30" stroke="#231f20" stroke-width="0.8"/>
<text x="107.30" y="514.93" font-size="7.02" text-anchor="middle" textLength="9.01" lengthAdjust="spacingAndGlyphs">900</text>
<line x1="128.70" y1="503.00" x2="128.70" y2="505.30" stroke="#231f20" stroke-width="0.8"/>
<text x="128.70" y="514.93" font-size="7.02" text-anchor="middle" textLength="12.01" lengthAdjust="spacingAndGlyphs">1200</text>
<text x="85.00" y="527.30" font-size="8.9" text-anchor="middle" textLength="40.5" lengthAdjust="spacingAndGlyphs">Time (days)</text>
<text x="14.60" y="465.10" font-size="8.4" text-anchor="middle" textLength="69.4" lengthAdjust="spacingAndGlyphs" transform="rotate(-90 14.60 465.10)">Survival probability</text>
<text x="39.60" y="487.62" font-size="5.6" fill="#333" textLength="24.24" lengthAdjust="spacingAndGlyphs">P &lt; 0.0001</text>
<text x="82.10" y="434.23" font-size="4.8" textLength="46.5" lengthAdjust="spacingAndGlyphs">Dormancy Signature</text>
<rect x="82.30" y="438.00" width="5.40" height="4.50" fill="#eec48c"/>
<line x1="82.30" y1="440.20" x2="87.70" y2="440.20" stroke="#d6922f" stroke-width="0.8"/>
<line x1="84.20" y1="439.20" x2="84.20" y2="441.20" stroke="#d6922f" stroke-width="0.5"/>
<line x1="86.00" y1="439.20" x2="86.00" y2="441.20" stroke="#d6922f" stroke-width="0.5"/>
<text x="90.60" y="442.07" font-size="5.2" textLength="11.3" lengthAdjust="spacingAndGlyphs">High</text>
<rect x="108.30" y="438.00" width="5.70" height="4.50" fill="#e0dde3"/>
<line x1="108.30" y1="440.20" x2="114.00" y2="440.20" stroke="#b4b2b8" stroke-width="0.6"/>
<text x="116.50" y="442.07" font-size="5.2" textLength="9.7" lengthAdjust="spacingAndGlyphs">Low</text>
<text x="41.80" y="538.14" font-size="6.5" textLength="40" lengthAdjust="spacingAndGlyphs">Number at risk</text>
<text x="32.60" y="548.13" font-size="6.48" text-anchor="end" fill="#d6922f" textLength="11.11" lengthAdjust="spacingAndGlyphs">High</text>
<text x="32.60" y="554.33" font-size="6.48" text-anchor="end" fill="#c8c6cc" textLength="9.91" lengthAdjust="spacingAndGlyphs">Low</text>
<line x1="38.90" y1="541.50" x2="38.90" y2="555.60" stroke="#333" stroke-width="1.1"/>
<line x1="36.90" y1="545.80" x2="38.90" y2="545.80" stroke="#231f20" stroke-width="0.7"/>
<line x1="36.90" y1="552.00" x2="38.90" y2="552.00" stroke="#231f20" stroke-width="0.7"/>
<line x1="38.40" y1="555.50" x2="130.80" y2="555.50" stroke="#333" stroke-width="1.1"/>
<text x="44.90" y="548.23" font-size="6.75" text-anchor="middle" fill="#d6922f" textLength="9.01" lengthAdjust="spacingAndGlyphs">132</text>
<text x="44.90" y="554.43" font-size="6.75" text-anchor="middle" fill="#c9c7cc" textLength="9.01" lengthAdjust="spacingAndGlyphs">132</text>
<text x="64.50" y="548.23" font-size="6.75" text-anchor="middle" fill="#d6922f" textLength="6.01" lengthAdjust="spacingAndGlyphs">98</text>
<text x="64.50" y="554.43" font-size="6.75" text-anchor="middle" fill="#c9c7cc" textLength="6.01" lengthAdjust="spacingAndGlyphs">79</text>
<text x="85.90" y="548.23" font-size="6.75" text-anchor="middle" fill="#d6922f" textLength="6.01" lengthAdjust="spacingAndGlyphs">63</text>
<text x="85.90" y="554.43" font-size="6.75" text-anchor="middle" fill="#c9c7cc" textLength="6.01" lengthAdjust="spacingAndGlyphs">34</text>
<text x="107.30" y="548.23" font-size="6.75" text-anchor="middle" fill="#d6922f" textLength="6.01" lengthAdjust="spacingAndGlyphs">16</text>
<text x="107.30" y="554.43" font-size="6.75" text-anchor="middle" fill="#c9c7cc" textLength="3.0" lengthAdjust="spacingAndGlyphs">7</text>
<text x="128.70" y="548.23" font-size="6.75" text-anchor="middle" fill="#d6922f" textLength="3.0" lengthAdjust="spacingAndGlyphs">0</text>
<text x="128.70" y="554.43" font-size="6.75" text-anchor="middle" fill="#c9c7cc" textLength="3.0" lengthAdjust="spacingAndGlyphs">0</text>
<line x1="43.10" y1="555.50" x2="43.10" y2="557.80" stroke="#231f20" stroke-width="0.8"/>
<text x="43.10" y="567.13" font-size="7.02" text-anchor="middle" textLength="3.0" lengthAdjust="spacingAndGlyphs">0</text>
<line x1="64.50" y1="555.50" x2="64.50" y2="557.80" stroke="#231f20" stroke-width="0.8"/>
<text x="64.50" y="567.13" font-size="7.02" text-anchor="middle" textLength="9.01" lengthAdjust="spacingAndGlyphs">300</text>
<line x1="85.90" y1="555.50" x2="85.90" y2="557.80" stroke="#231f20" stroke-width="0.8"/>
<text x="85.90" y="567.13" font-size="7.02" text-anchor="middle" textLength="9.01" lengthAdjust="spacingAndGlyphs">600</text>
<line x1="107.30" y1="555.50" x2="107.30" y2="557.80" stroke="#231f20" stroke-width="0.8"/>
<text x="107.30" y="567.13" font-size="7.02" text-anchor="middle" textLength="9.01" lengthAdjust="spacingAndGlyphs">900</text>
<line x1="128.70" y1="555.50" x2="128.70" y2="557.80" stroke="#231f20" stroke-width="0.8"/>
<text x="128.70" y="567.13" font-size="7.02" text-anchor="middle" textLength="12.01" lengthAdjust="spacingAndGlyphs">1200</text>
<text x="85.00" y="578.70" font-size="8.9" text-anchor="middle" textLength="40.5" lengthAdjust="spacingAndGlyphs">Time (days)</text>
<text x="152.20" y="413.00" font-size="10" textLength="4.6" lengthAdjust="spacingAndGlyphs">F</text>
<line x1="234.00" y1="413.70" x2="234.00" y2="518.70" stroke="#231f20" stroke-width="1.2"/>
<line x1="233.40" y1="518.10" x2="291.60" y2="518.10" stroke="#231f20" stroke-width="1.2"/>
<line x1="259.75" y1="415.50" x2="259.75" y2="518.10" stroke="#231f20" stroke-width="1.0" stroke-dasharray="2.6 1.8"/>
<line x1="244.47" y1="518.10" x2="244.47" y2="520.10" stroke="#231f20" stroke-width="0.8"/>
<text x="244.47" y="529.56" font-size="6.27" text-anchor="middle" textLength="7.78" lengthAdjust="spacingAndGlyphs">0.5</text>
<line x1="259.75" y1="518.10" x2="259.75" y2="520.10" stroke="#231f20" stroke-width="0.8"/>
<text x="259.75" y="529.56" font-size="6.27" text-anchor="middle" textLength="7.78" lengthAdjust="spacingAndGlyphs">1.0</text>
<line x1="275.02" y1="518.10" x2="275.02" y2="520.10" stroke="#231f20" stroke-width="0.8"/>
<text x="275.02" y="529.56" font-size="6.27" text-anchor="middle" textLength="7.78" lengthAdjust="spacingAndGlyphs">1.5</text>
<line x1="290.30" y1="518.10" x2="290.30" y2="520.10" stroke="#231f20" stroke-width="0.8"/>
<text x="290.30" y="529.56" font-size="6.27" text-anchor="middle" textLength="7.78" lengthAdjust="spacingAndGlyphs">2.0</text>
<text x="262.00" y="542.01" font-size="9.2" text-anchor="middle" textLength="43.3" lengthAdjust="spacingAndGlyphs">Hazard ratio</text>
<line x1="230.80" y1="419.20" x2="234.00" y2="419.20" stroke="#231f20" stroke-width="0.8"/>
<text x="227.40" y="421.62" font-size="6.72" text-anchor="end" fill="#b03545" textLength="54.69" lengthAdjust="spacingAndGlyphs">Dormancy Signature</text>
<line x1="236.32" y1="419.20" x2="243.86" y2="419.20" stroke="#222" stroke-width="0.8"/>
<line x1="236.32" y1="418.30" x2="236.32" y2="420.10" stroke="#222" stroke-width="0.7"/>
<line x1="243.86" y1="418.30" x2="243.86" y2="420.10" stroke="#222" stroke-width="0.7"/>
<circle cx="239.40" cy="419.20" r="2.2" fill="#951c2c" stroke="#111" stroke-width="0.9"/>
<line x1="230.80" y1="428.53" x2="234.00" y2="428.53" stroke="#231f20" stroke-width="0.8"/>
<text x="227.40" y="430.95" font-size="6.72" text-anchor="end" textLength="21.68" lengthAdjust="spacingAndGlyphs">Albumin</text>
<line x1="257.49" y1="428.53" x2="258.74" y2="428.53" stroke="#222" stroke-width="0.8"/>
<circle cx="258.10" cy="428.53" r="2.2" fill="#44649c" stroke="#111" stroke-width="0.9"/>
<line x1="230.80" y1="437.86" x2="234.00" y2="437.86" stroke="#231f20" stroke-width="0.8"/>
<text x="227.40" y="440.28" font-size="6.72" text-anchor="end" textLength="31.35" lengthAdjust="spacingAndGlyphs">Study Code</text>
<line x1="258.53" y1="437.86" x2="260.12" y2="437.86" stroke="#222" stroke-width="0.8"/>
<circle cx="259.29" cy="437.86" r="2.2" fill="#44649c" stroke="#111" stroke-width="0.9"/>
<line x1="230.80" y1="447.19" x2="234.00" y2="447.19" stroke="#231f20" stroke-width="0.8"/>
<text x="227.40" y="449.61" font-size="6.72" text-anchor="end" textLength="58.36" lengthAdjust="spacingAndGlyphs">mean Myeloma Score</text>
<line x1="260.18" y1="447.19" x2="260.79" y2="447.19" stroke="#222" stroke-width="0.8"/>
<circle cx="260.36" cy="447.19" r="2.2" fill="#44649c" stroke="#111" stroke-width="0.9"/>
<line x1="230.80" y1="456.52" x2="234.00" y2="456.52" stroke="#231f20" stroke-width="0.8"/>
<text x="227.40" y="458.94" font-size="6.72" text-anchor="end" textLength="50.02" lengthAdjust="spacingAndGlyphs">C Reactive Protein</text>
<line x1="259.78" y1="456.52" x2="260.09" y2="456.52" stroke="#222" stroke-width="0.8"/>
<circle cx="260.06" cy="456.52" r="2.2" fill="#44649c" stroke="#111" stroke-width="0.9"/>
<line x1="230.80" y1="465.85" x2="234.00" y2="465.85" stroke="#231f20" stroke-width="0.8"/>
<text x="227.40" y="468.27" font-size="6.72" text-anchor="end" textLength="54.37" lengthAdjust="spacingAndGlyphs">Beta 2 Microglobulin</text>
<line x1="259.48" y1="465.85" x2="260.27" y2="465.85" stroke="#222" stroke-width="0.8"/>
<circle cx="259.75" cy="465.85" r="2.2" fill="#44649c" stroke="#111" stroke-width="0.9"/>
<line x1="230.80" y1="475.18" x2="234.00" y2="475.18" stroke="#231f20" stroke-width="0.8"/>
<text x="227.40" y="477.60" font-size="6.72" text-anchor="end" textLength="59.04" lengthAdjust="spacingAndGlyphs">Age at Randomization</text>
<line x1="259.69" y1="475.18" x2="260.67" y2="475.18" stroke="#222" stroke-width="0.8"/>
<circle cx="260.06" cy="475.18" r="2.2" fill="#44649c" stroke="#111" stroke-width="0.9"/>
<line x1="230.80" y1="484.51" x2="234.00" y2="484.51" stroke="#231f20" stroke-width="0.8"/>
<text x="227.40" y="486.93" font-size="6.72" text-anchor="end" textLength="58.36" lengthAdjust="spacingAndGlyphs">Number of Prior Lines</text>
<line x1="262.41" y1="484.51" x2="267.08" y2="484.51" stroke="#222" stroke-width="0.8"/>
<line x1="262.41" y1="483.61" x2="262.41" y2="485.41" stroke="#222" stroke-width="0.7"/>
<line x1="267.08" y1="483.61" x2="267.08" y2="485.41" stroke="#222" stroke-width="0.7"/>
<circle cx="264.64" cy="484.51" r="2.2" fill="#44649c" stroke="#111" stroke-width="0.9"/>
<line x1="230.80" y1="493.84" x2="234.00" y2="493.84" stroke="#231f20" stroke-width="0.8"/>
<text x="227.40" y="496.26" font-size="6.72" text-anchor="end" textLength="60.8" lengthAdjust="spacingAndGlyphs">Treatment, Bortezomib</text>
<line x1="256.11" y1="493.84" x2="285.50" y2="493.84" stroke="#222" stroke-width="0.8"/>
<line x1="256.11" y1="492.94" x2="256.11" y2="494.74" stroke="#222" stroke-width="0.7"/>
<line x1="285.50" y1="492.94" x2="285.50" y2="494.74" stroke="#222" stroke-width="0.7"/>
<circle cx="268.00" cy="493.84" r="2.2" fill="#44649c" stroke="#111" stroke-width="0.9"/>
<line x1="230.80" y1="503.17" x2="234.00" y2="503.17" stroke="#231f20" stroke-width="0.8"/>
<text x="227.40" y="505.59" font-size="6.72" text-anchor="end" textLength="26.68" lengthAdjust="spacingAndGlyphs">Sex, Male</text>
<line x1="258.56" y1="503.17" x2="285.81" y2="503.17" stroke="#222" stroke-width="0.8"/>
<line x1="258.56" y1="502.27" x2="258.56" y2="504.07" stroke="#222" stroke-width="0.7"/>
<line x1="285.81" y1="502.27" x2="285.81" y2="504.07" stroke="#222" stroke-width="0.7"/>
<circle cx="269.83" cy="503.17" r="2.2" fill="#44649c" stroke="#111" stroke-width="0.9"/>
<line x1="230.80" y1="512.50" x2="234.00" y2="512.50" stroke="#231f20" stroke-width="0.8"/>
<text x="227.40" y="514.52" font-size="6.72" text-anchor="end" textLength="31.01" lengthAdjust="spacingAndGlyphs">Mayo Clinic</text>
<text x="227.40" y="520.92" font-size="6.72" text-anchor="end" textLength="48.02" lengthAdjust="spacingAndGlyphs">Proliferative Index</text>
<line x1="258.50" y1="512.50" x2="289.08" y2="512.50" stroke="#222" stroke-width="0.8"/>
<line x1="258.50" y1="511.60" x2="258.50" y2="513.40" stroke="#222" stroke-width="0.7"/>
<line x1="289.08" y1="511.60" x2="289.08" y2="513.40" stroke="#222" stroke-width="0.7"/>
<circle cx="271.05" cy="512.50" r="2.2" fill="#44649c" stroke="#111" stroke-width="0.9"/>
<text x="157.80" y="466.00" font-size="9.0" text-anchor="middle" textLength="40.5" lengthAdjust="spacingAndGlyphs" transform="rotate(-90 157.80 466.00)">Co-variates</text>
<line x1="309.70" y1="418.50" x2="513.20" y2="418.50" stroke="#231f20" stroke-width="1.4"/>
<line x1="313.00" y1="421.40" x2="509.00" y2="421.40" stroke="#333" stroke-width="0.8"/>
<text x="378.00" y="428.92" font-size="6.72" text-anchor="end" fill="#333333" textLength="27.68" lengthAdjust="spacingAndGlyphs">Co-variate</text>
<text x="404.10" y="428.92" font-size="6.72" text-anchor="middle" fill="#333333" textLength="8.67" lengthAdjust="spacingAndGlyphs">HR</text>
<text x="451.20" y="428.92" font-size="6.72" text-anchor="middle" fill="#333333" textLength="19.68" lengthAdjust="spacingAndGlyphs">95% CI</text>
<text x="507.70" y="428.92" font-size="6.72" text-anchor="end" fill="#333333" textLength="19.91" lengthAdjust="spacingAndGlyphs">P value</text>
<line x1="313.00" y1="431.10" x2="509.00" y2="431.10" stroke="#333" stroke-width="0.8"/>
<text x="378.00" y="438.82" font-size="6.72" text-anchor="end" fill="#b03545" textLength="54.69" lengthAdjust="spacingAndGlyphs">Dormancy Signature</text>
<text x="404.10" y="438.82" font-size="6.72" text-anchor="middle" fill="#333333" textLength="15.02" lengthAdjust="spacingAndGlyphs">0.334</text>
<text x="451.20" y="438.82" font-size="6.72" text-anchor="middle" fill="#333333" textLength="32.03" lengthAdjust="spacingAndGlyphs">0.233-0.480</text>
<text x="507.70" y="438.82" font-size="6.72" text-anchor="end" fill="#333333" textLength="18.52" lengthAdjust="spacingAndGlyphs">&lt;0.001</text>
<text x="378.00" y="448.13" font-size="6.72" text-anchor="end" fill="#333333" textLength="21.68" lengthAdjust="spacingAndGlyphs">Albumin</text>
<text x="404.10" y="448.13" font-size="6.72" text-anchor="middle" fill="#333333" textLength="15.02" lengthAdjust="spacingAndGlyphs">0.946</text>
<text x="451.20" y="448.13" font-size="6.72" text-anchor="middle" fill="#333333" textLength="32.03" lengthAdjust="spacingAndGlyphs">0.926-0.967</text>
<text x="507.70" y="448.13" font-size="6.72" text-anchor="end" fill="#333333" textLength="18.52" lengthAdjust="spacingAndGlyphs">&lt;0.001</text>
<text x="378.00" y="457.44" font-size="6.72" text-anchor="end" fill="#333333" textLength="31.35" lengthAdjust="spacingAndGlyphs">Study Code</text>
<text x="404.10" y="457.44" font-size="6.72" text-anchor="middle" fill="#333333" textLength="15.02" lengthAdjust="spacingAndGlyphs">0.985</text>
<text x="451.20" y="457.44" font-size="6.72" text-anchor="middle" fill="#333333" textLength="32.03" lengthAdjust="spacingAndGlyphs">0.960-1.012</text>
<text x="507.70" y="457.44" font-size="6.72" text-anchor="end" fill="#333333" textLength="15.02" lengthAdjust="spacingAndGlyphs">0.278</text>
<text x="378.00" y="466.75" font-size="6.72" text-anchor="end" fill="#333333" textLength="58.36" lengthAdjust="spacingAndGlyphs">mean Myeloma Score</text>
<text x="404.10" y="466.75" font-size="6.72" text-anchor="middle" fill="#333333" textLength="15.02" lengthAdjust="spacingAndGlyphs">1.020</text>
<text x="451.20" y="466.75" font-size="6.72" text-anchor="middle" fill="#333333" textLength="32.03" lengthAdjust="spacingAndGlyphs">1.014-1.034</text>
<text x="507.70" y="466.75" font-size="6.72" text-anchor="end" fill="#333333" textLength="18.52" lengthAdjust="spacingAndGlyphs">&lt;0.001</text>
<text x="378.00" y="476.06" font-size="6.72" text-anchor="end" fill="#333333" textLength="50.02" lengthAdjust="spacingAndGlyphs">C Reactive Protein</text>
<text x="404.10" y="476.06" font-size="6.72" text-anchor="middle" fill="#333333" textLength="15.02" lengthAdjust="spacingAndGlyphs">1.010</text>
<text x="451.20" y="476.06" font-size="6.72" text-anchor="middle" fill="#333333" textLength="31.58" lengthAdjust="spacingAndGlyphs">1.001-1.011</text>
<text x="507.70" y="476.06" font-size="6.72" text-anchor="end" fill="#333333" textLength="15.02" lengthAdjust="spacingAndGlyphs">0.029</text>
<text x="378.00" y="485.37" font-size="6.72" text-anchor="end" fill="#333333" textLength="54.37" lengthAdjust="spacingAndGlyphs">Beta 2 Microglobulin</text>
<text x="404.10" y="485.37" font-size="6.72" text-anchor="middle" fill="#333333" textLength="15.02" lengthAdjust="spacingAndGlyphs">1.000</text>
<text x="451.20" y="485.37" font-size="6.72" text-anchor="middle" fill="#333333" textLength="32.03" lengthAdjust="spacingAndGlyphs">0.991-1.017</text>
<text x="507.70" y="485.37" font-size="6.72" text-anchor="end" fill="#333333" textLength="15.02" lengthAdjust="spacingAndGlyphs">0.563</text>
<text x="378.00" y="494.68" font-size="6.72" text-anchor="end" fill="#333333" textLength="59.04" lengthAdjust="spacingAndGlyphs">Age at Randomization</text>
<text x="404.10" y="494.68" font-size="6.72" text-anchor="middle" fill="#333333" textLength="15.02" lengthAdjust="spacingAndGlyphs">1.010</text>
<text x="451.20" y="494.68" font-size="6.72" text-anchor="middle" fill="#333333" textLength="32.03" lengthAdjust="spacingAndGlyphs">0.998-1.030</text>
<text x="507.70" y="494.68" font-size="6.72" text-anchor="end" fill="#333333" textLength="15.02" lengthAdjust="spacingAndGlyphs">0.087</text>
<text x="378.00" y="503.99" font-size="6.72" text-anchor="end" fill="#333333" textLength="58.36" lengthAdjust="spacingAndGlyphs">Number of Prior Lines</text>
<text x="404.10" y="503.99" font-size="6.72" text-anchor="middle" fill="#333333" textLength="15.02" lengthAdjust="spacingAndGlyphs">1.160</text>
<text x="451.20" y="503.99" font-size="6.72" text-anchor="middle" fill="#333333" textLength="32.03" lengthAdjust="spacingAndGlyphs">1.087-1.240</text>
<text x="507.70" y="503.99" font-size="6.72" text-anchor="end" fill="#333333" textLength="18.52" lengthAdjust="spacingAndGlyphs">&lt;0.001</text>
<text x="378.00" y="513.30" font-size="6.72" text-anchor="end" fill="#333333" textLength="27.12" lengthAdjust="spacingAndGlyphs">Treatment</text>
<text x="404.10" y="513.30" font-size="6.72" text-anchor="middle" fill="#333333" textLength="15.02" lengthAdjust="spacingAndGlyphs">1.270</text>
<text x="451.20" y="513.30" font-size="6.72" text-anchor="middle" fill="#333333" textLength="32.03" lengthAdjust="spacingAndGlyphs">0.881-1.843</text>
<text x="507.70" y="513.30" font-size="6.72" text-anchor="end" fill="#333333" textLength="15.02" lengthAdjust="spacingAndGlyphs">0.199</text>
<text x="378.00" y="522.61" font-size="6.72" text-anchor="end" fill="#333333" textLength="10.34" lengthAdjust="spacingAndGlyphs">Sex</text>
<text x="404.10" y="522.61" font-size="6.72" text-anchor="middle" fill="#333333" textLength="15.02" lengthAdjust="spacingAndGlyphs">1.330</text>
<text x="451.20" y="522.61" font-size="6.72" text-anchor="middle" fill="#333333" textLength="32.03" lengthAdjust="spacingAndGlyphs">0.961-1.853</text>
<text x="507.70" y="522.61" font-size="6.72" text-anchor="end" fill="#333333" textLength="15.02" lengthAdjust="spacingAndGlyphs">0.085</text>
<text x="378.00" y="532.62" font-size="6.72" text-anchor="end" fill="#333333" textLength="31.01" lengthAdjust="spacingAndGlyphs">Mayo Clinic</text>
<text x="378.00" y="539.02" font-size="6.72" text-anchor="end" fill="#333333" textLength="48.02" lengthAdjust="spacingAndGlyphs">Proliferative Index</text>
<text x="404.10" y="535.42" font-size="6.72" text-anchor="middle" fill="#333333" textLength="15.02" lengthAdjust="spacingAndGlyphs">1.370</text>
<text x="451.20" y="535.42" font-size="6.72" text-anchor="middle" fill="#333333" textLength="32.03" lengthAdjust="spacingAndGlyphs">0.959-1.960</text>
<text x="507.70" y="535.42" font-size="6.72" text-anchor="end" fill="#333333" textLength="15.02" lengthAdjust="spacingAndGlyphs">0.084</text>
<line x1="313.00" y1="540.40" x2="509.00" y2="540.40" stroke="#333" stroke-width="0.8"/>
<line x1="309.70" y1="543.10" x2="513.20" y2="543.10" stroke="#231f20" stroke-width="1.4"/>
<text x="151.00" y="556.00" font-size="10" textLength="6.7" lengthAdjust="spacingAndGlyphs">G</text>
<line x1="234.00" y1="555.60" x2="234.00" y2="659.50" stroke="#231f20" stroke-width="1.2"/>
<line x1="233.40" y1="658.90" x2="287.80" y2="658.90" stroke="#231f20" stroke-width="1.2"/>
<line x1="248.15" y1="557.40" x2="248.15" y2="658.90" stroke="#231f20" stroke-width="1.0" stroke-dasharray="2.6 1.8"/>
<line x1="248.15" y1="658.90" x2="248.15" y2="660.90" stroke="#231f20" stroke-width="0.8"/>
<text x="248.15" y="671.56" font-size="6.27" text-anchor="middle" textLength="3.11" lengthAdjust="spacingAndGlyphs">1</text>
<line x1="264.20" y1="658.90" x2="264.20" y2="660.90" stroke="#231f20" stroke-width="0.8"/>
<text x="264.20" y="671.56" font-size="6.27" text-anchor="middle" textLength="3.11" lengthAdjust="spacingAndGlyphs">2</text>
<line x1="280.25" y1="658.90" x2="280.25" y2="660.90" stroke="#231f20" stroke-width="0.8"/>
<text x="280.25" y="671.56" font-size="6.27" text-anchor="middle" textLength="3.11" lengthAdjust="spacingAndGlyphs">3</text>
<text x="260.60" y="683.81" font-size="9.2" text-anchor="middle" textLength="43.3" lengthAdjust="spacingAndGlyphs">Hazard ratio</text>
<line x1="230.80" y1="560.50" x2="234.00" y2="560.50" stroke="#231f20" stroke-width="0.8"/>
<text x="227.40" y="562.92" font-size="6.72" text-anchor="end" fill="#b03545" textLength="54.69" lengthAdjust="spacingAndGlyphs">Dormancy Signature</text>
<line x1="236.18" y1="560.50" x2="244.76" y2="560.50" stroke="#222" stroke-width="0.8"/>
<line x1="236.18" y1="559.60" x2="236.18" y2="561.40" stroke="#222" stroke-width="0.7"/>
<line x1="244.76" y1="559.60" x2="244.76" y2="561.40" stroke="#222" stroke-width="0.7"/>
<circle cx="239.27" cy="560.50" r="2.2" fill="#951c2c" stroke="#111" stroke-width="0.9"/>
<line x1="230.80" y1="569.90" x2="234.00" y2="569.90" stroke="#231f20" stroke-width="0.8"/>
<text x="227.40" y="572.32" font-size="6.72" text-anchor="end" textLength="21.68" lengthAdjust="spacingAndGlyphs">Albumin</text>
<line x1="247.01" y1="569.90" x2="247.86" y2="569.90" stroke="#222" stroke-width="0.8"/>
<circle cx="247.38" cy="569.90" r="2.2" fill="#44649c" stroke="#111" stroke-width="0.9"/>
<line x1="230.80" y1="579.30" x2="234.00" y2="579.30" stroke="#231f20" stroke-width="0.8"/>
<text x="227.40" y="581.72" font-size="6.72" text-anchor="end" textLength="31.35" lengthAdjust="spacingAndGlyphs">Study Code</text>
<line x1="247.46" y1="579.30" x2="248.90" y2="579.30" stroke="#222" stroke-width="0.8"/>
<circle cx="248.17" cy="579.30" r="2.2" fill="#44649c" stroke="#111" stroke-width="0.9"/>
<line x1="230.80" y1="588.70" x2="234.00" y2="588.70" stroke="#231f20" stroke-width="0.8"/>
<text x="227.40" y="591.12" font-size="6.72" text-anchor="end" textLength="58.36" lengthAdjust="spacingAndGlyphs">mean Myeloma Score</text>
<line x1="248.28" y1="588.70" x2="248.81" y2="588.70" stroke="#222" stroke-width="0.8"/>
<circle cx="248.54" cy="588.70" r="2.2" fill="#44649c" stroke="#111" stroke-width="0.9"/>
<line x1="230.80" y1="598.10" x2="234.00" y2="598.10" stroke="#231f20" stroke-width="0.8"/>
<text x="227.40" y="600.52" font-size="6.72" text-anchor="end" textLength="50.02" lengthAdjust="spacingAndGlyphs">C Reactive Protein</text>
<line x1="248.13" y1="598.10" x2="248.33" y2="598.10" stroke="#222" stroke-width="0.8"/>
<circle cx="248.23" cy="598.10" r="2.2" fill="#44649c" stroke="#111" stroke-width="0.9"/>
<line x1="230.80" y1="607.50" x2="234.00" y2="607.50" stroke="#231f20" stroke-width="0.8"/>
<text x="227.40" y="609.92" font-size="6.72" text-anchor="end" textLength="54.37" lengthAdjust="spacingAndGlyphs">Beta 2 Microglobulin</text>
<line x1="247.89" y1="607.50" x2="248.13" y2="607.50" stroke="#222" stroke-width="0.8"/>
<circle cx="248.13" cy="607.50" r="2.2" fill="#44649c" stroke="#111" stroke-width="0.9"/>
<line x1="230.80" y1="616.90" x2="234.00" y2="616.90" stroke="#231f20" stroke-width="0.8"/>
<text x="227.40" y="619.32" font-size="6.72" text-anchor="end" textLength="59.04" lengthAdjust="spacingAndGlyphs">Age at Randomization</text>
<line x1="248.01" y1="616.90" x2="248.78" y2="616.90" stroke="#222" stroke-width="0.8"/>
<circle cx="248.37" cy="616.90" r="2.2" fill="#44649c" stroke="#111" stroke-width="0.9"/>
<line x1="230.80" y1="626.30" x2="234.00" y2="626.30" stroke="#231f20" stroke-width="0.8"/>
<text x="227.40" y="628.72" font-size="6.72" text-anchor="end" textLength="58.36" lengthAdjust="spacingAndGlyphs">Number of Prior Lines</text>
<line x1="247.49" y1="626.30" x2="251.31" y2="626.30" stroke="#222" stroke-width="0.8"/>
<line x1="247.49" y1="625.40" x2="247.49" y2="627.20" stroke="#222" stroke-width="0.7"/>
<line x1="251.31" y1="625.40" x2="251.31" y2="627.20" stroke="#222" stroke-width="0.7"/>
<circle cx="249.29" cy="626.30" r="2.2" fill="#44649c" stroke="#111" stroke-width="0.9"/>
<line x1="230.80" y1="635.70" x2="234.00" y2="635.70" stroke="#231f20" stroke-width="0.8"/>
<text x="227.40" y="638.12" font-size="6.72" text-anchor="end" textLength="60.8" lengthAdjust="spacingAndGlyphs">Treatment, Bortezomib</text>
<line x1="240.72" y1="635.70" x2="255.93" y2="635.70" stroke="#222" stroke-width="0.8"/>
<line x1="240.72" y1="634.80" x2="240.72" y2="636.60" stroke="#222" stroke-width="0.7"/>
<line x1="255.93" y1="634.80" x2="255.93" y2="636.60" stroke="#222" stroke-width="0.7"/>
<circle cx="246.43" cy="635.70" r="2.2" fill="#44649c" stroke="#111" stroke-width="0.9"/>
<line x1="230.80" y1="645.10" x2="234.00" y2="645.10" stroke="#231f20" stroke-width="0.8"/>
<text x="227.40" y="647.52" font-size="6.72" text-anchor="end" textLength="26.68" lengthAdjust="spacingAndGlyphs">Sex, Male</text>
<line x1="247.19" y1="645.10" x2="268.79" y2="645.10" stroke="#222" stroke-width="0.8"/>
<line x1="247.19" y1="644.20" x2="247.19" y2="646.00" stroke="#222" stroke-width="0.7"/>
<line x1="268.79" y1="644.20" x2="268.79" y2="646.00" stroke="#222" stroke-width="0.7"/>
<circle cx="255.61" cy="645.10" r="2.2" fill="#44649c" stroke="#111" stroke-width="0.9"/>
<line x1="230.80" y1="654.50" x2="234.00" y2="654.50" stroke="#231f20" stroke-width="0.8"/>
<text x="227.40" y="656.52" font-size="6.72" text-anchor="end" textLength="31.01" lengthAdjust="spacingAndGlyphs">Mayo Clinic</text>
<text x="227.40" y="662.92" font-size="6.72" text-anchor="end" textLength="48.02" lengthAdjust="spacingAndGlyphs">Proliferative Index</text>
<line x1="254.99" y1="654.50" x2="285.74" y2="654.50" stroke="#222" stroke-width="0.8"/>
<line x1="254.99" y1="653.60" x2="254.99" y2="655.40" stroke="#222" stroke-width="0.7"/>
<line x1="285.74" y1="653.60" x2="285.74" y2="655.40" stroke="#222" stroke-width="0.7"/>
<circle cx="267.14" cy="654.50" r="2.2" fill="#44649c" stroke="#111" stroke-width="0.9"/>
<text x="157.80" y="608.20" font-size="9.0" text-anchor="middle" textLength="40.5" lengthAdjust="spacingAndGlyphs" transform="rotate(-90 157.80 608.20)">Co-variates</text>
<line x1="309.70" y1="559.50" x2="513.20" y2="559.50" stroke="#231f20" stroke-width="1.4"/>
<line x1="313.00" y1="562.40" x2="509.00" y2="562.40" stroke="#333" stroke-width="0.8"/>
<text x="378.00" y="570.82" font-size="6.72" text-anchor="end" fill="#333333" textLength="50.02" lengthAdjust="spacingAndGlyphs">Cox Adj Co-variate</text>
<text x="404.10" y="570.82" font-size="6.72" text-anchor="middle" fill="#333333" textLength="8.67" lengthAdjust="spacingAndGlyphs">HR</text>
<text x="451.20" y="570.82" font-size="6.72" text-anchor="middle" fill="#333333" textLength="19.68" lengthAdjust="spacingAndGlyphs">95% CI</text>
<text x="507.70" y="570.82" font-size="6.72" text-anchor="end" fill="#333333" textLength="19.91" lengthAdjust="spacingAndGlyphs">P value</text>
<line x1="313.00" y1="573.00" x2="509.00" y2="573.00" stroke="#333" stroke-width="0.8"/>
<text x="378.00" y="579.92" font-size="6.72" text-anchor="end" fill="#b03545" textLength="54.69" lengthAdjust="spacingAndGlyphs">Dormancy Signature</text>
<text x="404.10" y="579.92" font-size="6.72" text-anchor="middle" fill="#333333" textLength="15.02" lengthAdjust="spacingAndGlyphs">0.447</text>
<text x="451.20" y="579.92" font-size="6.72" text-anchor="middle" fill="#333333" textLength="32.03" lengthAdjust="spacingAndGlyphs">0.254-0.789</text>
<text x="507.70" y="579.92" font-size="6.72" text-anchor="end" fill="#333333" textLength="15.02" lengthAdjust="spacingAndGlyphs">0.005</text>
<text x="378.00" y="589.34" font-size="6.72" text-anchor="end" fill="#333333" textLength="21.68" lengthAdjust="spacingAndGlyphs">Albumin</text>
<text x="404.10" y="589.34" font-size="6.72" text-anchor="middle" fill="#333333" textLength="15.02" lengthAdjust="spacingAndGlyphs">0.952</text>
<text x="451.20" y="589.34" font-size="6.72" text-anchor="middle" fill="#333333" textLength="32.03" lengthAdjust="spacingAndGlyphs">0.929-0.982</text>
<text x="507.70" y="589.34" font-size="6.72" text-anchor="end" fill="#333333" textLength="15.02" lengthAdjust="spacingAndGlyphs">0.001</text>
<text x="378.00" y="598.76" font-size="6.72" text-anchor="end" fill="#333333" textLength="31.35" lengthAdjust="spacingAndGlyphs">Study Code</text>
<text x="404.10" y="598.76" font-size="6.72" text-anchor="middle" fill="#333333" textLength="15.02" lengthAdjust="spacingAndGlyphs">1.001</text>
<text x="451.20" y="598.76" font-size="6.72" text-anchor="middle" fill="#333333" textLength="32.03" lengthAdjust="spacingAndGlyphs">0.957-1.047</text>
<text x="507.70" y="598.76" font-size="6.72" text-anchor="end" fill="#333333" textLength="15.02" lengthAdjust="spacingAndGlyphs">0.278</text>
<text x="378.00" y="608.18" font-size="6.72" text-anchor="end" fill="#333333" textLength="58.36" lengthAdjust="spacingAndGlyphs">mean Myeloma Score</text>
<text x="404.10" y="608.18" font-size="6.72" text-anchor="middle" fill="#333333" textLength="15.02" lengthAdjust="spacingAndGlyphs">1.024</text>
<text x="451.20" y="608.18" font-size="6.72" text-anchor="middle" fill="#333333" textLength="32.03" lengthAdjust="spacingAndGlyphs">1.008-1.041</text>
<text x="507.70" y="608.18" font-size="6.72" text-anchor="end" fill="#333333" textLength="15.02" lengthAdjust="spacingAndGlyphs">0.003</text>
<text x="378.00" y="617.60" font-size="6.72" text-anchor="end" fill="#333333" textLength="50.02" lengthAdjust="spacingAndGlyphs">C Reactive Protein</text>
<text x="404.10" y="617.60" font-size="6.72" text-anchor="middle" fill="#333333" textLength="15.02" lengthAdjust="spacingAndGlyphs">1.005</text>
<text x="451.20" y="617.60" font-size="6.72" text-anchor="middle" fill="#333333" textLength="31.58" lengthAdjust="spacingAndGlyphs">0.999-1.011</text>
<text x="507.70" y="617.60" font-size="6.72" text-anchor="end" fill="#333333" textLength="14.57" lengthAdjust="spacingAndGlyphs">0.117</text>
<text x="378.00" y="627.02" font-size="6.72" text-anchor="end" fill="#333333" textLength="54.37" lengthAdjust="spacingAndGlyphs">Beta 2 Microglobulin</text>
<text x="404.10" y="627.02" font-size="6.72" text-anchor="middle" fill="#333333" textLength="15.02" lengthAdjust="spacingAndGlyphs">0.999</text>
<text x="451.20" y="627.02" font-size="6.72" text-anchor="middle" fill="#333333" textLength="32.03" lengthAdjust="spacingAndGlyphs">0.984-0.982</text>
<text x="507.70" y="627.02" font-size="6.72" text-anchor="end" fill="#333333" textLength="15.02" lengthAdjust="spacingAndGlyphs">0.004</text>
<text x="378.00" y="636.44" font-size="6.72" text-anchor="end" fill="#333333" textLength="59.04" lengthAdjust="spacingAndGlyphs">Age at Randomization</text>
<text x="404.10" y="636.44" font-size="6.72" text-anchor="middle" fill="#333333" textLength="15.02" lengthAdjust="spacingAndGlyphs">1.014</text>
<text x="451.20" y="636.44" font-size="6.72" text-anchor="middle" fill="#333333" textLength="32.03" lengthAdjust="spacingAndGlyphs">0.991-1.039</text>
<text x="507.70" y="636.44" font-size="6.72" text-anchor="end" fill="#333333" textLength="15.02" lengthAdjust="spacingAndGlyphs">0.239</text>
<text x="378.00" y="645.86" font-size="6.72" text-anchor="end" fill="#333333" textLength="58.36" lengthAdjust="spacingAndGlyphs">Number of Prior Lines</text>
<text x="404.10" y="645.86" font-size="6.72" text-anchor="middle" fill="#333333" textLength="15.02" lengthAdjust="spacingAndGlyphs">1.071</text>
<text x="451.20" y="645.86" font-size="6.72" text-anchor="middle" fill="#333333" textLength="32.03" lengthAdjust="spacingAndGlyphs">0.959-1.197</text>
<text x="507.70" y="645.86" font-size="6.72" text-anchor="end" fill="#333333" textLength="15.02" lengthAdjust="spacingAndGlyphs">0.225</text>
<text x="378.00" y="655.28" font-size="6.72" text-anchor="end" fill="#333333" textLength="27.12" lengthAdjust="spacingAndGlyphs">Treatment</text>
<text x="404.10" y="655.28" font-size="6.72" text-anchor="middle" fill="#333333" textLength="15.02" lengthAdjust="spacingAndGlyphs">0.893</text>
<text x="451.20" y="655.28" font-size="6.72" text-anchor="middle" fill="#333333" textLength="32.03" lengthAdjust="spacingAndGlyphs">0.537-1.485</text>
<text x="507.70" y="655.28" font-size="6.72" text-anchor="end" fill="#333333" textLength="15.02" lengthAdjust="spacingAndGlyphs">0.663</text>
<text x="378.00" y="664.70" font-size="6.72" text-anchor="end" fill="#333333" textLength="10.34" lengthAdjust="spacingAndGlyphs">Sex</text>
<text x="404.10" y="664.70" font-size="6.72" text-anchor="middle" fill="#333333" textLength="15.02" lengthAdjust="spacingAndGlyphs">1.465</text>
<text x="451.20" y="664.70" font-size="6.72" text-anchor="middle" fill="#333333" textLength="32.03" lengthAdjust="spacingAndGlyphs">0.940-2.286</text>
<text x="507.70" y="664.70" font-size="6.72" text-anchor="end" fill="#333333" textLength="15.02" lengthAdjust="spacingAndGlyphs">0.092</text>
<text x="378.00" y="673.82" font-size="6.72" text-anchor="end" fill="#333333" textLength="31.01" lengthAdjust="spacingAndGlyphs">Mayo Clinic</text>
<text x="378.00" y="681.62" font-size="6.72" text-anchor="end" fill="#333333" textLength="48.02" lengthAdjust="spacingAndGlyphs">Proliferative Index</text>
<text x="404.10" y="677.82" font-size="6.72" text-anchor="middle" fill="#333333" textLength="15.02" lengthAdjust="spacingAndGlyphs">2.183</text>
<text x="451.20" y="677.82" font-size="6.72" text-anchor="middle" fill="#333333" textLength="32.03" lengthAdjust="spacingAndGlyphs">1.426-3.342</text>
<text x="507.70" y="677.82" font-size="6.72" text-anchor="end" fill="#333333" textLength="18.52" lengthAdjust="spacingAndGlyphs">&lt;0.001</text>
<line x1="313.00" y1="683.00" x2="509.00" y2="683.00" stroke="#333" stroke-width="0.8"/>
<line x1="309.70" y1="686.60" x2="513.20" y2="686.60" stroke="#231f20" stroke-width="1.4"/>
</svg></body></html>
